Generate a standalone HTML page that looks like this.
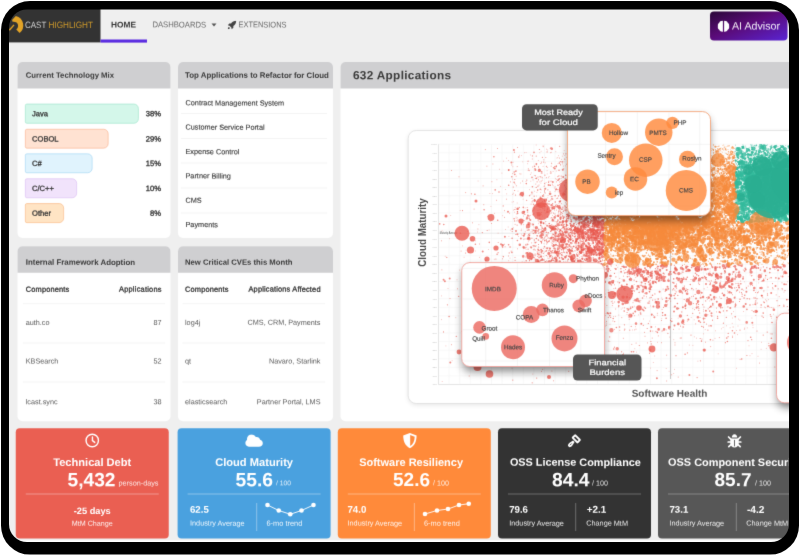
<!DOCTYPE html>
<html lang="en"><head><meta charset="utf-8"><title>CAST Highlight</title>
<style>
html,body{margin:0;padding:0;background:#fff;}
body{width:800px;height:556px;overflow:hidden;position:relative;font-family:"Liberation Sans",sans-serif;}
svg#ui{position:absolute;left:0;top:0;display:block;}
</style></head><body>
<svg id="ui" width="800" height="556" viewBox="0 0 800 556" font-family="Liberation Sans, sans-serif">
<defs>
<clipPath id="scr"><rect x="9" y="9.5" width="780" height="532.5" rx="18"/></clipPath>
<filter id="gb" filterUnits="userSpaceOnUse" x="0" y="0" width="800" height="556" color-interpolation-filters="sRGB"><feConvolveMatrix order="3" kernelMatrix="1 8 1 8 64 8 1 8 1" divisor="100" edgeMode="duplicate" preserveAlpha="false"/></filter>
</defs>
<rect x="1" y="1" width="798" height="553.6" rx="29" fill="#000"/>
<g clip-path="url(#scr)">
<g filter="url(#gb)">
<rect x="0" y="0" width="800" height="556" fill="#fff"/>
<rect x="0" y="0" width="800" height="540.4" fill="#efefef"/>
<rect x="0" y="0" width="100.5" height="42.4" fill="#333"/>
<path d="M12.05 20.1L15.8 15.9A9.85 9.85 0 0 1 19.6 33.1L16.3 29.4A4.3 4.3 0 0 0 16.6 22.6Q14.5 21.3 12.6 21.8Z" fill="#e2a327"/>
<path d="M9.3 30.2L14 24.9" stroke="#e2a327" stroke-width="1.4"/>
<rect x="100.5" y="39.5" width="46.5" height="3.1" fill="#5a2be0"/>
<path d="M211.5 23.6h5l-2.5 3z" fill="#555"/>
<svg x="227.5" y="20.5" width="9" height="9" viewBox="0 0 16 16"><path d="M15.5 0.5c-4 0-7 1.6-9.2 5H3.2L0.6 8.6l2.9 0.6 3.3 3.3 0.6 2.9 3-2.6V9.7c3.4-2.2 5.1-5.2 5.1-9.2zM2.5 11.5c-1.2 0.5-1.800 1.900-2 4 2.100-0.200 3.500-0.800 4-2z" fill="#444"/></svg>
<defs><linearGradient id="ai" x1="0" y1="0" x2="1" y2="1"><stop offset="0" stop-color="#2a0838"/><stop offset="0.45" stop-color="#5a0b78"/><stop offset="1" stop-color="#5a24d4"/></linearGradient></defs>
<rect x="710" y="11.5" width="77.5" height="29" rx="4" fill="url(#ai)"/>
<svg x="717.5" y="20.3" width="12" height="12" viewBox="0 0 12 12"><path d="M5.4 0.6C3.6 0.4 2.2 1.2 1.6 2.6 0.5 3.2 0 4.5 0.3 5.8-0.2 7.2 0.4 8.8 1.7 9.5 2.3 10.9 3.8 11.6 5.4 11.4z" fill="#fff"/><path d="M6.6 0.6C8.4 0.4 9.8 1.2 10.4 2.6 11.5 3.2 12 4.5 11.7 5.8 12.2 7.2 11.6 8.800 10.300 9.500 9.700 10.900 8.200 11.600 6.600 11.400z" fill="#fff"/></svg>
<rect x="17.5" y="62" width="153" height="176" rx="5" fill="#fff"/>
<path d="M22.5 62H165.5A5 5 0 0 1 170.5 67V88.6A0 0 0 0 1 170.5 88.6H17.5A0 0 0 0 1 17.5 88.6V67A5 5 0 0 1 22.5 62Z" fill="#cfcfd1"/>
<rect x="178" y="62" width="155" height="176" rx="5" fill="#fff"/>
<path d="M183 62H328A5 5 0 0 1 333 67V88.6A0 0 0 0 1 333 88.6H178A0 0 0 0 1 178 88.6V67A5 5 0 0 1 183 62Z" fill="#cfcfd1"/>
<rect x="17.5" y="246.25" width="153" height="175" rx="5" fill="#fff"/>
<path d="M22.5 246.25H165.5A5 5 0 0 1 170.5 251.25V272.85A0 0 0 0 1 170.5 272.85H17.5A0 0 0 0 1 17.5 272.85V251.25A5 5 0 0 1 22.5 246.25Z" fill="#cfcfd1"/>
<rect x="178" y="246.25" width="155" height="175" rx="5" fill="#fff"/>
<path d="M183 246.25H328A5 5 0 0 1 333 251.25V272.85A0 0 0 0 1 333 272.85H178A0 0 0 0 1 178 272.85V251.25A5 5 0 0 1 183 246.25Z" fill="#cfcfd1"/>
<rect x="340.5" y="62" width="459.5" height="359.25" rx="5" fill="#fff"/>
<path d="M345.5 62H795A5 5 0 0 1 800 67V88.6A0 0 0 0 1 800 88.6H340.5A0 0 0 0 1 340.5 88.6V67A5 5 0 0 1 345.5 62Z" fill="#cfcfd1"/>
<path d="M26.85 104.05H133.9A4.5 4.5 0 0 1 138.4 108.55V118.75A4.5 4.5 0 0 1 133.9 123.25H26.85A1.5 1.5 0 0 1 25.35 121.75V105.55A1.5 1.5 0 0 1 26.85 104.05Z" fill="#d4f7ea" stroke="#a5e6cf" stroke-width="0.7"/>
<path d="M26.85 129.25H103.65A4.5 4.5 0 0 1 108.15 133.75V143.65A4.5 4.5 0 0 1 103.65 148.15H26.85A1.5 1.5 0 0 1 25.35 146.65V130.75A1.5 1.5 0 0 1 26.85 129.25Z" fill="#ffe2d2" stroke="#f9b896" stroke-width="0.7"/>
<path d="M26.85 153.85H87.65A4.5 4.5 0 0 1 92.15 158.35V168.25A4.5 4.5 0 0 1 87.65 172.75H26.85A1.5 1.5 0 0 1 25.35 171.25V155.35A1.5 1.5 0 0 1 26.85 153.85Z" fill="#e0f3fd" stroke="#a9d8f3" stroke-width="0.7"/>
<path d="M26.85 178.75H72.15A4.5 4.5 0 0 1 76.65 183.25V193.25A4.5 4.5 0 0 1 72.15 197.75H26.85A1.5 1.5 0 0 1 25.35 196.25V180.25A1.5 1.5 0 0 1 26.85 178.75Z" fill="#f1e3fb" stroke="#dcc2f3" stroke-width="0.7"/>
<path d="M26.85 203.55H59.15A4.5 4.5 0 0 1 63.65 208.05V218.15A4.5 4.5 0 0 1 59.15 222.65H26.85A1.5 1.5 0 0 1 25.35 221.15V205.05A1.5 1.5 0 0 1 26.85 203.55Z" fill="#ffe4c4" stroke="#f9bd8c" stroke-width="0.7"/>
<rect x="181" y="113.1" width="146" height="0.8" fill="#f1f1f1"/>
<rect x="181" y="138.1" width="146" height="0.8" fill="#f1f1f1"/>
<rect x="181" y="162.6" width="146" height="0.8" fill="#f1f1f1"/>
<rect x="181" y="187.6" width="146" height="0.8" fill="#f1f1f1"/>
<rect x="181" y="212.6" width="146" height="0.8" fill="#f1f1f1"/>
<rect x="23" y="303.35" width="142" height="0.8" fill="#f1f1f1"/>
<rect x="23" y="342.6" width="142" height="0.8" fill="#f1f1f1"/>
<rect x="23" y="381.6" width="142" height="0.8" fill="#f1f1f1"/>
<rect x="182.5" y="303.35" width="142.5" height="0.8" fill="#f1f1f1"/>
<rect x="182.5" y="342.6" width="142.5" height="0.8" fill="#f1f1f1"/>
<rect x="182.5" y="381.6" width="142.5" height="0.8" fill="#f1f1f1"/>
<rect x="15.75" y="428.3" width="153" height="110.1" rx="4" fill="#ea5f52"/>
<svg x="84.75" y="433" width="15" height="15" viewBox="0 0 15 15"><circle cx="7.500" cy="7.500" r="6.200" fill="none" stroke="#fff" stroke-width="1.400"/><path d="M7.700 4V7.600L10 9.400" fill="none" stroke="#fff" stroke-width="1.400" stroke-linecap="round"/></svg>
<rect x="25.75" y="493.6" width="133" height="0.8" fill="#fff" fill-opacity="0.45"/>
<rect x="177.6" y="428.3" width="153" height="110.1" rx="4" fill="#4aa1df"/>
<svg x="245.1" y="434.2" width="18" height="13" viewBox="0 0 18 13"><path transform="translate(18 0) scale(-1 1)" d="M4.3 12.500C1.900 12.500 0.300 11 0.300 9 0.300 7.300 1.400 6 3 5.600 3.300 3.900 4.700 2.700 6.400 2.700 6.700 2.700 7 2.750 7.300 2.850 8.100 1.300 9.700 0.300 11.500 0.300 14.100 0.300 16.100 2.300 16.100 4.900 16.100 5.200 16.070 5.500 16.020 5.800 17.100 6.400 17.800 7.600 17.800 8.900 17.800 10.900 16.200 12.500 14.200 12.500z" fill="#fff"/></svg>
<rect x="187.6" y="493.6" width="133" height="0.8" fill="#fff" fill-opacity="0.45"/>
<rect x="256.35" y="503" width="0.8" height="28" fill="#fff" fill-opacity="0.45"/>
<polyline points="267.5,505 278.75,510.5 290.25,514.25 301.5,510.5 313.5,505" fill="none" stroke="#fff" stroke-width="0.9"/><g fill="#fff"><circle cx="267.5" cy="505" r="2.3"/><circle cx="278.75" cy="510.5" r="2.3"/><circle cx="290.25" cy="514.25" r="2.3"/><circle cx="301.5" cy="510.5" r="2.3"/><circle cx="313.5" cy="505" r="2.3"/></g>
<rect x="337.8" y="428.3" width="153" height="110.1" rx="4" fill="#ff8a3a"/>
<svg x="402.4" y="432.7" width="15" height="16" viewBox="0 0 15 16"><path d="M7.5 0.300L14.200 2.700C14.200 8.500 12.200 13 7.500 15.600 2.800 13 0.800 8.500 0.800 2.700z" fill="#fff"/><path d="M7.800 2.400L12.300 4C12.200 8.200 10.800 11.400 7.800 13.400z" fill="#ff8a3a"/></svg>
<rect x="347.8" y="493.6" width="133" height="0.8" fill="#fff" fill-opacity="0.45"/>
<rect x="413.9" y="503" width="0.8" height="28" fill="#fff" fill-opacity="0.45"/>
<polyline points="425,514 437,510.5 448,509 459,505 468.75,503.75" fill="none" stroke="#fff" stroke-width="0.9"/><g fill="#fff"><circle cx="425" cy="514" r="2.3"/><circle cx="437" cy="510.5" r="2.3"/><circle cx="448" cy="509" r="2.3"/><circle cx="459" cy="505" r="2.3"/><circle cx="468.75" cy="503.75" r="2.3"/></g>
<rect x="498" y="428.3" width="153" height="110.1" rx="4" fill="#333333"/>
<svg x="567" y="433.5" width="15" height="15" viewBox="0 0 15 15"><g transform="translate(9.3 5.300) rotate(45)"><rect x="-3.400" y="-1.800" width="6.800" height="3.600" rx="0.300" fill="none" stroke="#fff" stroke-width="1.900"/><path d="M-1.100 3.500H1.100L1.900 7.500C2.100 9.500 1.600 11 0 11C-1.600 11 -2.100 9.500 -1.900 7.500Z" fill="#fff"/><path d="M0 7V8.600" stroke="#333333" stroke-width="0.800" stroke-linecap="round"/></g></svg>
<rect x="508" y="493.6" width="133" height="0.8" fill="#fff" fill-opacity="0.35"/>
<rect x="575.35" y="503" width="0.8" height="28" fill="#fff" fill-opacity="0.35"/>
<rect x="658" y="428.3" width="153" height="110.1" rx="4" fill="#575757"/>
<svg x="727" y="433.1" width="15" height="15" viewBox="0 0 15 15"><g fill="none" stroke="#fff" stroke-width="1.700" stroke-linecap="round"><path d="M1.600 3.900L4 6.200M13.400 3.900L11 6.200M1.200 8.900H3.500M13.800 8.900H11.500M1.800 13.600L4 11.600M13.200 13.600L11 11.600"/></g><path d="M4.800 4.300C4.800 2.400 5.900 1.100 7.500 1.100 9.100 1.100 10.200 2.400 10.200 4.300z" fill="#fff"/><path d="M3.300 5.300H11.700V10.200C11.700 12.600 9.900 14.400 7.500 14.400 5.100 14.400 3.300 12.600 3.300 10.200z" fill="#fff"/><path d="M7.500 6.800V13.200" stroke="#575757" stroke-width="0.900"/></svg>
<rect x="668" y="493.6" width="133" height="0.8" fill="#fff" fill-opacity="0.35"/>
<rect x="735.85" y="503" width="0.8" height="28" fill="#fff" fill-opacity="0.35"/>
<g id="chart">
<defs><filter id="sh" x="-20%" y="-20%" width="140%" height="150%"><feGaussianBlur stdDeviation="4"/></filter><filter id="sh2" x="-10%" y="-10%" width="120%" height="120%"><feGaussianBlur stdDeviation="2.5"/></filter><clipPath id="pc"><rect x="438.5" y="144" width="362" height="240.5"/></clipPath></defs>
<rect x="408.2" y="130.5" width="420" height="273" rx="8" fill="#000" opacity="0.10" filter="url(#sh2)" transform="translate(0,1.5)"/>
<rect x="408.2" y="130.5" width="420" height="273" rx="8" fill="#fff" stroke="#dedede" stroke-width="0.8"/>
<path d="M438.5 144.25V384.5M449.1 144.25V384.5M459.7 144.25V384.5M470.3 144.25V384.5M480.9 144.25V384.5M491.5 144.25V384.5M502.1 144.25V384.5M512.7 144.25V384.5M523.3 144.25V384.5M533.9 144.25V384.5M544.5 144.25V384.5M555.1 144.25V384.5M565.7 144.25V384.5M576.3 144.25V384.5M586.9 144.25V384.5M597.5 144.25V384.5M608.1 144.25V384.5M618.7 144.25V384.5M629.3 144.25V384.5M639.9 144.25V384.5M650.5 144.25V384.5M661.1 144.25V384.5M671.7 144.25V384.5M682.3 144.25V384.5M692.9 144.25V384.5M703.5 144.25V384.5M714.1 144.25V384.5M724.7 144.25V384.5M735.3 144.25V384.5M745.9 144.25V384.5M756.5 144.25V384.5M767.1 144.25V384.5M777.7 144.25V384.5M788.3 144.25V384.5M798.9 144.25V384.5M438.5 144.2H800M438.5 152.8H800M438.5 161.4H800M438.5 170.0H800M438.5 178.6H800M438.5 187.2H800M438.5 195.7H800M438.5 204.3H800M438.5 212.9H800M438.5 221.5H800M438.5 230.1H800M438.5 238.6H800M438.5 247.2H800M438.5 255.8H800M438.5 264.4H800M438.5 273.0H800M438.5 281.5H800M438.5 290.1H800M438.5 298.7H800M438.5 307.3H800M438.5 315.9H800M438.5 324.4H800M438.5 333.0H800M438.5 341.6H800M438.5 350.2H800M438.5 358.8H800M438.5 367.3H800M438.5 375.9H800M438.5 384.5H800" stroke="#f4f4f4" stroke-width="0.6" fill="none"/>
<path d="M438.5 144.25V384.5H800" stroke="#dcdcdc" stroke-width="0.7" fill="none"/>
<g font-size="2.300" fill="#c0c0c0" text-anchor="end"><text x="437" y="145.2">100%</text><text x="437" y="153.7">97%</text><text x="437" y="162.3">94%</text><text x="437" y="170.9">91%</text><text x="437" y="179.5">88%</text><text x="437" y="188.1">85%</text><text x="437" y="196.6">82%</text><text x="437" y="205.2">79%</text><text x="437" y="213.8">76%</text><text x="437" y="222.4">73%</text><text x="437" y="231.0">70%</text><text x="437" y="239.5">67%</text><text x="437" y="248.1">64%</text><text x="437" y="256.7">61%</text><text x="437" y="265.3">58%</text><text x="437" y="273.9">55%</text><text x="437" y="282.4">52%</text><text x="437" y="291.0">49%</text><text x="437" y="299.6">46%</text><text x="437" y="308.2">43%</text><text x="437" y="316.8">40%</text><text x="437" y="325.3">37%</text><text x="437" y="333.9">34%</text><text x="437" y="342.5">31%</text><text x="437" y="351.1">28%</text><text x="437" y="359.6">25%</text><text x="437" y="368.2">22%</text><text x="437" y="376.8">19%</text><text x="437" y="385.4">16%</text></g>
<path d="M438.500 233.200H800" stroke="#d8d8d8" stroke-width="0.600"/>
<path d="M670.500 144.200V379" stroke="#9a9a9a" stroke-width="0.550"/>
<text x="439.800" y="234.300" font-size="3" fill="#666" textLength="17.500" lengthAdjust="spacingAndGlyphs">Maturity Average</text>
<g clip-path="url(#pc)" fill="none" stroke-linecap="round">
<path d="M780.3 178.5h0M757.3 181.6h0M763.2 152.9h0M767.4 153.3h0M777.2 163.3h0M781.2 146.7h0M782.9 160.9h0M745.0 180.2h0M769.4 178.4h0M780.7 169.5h0M761.6 152.6h0M776.6 146.5h0M742.8 172.1h0M774.0 156.9h0M736.2 168.1h0M791.5 212.8h0M787.5 204.9h0M783.8 161.8h0M786.5 149.5h0M748.4 168.0h0M788.6 154.7h0M776.2 201.4h0M773.5 171.7h0M751.3 155.0h0M794.4 172.4h0M770.1 212.8h0M748.0 184.4h0M748.0 151.2h0M751.1 174.3h0M783.6 148.3h0M783.3 210.3h0M777.3 198.1h0M789.1 219.5h0M737.2 162.7h0M770.8 162.8h0M779.1 164.5h0M737.5 148.5h0M736.5 175.0h0M785.0 179.5h0M745.8 162.3h0M762.5 155.0h0M754.9 181.1h0M766.3 175.1h0M772.8 161.0h0M799.1 148.7h0M760.5 161.8h0M745.6 182.4h0M744.3 168.9h0M774.5 186.7h0M775.4 149.6h0M742.7 159.1h0M777.0 153.6h0M757.8 158.9h0M760.5 163.9h0M792.3 168.6h0M751.9 148.5h0M769.6 152.3h0M772.1 163.7h0M799.6 178.9h0M776.0 190.0h0M776.1 165.7h0M742.9 144.8h0M735.6 157.7h0M779.4 175.0h0M789.9 180.4h0M790.0 174.2h0M798.3 178.5h0M783.9 159.5h0M738.6 157.9h0M776.2 165.6h0M787.1 188.8h0M738.2 150.6h0M754.7 160.3h0M778.1 158.5h0M759.0 151.7h0M745.9 189.6h0M739.9 166.1h0M772.8 182.8h0M785.1 182.4h0M779.9 202.1h0M741.5 168.5h0M741.0 203.1h0M769.2 188.5h0M765.1 164.0h0M751.0 181.0h0M781.6 172.2h0M782.9 180.2h0M738.5 150.8h0M768.9 180.7h0M749.5 169.2h0M745.7 147.2h0" stroke="#33ba9c" stroke-width="0.60" stroke-opacity="0.8"/>
<path d="M747.5 153.4h0M762.4 148.7h0M748.5 158.7h0M753.5 177.3h0M767.5 155.9h0M770.9 185.6h0M767.7 161.5h0M771.7 166.3h0M771.6 167.1h0M761.4 187.0h0M759.5 199.1h0M737.2 208.7h0M779.0 170.2h0M782.9 187.1h0M737.3 167.8h0M751.1 177.1h0M789.3 154.4h0M767.6 221.3h0M747.9 155.2h0M782.9 185.0h0M767.2 155.4h0M793.4 185.6h0M778.8 160.2h0M766.6 153.7h0M758.4 176.5h0M763.9 154.3h0M760.9 192.9h0M759.1 174.3h0M784.9 158.6h0M761.5 170.5h0M784.7 162.4h0M791.1 176.1h0M773.8 152.8h0M773.1 188.5h0M764.4 183.3h0M777.9 146.4h0M745.1 196.0h0M749.3 161.5h0M797.4 152.2h0M767.4 174.3h0M749.5 191.5h0M784.1 165.1h0M764.0 164.2h0M789.5 152.6h0M735.2 172.0h0M763.6 169.7h0M757.9 200.8h0M775.7 149.6h0M754.5 155.9h0M749.8 181.2h0M766.2 168.8h0M737.2 191.0h0M785.8 157.1h0M735.0 192.4h0M756.5 175.7h0M752.6 152.3h0M779.1 184.5h0M761.4 182.7h0M784.2 158.3h0M758.7 167.2h0M792.1 183.5h0M789.5 188.6h0M764.1 206.8h0M774.3 169.1h0M741.2 185.9h0M771.7 156.6h0M771.1 174.3h0M775.8 157.3h0M767.5 202.5h0M786.7 215.5h0M745.0 166.3h0M757.3 172.0h0M774.2 212.2h0M759.2 156.2h0M756.0 180.0h0M746.5 171.1h0M737.5 177.9h0M756.1 177.9h0M774.5 172.7h0M795.0 175.2h0M739.9 172.2h0M761.1 190.8h0M753.7 151.3h0M781.7 180.3h0M773.7 161.6h0M742.1 154.9h0M777.7 185.9h0M798.8 165.0h0M737.0 174.3h0M750.5 165.9h0M779.2 163.3h0M736.2 199.8h0M749.3 207.1h0M735.7 198.9h0M758.4 151.9h0M774.0 163.0h0M735.1 209.6h0M783.5 156.4h0M785.1 163.9h0M742.7 175.4h0M765.1 163.8h0M779.3 208.6h0M786.7 151.7h0M770.5 172.1h0M779.9 175.3h0M787.1 174.8h0M790.3 173.2h0M781.5 194.0h0M775.9 173.7h0M737.1 201.0h0M745.6 195.9h0M774.4 155.8h0M779.5 154.1h0M771.4 163.7h0M752.9 176.5h0M771.7 172.3h0M773.0 153.2h0M794.6 172.7h0M769.0 173.7h0M770.1 181.4h0M778.6 166.5h0M780.8 175.0h0M757.3 206.5h0M780.4 170.7h0M762.2 177.1h0M764.0 196.1h0M741.8 146.5h0M779.3 195.8h0M791.5 170.6h0M767.8 170.0h0M780.3 183.5h0M780.2 191.5h0M749.1 216.8h0M753.3 186.6h0M753.8 169.1h0M790.4 166.6h0M760.9 214.4h0M779.8 158.9h0M756.0 166.7h0M742.2 178.4h0M741.1 148.7h0M772.0 214.9h0M750.3 164.9h0M764.8 162.3h0M738.8 182.1h0M754.8 157.1h0M750.2 166.4h0M789.5 197.1h0M752.2 176.9h0M753.5 158.3h0M770.2 191.0h0M763.6 184.7h0M743.3 191.3h0M757.8 178.7h0M761.3 169.7h0M772.7 186.3h0M743.8 176.0h0M738.0 178.8h0M774.7 175.3h0M743.5 158.1h0M771.7 175.4h0M742.1 204.4h0M795.6 154.6h0M765.1 170.1h0M775.2 197.1h0M758.7 194.0h0M780.6 168.5h0M747.0 152.8h0M769.3 153.5h0M740.1 178.0h0M778.2 174.4h0M742.2 163.5h0M735.2 211.2h0M774.9 155.6h0M766.3 195.8h0M762.9 190.4h0M758.2 188.2h0M782.0 170.9h0M788.3 151.4h0M794.8 185.4h0M785.6 154.3h0M782.0 208.6h0M775.7 180.3h0M744.3 163.4h0M789.6 163.4h0M743.6 163.9h0M762.0 177.0h0M749.8 216.8h0M737.3 173.6h0M743.5 165.0h0M741.1 220.2h0M771.8 164.1h0M756.6 220.9h0M779.8 174.2h0M743.3 184.1h0M766.7 159.7h0M745.6 160.8h0M786.4 174.5h0M791.2 177.0h0M756.8 192.9h0M758.3 146.9h0M763.1 172.6h0M786.0 192.3h0M770.6 167.8h0M754.8 147.7h0M745.8 185.3h0M758.5 173.3h0M788.7 179.9h0M768.8 185.8h0M763.8 192.8h0M768.3 150.6h0M771.1 168.7h0M755.4 146.0h0M797.8 170.9h0M765.2 156.2h0M752.7 181.6h0M738.2 167.9h0M761.9 174.2h0M789.4 168.6h0M753.9 176.5h0" stroke="#33ba9c" stroke-width="0.90" stroke-opacity="0.8"/>
<path d="M727.6 192.5h0M660.1 167.4h0M725.2 189.9h0M726.4 154.1h0M717.6 173.1h0M796.1 263.5h0M609.4 232.3h0M622.8 220.2h0M725.9 159.0h0M627.2 161.7h0M665.5 238.6h0M724.7 195.3h0M788.1 247.1h0M710.6 161.5h0M639.3 213.7h0M705.3 255.7h0M721.7 161.2h0M674.0 177.3h0M730.8 214.8h0M622.3 195.9h0M623.9 197.4h0M624.0 183.7h0M617.5 186.2h0M671.8 256.6h0M613.5 250.3h0M725.2 200.0h0M638.1 213.3h0M665.5 176.3h0M693.2 219.7h0M703.4 264.2h0M734.6 175.9h0M697.3 231.4h0M690.5 249.1h0M659.0 204.8h0M611.1 185.0h0M603.6 228.9h0M662.6 176.3h0M704.7 191.3h0M611.8 162.8h0M616.9 244.5h0M626.2 209.3h0M700.5 262.8h0M661.2 210.2h0M628.6 221.5h0M717.6 199.9h0M614.8 222.8h0M713.6 220.6h0M670.9 211.2h0M723.5 169.0h0M611.5 171.0h0M698.9 212.1h0M697.2 216.3h0M687.6 190.8h0M697.9 242.7h0M711.3 188.8h0M641.5 193.7h0M647.9 187.1h0M653.4 178.5h0M724.0 160.1h0M623.9 231.1h0M734.6 156.1h0M646.7 228.3h0M724.5 200.6h0M628.3 174.4h0M608.1 164.2h0M730.9 185.4h0M712.2 175.0h0M655.8 206.0h0M780.9 240.6h0M616.4 213.1h0M700.6 183.8h0M716.4 230.0h0M744.6 224.6h0M719.4 217.7h0M678.0 229.2h0M608.6 196.3h0M660.1 262.0h0M649.3 148.4h0M788.6 227.0h0M729.8 172.1h0M697.9 179.1h0M622.3 211.9h0M741.0 262.8h0M637.5 182.9h0M627.5 242.5h0M706.0 165.1h0M613.1 262.0h0M656.8 159.1h0M612.8 221.8h0M713.4 191.8h0M675.1 190.9h0M606.7 228.8h0M618.6 209.3h0M670.8 198.3h0M621.8 225.3h0M722.7 169.8h0M619.1 245.5h0M611.9 222.6h0M722.3 201.4h0M615.9 195.3h0M675.0 183.7h0M734.0 185.6h0M674.8 183.3h0M677.9 215.0h0M606.0 226.3h0M608.9 220.6h0M660.8 207.3h0M613.4 214.0h0M704.7 172.5h0M657.5 244.0h0M630.8 212.2h0M635.7 218.8h0M644.9 193.0h0M626.1 183.9h0M698.1 153.2h0M610.3 223.8h0M713.3 192.0h0M725.3 182.3h0M617.0 228.0h0M717.4 179.8h0M708.4 199.6h0M648.9 169.8h0M636.0 261.5h0M728.0 149.7h0M648.0 188.5h0M665.7 180.2h0M607.3 245.5h0M648.7 171.8h0M605.6 225.3h0M734.2 188.8h0M667.2 202.9h0M688.5 190.2h0M752.8 232.0h0M673.1 183.9h0M710.9 209.2h0M671.0 200.9h0M690.9 165.8h0M620.6 159.8h0M734.6 155.3h0M627.8 198.2h0M656.5 156.1h0M614.7 258.3h0M621.3 210.7h0M703.3 213.8h0M695.2 192.0h0M652.8 221.2h0M662.7 177.4h0M616.9 188.5h0M654.3 242.6h0M726.8 167.6h0M634.1 222.7h0M612.4 245.7h0M621.7 250.4h0M676.3 194.6h0M618.7 236.3h0M769.8 226.2h0M722.3 179.3h0M672.8 195.8h0M716.0 182.7h0M709.2 188.1h0M719.9 255.4h0M672.6 159.1h0M729.9 237.4h0M648.0 199.6h0M607.4 218.9h0M683.0 188.9h0M712.6 184.2h0M715.6 208.0h0M639.1 199.4h0M632.4 234.9h0M685.6 242.9h0M704.2 204.3h0M718.1 149.0h0M657.8 205.5h0M651.8 251.9h0M644.6 264.5h0M626.7 180.3h0M634.9 220.3h0M700.8 187.0h0M723.4 187.1h0M617.5 186.4h0M623.1 200.5h0M610.3 222.9h0M666.0 195.0h0M701.6 250.2h0M756.1 248.0h0M730.6 175.4h0M747.7 242.5h0M616.3 196.9h0M716.2 177.2h0M756.4 242.5h0M706.3 181.0h0M633.3 162.7h0M612.3 211.3h0M643.9 186.1h0M619.3 212.3h0M729.6 172.7h0M638.6 188.4h0M734.7 168.5h0M715.4 173.7h0M728.6 172.4h0M614.2 239.9h0M690.2 191.5h0M628.8 215.6h0M760.8 235.9h0M744.8 259.1h0M646.1 257.7h0M607.6 243.0h0M708.6 155.2h0M672.2 175.7h0M604.4 240.4h0M618.4 226.9h0M685.0 229.9h0M614.7 175.0h0M666.8 184.1h0M730.3 170.0h0M682.5 208.8h0M729.2 195.4h0M729.1 186.2h0M742.0 223.8h0" stroke="#f68a3c" stroke-width="0.90" stroke-opacity="0.74"/>
<path d="M788.4 202.1h0M777.4 169.4h0M758.5 172.8h0M793.3 194.8h0M771.2 208.9h0M778.7 190.0h0M763.5 163.6h0M791.0 175.9h0M735.7 215.6h0M788.7 183.4h0M751.4 184.3h0M736.9 216.5h0M757.1 192.6h0M797.0 198.2h0M777.2 150.0h0M786.4 171.6h0M748.9 172.0h0M764.1 186.5h0M781.9 192.1h0M766.8 166.4h0M770.3 164.1h0M762.4 171.0h0M774.0 192.6h0M791.4 183.4h0M750.0 170.6h0M763.6 169.5h0M766.5 182.6h0M783.5 175.2h0M745.3 217.2h0M765.1 177.4h0M741.6 219.0h0M752.4 217.1h0M770.3 218.0h0M741.5 205.5h0M754.2 161.4h0M764.3 173.2h0M747.5 197.5h0M781.5 198.2h0M770.4 187.4h0M780.7 204.0h0M760.4 172.9h0M748.6 213.8h0M737.0 182.2h0M761.4 210.6h0M768.0 201.6h0M776.2 206.1h0M746.9 215.6h0M762.4 179.3h0M796.8 213.3h0M776.0 170.6h0M758.6 174.5h0M779.5 177.0h0M789.1 184.3h0M783.6 186.5h0M756.0 220.8h0M757.2 197.2h0M766.6 193.1h0M774.6 190.6h0M783.0 188.5h0M763.0 203.8h0M767.1 211.5h0M786.9 182.8h0M778.8 178.8h0M786.1 217.8h0M787.2 169.9h0M752.5 189.6h0M740.6 183.9h0M762.9 202.3h0M741.9 204.8h0M777.8 176.0h0M786.7 202.1h0M775.7 175.0h0M770.5 165.9h0M769.4 193.0h0M761.1 203.5h0M783.3 162.2h0M749.5 176.3h0M775.5 212.9h0M768.3 215.8h0M767.2 175.5h0M778.5 149.2h0M767.0 204.6h0M786.3 175.2h0M789.2 178.5h0M771.0 202.8h0M786.3 175.2h0M775.7 174.0h0M774.4 191.2h0M766.4 168.8h0M797.7 184.3h0M773.4 192.2h0M788.3 195.5h0M798.6 177.9h0M792.6 180.3h0M748.0 179.8h0M753.0 165.4h0M741.8 178.7h0M744.1 163.9h0M770.5 174.6h0M762.1 173.7h0M762.0 192.3h0M771.5 187.4h0M752.7 180.9h0M749.0 195.9h0M752.5 166.0h0M764.1 184.5h0M756.9 182.6h0M798.2 174.1h0M765.6 170.4h0M790.8 189.6h0M762.0 161.4h0M794.3 189.9h0M767.7 198.6h0M747.1 187.2h0M773.4 153.0h0M751.2 188.9h0M767.3 161.5h0M735.0 193.5h0M790.4 210.1h0M786.8 160.8h0M787.3 183.4h0M780.3 156.0h0M775.2 203.5h0M758.0 194.1h0M773.8 189.8h0M785.3 189.1h0M759.1 178.9h0M753.3 180.9h0M735.8 172.3h0M744.2 201.9h0M774.6 147.4h0M775.2 184.6h0M772.3 186.1h0M773.0 197.0h0M737.2 168.4h0M758.6 192.9h0M787.0 175.6h0M779.8 173.4h0M761.1 185.9h0M779.5 198.9h0M762.0 202.0h0M786.5 174.2h0M778.6 175.9h0M795.7 203.8h0M793.0 217.2h0M799.0 181.6h0M757.0 201.9h0M767.6 203.4h0M752.0 152.3h0M782.2 181.0h0M735.8 180.6h0M771.4 168.3h0M778.4 180.8h0M744.4 173.6h0M798.7 185.5h0M788.4 189.0h0M793.5 183.8h0M743.3 166.7h0M739.4 164.3h0M786.1 178.4h0M778.8 191.3h0M780.5 199.9h0M745.0 179.1h0M752.2 181.1h0M769.8 170.9h0M748.1 168.0h0M780.3 203.5h0M773.1 184.7h0M790.7 167.9h0M758.3 192.9h0M772.1 201.8h0M769.8 192.7h0M763.7 163.7h0M750.9 154.9h0M740.4 196.2h0M774.8 214.5h0M739.2 199.3h0M749.7 195.0h0M754.3 164.1h0M770.3 208.5h0M748.6 165.1h0M770.9 202.6h0M743.7 157.6h0M788.7 146.5h0M766.2 193.4h0M735.8 213.1h0M790.4 184.3h0M773.7 194.5h0M767.8 208.7h0M784.5 192.7h0M786.9 194.8h0M773.5 182.0h0M758.5 193.2h0M751.8 212.1h0M746.0 165.5h0M770.6 180.7h0M799.5 191.3h0M761.2 183.9h0M747.4 184.7h0M792.4 175.8h0M763.4 207.6h0M768.2 213.7h0M787.5 204.2h0M762.1 207.3h0M779.8 175.8h0M752.5 181.6h0M743.1 147.1h0M792.5 195.0h0M775.0 165.0h0M789.7 170.3h0M760.9 161.0h0M766.5 218.0h0M784.9 175.3h0M787.5 195.7h0M741.7 221.0h0M788.3 156.0h0M771.1 180.5h0M742.3 167.9h0M760.3 184.5h0M750.3 162.1h0" stroke="#33ba9c" stroke-width="2.60" stroke-opacity="0.8"/>
<path d="M712.4 225.1h0M741.2 243.2h0M653.5 226.4h0M650.8 191.8h0M616.6 207.1h0M715.9 179.1h0M659.8 223.5h0M755.5 227.3h0M698.8 203.4h0M626.0 207.3h0M769.0 227.4h0M713.4 218.2h0M657.9 240.6h0M671.4 231.2h0M632.3 212.1h0M654.8 228.8h0M623.4 229.6h0M612.1 242.5h0M619.8 243.2h0M606.9 240.8h0M708.8 187.9h0M687.8 205.2h0M724.2 241.3h0M659.8 253.5h0M614.2 199.2h0M690.6 211.4h0M716.3 224.1h0M769.3 242.3h0M703.0 212.4h0M698.3 240.8h0M720.2 199.5h0M658.5 225.0h0M630.1 232.7h0M693.4 216.8h0M603.6 252.1h0M621.1 214.5h0M650.7 185.4h0M730.7 175.8h0M718.1 200.7h0M617.3 229.7h0M644.4 233.8h0M702.0 255.0h0M660.0 228.4h0M622.9 232.7h0M628.4 209.2h0M781.4 225.6h0M706.2 225.8h0M744.6 232.2h0M670.6 228.4h0M653.3 235.2h0M670.9 225.7h0M610.4 230.4h0M739.2 234.5h0M646.9 221.6h0M611.4 228.2h0M637.9 227.2h0M619.6 254.4h0M724.2 241.4h0M705.4 211.3h0M719.6 185.2h0M612.4 221.2h0M644.3 224.8h0M695.3 183.6h0M716.2 222.0h0M714.3 168.3h0M730.0 186.2h0M650.3 171.9h0M654.7 219.8h0M707.2 247.6h0M734.7 209.9h0M725.3 190.6h0M676.0 229.9h0M703.1 235.3h0M711.8 250.9h0M646.8 205.4h0M757.0 239.2h0M634.6 202.9h0M652.5 224.3h0M764.7 225.8h0M617.1 245.7h0M757.0 254.0h0M639.3 182.3h0M620.8 247.9h0M725.5 255.0h0M720.0 219.6h0M726.7 208.2h0M707.1 203.1h0M638.6 196.5h0M668.9 205.4h0M720.3 197.2h0M654.0 199.3h0M689.9 225.2h0M630.7 252.5h0M616.9 241.4h0M706.1 263.8h0M605.7 259.6h0M718.1 232.4h0M743.3 232.4h0M651.3 235.8h0M751.6 239.0h0M763.5 253.2h0M639.9 226.3h0M723.5 180.6h0M749.5 230.8h0M640.2 208.1h0M663.1 209.8h0M654.7 188.0h0M614.0 226.2h0M693.3 219.0h0M737.3 231.2h0M697.6 222.7h0M728.7 255.0h0M626.7 231.5h0M665.8 201.7h0M732.1 253.4h0M612.4 240.0h0M663.0 209.6h0M656.0 252.7h0M734.1 248.7h0M644.1 213.5h0M656.3 222.1h0M694.9 261.0h0M682.6 224.6h0M637.0 219.9h0M693.9 232.1h0M721.1 197.6h0M636.3 244.3h0M756.5 230.5h0M696.6 196.7h0M675.0 236.7h0M698.1 219.2h0M646.4 212.4h0M726.0 238.7h0M787.4 250.7h0M630.0 219.2h0M694.6 263.4h0M718.1 204.5h0M671.1 193.9h0M644.9 226.4h0M686.5 188.7h0M636.8 247.1h0M763.6 260.4h0M657.1 245.9h0M669.8 221.5h0M632.8 248.1h0M689.6 216.2h0M653.4 240.3h0M616.0 228.2h0M676.2 214.7h0M639.0 224.6h0M621.6 211.9h0M646.4 199.6h0M672.9 236.9h0M623.9 219.1h0M671.4 193.1h0M691.1 221.8h0M686.2 232.7h0M685.6 222.4h0M734.0 199.0h0M701.2 208.7h0M651.5 221.1h0M760.0 226.3h0" stroke="#f68a3c" stroke-width="2.00" stroke-opacity="0.74"/>
<path d="M644.1 167.1h0M638.5 226.3h0M616.9 227.0h0M621.9 228.2h0M701.8 223.3h0M634.5 248.9h0M619.3 210.0h0M618.4 227.8h0M719.2 205.1h0M691.5 184.8h0M688.4 174.6h0M718.2 204.9h0M677.5 196.0h0M626.7 201.9h0M732.6 184.3h0M701.2 206.3h0M689.3 227.6h0M733.5 255.2h0M726.6 184.4h0M606.4 213.2h0M632.2 188.0h0M618.1 231.3h0M683.8 199.4h0M712.7 208.6h0M695.2 158.7h0M618.5 160.3h0M709.3 152.7h0M717.0 151.8h0M607.6 169.2h0M614.1 225.9h0M716.3 200.4h0M700.2 155.6h0M664.6 181.2h0M698.1 184.9h0M699.8 184.6h0M672.7 189.6h0M652.1 150.3h0M700.5 153.3h0M718.3 168.7h0M690.0 209.3h0M639.8 230.1h0M698.6 174.3h0M652.0 165.9h0M749.9 252.7h0M610.6 193.3h0M635.5 231.1h0M632.6 200.9h0M701.7 149.7h0M649.1 209.3h0M643.9 173.1h0M692.7 235.4h0M697.9 153.6h0M713.2 200.6h0M649.9 203.4h0M610.7 208.3h0M613.9 226.4h0M622.7 213.5h0M711.5 256.2h0M691.5 236.0h0M678.5 199.2h0M721.8 170.6h0M784.4 235.8h0M703.7 214.2h0M610.7 247.4h0M657.5 180.7h0M700.8 190.8h0M617.5 237.6h0M727.7 194.5h0M676.6 186.2h0M678.9 228.8h0M678.2 159.1h0M743.8 244.6h0M625.8 219.0h0M603.9 179.4h0M631.4 220.4h0M723.2 155.6h0M682.6 177.9h0M679.3 183.4h0M687.5 255.5h0M722.6 149.1h0M669.3 257.3h0M629.2 256.4h0M727.7 187.1h0M720.1 192.6h0M727.7 188.7h0M705.5 227.3h0M757.4 239.2h0M705.5 200.4h0M618.1 220.2h0M648.6 214.2h0M730.3 170.9h0M636.2 192.7h0M606.6 239.5h0M703.1 176.6h0M688.9 179.9h0M724.0 165.2h0M683.6 195.9h0M755.7 260.0h0M719.5 196.5h0M743.8 232.5h0M605.8 154.5h0M721.4 193.7h0M728.2 162.2h0M640.9 239.8h0M725.7 201.5h0M632.6 245.5h0M657.4 162.4h0M720.5 181.1h0M732.5 185.9h0M725.2 164.7h0M642.5 236.9h0M647.5 196.3h0M775.7 225.5h0M723.6 200.0h0M683.3 160.0h0M730.0 234.5h0M682.1 210.3h0M788.5 263.7h0M713.8 186.0h0M796.5 223.5h0M710.7 178.3h0M688.9 222.5h0M713.5 149.6h0M727.3 184.8h0M685.3 226.9h0M734.5 193.1h0M702.2 164.9h0M669.5 157.3h0M684.6 264.4h0M617.6 196.6h0M666.2 217.9h0M707.3 206.4h0M726.5 191.1h0M713.4 182.7h0M729.2 155.7h0M710.1 178.8h0M665.9 228.4h0M705.1 183.5h0M660.0 218.8h0M607.1 251.0h0M714.4 178.8h0M694.4 184.8h0M670.2 214.4h0M617.3 218.8h0M621.6 231.8h0M705.9 180.2h0M616.8 237.7h0M682.8 232.3h0M731.3 223.3h0M695.4 240.1h0M719.6 199.3h0M693.1 245.3h0M718.8 158.1h0M693.2 150.0h0M690.3 163.1h0M665.7 178.0h0M707.2 223.6h0M607.7 181.0h0M711.3 155.8h0M664.5 236.4h0M641.1 179.7h0M621.3 200.5h0M728.3 153.2h0M730.0 211.4h0M715.7 183.4h0M733.3 240.3h0M701.7 194.0h0M728.0 190.0h0M613.9 243.0h0M666.1 215.3h0M620.2 216.9h0M637.9 173.0h0M725.6 202.3h0M735.0 189.6h0M718.1 177.7h0M714.8 188.2h0M726.8 243.8h0M620.0 220.7h0M750.9 231.9h0M725.2 202.8h0M614.7 197.5h0M709.7 206.7h0M683.6 198.7h0M665.9 191.2h0M609.1 193.4h0M718.3 205.8h0M716.6 192.3h0M724.2 218.1h0M609.2 179.7h0M733.8 183.9h0M721.5 183.6h0M609.1 228.1h0M638.9 194.9h0M688.2 198.1h0M643.4 204.5h0M613.9 216.9h0M604.5 265.0h0M720.2 156.4h0M675.1 185.4h0M606.5 222.1h0M605.9 205.3h0M711.9 163.5h0M744.2 258.1h0M639.0 177.1h0M628.6 186.8h0M714.0 174.9h0M622.1 199.4h0M696.9 207.6h0M660.8 223.4h0M619.4 215.3h0M633.8 212.2h0M743.2 253.0h0M658.6 248.7h0M697.8 216.5h0M676.7 231.5h0M604.0 205.7h0M724.3 210.2h0M659.4 196.5h0M773.4 234.5h0M672.6 210.6h0" stroke="#f68a3c" stroke-width="0.90" stroke-opacity="0.74"/>
<path d="M662.2 191.2h0M663.8 204.7h0M656.9 202.1h0M761.4 226.6h0M770.1 247.3h0M667.6 178.9h0M783.0 256.5h0M657.1 178.2h0M747.6 253.8h0M708.8 193.3h0M654.6 159.2h0M716.3 227.2h0M614.0 244.9h0M727.4 224.6h0M645.7 212.8h0M711.0 248.6h0M698.1 180.5h0M657.3 175.1h0M627.0 246.3h0M719.1 156.2h0M734.1 239.2h0M686.7 238.3h0M633.3 192.0h0M619.4 189.7h0M726.7 190.2h0M680.8 217.7h0M729.5 246.1h0M698.8 239.7h0M656.3 208.4h0M689.3 144.9h0M706.7 160.0h0M618.0 243.6h0M651.1 189.5h0M691.4 205.9h0M620.9 158.4h0M724.4 197.1h0M698.5 146.2h0M640.4 238.5h0M640.3 184.5h0M706.4 217.2h0M762.9 234.9h0M744.5 233.0h0M756.7 248.8h0M654.0 216.4h0M609.9 204.4h0M634.2 248.3h0M728.0 262.7h0M745.7 244.5h0M686.1 210.7h0M700.9 202.4h0M705.2 240.1h0M699.7 213.7h0M774.4 244.9h0M707.5 186.8h0M638.3 233.0h0M732.3 146.7h0M607.8 190.1h0M639.0 243.2h0M734.5 185.3h0M606.0 247.0h0M702.0 205.9h0M792.2 236.9h0M706.9 200.5h0M733.7 174.5h0M747.4 255.2h0M649.7 240.6h0M709.3 173.9h0M722.5 164.1h0M646.2 199.8h0M728.7 199.9h0M709.6 192.6h0M629.8 190.1h0M668.6 192.7h0M626.1 198.2h0M639.2 224.6h0M636.1 185.5h0M659.2 249.5h0M646.9 173.1h0M710.5 200.2h0M648.3 255.5h0M705.0 178.3h0M660.0 238.8h0M729.8 208.7h0M616.8 209.1h0M738.6 223.1h0M692.9 207.3h0M675.8 193.9h0M625.7 250.4h0M669.3 177.8h0M724.1 221.3h0M638.4 246.2h0M729.9 242.5h0M741.2 238.7h0M698.6 171.6h0M712.9 181.2h0M736.7 250.0h0M703.2 237.0h0M650.0 239.2h0M702.2 211.2h0M752.1 231.5h0M654.8 174.0h0M727.2 162.9h0M713.5 152.8h0M691.9 232.4h0M645.2 195.9h0M624.0 224.0h0M628.8 207.2h0M673.4 221.2h0M649.3 250.0h0M655.3 211.6h0M633.4 207.4h0M733.0 154.2h0M731.5 178.5h0M654.7 191.7h0M668.4 242.0h0M730.1 203.1h0M727.1 225.8h0M714.9 176.6h0M605.1 227.0h0M639.7 231.8h0M628.6 203.7h0M647.1 235.3h0M652.4 220.8h0M635.3 222.7h0M671.4 162.0h0M729.1 199.9h0M713.2 251.9h0M678.6 206.5h0M654.9 250.4h0M742.3 248.8h0M675.9 227.4h0M738.5 229.5h0M670.9 227.2h0M645.7 237.7h0M632.7 222.4h0M644.5 202.9h0M733.7 163.9h0M613.7 240.7h0M606.4 231.0h0M616.3 201.6h0M606.1 169.7h0M732.4 174.3h0M724.2 171.7h0M651.4 187.6h0M630.9 221.4h0M654.2 219.3h0M659.6 173.2h0M632.0 191.1h0M667.5 216.8h0M605.7 258.6h0M710.1 224.5h0M624.1 223.7h0M665.8 187.0h0M649.6 192.7h0M627.8 227.4h0M716.3 192.5h0M656.5 245.6h0M621.6 214.0h0M684.1 186.4h0M609.4 220.4h0M620.1 220.4h0M609.2 212.8h0M673.6 231.1h0M729.8 251.2h0M667.6 262.1h0M727.5 180.5h0M681.0 214.2h0M657.3 206.1h0M723.7 164.6h0M607.1 213.7h0M610.0 177.9h0M662.6 211.0h0M618.1 219.5h0M699.5 172.5h0M677.2 204.9h0M611.4 241.4h0M688.8 194.8h0M688.1 236.3h0M712.3 168.1h0M654.6 188.4h0M673.4 187.4h0M717.8 150.6h0M615.9 230.3h0M691.5 202.9h0M616.2 229.1h0M720.9 189.6h0M611.8 222.6h0M679.8 223.5h0M664.0 213.2h0M661.4 242.2h0M707.9 152.2h0M706.2 200.6h0M650.4 258.3h0M632.1 211.9h0M711.6 167.8h0M760.0 252.2h0M789.6 227.3h0M639.8 213.0h0M607.8 241.7h0M712.6 157.5h0M723.8 204.8h0M611.4 220.8h0M658.5 171.6h0M791.5 238.0h0M728.6 193.3h0M669.3 195.3h0M614.9 224.5h0M706.7 246.9h0M667.2 244.5h0M610.0 227.3h0M744.2 244.8h0M618.8 214.1h0M705.8 194.5h0M727.4 199.4h0M636.1 205.8h0M650.9 198.3h0M706.8 219.7h0M749.6 237.9h0M605.1 228.2h0M717.8 230.8h0" stroke="#f68a3c" stroke-width="1.20" stroke-opacity="0.74"/>
<path d="M560.9 289.0h0M567.3 199.4h0M557.0 216.0h0M594.0 247.4h0M535.1 254.1h0M526.8 180.1h0M728.0 280.7h0M608.4 268.3h0M602.3 194.0h0M582.4 172.2h0M711.5 265.2h0M563.1 265.9h0M590.4 184.5h0M488.0 276.6h0M599.1 238.5h0M599.1 296.9h0M572.8 261.4h0M570.6 232.6h0M527.5 268.2h0M583.8 194.3h0M529.7 233.9h0M503.9 307.5h0M697.6 302.7h0M585.9 202.0h0M508.4 292.3h0M573.4 200.0h0M576.0 227.9h0M564.3 191.2h0M503.6 312.1h0M529.2 327.0h0M560.8 222.2h0M580.1 269.3h0M584.7 224.0h0M576.1 284.5h0M614.5 273.4h0M565.9 234.9h0M671.0 271.6h0M495.9 259.0h0M571.7 264.8h0M609.7 336.9h0M572.8 263.8h0M735.0 307.0h0M565.6 191.9h0M588.8 225.2h0M587.2 238.0h0M560.9 183.5h0M749.6 298.9h0M532.4 155.9h0M517.5 211.8h0M595.9 235.3h0M492.3 275.9h0M551.3 207.7h0M527.6 293.2h0M711.7 290.1h0M546.0 263.0h0M566.0 269.7h0M575.3 259.9h0M599.7 255.6h0M728.1 336.7h0M599.5 281.5h0M557.6 236.5h0M772.5 283.6h0M565.6 246.8h0M540.1 176.6h0M676.6 288.1h0M580.8 231.0h0M731.6 313.8h0M567.0 244.5h0M644.3 307.2h0M579.9 317.8h0M647.2 328.5h0M575.4 204.2h0M552.0 196.7h0M597.1 229.4h0M757.0 331.0h0M546.6 250.9h0M582.0 252.2h0M543.4 267.5h0M542.5 270.4h0M582.9 231.7h0M579.8 234.6h0M551.2 261.2h0M590.7 250.1h0M557.7 268.1h0M585.4 205.1h0M595.9 214.9h0M512.7 284.4h0M597.5 304.5h0M543.3 230.9h0M590.5 221.0h0M566.7 225.0h0M529.6 260.2h0M514.0 330.5h0M503.2 205.9h0M767.5 279.4h0M575.3 241.9h0M546.5 281.0h0M528.1 249.2h0M584.3 225.8h0M602.4 224.5h0M443.5 331.9h0M649.9 297.8h0M582.0 251.1h0M576.4 269.7h0M578.9 220.6h0M513.3 187.0h0M630.2 273.3h0M588.9 227.6h0M581.1 222.8h0M590.2 232.8h0M582.9 175.8h0M566.5 207.6h0M570.0 228.4h0M670.5 320.4h0M601.5 215.0h0M773.2 265.1h0M685.9 290.3h0M586.4 203.0h0M721.1 298.4h0M676.0 273.8h0M578.2 223.6h0M582.2 258.0h0M570.7 223.6h0M561.3 252.5h0M596.8 324.0h0M554.6 264.0h0M516.0 282.1h0M604.2 267.8h0M551.6 320.5h0M587.8 190.2h0M548.7 182.0h0M588.1 308.3h0M564.8 221.1h0M717.6 316.3h0M751.7 339.7h0M577.9 301.0h0M552.2 240.8h0M594.6 239.6h0M578.1 318.9h0M515.8 234.5h0M697.0 270.8h0M552.1 237.5h0M603.1 233.3h0M667.9 280.1h0M589.0 212.2h0M468.6 312.0h0M603.0 197.6h0M554.1 284.0h0M581.3 228.2h0M560.6 253.7h0M579.9 222.2h0M588.7 264.6h0M710.3 306.7h0M591.1 202.9h0M723.4 323.2h0M544.8 331.4h0M479.4 291.2h0M545.1 359.7h0M779.9 267.5h0M671.1 265.4h0M739.7 271.9h0M571.6 221.0h0M693.4 296.2h0M585.5 173.4h0M592.2 185.7h0M574.4 262.8h0M508.7 332.1h0M527.3 230.2h0M528.5 262.5h0M582.2 195.2h0M595.5 281.6h0M560.9 241.3h0M627.6 301.9h0M571.8 339.3h0M537.8 256.3h0M684.3 286.1h0M541.2 181.0h0M723.4 310.9h0M650.1 280.4h0M566.1 182.6h0M687.4 352.9h0M578.9 194.9h0M560.9 217.2h0M644.0 295.9h0M591.7 172.2h0M598.4 191.1h0M598.9 170.1h0M697.1 377.6h0M742.2 294.2h0M529.2 218.2h0M592.2 152.9h0M543.0 314.0h0M680.3 338.0h0M575.5 238.7h0M517.9 295.3h0M682.5 265.4h0M512.8 380.1h0M715.5 279.7h0M562.0 209.5h0M552.8 272.0h0M531.5 281.7h0M576.1 289.5h0M568.7 205.7h0M586.0 227.5h0M468.9 252.3h0M583.9 238.7h0M550.9 263.6h0M687.8 289.5h0M543.4 204.5h0M568.1 283.7h0M471.4 193.8h0M524.9 214.4h0M551.5 198.8h0M695.1 294.5h0M733.4 266.3h0M588.7 221.5h0M739.5 292.0h0M588.4 229.7h0M785.0 290.6h0M598.6 171.4h0" stroke="#e9594e" stroke-width="1.20" stroke-opacity="0.68"/>
<path d="M645.2 220.2h0M746.2 238.1h0M614.6 221.7h0M661.1 228.7h0M662.8 236.2h0M687.5 223.2h0M708.0 209.2h0M733.4 233.0h0M715.8 233.1h0M677.6 238.7h0M729.6 210.2h0M653.8 227.7h0M746.8 238.9h0M716.4 238.7h0M690.2 218.1h0M682.0 216.1h0M662.5 222.9h0M623.8 216.8h0M644.9 244.0h0M667.7 247.1h0M788.5 236.7h0M726.8 189.2h0M704.6 227.4h0M708.1 195.4h0M718.1 217.4h0M620.2 241.7h0M671.4 236.6h0M739.0 232.6h0M624.7 227.6h0M698.3 220.4h0M711.2 184.7h0M690.8 246.4h0M624.8 215.7h0M623.9 216.8h0M627.1 258.1h0M705.0 224.0h0M669.4 201.8h0M647.6 228.0h0M681.0 226.2h0M766.6 260.7h0M656.9 212.6h0M787.8 222.4h0M677.9 213.5h0M607.0 223.4h0M609.5 239.4h0M723.9 239.0h0M731.6 234.4h0M621.6 249.0h0M667.1 215.1h0M639.9 223.4h0M775.6 243.8h0M659.5 221.6h0M653.1 218.2h0M717.2 240.9h0M624.9 247.8h0M665.7 247.2h0M667.8 218.7h0M712.7 195.1h0M650.7 216.2h0M766.3 235.5h0M699.1 250.2h0M627.6 217.4h0M606.6 256.1h0M775.7 225.7h0M758.5 243.2h0M651.5 226.9h0M632.9 223.5h0M675.4 198.5h0M662.9 227.2h0M700.4 230.8h0M687.6 224.9h0M684.9 231.6h0M651.7 228.8h0M765.6 231.0h0M644.3 218.2h0M672.1 238.8h0M714.9 201.8h0M641.6 219.0h0M621.1 249.3h0M685.0 211.5h0M776.7 234.8h0M740.2 227.5h0M775.2 261.8h0M683.8 245.7h0M614.5 237.0h0M724.7 201.7h0M731.4 247.5h0M639.6 222.6h0M728.6 252.7h0M670.1 235.3h0M662.9 204.5h0M711.3 233.0h0M634.4 238.5h0M636.9 222.0h0M654.3 218.3h0M649.8 236.7h0" stroke="#f68a3c" stroke-width="5.60" stroke-opacity="0.74"/>
<path d="M690.1 231.7h0M659.0 207.3h0M614.1 198.2h0M683.5 208.2h0M608.8 221.8h0M633.5 212.2h0M690.0 207.3h0M714.2 237.6h0M700.0 203.8h0M662.7 223.5h0M607.7 251.8h0M728.3 214.6h0M617.6 229.4h0M731.1 184.8h0M620.8 218.2h0M620.1 226.1h0M606.9 224.4h0M715.5 250.0h0M735.2 240.7h0M669.3 222.4h0M648.8 225.1h0M653.0 209.7h0M648.2 224.9h0M674.0 230.3h0M710.5 160.5h0M616.4 233.9h0M610.7 232.8h0M646.6 232.3h0M646.4 219.0h0M671.2 223.5h0M607.8 220.8h0M654.8 237.8h0M736.9 250.5h0M662.9 222.4h0M680.9 247.7h0M740.6 226.9h0M612.1 246.2h0M744.0 235.2h0M613.4 255.7h0M684.9 196.6h0M649.2 241.1h0M673.2 209.7h0M697.2 214.4h0M718.2 201.3h0M619.0 233.1h0M631.6 230.1h0M646.7 216.1h0M676.4 240.1h0M657.3 222.8h0M673.4 227.5h0M650.4 160.6h0M699.8 212.9h0M789.7 242.9h0M664.4 228.1h0M660.2 244.2h0M672.5 220.2h0M722.6 186.6h0M659.7 203.2h0M727.7 240.4h0M663.1 166.0h0M697.5 244.6h0M727.5 261.0h0M630.8 228.2h0M639.4 231.5h0M771.1 229.2h0M643.0 261.0h0M662.7 233.2h0M768.6 229.1h0M777.4 256.0h0M697.3 239.7h0M799.0 222.2h0M689.2 226.8h0M729.9 182.5h0M763.0 232.1h0M639.2 241.2h0M658.1 218.4h0M727.0 198.1h0M619.5 225.4h0M658.1 231.8h0M621.1 207.0h0M655.7 214.8h0M659.8 237.7h0M699.7 231.4h0M612.1 190.2h0M703.9 197.0h0M704.4 220.7h0M670.6 210.2h0M709.6 208.9h0M686.3 240.3h0M614.3 244.0h0M621.8 235.5h0M713.1 234.3h0M646.9 213.9h0M645.2 182.8h0M727.5 219.0h0M723.7 257.3h0M680.0 220.7h0M638.4 252.2h0M642.6 238.3h0M607.2 205.5h0M703.2 204.4h0M719.1 208.4h0M659.5 209.1h0M643.0 202.8h0M729.7 252.5h0M686.2 217.9h0M714.8 212.6h0M757.7 244.8h0M696.6 262.1h0M692.1 237.4h0M781.9 257.8h0M638.3 230.6h0M646.1 223.0h0M615.9 216.2h0M662.0 194.7h0M654.9 170.1h0M719.7 230.5h0M693.3 245.3h0M605.1 200.8h0M673.1 234.8h0M661.9 220.3h0M717.5 223.0h0M652.7 228.3h0M620.3 250.4h0M646.0 219.1h0M656.0 169.3h0M668.8 229.6h0M609.7 223.9h0M667.1 229.7h0M661.8 230.3h0M674.1 224.5h0M604.0 237.6h0M629.7 214.6h0M622.8 215.5h0M678.7 259.5h0M692.1 191.2h0M626.8 244.3h0M659.7 164.4h0M654.1 219.4h0M691.5 193.3h0M661.8 231.5h0M651.1 261.0h0M758.8 257.9h0M681.5 219.2h0M613.8 216.3h0M629.1 209.7h0M668.9 190.7h0M688.2 177.7h0M695.8 216.5h0M620.1 209.4h0M702.7 158.7h0M611.0 230.2h0M761.6 238.6h0M695.1 237.8h0M631.5 181.2h0M637.0 228.6h0M667.7 233.2h0M683.1 213.9h0M705.8 238.9h0M679.7 247.3h0M623.1 228.9h0M763.6 244.7h0M700.4 193.2h0M697.6 242.9h0M637.9 195.8h0M623.2 228.6h0M631.8 222.1h0M693.6 263.2h0M758.9 225.3h0M673.6 216.1h0M606.9 227.5h0M719.9 227.1h0M690.8 212.7h0M708.6 202.9h0M677.2 190.3h0M693.3 222.5h0M612.8 225.8h0M639.2 206.7h0M622.1 233.9h0M707.8 189.4h0M640.0 172.0h0M623.6 207.6h0M724.6 220.3h0M713.1 188.6h0M687.4 219.1h0M740.2 236.8h0M632.8 244.5h0M638.3 228.1h0M714.3 195.6h0M657.7 194.5h0M645.8 206.2h0M647.7 235.7h0M624.8 238.7h0M718.4 222.9h0M706.5 216.6h0M644.9 217.8h0M619.8 242.3h0M665.7 248.7h0M723.6 219.4h0M693.2 229.9h0M620.8 197.7h0M691.1 237.3h0M673.1 250.8h0M714.8 208.2h0M673.4 226.2h0M617.1 210.1h0M648.5 217.7h0M716.3 229.3h0M711.0 179.2h0M638.8 230.3h0M724.0 238.5h0M677.0 224.6h0M606.0 239.3h0M786.9 239.0h0M729.8 225.0h0M648.8 259.8h0M666.2 232.0h0M712.0 159.6h0M642.7 240.8h0M612.8 218.7h0" stroke="#f68a3c" stroke-width="2.00" stroke-opacity="0.74"/>
<path d="M710.2 253.8h0M649.6 217.1h0M789.6 253.6h0M654.2 235.2h0M674.8 242.1h0M659.0 234.9h0M680.2 233.1h0M713.6 219.4h0M652.4 222.3h0M689.2 223.8h0M689.4 233.1h0M749.4 253.2h0M607.5 196.2h0M663.1 222.3h0M700.5 232.5h0M675.3 217.9h0M616.1 260.5h0M702.2 223.9h0M677.9 251.4h0M624.4 214.0h0M716.8 218.2h0M708.7 214.7h0M720.3 230.7h0M679.0 216.2h0M658.0 241.3h0M706.2 202.6h0M654.2 157.6h0M652.3 242.9h0M740.0 240.7h0M686.7 242.7h0M678.7 221.7h0M642.7 236.7h0M651.0 231.7h0M661.4 236.7h0M695.4 259.7h0M705.4 216.0h0M723.6 177.7h0M663.5 229.1h0M716.4 224.4h0M717.1 195.1h0M721.3 252.6h0M712.3 235.6h0M665.4 198.8h0M758.8 242.2h0M635.9 241.9h0M650.7 233.2h0M671.5 213.4h0M642.6 200.4h0M710.1 215.5h0M664.7 221.0h0M724.8 209.1h0M639.5 231.8h0M730.6 217.0h0M724.8 232.2h0M679.1 250.1h0M699.2 234.9h0M646.6 212.4h0M734.1 204.6h0M651.1 217.0h0M665.2 236.4h0M733.4 191.8h0M620.4 202.9h0M631.0 223.2h0M606.7 223.4h0M671.5 223.2h0M747.9 238.9h0M636.4 209.7h0M747.0 222.3h0M643.1 235.2h0M731.8 203.3h0M771.3 250.5h0M730.1 195.3h0M616.8 226.8h0M647.1 201.8h0M688.3 221.1h0M668.3 227.4h0M747.2 255.4h0M630.1 220.9h0M651.5 249.5h0M725.8 225.8h0M627.8 202.9h0M719.4 223.2h0M605.1 228.1h0M618.0 229.3h0M688.1 211.0h0M671.7 203.9h0M701.7 214.8h0M718.2 203.6h0M627.7 220.5h0M635.1 255.6h0M628.7 213.4h0M630.7 234.7h0M713.0 230.7h0M679.7 235.0h0M630.9 233.5h0M694.7 246.4h0M649.9 235.8h0M707.7 233.4h0M711.3 253.1h0M725.2 210.9h0M773.7 239.3h0M662.9 244.0h0M664.3 229.6h0M744.6 239.7h0M690.7 208.5h0M714.2 197.0h0M775.9 237.9h0M666.3 169.6h0M674.3 215.7h0M692.4 210.6h0M666.4 236.8h0M606.5 250.6h0M745.6 259.2h0M650.1 208.4h0M716.6 232.6h0M648.1 216.3h0M637.6 226.4h0M648.0 242.2h0M715.6 208.4h0M762.5 240.1h0M614.0 229.9h0M682.3 214.6h0M693.5 240.6h0M732.4 188.5h0M722.5 229.6h0M703.4 212.6h0M698.5 263.7h0M757.7 237.9h0M665.9 224.7h0M640.9 171.4h0M650.1 217.3h0M650.0 225.2h0M655.0 240.8h0M751.3 263.8h0M636.2 225.8h0M713.7 169.0h0M635.0 233.6h0M747.0 258.2h0M664.7 216.1h0M699.1 185.3h0M783.9 250.8h0M698.1 224.6h0M635.1 246.6h0M645.2 223.6h0M637.0 223.8h0M721.0 236.3h0M640.6 231.7h0M734.5 245.1h0M708.6 244.3h0M697.0 247.3h0M686.0 246.6h0M703.6 241.3h0M686.2 243.6h0M688.0 214.8h0M717.7 194.6h0M778.3 222.1h0M623.2 238.1h0M718.1 244.5h0M664.6 221.4h0M692.8 229.6h0M738.8 229.2h0M758.9 232.3h0M604.3 264.5h0M757.8 228.0h0M684.7 227.3h0M681.2 200.2h0M661.9 231.8h0M717.4 234.4h0M704.8 226.2h0M667.6 222.2h0M734.7 234.0h0M673.9 217.7h0M610.6 232.3h0M648.5 216.2h0M637.0 230.8h0M628.8 236.5h0M644.1 195.1h0M652.2 220.1h0M663.9 225.1h0M676.2 243.4h0M722.5 253.1h0M759.1 236.5h0M670.0 223.4h0M694.6 261.0h0M636.0 227.6h0M714.3 212.4h0M662.6 217.1h0M662.9 174.2h0M642.7 226.4h0M649.4 224.3h0M718.9 245.3h0M701.1 240.2h0M658.2 227.0h0M659.4 233.0h0M609.5 210.1h0M619.5 233.1h0M730.1 201.3h0M781.3 246.1h0M659.9 221.8h0M651.1 220.6h0M615.9 225.8h0M676.0 238.4h0M768.2 225.5h0M732.2 208.0h0M716.7 221.3h0M726.8 241.8h0M623.0 252.4h0M608.3 210.6h0M732.4 199.2h0M700.8 250.4h0M692.1 211.7h0M617.8 261.6h0M731.0 194.4h0M603.5 251.7h0M731.6 220.8h0M716.9 233.2h0M680.9 259.5h0M704.5 259.3h0M634.1 202.7h0M632.9 227.4h0" stroke="#f68a3c" stroke-width="3.40" stroke-opacity="0.74"/>
<path d="M794.6 220.1h0M788.7 196.5h0M785.4 174.1h0M735.9 161.3h0M748.2 168.2h0M743.1 193.4h0M763.1 160.6h0M746.8 173.0h0M742.9 162.0h0M779.5 209.5h0M781.0 179.6h0M756.7 177.2h0M778.6 188.5h0M747.2 220.0h0M754.6 179.3h0M768.9 185.7h0M740.5 168.9h0M735.5 198.7h0M761.5 151.9h0M760.4 167.2h0M744.4 179.5h0M771.1 167.5h0M795.7 169.3h0M776.3 186.7h0M789.4 155.5h0M785.8 174.7h0M785.2 179.7h0M780.6 177.8h0M780.4 174.8h0M790.1 185.8h0M778.1 172.3h0M768.0 173.3h0M765.3 166.1h0M748.5 170.1h0M761.4 152.1h0M778.1 151.3h0M760.4 148.3h0M761.1 164.7h0M744.8 161.3h0M739.6 216.7h0M738.3 164.6h0M771.6 174.0h0M773.8 146.6h0M746.3 154.6h0M784.0 169.0h0M789.3 178.8h0M760.2 179.2h0M764.5 156.8h0M791.7 167.3h0M773.8 195.4h0M749.5 158.6h0M750.4 186.0h0M761.3 154.6h0M769.0 160.6h0M762.8 159.1h0M753.3 166.4h0M753.5 166.3h0M790.9 156.3h0M777.7 181.5h0M758.9 191.6h0M796.8 191.2h0M744.1 177.1h0M742.6 186.1h0M787.5 178.4h0M773.2 164.7h0M743.9 169.8h0M774.4 161.9h0M793.3 190.0h0M773.3 164.8h0M767.7 181.6h0M762.9 191.9h0M777.4 161.9h0M757.5 199.1h0M748.2 153.7h0M736.8 176.5h0M790.9 177.1h0M765.1 193.5h0M776.4 175.2h0M756.1 186.5h0M741.9 188.6h0M741.0 207.3h0M768.4 206.0h0M783.7 157.8h0M765.2 163.5h0M757.1 164.4h0M743.4 158.8h0M799.0 163.2h0M791.9 188.2h0M764.9 185.0h0M791.4 186.8h0M797.8 161.7h0M780.7 203.5h0M778.2 161.4h0M783.7 175.6h0M745.9 180.4h0M767.2 144.9h0M775.8 221.8h0M757.6 155.3h0M755.3 170.1h0M758.8 188.4h0M765.9 175.5h0M760.4 160.7h0M779.3 160.9h0M743.9 170.3h0M769.3 174.8h0M785.9 150.9h0M775.6 195.4h0M745.3 171.8h0M752.1 147.3h0M789.1 183.9h0M775.4 173.3h0M758.5 169.4h0M739.6 167.6h0M747.7 180.1h0M735.4 178.3h0M793.5 162.6h0M765.1 178.9h0M770.6 171.3h0M770.4 180.0h0M791.9 203.7h0M769.4 158.9h0M797.1 180.4h0M790.1 175.4h0M763.0 169.8h0M776.1 167.9h0M789.0 184.3h0M775.1 190.9h0M751.2 146.0h0M736.9 212.5h0M776.7 157.5h0M739.6 202.8h0M736.4 202.0h0M756.8 159.5h0M759.7 190.0h0M765.5 161.4h0M745.9 190.7h0M792.6 145.5h0M772.7 167.1h0M781.2 168.3h0M765.4 190.4h0M761.0 161.2h0M763.6 171.8h0M745.5 177.9h0M736.8 221.2h0M772.1 162.4h0M761.0 155.7h0M779.8 191.7h0M764.5 178.2h0M758.9 152.4h0M774.6 146.9h0M766.8 171.3h0M737.9 184.3h0M761.3 203.4h0M747.7 155.2h0M745.5 153.0h0M776.2 197.8h0M744.9 187.1h0M770.7 149.2h0M776.0 217.9h0M780.0 157.5h0M775.2 194.9h0M764.2 150.9h0M791.6 154.7h0M735.7 191.7h0M790.3 176.2h0M767.5 166.5h0M768.4 155.2h0M769.5 171.1h0M775.4 174.1h0M737.7 162.3h0M760.2 176.6h0M778.2 204.6h0M781.0 168.7h0M759.7 167.5h0M782.9 174.8h0M787.2 200.6h0M760.1 147.1h0M745.8 206.7h0M765.4 167.8h0M770.5 149.5h0M761.8 151.9h0M759.4 169.3h0M746.2 151.7h0M768.2 157.3h0M772.6 150.1h0M783.1 170.5h0M754.7 187.2h0M772.7 179.8h0M761.1 171.3h0M749.8 164.6h0M767.8 205.4h0M754.7 167.6h0M773.4 177.2h0M764.3 158.5h0M745.3 170.6h0M797.2 154.2h0M784.4 162.3h0M780.5 173.8h0M776.1 160.7h0M742.6 173.3h0M764.8 164.0h0M747.0 170.2h0M737.5 165.3h0M760.7 209.0h0M776.5 155.0h0M752.6 210.0h0M769.7 164.1h0M762.6 195.0h0M739.3 180.8h0M762.7 204.2h0M778.7 186.3h0M765.6 177.3h0M750.2 165.3h0M753.5 169.3h0M766.5 159.4h0M759.7 166.6h0M739.2 156.4h0M795.5 173.0h0M745.6 190.9h0M750.8 144.8h0" stroke="#33ba9c" stroke-width="0.90" stroke-opacity="0.8"/>
<path d="M724.4 187.5h0M631.1 233.1h0M741.8 235.8h0M702.4 260.4h0M604.2 222.5h0M606.9 196.2h0M679.2 178.3h0M632.8 185.4h0M652.5 218.9h0M690.6 219.3h0M607.1 214.2h0M609.9 229.6h0M620.1 242.6h0M729.8 154.4h0M721.3 183.6h0M703.3 227.7h0M726.4 190.1h0M646.4 219.8h0M759.6 227.4h0M608.0 202.1h0M720.2 148.4h0M723.9 197.4h0M608.2 230.2h0M755.9 256.6h0M609.3 171.7h0M633.5 234.0h0M716.8 221.9h0M692.9 217.0h0M744.4 244.4h0M763.5 258.6h0M784.0 253.2h0M620.4 242.5h0M606.3 228.5h0M723.7 196.9h0M690.5 187.6h0M613.9 155.0h0M723.6 188.8h0M728.4 151.7h0M646.4 248.2h0M715.1 193.0h0M773.0 263.2h0M635.2 222.4h0M751.3 231.5h0M730.7 166.7h0M615.1 222.5h0M635.8 246.3h0M711.3 179.8h0M670.8 251.1h0M668.1 253.2h0M715.9 194.9h0M622.9 257.0h0M635.5 259.2h0M721.7 159.9h0M720.0 174.4h0M618.6 202.5h0M708.3 147.9h0M691.1 222.0h0M659.6 222.0h0M702.6 214.9h0M644.5 186.1h0M613.9 224.9h0M664.2 184.8h0M662.3 205.8h0M690.1 210.1h0M730.8 182.5h0M732.3 159.1h0M641.0 172.8h0M746.5 261.9h0M681.5 256.0h0M742.6 222.9h0M610.4 223.2h0M714.3 239.3h0M716.6 158.7h0M606.4 223.0h0M622.3 158.3h0M758.8 230.6h0M769.9 252.6h0M654.1 225.5h0M728.8 243.3h0M649.5 234.0h0M699.3 199.2h0M638.5 208.3h0M630.5 222.9h0M787.0 257.2h0M649.7 233.4h0M712.7 217.1h0M682.9 163.9h0M690.1 230.7h0M729.6 213.4h0M683.8 192.2h0M637.3 224.7h0M632.3 198.8h0M709.0 193.2h0M765.0 257.1h0M683.8 186.9h0M645.4 198.1h0M661.7 236.1h0M720.6 153.6h0M633.0 219.2h0M656.0 194.7h0M791.2 240.3h0M636.6 222.6h0M702.7 263.8h0M714.8 172.2h0M701.7 179.0h0M625.3 239.8h0M690.2 206.6h0M716.7 157.4h0M735.0 168.5h0M719.0 146.0h0M607.9 218.3h0M620.2 226.9h0M626.8 236.6h0M723.6 192.4h0M611.3 259.0h0M656.1 243.9h0M679.9 177.3h0M611.2 220.2h0M632.0 198.7h0M733.8 228.4h0M623.3 217.6h0M726.3 185.9h0M745.6 239.4h0M637.3 251.0h0M732.5 234.0h0M713.5 201.3h0M741.9 228.7h0M727.0 180.9h0M734.1 148.5h0M710.7 205.5h0M717.5 178.8h0M687.5 184.0h0M633.7 259.6h0M616.7 212.5h0M727.9 165.9h0M718.2 184.7h0M720.6 194.1h0M657.6 218.0h0M605.2 208.0h0M679.6 211.1h0M756.3 256.9h0M783.7 239.7h0M710.8 206.8h0M613.2 228.2h0M616.3 248.8h0M644.5 189.8h0M725.5 179.5h0M615.7 220.0h0M640.9 193.4h0M721.7 202.3h0M675.3 253.3h0M655.8 197.8h0M710.4 252.6h0M752.2 229.0h0M686.0 212.2h0M662.1 231.0h0M613.8 250.4h0M712.4 214.2h0M692.4 187.9h0M604.9 232.7h0M665.9 198.8h0M686.8 247.4h0M708.8 217.0h0M759.9 262.7h0M719.3 173.2h0M690.1 235.7h0M732.9 263.6h0M644.1 192.0h0M628.5 225.0h0M634.7 250.1h0M608.2 208.2h0M676.4 246.6h0M647.6 228.7h0M695.6 252.1h0M624.9 223.6h0M739.8 228.3h0M625.3 225.5h0M650.8 207.8h0M716.1 238.7h0M632.8 230.1h0M724.4 251.3h0M733.8 198.7h0M654.8 253.2h0M725.3 195.8h0M648.5 170.6h0M729.0 186.6h0M669.1 219.7h0M789.7 237.7h0M757.6 254.2h0M647.9 235.5h0M631.9 260.4h0M663.5 237.7h0M714.7 167.3h0M723.1 225.7h0M709.9 218.3h0M644.4 237.0h0M711.0 248.1h0M642.1 218.7h0M691.9 225.5h0M736.1 235.0h0M670.2 223.7h0M658.5 224.3h0M648.2 208.7h0M680.6 223.4h0M667.8 183.5h0M703.1 189.1h0M640.5 212.1h0M731.8 171.5h0M720.1 179.5h0M730.0 185.4h0M627.4 221.6h0M610.8 254.1h0M719.1 258.4h0M647.1 229.2h0M711.2 182.0h0M757.7 242.9h0M640.9 201.2h0M623.1 228.0h0M657.0 170.8h0M691.4 160.3h0" stroke="#f68a3c" stroke-width="1.20" stroke-opacity="0.74"/>
<path d="M622.7 255.2h0M604.9 248.8h0M638.0 227.5h0M632.2 235.3h0M655.2 238.3h0M614.1 223.9h0M720.0 209.1h0M686.5 231.1h0M653.2 158.1h0M716.9 237.3h0M646.0 224.1h0M717.7 148.9h0M715.9 170.8h0M750.2 258.3h0M681.1 212.9h0M756.6 233.7h0M643.4 225.9h0M799.3 225.6h0M609.8 256.2h0M623.0 241.3h0M635.6 260.6h0M692.2 188.8h0M713.5 150.3h0M611.3 226.1h0M693.2 204.1h0M732.8 196.2h0M732.3 238.7h0M721.1 202.1h0M663.1 192.7h0M672.2 175.6h0M663.9 200.6h0M693.6 187.1h0M621.7 238.3h0M610.2 219.9h0M790.8 238.7h0M729.4 174.0h0M726.9 207.1h0M620.3 230.5h0M707.7 196.2h0M712.0 207.2h0M616.2 229.0h0M635.3 244.7h0M685.2 193.6h0M774.6 251.4h0M752.7 237.9h0M669.9 187.5h0M722.9 196.5h0M651.6 181.3h0M721.9 169.6h0M617.6 252.6h0M694.8 185.8h0M615.9 255.6h0M712.8 198.0h0M614.2 220.8h0M701.9 185.9h0M689.8 221.8h0M720.3 207.2h0M655.7 211.8h0M688.3 262.2h0M624.2 234.0h0M773.6 261.0h0M641.8 215.9h0M661.7 264.2h0M747.2 231.7h0M735.9 223.5h0M633.6 227.9h0M658.1 223.8h0M730.1 210.1h0M686.9 189.2h0M640.5 196.5h0M625.4 242.4h0M683.9 215.6h0M637.2 208.9h0M733.9 179.0h0M644.5 193.2h0M655.5 244.3h0M624.4 215.5h0M757.1 247.5h0M725.2 172.4h0M612.3 219.3h0M655.7 166.2h0M686.8 246.3h0M669.4 219.4h0M640.6 186.7h0M653.4 233.7h0M677.3 242.4h0M688.1 219.1h0M708.1 185.4h0M649.5 226.7h0M612.4 207.3h0M700.4 216.5h0M719.9 248.6h0M741.2 228.1h0M665.9 215.3h0M797.3 232.1h0M729.7 218.6h0M643.9 195.1h0M655.1 209.5h0M718.8 185.8h0M686.8 230.1h0M610.7 173.3h0M717.4 202.6h0M617.8 223.6h0M616.0 228.7h0M728.6 166.2h0M647.7 221.4h0M664.8 213.8h0M653.9 228.1h0M686.8 191.2h0M762.4 233.5h0M611.1 230.0h0M612.4 212.6h0M685.4 224.4h0M645.2 184.7h0M645.1 164.1h0M607.6 219.9h0M622.1 207.0h0M614.6 217.2h0M706.9 255.2h0M678.6 248.7h0M704.8 196.4h0M618.7 179.5h0M702.5 183.1h0M610.3 201.5h0M729.1 201.9h0M687.2 203.3h0M645.6 188.6h0M637.8 209.1h0M618.5 201.6h0M755.9 223.0h0M607.1 241.6h0M708.8 210.6h0M677.1 218.3h0M621.2 217.9h0M689.2 209.2h0M683.9 242.8h0M728.9 244.0h0M728.9 189.5h0M634.9 232.2h0M727.0 161.2h0M703.4 178.0h0M657.4 183.6h0M633.1 201.2h0M626.2 215.2h0M722.6 194.2h0M644.6 189.6h0M749.4 247.4h0M637.7 244.8h0M729.3 223.4h0M692.2 259.1h0M714.1 193.8h0M633.9 193.7h0M646.8 228.0h0M731.3 262.8h0M642.0 147.7h0M724.3 208.5h0M706.8 218.7h0M618.6 237.4h0M606.5 259.2h0M696.3 181.7h0M632.7 206.8h0M725.0 221.1h0M608.4 239.5h0M699.1 207.0h0M718.8 248.6h0M720.4 251.6h0M742.6 256.3h0M716.5 179.4h0M652.7 254.9h0M678.2 198.4h0M708.0 185.2h0M626.1 221.2h0M758.1 227.6h0M695.1 217.9h0M613.5 216.7h0M681.5 209.4h0M661.8 187.9h0M694.5 186.9h0M670.9 224.8h0M722.2 217.6h0M611.0 244.0h0M762.3 239.5h0M639.7 204.0h0M728.9 165.4h0M711.8 182.4h0M674.4 214.6h0M747.7 260.9h0M720.9 198.2h0M658.1 226.8h0M674.2 196.5h0M610.0 236.9h0M637.9 247.4h0M705.6 220.1h0M617.9 214.3h0M631.7 214.5h0M631.8 201.1h0M764.7 250.4h0M650.1 159.3h0M663.6 207.2h0M657.7 227.1h0M768.1 222.0h0M715.9 189.7h0M730.3 165.7h0M624.1 254.4h0M667.7 208.0h0M671.4 184.6h0M724.7 198.4h0M605.2 209.9h0M688.2 160.0h0M718.6 241.4h0M687.3 198.9h0M617.7 260.3h0M685.2 238.1h0M697.0 204.0h0M713.0 196.4h0M625.9 222.9h0M761.2 254.2h0M731.4 255.0h0M695.2 260.2h0M612.5 236.3h0" stroke="#f68a3c" stroke-width="1.20" stroke-opacity="0.74"/>
<path d="M712.7 229.7h0M638.7 207.5h0M655.7 219.6h0M794.3 233.1h0M621.7 221.5h0M632.7 246.9h0M711.5 204.4h0M671.5 230.8h0M769.7 226.6h0M622.8 213.4h0M661.3 195.7h0M678.5 228.3h0M687.0 235.2h0M660.1 236.9h0M632.6 255.2h0M787.6 229.5h0M670.6 238.8h0M646.7 225.8h0M730.6 207.6h0M659.2 229.9h0M733.2 221.2h0M664.3 230.5h0M663.3 263.5h0M640.0 243.4h0M673.8 238.5h0M691.1 228.6h0M686.5 227.4h0M655.2 185.0h0M651.3 241.0h0M715.3 226.2h0M710.7 170.6h0M667.1 243.6h0M643.9 243.2h0M782.6 238.3h0M683.6 252.6h0M676.1 230.3h0M664.8 220.3h0M705.7 233.5h0M671.2 218.1h0M619.1 235.8h0M762.5 231.7h0M694.2 212.5h0M674.6 228.4h0M611.0 230.2h0M701.7 257.0h0M733.8 184.5h0M672.8 200.6h0M613.1 245.3h0M632.4 213.4h0M722.1 229.6h0M708.8 237.7h0M683.3 220.8h0M654.8 218.3h0M703.8 194.5h0M733.4 216.0h0M662.9 235.8h0M702.5 258.3h0M670.4 238.2h0M727.3 205.6h0M646.7 219.4h0M642.0 237.1h0M685.1 219.0h0M634.8 224.1h0M733.1 174.4h0M667.3 221.2h0M690.2 219.4h0M772.4 243.8h0M654.8 212.5h0M677.6 221.4h0M743.0 224.0h0M713.0 194.6h0M634.0 227.8h0M627.1 222.3h0M633.7 226.4h0" stroke="#f68a3c" stroke-width="4.40" stroke-opacity="0.74"/>
<path d="M552.7 220.3h0M577.4 210.5h0M588.4 275.8h0M577.2 239.0h0M577.3 206.1h0M666.3 301.4h0M708.7 297.6h0M526.7 253.3h0M663.9 266.5h0M593.1 223.7h0M635.4 300.2h0M602.0 183.6h0M579.3 216.9h0M559.3 206.4h0M562.0 246.9h0M586.0 196.3h0M592.5 286.3h0M724.1 295.3h0M664.5 280.7h0M584.5 227.3h0M554.8 239.3h0M729.5 292.3h0M677.2 308.5h0M735.0 266.4h0M723.7 285.9h0M625.4 303.0h0M592.5 183.5h0M626.9 297.1h0M659.9 270.1h0M669.3 327.0h0M773.4 267.0h0M698.0 301.4h0M689.3 270.3h0M661.0 266.1h0M585.5 219.7h0M599.7 233.4h0M615.0 293.4h0M732.2 284.2h0" stroke="#e9594e" stroke-width="2.60" stroke-opacity="0.68"/>
<path d="M633.6 351.8h0M577.2 200.3h0M555.8 233.4h0M573.3 226.2h0M629.1 269.3h0M512.1 238.3h0M586.5 212.5h0M599.8 309.7h0M594.5 273.3h0M536.4 178.4h0M570.1 253.6h0M576.2 184.8h0M613.7 349.0h0M559.4 231.5h0M586.8 232.5h0M570.1 223.8h0M599.1 253.4h0M570.8 239.4h0M573.8 246.4h0M585.0 293.8h0M620.9 268.8h0M705.3 269.3h0M601.6 235.6h0M588.4 249.3h0M572.1 213.1h0M533.9 257.5h0M588.7 226.0h0M589.8 240.2h0M578.6 205.7h0M649.5 291.6h0M603.0 369.8h0M598.4 236.2h0M563.1 225.4h0M652.2 273.4h0M580.3 260.3h0M706.3 279.6h0M537.1 235.7h0M585.6 285.3h0M745.1 268.3h0M742.0 289.2h0M590.4 185.7h0M595.3 285.2h0M536.3 238.5h0M661.7 280.1h0M631.6 269.0h0M580.2 173.2h0M443.8 224.5h0M595.0 230.2h0M787.9 336.4h0M579.0 230.7h0" stroke="#e9594e" stroke-width="1.60" stroke-opacity="0.68"/>
<path d="M741.7 203.6h0M793.2 200.9h0M778.1 187.3h0M772.6 178.3h0M777.4 170.4h0M784.7 180.1h0M791.0 170.8h0M794.9 209.9h0M749.9 179.1h0M768.7 176.9h0M756.7 193.7h0M744.2 187.5h0M736.3 168.9h0M776.2 177.8h0M752.5 200.0h0M757.4 183.7h0M778.3 169.4h0M753.0 180.0h0M784.4 198.6h0M747.4 215.3h0M783.1 213.4h0M768.6 178.2h0M782.7 180.9h0M772.3 171.5h0M742.7 147.6h0M776.5 202.5h0M796.4 185.8h0M746.7 201.3h0M747.7 194.7h0M755.3 197.7h0M761.6 185.2h0M764.8 178.6h0M783.0 169.7h0M795.9 163.7h0M741.8 166.4h0M792.8 185.0h0M786.1 208.5h0M774.4 198.0h0M780.2 167.1h0M772.6 185.4h0M794.4 184.1h0M787.5 188.7h0M774.3 203.4h0M794.5 195.7h0M765.2 191.7h0M760.7 184.4h0M754.9 200.8h0M798.6 181.4h0M757.0 197.4h0M784.7 181.1h0M737.0 197.5h0M786.9 219.0h0M760.4 174.2h0M778.2 157.8h0M776.2 181.3h0M768.0 173.1h0M778.1 162.2h0M771.0 201.0h0M784.7 179.2h0M768.2 182.0h0M765.4 165.1h0M756.6 196.0h0M784.6 202.3h0M755.5 153.9h0M792.7 198.9h0M749.4 192.9h0M792.6 183.0h0M780.6 192.7h0M779.7 203.0h0M741.5 153.8h0M751.9 186.4h0M765.9 177.8h0M756.6 169.7h0M787.7 175.4h0M766.2 199.6h0M753.4 167.7h0M778.2 164.9h0M760.9 183.7h0M777.1 203.9h0M783.4 186.0h0M768.9 211.5h0M778.2 195.2h0M755.5 200.0h0M741.6 188.7h0M740.9 162.7h0M743.9 183.7h0M763.7 165.6h0M783.7 187.6h0M737.7 208.7h0M776.7 165.7h0M797.0 206.7h0M796.5 174.1h0M765.7 180.4h0M789.5 186.4h0M764.5 205.9h0M778.8 219.8h0M799.9 192.3h0M746.3 162.4h0M793.4 173.5h0M780.4 175.2h0M746.1 201.7h0M781.4 164.0h0M786.5 177.1h0M771.1 205.6h0M740.4 206.7h0M763.3 170.5h0M758.0 201.3h0M755.1 168.0h0M780.9 157.1h0M763.7 176.2h0M762.0 171.1h0M782.6 203.4h0M774.0 198.6h0M789.9 188.2h0M767.2 181.8h0M736.2 185.8h0M746.9 176.5h0M773.6 189.5h0M790.7 149.6h0M749.3 180.8h0M758.9 187.9h0M755.7 197.3h0M796.5 197.1h0M753.8 169.2h0M741.9 164.5h0M773.5 194.6h0M739.5 181.3h0M735.1 197.6h0M768.1 212.7h0M748.3 154.5h0M755.4 165.5h0M789.4 171.3h0M783.9 208.9h0M773.9 208.0h0M752.2 186.1h0M761.5 190.5h0M795.3 172.2h0M780.2 203.1h0M775.0 191.4h0M748.6 180.1h0M762.5 166.9h0M751.0 191.7h0M735.5 180.2h0M794.1 173.0h0M742.7 189.8h0M745.0 193.4h0M789.2 194.2h0M754.9 204.9h0M736.5 184.4h0M782.0 205.6h0M766.7 198.0h0M754.4 158.0h0M765.9 169.3h0M754.4 178.3h0M785.6 177.6h0M765.6 194.5h0M796.5 182.2h0M750.3 205.2h0M778.2 218.0h0M751.6 203.2h0M786.0 163.1h0M795.2 155.6h0M759.7 203.6h0M798.3 196.7h0M774.6 176.2h0M783.7 203.9h0M756.1 195.4h0M775.3 183.8h0M776.6 182.0h0M788.5 175.0h0M754.3 180.3h0M744.2 199.6h0M778.5 198.3h0M795.1 174.6h0M755.9 179.9h0M789.7 205.6h0M749.0 218.5h0M793.1 146.6h0M772.9 182.1h0M764.8 153.4h0M766.4 179.5h0M738.2 167.5h0M737.6 156.7h0M735.6 203.5h0M766.5 182.2h0M783.0 190.0h0M780.1 195.0h0M785.0 217.7h0M759.3 191.9h0M755.1 191.8h0M770.8 167.0h0M771.8 162.9h0M761.1 184.9h0M785.0 174.4h0M738.3 187.4h0M768.8 160.3h0M757.0 163.7h0M776.3 184.1h0M777.6 164.7h0M755.7 191.3h0M763.6 176.8h0M768.5 191.9h0M739.0 192.5h0M798.3 205.6h0M764.0 180.7h0M770.7 205.5h0M793.4 214.7h0M792.4 188.4h0M745.7 218.3h0M767.2 174.5h0M764.1 211.6h0M757.4 172.6h0M790.4 193.5h0M767.2 191.3h0M773.3 214.6h0M754.9 198.6h0M746.8 167.7h0M795.0 171.7h0M753.9 190.7h0M771.7 206.7h0" stroke="#33ba9c" stroke-width="2.60" stroke-opacity="0.8"/>
<path d="M600.9 180.3h0M599.2 177.8h0M682.9 307.2h0M555.6 225.9h0M574.0 223.7h0M602.7 234.2h0M662.6 268.3h0M646.2 288.5h0M482.7 251.6h0M579.5 222.9h0M653.0 281.5h0M578.7 202.7h0M556.0 260.1h0M666.7 269.9h0M730.3 307.9h0M585.6 222.5h0M558.0 240.9h0M642.7 271.6h0" stroke="#e9594e" stroke-width="2.00" stroke-opacity="0.68"/>
<path d="M547.5 211.7h0M597.0 226.2h0M795.2 270.4h0M551.6 205.2h0M631.1 272.1h0M678.3 323.9h0M662.5 265.4h0M602.1 226.9h0M761.5 288.0h0M600.4 211.7h0M555.6 232.5h0M527.1 218.3h0M638.5 301.0h0M563.5 227.2h0M582.3 232.9h0M558.5 238.9h0M607.2 266.4h0M636.0 323.5h0M564.3 248.0h0M728.8 266.8h0M586.0 234.2h0M598.0 223.9h0M530.9 269.1h0M703.0 297.0h0M649.9 284.5h0M653.0 282.9h0M573.9 217.7h0M589.5 214.3h0M659.3 274.7h0M637.8 286.4h0M565.4 257.1h0M600.1 248.7h0M584.1 210.8h0M656.8 278.9h0M755.1 266.4h0M502.7 245.3h0M649.6 288.6h0M714.2 297.4h0M716.3 282.7h0M633.2 268.2h0M596.5 215.5h0M560.8 241.8h0M729.3 274.4h0M599.3 258.6h0M732.5 278.8h0M582.1 263.4h0M579.4 230.7h0M519.8 244.8h0M523.2 321.4h0M535.5 232.5h0M651.0 286.8h0M544.5 322.4h0M579.7 238.0h0M646.4 293.3h0M743.7 306.5h0M562.9 221.5h0M720.2 285.6h0M550.9 238.2h0M589.0 243.8h0M594.0 234.3h0M596.5 225.1h0M569.7 271.8h0M546.5 203.7h0M580.6 252.7h0M563.0 248.0h0M730.7 286.9h0M591.7 277.0h0M566.2 221.3h0M565.6 280.6h0M551.8 148.8h0M658.6 329.4h0M598.3 262.6h0M643.0 277.2h0M629.7 273.5h0M590.3 230.0h0M780.6 267.5h0M647.7 271.3h0M572.2 213.1h0M677.1 278.3h0M601.2 192.2h0M551.4 266.3h0M669.1 274.4h0M637.4 299.1h0M534.7 200.6h0M559.7 261.6h0M658.7 277.8h0M683.1 320.6h0M610.5 276.0h0M542.1 259.7h0M785.9 273.0h0M595.1 248.4h0M587.6 230.4h0M600.0 195.1h0M591.8 252.3h0M550.1 193.8h0M557.3 254.6h0M570.4 239.5h0M601.1 244.1h0M600.2 253.6h0M581.3 231.8h0M569.3 211.6h0M754.3 288.0h0M704.7 269.3h0M562.6 239.9h0M591.1 230.1h0M575.9 231.0h0M580.6 274.4h0M741.6 265.7h0M725.1 284.6h0M596.9 285.4h0M600.6 288.7h0M578.6 208.1h0M560.7 234.9h0M599.3 285.9h0M581.7 250.2h0M679.4 279.0h0M574.6 229.9h0M584.5 249.0h0M582.9 281.8h0M582.3 262.6h0M577.5 249.4h0M590.7 234.5h0M571.7 250.6h0M568.3 215.6h0M464.3 312.1h0M586.1 255.5h0M582.8 238.2h0M548.4 270.6h0M592.7 230.8h0M705.3 269.4h0M632.5 273.8h0M563.3 194.1h0M746.7 322.4h0M600.1 205.3h0M599.5 246.8h0M705.6 269.5h0M607.8 271.1h0M618.7 302.1h0M579.1 223.5h0M602.2 220.5h0M715.5 269.9h0M566.4 244.3h0M571.4 259.4h0M655.9 302.3h0M570.2 253.2h0M599.5 241.9h0M586.9 253.6h0M622.8 303.9h0M678.6 279.9h0M697.9 317.2h0M590.7 232.6h0M588.9 266.3h0M574.5 292.2h0M566.7 229.4h0M581.6 226.0h0M558.4 235.9h0M623.9 280.5h0M571.4 199.2h0M592.8 250.1h0M554.7 217.4h0M598.7 212.4h0M576.2 241.6h0M586.1 246.1h0M577.8 232.3h0M586.9 282.9h0M764.8 270.9h0M577.1 207.0h0M671.0 295.6h0M570.8 229.6h0M683.1 269.2h0M637.2 274.4h0M651.0 272.8h0M541.0 222.0h0M713.1 285.9h0M594.7 217.9h0M556.4 261.6h0M599.8 209.4h0M668.6 280.8h0M470.3 263.2h0M590.3 209.9h0M588.1 272.8h0M642.8 291.5h0M553.1 264.6h0M602.4 229.2h0M523.2 256.4h0M588.1 221.5h0M604.7 281.9h0M517.7 208.7h0M664.1 329.4h0M579.8 198.7h0M608.4 269.0h0M773.9 309.7h0M584.5 255.2h0M569.8 235.9h0M675.6 286.2h0M632.1 286.3h0M571.6 257.3h0M591.3 200.9h0M592.6 220.6h0M596.5 239.4h0M686.4 266.8h0M597.8 236.5h0M528.6 237.8h0M675.3 268.4h0M715.5 267.4h0M565.4 231.7h0M562.1 236.9h0M523.9 247.6h0M659.3 280.2h0M558.2 215.7h0M666.1 289.8h0M596.6 254.7h0M687.2 293.8h0M628.8 271.1h0M597.2 249.5h0M555.6 252.8h0M587.9 248.3h0M711.7 275.2h0M595.4 200.8h0M601.4 204.3h0" stroke="#e9594e" stroke-width="2.60" stroke-opacity="0.68"/>
<path d="M754.2 194.4h0M764.8 187.5h0M764.5 163.8h0M763.7 165.4h0M798.3 166.8h0M791.5 190.8h0M774.0 171.4h0M781.3 170.6h0M782.2 187.0h0M770.1 165.7h0M793.7 170.0h0M779.9 162.4h0M756.7 166.4h0M748.7 183.6h0M782.1 213.5h0M736.3 202.9h0M752.1 197.6h0M763.4 208.6h0M783.3 211.4h0M756.6 168.1h0M746.9 207.8h0M736.8 212.6h0M746.7 194.6h0M745.3 194.7h0M749.7 193.2h0M759.0 161.2h0M778.1 184.0h0M790.8 145.9h0M738.1 187.1h0M797.7 175.6h0M759.7 163.1h0M751.6 175.2h0M759.5 144.9h0M752.1 165.9h0M760.3 184.8h0M760.6 168.7h0M793.5 179.6h0M780.5 178.6h0M759.5 171.7h0M764.4 170.8h0M761.1 178.9h0M773.2 166.7h0M786.3 212.5h0M781.0 193.5h0M776.5 161.4h0M775.9 210.8h0M748.9 179.4h0M765.7 153.7h0M763.6 170.8h0M736.5 153.9h0M791.1 154.0h0M765.9 183.0h0M739.3 193.5h0M760.9 175.2h0M741.8 179.2h0M793.5 156.1h0M785.0 164.6h0M785.6 201.6h0M761.9 177.0h0M768.4 157.2h0M755.1 157.2h0M774.7 177.7h0M735.8 200.9h0M788.9 208.7h0M742.2 192.3h0M758.2 156.3h0M772.2 165.5h0M758.0 183.8h0M790.8 203.0h0M791.3 175.9h0M770.6 154.7h0M759.4 181.1h0M775.8 168.5h0M791.2 154.5h0M763.9 173.7h0M783.2 215.9h0M779.4 180.5h0M795.7 186.6h0M769.5 220.5h0M761.0 176.7h0M775.8 160.1h0M789.0 183.1h0M765.4 174.3h0M772.2 186.9h0M789.0 157.6h0M758.2 189.7h0M736.3 163.9h0M743.1 171.8h0M753.5 152.5h0M781.0 187.5h0M749.2 155.9h0M788.6 171.2h0M742.5 158.6h0M786.8 179.3h0M772.5 187.8h0M738.9 171.3h0M786.1 221.5h0M736.3 168.5h0M773.2 172.3h0M752.6 171.8h0M772.6 199.9h0M789.8 215.4h0M757.9 165.7h0M781.1 179.1h0M773.4 170.6h0M785.9 183.9h0M783.2 194.4h0M742.0 169.7h0M774.1 181.7h0M775.5 213.7h0M764.7 145.4h0M772.5 175.9h0M741.9 188.2h0M775.6 167.4h0M765.4 174.7h0M756.2 176.5h0M781.0 171.4h0M744.5 188.8h0M775.6 149.3h0M762.2 179.9h0M778.1 182.7h0M750.5 162.8h0" stroke="#33ba9c" stroke-width="1.20" stroke-opacity="0.8"/>
<path d="M728.6 257.1h0M670.9 203.0h0M621.6 219.0h0M626.3 205.0h0M672.6 216.2h0M619.7 202.7h0M735.0 188.7h0M699.7 252.5h0M741.3 239.3h0M706.0 260.1h0M624.5 222.8h0M632.3 225.9h0M623.6 231.6h0M757.2 228.5h0M672.9 236.7h0M670.6 212.9h0M732.2 250.4h0M632.2 194.8h0M624.4 232.9h0M718.3 206.0h0M706.8 215.3h0M644.0 208.5h0M758.0 231.9h0M618.0 231.6h0M680.0 215.7h0M676.1 199.0h0M698.5 222.7h0M612.6 261.8h0M621.0 227.2h0M729.2 208.5h0M728.9 167.7h0M684.4 253.4h0M715.7 226.0h0M776.3 263.8h0M622.7 206.2h0M604.6 228.3h0M737.0 260.4h0M610.3 229.4h0M680.1 206.4h0M705.6 225.8h0M657.7 239.4h0M619.9 257.6h0M610.0 208.5h0M738.2 222.1h0M711.1 210.3h0M674.3 227.3h0M619.7 250.8h0M737.3 239.6h0M645.7 221.3h0M619.3 190.0h0M630.4 231.7h0M734.3 245.6h0M791.2 253.9h0M779.3 224.8h0M710.5 222.8h0M735.4 260.0h0M668.0 210.7h0M734.7 222.6h0M755.5 240.0h0M626.1 202.9h0M655.5 219.2h0M712.0 230.7h0M649.2 223.8h0M712.9 227.8h0M624.4 222.8h0M727.5 224.8h0M784.2 228.3h0M651.8 230.2h0M646.9 214.4h0M720.2 198.8h0M729.1 179.3h0M604.9 253.7h0M719.0 253.6h0M659.2 234.7h0M618.2 250.8h0M657.4 214.0h0M633.3 215.0h0M635.1 243.9h0M701.8 218.7h0M649.7 228.3h0M712.0 225.5h0M732.8 194.4h0M669.3 220.5h0M717.6 257.7h0M704.2 233.1h0M609.8 258.6h0M632.4 236.5h0M681.7 225.5h0M631.1 215.9h0M677.7 197.0h0M624.2 228.6h0M628.5 218.9h0M649.2 240.1h0M684.7 222.3h0M657.6 222.4h0M614.4 194.0h0M629.3 221.7h0M656.0 255.8h0M628.6 219.5h0M656.7 222.0h0M622.1 222.0h0M623.7 240.5h0M776.3 229.2h0M724.4 228.0h0M675.6 225.7h0M673.1 197.9h0M687.0 191.1h0M675.4 213.1h0M672.5 228.1h0M713.8 232.7h0M770.7 252.2h0M782.4 253.3h0M630.9 214.7h0M734.0 212.0h0M740.3 263.3h0M695.7 205.7h0M733.6 218.6h0M674.5 209.8h0M647.3 227.3h0M702.5 189.4h0M701.9 194.1h0M695.4 209.2h0M717.9 229.9h0M659.3 254.2h0M674.4 224.6h0M739.3 256.6h0M639.2 198.0h0M636.2 210.8h0M695.2 221.2h0M717.6 230.1h0M630.4 238.2h0M717.4 207.3h0M702.2 224.3h0M708.8 215.2h0M622.7 221.3h0M697.6 230.3h0M624.1 200.2h0M656.8 259.0h0M741.2 230.7h0M763.4 242.9h0M612.5 207.7h0M651.7 213.0h0M732.9 242.3h0M648.3 221.3h0M735.5 238.3h0M612.3 214.8h0M653.3 218.7h0M605.2 238.3h0M737.7 264.1h0M682.4 230.4h0M712.3 174.8h0M632.8 240.6h0M637.7 223.0h0M783.0 258.3h0M647.1 231.8h0M685.7 261.3h0M699.6 230.2h0M614.0 223.9h0M728.7 196.6h0M654.4 249.2h0M729.0 162.6h0M628.7 240.5h0M676.2 227.2h0M639.7 248.0h0M642.7 230.9h0M644.1 217.2h0M673.9 228.7h0M663.7 233.0h0M696.7 215.8h0M722.5 243.5h0M649.6 214.3h0M629.2 232.2h0M689.4 238.4h0M670.1 217.8h0M630.8 227.0h0M676.3 262.6h0M686.4 217.4h0M697.8 219.0h0M615.3 221.9h0M717.4 191.1h0M683.4 239.8h0M722.4 212.1h0M653.6 220.0h0M612.4 234.6h0M690.0 213.6h0M648.3 238.8h0M765.2 230.0h0M639.3 247.2h0M668.0 193.7h0M684.4 225.7h0M639.2 239.4h0M723.4 228.7h0M615.9 237.5h0M603.8 253.8h0M650.0 231.9h0M635.6 244.7h0M660.9 250.4h0M633.4 224.7h0M718.8 207.7h0M689.6 205.3h0M652.6 264.8h0M678.8 231.8h0M627.0 240.5h0M619.8 216.7h0M650.1 201.7h0M776.5 230.8h0M634.9 227.3h0M712.5 252.6h0M608.8 215.4h0M652.7 197.5h0M730.5 256.8h0M731.2 236.9h0M659.9 256.9h0M680.0 190.4h0M714.9 225.0h0M640.9 234.1h0M651.1 240.5h0M698.8 247.8h0M698.2 219.4h0M627.6 251.2h0" stroke="#f68a3c" stroke-width="2.60" stroke-opacity="0.74"/>
<path d="M792.9 208.1h0M748.0 183.3h0M771.3 177.9h0M768.4 205.1h0M755.8 173.3h0M775.3 186.8h0M758.9 208.0h0M763.8 200.9h0M785.0 148.6h0M744.3 193.8h0M753.1 174.6h0M774.8 155.6h0M762.6 147.3h0M775.0 174.0h0M771.6 171.3h0M753.3 184.8h0M761.1 186.3h0M776.3 181.3h0M759.6 212.5h0M781.0 203.8h0M783.1 207.1h0M739.2 208.6h0M762.6 212.1h0M785.2 181.9h0M741.5 219.9h0M779.1 170.2h0M765.1 187.6h0M770.6 217.4h0M762.4 221.1h0M739.7 190.9h0M771.7 163.7h0M761.0 181.9h0M788.9 190.6h0M744.4 215.5h0M749.4 211.4h0M784.0 178.9h0M754.3 202.6h0M791.1 191.3h0M773.7 190.0h0M754.3 176.6h0M777.3 206.3h0M738.2 218.4h0M757.8 183.3h0M755.3 182.8h0M756.4 201.1h0M773.8 207.2h0M780.7 199.6h0M755.8 163.0h0M737.2 209.8h0M798.0 202.5h0M761.8 200.5h0M796.8 182.8h0M761.9 187.2h0M766.4 194.2h0M794.6 166.5h0M789.8 200.9h0M764.9 172.1h0M742.9 179.9h0M739.2 148.7h0M766.8 162.8h0M798.1 155.0h0M798.8 201.6h0M775.6 199.3h0M785.4 215.7h0M786.6 175.3h0M742.3 206.9h0M787.4 187.2h0M773.1 212.5h0M774.5 167.4h0M789.4 186.8h0M749.4 168.0h0M775.9 197.6h0M790.1 218.8h0M758.6 221.2h0M764.2 183.8h0M791.1 172.7h0M745.4 173.2h0M763.9 178.3h0M779.7 201.6h0M796.5 172.1h0M795.0 201.9h0M763.9 174.4h0M755.8 196.8h0M786.6 207.3h0M747.2 183.2h0M744.1 209.9h0M771.2 176.0h0M799.4 170.6h0M779.3 189.6h0M795.7 202.3h0M757.3 192.2h0M772.7 170.8h0M737.8 184.6h0M757.6 213.5h0M795.7 192.0h0M759.9 197.2h0M749.8 159.2h0M777.9 182.5h0M767.9 184.6h0M799.7 159.6h0M775.1 146.8h0M746.7 176.8h0M754.6 168.4h0M754.0 159.6h0M788.6 181.9h0M737.2 174.9h0M736.9 183.6h0M748.7 175.5h0M781.7 184.2h0M793.9 211.1h0M782.6 178.9h0M774.9 195.2h0M748.8 204.3h0M769.6 197.1h0M747.4 196.3h0M755.9 205.2h0M790.7 186.5h0M746.1 205.2h0M755.9 174.6h0M760.2 192.6h0M781.0 176.5h0M746.6 181.2h0M773.6 170.3h0M758.8 160.4h0M766.1 220.1h0M786.4 160.6h0M756.0 196.0h0M742.5 186.8h0M763.5 202.9h0M748.1 183.4h0M758.4 172.1h0M770.2 196.5h0M775.8 154.7h0M763.7 186.4h0M775.2 210.4h0M758.0 186.3h0M775.8 164.7h0M775.2 161.3h0M744.4 195.4h0M784.6 191.8h0M792.4 172.0h0M770.1 171.8h0M764.0 203.2h0M741.6 175.4h0M743.7 194.8h0M773.3 204.3h0M790.2 196.8h0M736.8 180.4h0M773.2 207.8h0M792.3 165.7h0M766.8 205.9h0M791.4 182.9h0M783.3 209.4h0M770.8 187.8h0M745.4 187.2h0M789.6 193.2h0M771.2 172.0h0M785.9 162.4h0M768.1 190.7h0M769.5 196.9h0M756.7 218.2h0M785.6 219.1h0M784.3 165.0h0M762.8 166.6h0M772.8 208.0h0M735.9 210.6h0M767.5 178.1h0M796.0 216.0h0M771.8 198.9h0M764.0 218.1h0M764.4 188.3h0M777.2 178.2h0M763.3 211.0h0M741.8 156.7h0M763.6 198.0h0M766.0 203.2h0M753.1 194.1h0M742.5 195.2h0M785.6 155.3h0M775.9 187.2h0M751.2 159.6h0M773.8 156.9h0M768.2 176.1h0M746.6 188.2h0M748.2 165.0h0M764.4 185.7h0M755.5 213.8h0M785.5 212.4h0M775.6 203.7h0M763.7 205.7h0M755.0 196.9h0M786.2 179.3h0M778.6 195.1h0M774.4 186.9h0M764.0 185.3h0M774.4 220.4h0M741.9 161.3h0M739.3 162.1h0M777.0 187.8h0M771.5 188.0h0M759.6 151.2h0M778.3 217.3h0M772.9 204.6h0M772.7 192.6h0M792.0 206.1h0M752.1 197.6h0M748.2 208.7h0M740.4 167.1h0M737.7 191.6h0M793.4 189.4h0M791.1 198.1h0M782.0 164.3h0M761.5 189.2h0M780.3 172.7h0M787.3 173.7h0M761.3 218.8h0M774.8 170.3h0M755.8 178.5h0M787.0 182.1h0M787.1 210.2h0" stroke="#33ba9c" stroke-width="3.40" stroke-opacity="0.8"/>
<path d="M709.1 218.8h0M660.2 201.0h0M741.1 231.6h0M716.4 210.5h0M723.0 201.9h0M673.7 229.3h0M611.5 187.9h0M671.3 232.6h0M721.0 178.9h0M630.3 206.8h0M630.1 219.1h0M710.3 253.5h0M666.4 218.2h0M683.3 189.6h0M732.5 239.8h0M743.6 242.2h0M726.2 177.6h0M639.9 223.7h0M636.4 191.6h0M621.3 213.4h0M680.5 158.5h0M618.9 220.5h0M728.9 220.6h0M671.3 233.5h0M711.2 161.3h0M688.7 246.6h0M775.7 224.9h0M748.1 261.5h0M630.8 236.3h0M764.2 249.0h0M778.8 257.0h0M703.7 231.8h0M627.7 236.5h0M715.6 199.6h0M657.0 255.2h0M713.3 248.1h0M724.9 236.1h0M620.2 226.0h0M786.6 237.4h0M640.2 211.7h0M643.5 220.1h0M663.1 263.0h0M770.1 244.3h0M701.7 202.2h0M622.7 214.1h0M675.3 230.0h0M686.9 237.8h0M611.8 205.3h0M720.7 193.2h0M694.3 225.6h0M669.9 232.7h0M645.5 218.5h0M666.4 241.3h0M666.2 244.6h0M747.3 262.5h0M611.4 213.1h0M788.2 249.7h0M645.9 194.9h0M732.7 187.8h0M690.5 198.7h0M736.4 255.9h0M703.4 221.4h0M631.8 222.9h0M603.9 174.7h0M687.1 222.1h0M759.9 243.5h0M705.9 181.0h0M711.7 190.6h0M609.4 226.1h0M678.7 214.1h0M696.4 219.6h0M627.9 226.9h0M607.5 221.9h0M725.8 158.6h0M627.8 230.7h0M695.0 219.9h0M771.4 243.3h0M713.4 214.5h0M652.3 225.6h0M715.8 165.8h0M775.2 259.2h0M718.5 203.1h0M728.0 163.4h0M744.3 236.3h0M729.7 195.4h0M727.8 225.8h0M627.2 236.9h0M685.6 251.1h0M625.8 197.2h0M677.1 203.2h0M662.2 242.2h0M650.4 230.0h0M646.1 207.0h0M645.2 249.1h0M733.9 169.4h0M636.2 255.6h0M700.2 218.8h0M724.3 179.0h0M718.9 191.1h0M629.2 168.1h0M732.8 247.7h0M708.7 219.3h0M637.0 211.1h0M653.6 231.6h0M661.4 214.5h0M685.8 228.7h0M695.2 229.1h0M734.5 196.3h0M611.7 248.0h0M733.6 226.3h0M729.8 164.5h0M633.6 232.2h0M728.4 208.3h0M729.7 248.7h0M653.7 206.2h0M685.6 182.4h0M740.5 240.5h0M629.0 216.4h0M640.0 160.1h0M643.2 212.3h0M617.4 207.5h0M726.0 245.2h0M639.6 223.7h0M709.9 223.8h0M638.3 222.4h0M619.3 220.6h0M624.3 221.7h0M668.9 180.8h0M604.6 182.0h0M676.3 234.6h0M677.2 234.1h0M693.8 219.9h0M641.9 219.4h0M709.2 220.5h0M660.8 241.3h0M706.4 194.9h0M697.3 199.7h0M752.7 242.2h0M653.0 192.8h0M643.3 222.7h0M640.8 219.1h0M776.4 249.2h0M735.0 182.8h0M705.3 190.0h0M616.1 231.3h0M616.8 228.8h0M609.2 263.6h0M634.1 234.1h0M672.3 242.9h0M608.0 257.4h0M657.3 242.5h0M638.5 227.5h0M757.2 235.1h0M685.7 240.4h0M695.2 185.8h0M657.2 226.6h0M629.5 227.2h0M718.2 254.4h0M718.7 188.4h0M663.1 217.5h0M679.8 191.6h0M680.0 189.0h0M720.2 238.9h0M698.3 236.0h0M684.1 250.7h0M665.9 205.5h0M673.4 231.3h0M657.3 252.1h0M630.7 240.0h0M662.8 226.1h0M693.5 171.7h0M649.0 234.1h0M630.3 179.2h0M722.8 208.7h0M625.0 196.4h0M712.9 203.5h0M778.3 235.5h0M647.1 234.2h0M638.0 196.9h0M674.1 207.4h0M724.7 221.3h0M704.1 196.1h0M638.0 174.3h0M698.9 203.6h0M683.0 235.0h0M727.1 192.8h0M778.8 244.3h0M702.4 199.0h0M634.0 204.3h0M757.6 247.7h0M615.1 207.3h0M645.2 215.6h0M633.2 209.7h0M692.2 160.2h0M667.6 168.8h0M611.6 223.1h0M639.9 205.6h0M702.0 186.8h0M739.6 222.8h0M678.2 237.3h0M685.4 196.2h0M608.8 238.2h0M755.0 237.0h0M698.6 166.2h0M689.4 232.9h0M633.5 181.7h0M768.8 249.1h0M735.8 258.8h0M642.2 194.8h0M604.3 186.1h0M673.9 244.5h0M625.5 223.7h0M706.5 180.6h0M764.2 261.3h0M646.3 192.5h0M646.2 237.1h0M727.6 262.6h0M637.9 216.5h0M641.6 231.0h0M720.8 188.2h0" stroke="#f68a3c" stroke-width="1.60" stroke-opacity="0.74"/>
<path d="M658.1 180.5h0M650.4 234.2h0M700.2 257.3h0M654.6 228.9h0M727.7 222.5h0M667.6 213.2h0M660.2 219.4h0M691.5 245.4h0M705.5 195.8h0M631.3 226.3h0M620.5 212.1h0M693.7 198.9h0M691.0 213.1h0M693.6 231.8h0M705.5 185.3h0M672.9 201.8h0M720.6 207.4h0M738.1 245.4h0M637.2 252.2h0M700.3 210.4h0M628.0 244.4h0M651.4 213.7h0M647.6 196.5h0M614.0 228.2h0M636.4 216.5h0M617.8 226.7h0M634.8 203.1h0M642.5 191.0h0M650.4 258.9h0M765.7 228.7h0M633.1 214.8h0M636.6 218.3h0M692.8 233.8h0M605.9 233.2h0M643.9 256.4h0M788.2 244.9h0M620.2 262.4h0M605.9 240.7h0M715.2 237.3h0M657.4 238.8h0M739.8 241.5h0M613.6 232.0h0M695.3 255.7h0M666.0 239.9h0M651.8 252.7h0M629.2 243.4h0M626.9 223.3h0M709.7 203.5h0M638.0 255.8h0M679.0 225.7h0M637.6 203.4h0M721.5 229.1h0M654.1 203.1h0M733.0 169.3h0M698.9 235.4h0M741.6 228.8h0M652.4 264.4h0M638.0 250.1h0M678.4 222.4h0M678.1 227.1h0M709.1 212.8h0M606.6 218.5h0M677.7 241.9h0M633.1 224.4h0M663.2 225.6h0M776.0 247.0h0M641.4 196.8h0M704.8 200.3h0M670.3 243.1h0M606.9 230.2h0M673.6 208.2h0M673.3 215.8h0M711.3 203.5h0M679.7 195.1h0M717.6 182.5h0M630.7 193.0h0M658.6 228.9h0M666.0 222.2h0M661.7 236.8h0M638.6 230.6h0M661.1 217.6h0M651.1 220.0h0M660.0 239.6h0M700.0 227.6h0M611.5 232.4h0M608.0 244.7h0M725.2 185.8h0M716.4 191.3h0M738.5 234.5h0M771.7 226.7h0M718.0 199.3h0M645.2 215.7h0M709.9 248.5h0M631.5 204.0h0M770.1 234.2h0M763.1 241.6h0M658.9 188.7h0M613.1 259.6h0M733.1 211.5h0M641.9 223.9h0M726.7 184.5h0M604.3 224.6h0M656.6 217.6h0M635.3 227.6h0M638.4 207.2h0M652.8 226.6h0M722.6 161.8h0M629.1 245.5h0M618.1 243.5h0M686.5 212.4h0M621.3 225.9h0M693.2 221.8h0M634.1 209.9h0M721.4 173.1h0M724.3 205.4h0M731.6 229.9h0M645.6 231.1h0M677.8 226.6h0M664.6 211.4h0M735.5 250.4h0M680.1 205.5h0M675.1 202.5h0M631.4 223.3h0M662.4 209.3h0M624.1 224.6h0M664.8 222.8h0M701.3 196.5h0M705.8 217.9h0M751.6 233.4h0M603.8 233.1h0M660.5 224.7h0M635.6 217.8h0M626.3 169.6h0M615.8 212.2h0M681.9 206.0h0M666.3 199.4h0M769.9 226.6h0M650.4 190.7h0M752.2 241.1h0M614.4 240.6h0M627.4 214.2h0M714.1 182.1h0M680.6 219.8h0M723.8 173.5h0M649.5 216.9h0M721.0 207.1h0M687.5 237.8h0M698.3 234.8h0M658.5 209.6h0M634.1 251.0h0M604.1 244.1h0M682.7 226.6h0M683.0 226.0h0M631.1 197.1h0M775.2 226.1h0M761.4 258.0h0M623.0 223.6h0M607.8 221.9h0M655.6 237.8h0M675.8 220.2h0M608.0 224.8h0M640.1 214.6h0M684.6 234.5h0M669.2 213.6h0M735.2 228.1h0M738.6 228.3h0M718.9 192.9h0M769.9 234.2h0M671.2 264.1h0M716.1 151.1h0M647.6 218.4h0M788.4 244.1h0M753.9 239.9h0M710.2 263.6h0M662.4 227.1h0M613.8 223.7h0M644.1 207.3h0M665.1 238.4h0M666.4 232.8h0M620.1 175.7h0M703.6 258.0h0M684.6 173.3h0M742.3 257.9h0M709.2 191.1h0M672.9 236.0h0M757.4 228.0h0M622.7 175.9h0M732.0 237.6h0M711.7 208.3h0M710.8 189.2h0M691.3 219.4h0M616.9 227.2h0M767.0 228.8h0M628.8 252.8h0M663.8 217.5h0M625.7 254.7h0M729.1 222.1h0M713.9 213.0h0M733.2 188.9h0M712.6 193.2h0M704.8 157.2h0M661.7 249.1h0M695.3 239.0h0M693.3 221.1h0M621.6 215.8h0M703.3 200.1h0M645.0 224.8h0M640.1 209.8h0M672.4 225.8h0M620.1 225.3h0M777.7 237.1h0M733.9 231.1h0M642.0 228.1h0M625.3 192.6h0M749.4 225.4h0M677.7 238.9h0M700.3 171.0h0M660.9 228.6h0M672.4 224.1h0M785.2 254.7h0" stroke="#f68a3c" stroke-width="2.00" stroke-opacity="0.74"/>
<path d="M596.2 222.7h0" stroke="#e9594e" stroke-width="6.80" stroke-opacity="0.68"/>
<path d="M668.2 178.7h0M732.3 161.2h0M654.5 222.3h0M626.5 227.9h0M646.7 215.0h0M715.6 240.7h0M677.3 248.5h0M727.8 256.3h0M720.7 215.7h0M765.5 222.5h0M605.5 223.0h0M668.8 239.8h0M730.8 190.7h0M674.5 217.9h0M790.6 225.8h0M733.8 160.7h0M659.9 248.0h0M725.6 149.6h0M628.5 231.9h0M694.5 203.2h0M720.7 198.5h0M633.8 178.7h0M636.4 227.7h0M615.8 228.6h0M788.4 249.2h0M686.0 237.3h0M725.8 185.7h0M686.0 224.8h0M787.9 255.7h0M672.9 193.4h0M608.5 146.4h0M660.1 226.3h0M689.9 202.6h0M638.6 146.2h0M789.0 244.8h0M607.3 253.1h0M657.0 190.1h0M610.7 220.9h0M734.6 207.2h0M658.4 224.9h0M631.0 177.1h0M656.8 199.3h0M703.9 207.3h0M708.7 252.3h0M743.7 254.5h0M612.8 213.6h0M626.2 222.3h0M651.7 230.3h0M752.2 256.1h0M616.5 245.3h0M645.4 239.4h0M647.9 224.1h0M716.9 214.0h0M664.3 211.7h0M714.7 199.6h0M627.1 233.9h0M670.6 243.1h0M730.3 221.9h0M710.0 160.3h0M759.4 230.0h0M664.8 179.3h0M618.6 209.4h0M733.0 227.8h0M687.7 210.9h0M692.2 192.8h0M699.3 222.1h0M612.0 242.8h0M642.5 218.0h0M618.5 174.9h0M765.5 256.8h0M691.7 198.6h0M645.0 255.6h0M725.8 234.8h0M630.5 215.4h0M723.7 227.5h0M707.2 169.0h0M605.9 195.5h0M753.8 249.9h0M733.1 206.7h0M695.6 223.9h0M726.3 234.3h0M714.7 162.5h0M660.1 263.0h0M780.9 232.4h0M656.8 193.7h0M644.4 234.0h0M653.5 239.9h0M622.4 249.2h0M618.2 217.7h0M652.1 236.4h0M662.3 208.1h0M615.9 223.1h0M778.4 245.9h0M685.2 191.2h0M692.3 175.2h0M616.3 227.1h0M728.4 199.2h0M657.0 240.8h0M651.2 235.2h0M719.5 183.5h0M655.7 219.6h0M698.9 238.6h0M628.0 224.0h0M720.5 168.7h0M689.6 224.4h0M664.4 221.4h0M722.7 189.4h0M643.0 227.3h0M684.7 173.6h0M667.0 213.8h0M695.5 216.7h0M782.2 256.9h0M655.6 227.4h0M731.4 151.3h0M725.8 207.4h0M681.6 214.7h0M705.9 197.5h0M662.3 227.9h0M648.2 216.2h0M723.9 218.0h0M636.1 237.4h0M612.1 239.7h0M733.7 263.2h0M618.1 242.2h0M617.2 219.2h0M697.1 209.8h0M707.9 191.8h0M648.1 219.4h0M723.4 188.7h0M702.0 201.8h0M705.7 216.1h0M646.0 213.8h0M658.0 155.1h0M775.5 246.9h0M703.7 191.5h0M662.2 197.0h0M658.2 222.2h0M630.6 194.7h0M612.6 231.9h0M705.7 209.8h0M714.0 186.1h0M718.9 149.9h0M655.3 227.6h0M721.6 196.3h0M677.0 206.6h0M642.0 222.2h0M699.7 189.9h0M704.1 202.4h0M741.0 237.8h0M728.3 258.0h0M606.1 229.0h0M609.4 221.9h0M629.2 211.2h0M634.5 211.0h0M779.8 223.0h0M698.1 193.5h0M695.7 205.3h0M635.4 229.2h0M797.5 236.8h0M665.5 231.5h0M717.2 206.2h0M702.6 194.6h0M635.9 215.5h0M635.5 219.4h0M717.8 240.7h0M616.0 221.3h0M672.9 229.6h0M689.3 234.7h0M681.2 232.0h0M625.4 248.4h0M706.7 183.2h0M612.3 240.5h0M649.8 256.4h0M668.8 175.4h0M644.7 193.4h0M709.1 208.7h0M706.4 191.0h0M682.6 216.3h0M621.4 232.4h0M752.8 233.4h0M653.6 223.9h0M672.0 200.7h0M604.3 224.8h0M629.1 223.1h0M604.1 241.3h0M699.2 223.6h0M631.2 164.6h0M631.3 193.2h0M717.0 247.8h0M671.0 169.5h0M752.7 249.3h0M621.6 259.7h0M608.4 176.9h0M709.2 250.6h0M713.6 191.0h0M706.9 178.5h0M724.9 168.5h0M659.0 230.0h0M641.0 259.6h0M717.5 248.7h0M652.0 209.2h0M698.2 195.0h0M722.4 180.3h0M733.4 174.0h0M640.8 225.7h0M725.1 223.2h0M639.1 210.4h0M790.5 252.9h0M734.2 181.7h0M673.5 219.8h0M718.7 169.7h0M638.3 164.6h0M766.8 246.4h0M726.5 196.1h0M650.4 214.6h0M771.4 224.2h0M635.2 228.6h0M618.1 236.4h0M713.7 200.1h0M654.2 196.8h0" stroke="#f68a3c" stroke-width="1.60" stroke-opacity="0.74"/>
<path d="M773.7 250.4h0M780.0 234.3h0M611.4 228.8h0M613.5 230.6h0M640.0 227.3h0M614.0 227.4h0M723.8 203.9h0M679.7 215.8h0M703.7 212.9h0M746.7 261.7h0M697.2 183.1h0M678.1 229.7h0M630.8 211.5h0M705.3 232.2h0M636.5 177.3h0M796.7 225.9h0M604.5 197.9h0M693.9 204.3h0M604.1 217.0h0M722.4 175.6h0M734.2 168.0h0M683.7 183.0h0M698.0 211.1h0M720.1 224.5h0M736.8 244.4h0M655.0 249.0h0M726.7 213.0h0M765.9 248.3h0M705.0 236.6h0M706.9 209.6h0M723.4 193.4h0M633.7 237.3h0M715.5 146.7h0M619.8 233.4h0M644.8 248.3h0M648.8 198.8h0M652.2 228.8h0M707.6 239.0h0M734.1 185.9h0M661.8 229.0h0M674.1 232.4h0M702.8 217.6h0M725.6 217.5h0M645.6 246.3h0M633.9 202.2h0M779.3 231.2h0M635.8 212.6h0M733.2 210.7h0M628.0 227.5h0M706.1 204.7h0M610.4 220.6h0M607.6 190.8h0M687.6 217.0h0M661.0 213.7h0M693.3 214.5h0M784.4 245.8h0M648.6 217.3h0M719.5 230.1h0M691.3 202.4h0M675.9 170.5h0M711.3 189.5h0M737.1 224.9h0M726.8 173.7h0M758.3 236.2h0M738.0 236.3h0M773.3 232.8h0M606.7 263.7h0M770.9 234.6h0M722.3 180.1h0M716.5 195.6h0M643.1 224.5h0M635.8 222.0h0M672.5 231.1h0M765.6 225.8h0M725.8 246.8h0M643.5 229.6h0M713.8 180.1h0M664.0 239.2h0M632.4 237.9h0M707.9 180.5h0M673.1 250.6h0M698.7 155.1h0M716.1 183.9h0M672.4 219.1h0M730.1 255.0h0M606.6 260.0h0M648.7 209.4h0M664.2 228.2h0M673.9 221.8h0M743.9 228.5h0M667.0 245.3h0M738.6 222.6h0M720.2 193.5h0M687.1 260.7h0M627.3 241.3h0M631.4 216.7h0M676.2 261.5h0M651.5 213.5h0M622.2 199.5h0M720.7 203.8h0M699.7 216.1h0M619.4 217.1h0M669.3 192.5h0M643.9 218.3h0M695.4 239.6h0M681.5 235.5h0M694.2 212.6h0M725.3 261.6h0M703.0 167.1h0M605.8 212.4h0M669.2 192.8h0M700.3 252.7h0M732.6 180.0h0M693.4 244.2h0M714.8 235.7h0M607.2 220.1h0M681.8 248.7h0M706.4 187.6h0M672.2 218.5h0M634.8 194.5h0M696.6 217.9h0M629.9 196.4h0M713.8 175.4h0M732.2 202.5h0M710.0 186.7h0M662.0 216.0h0M629.7 257.9h0M664.3 226.0h0M672.7 232.3h0M728.1 212.7h0M709.8 251.1h0M654.0 254.3h0M642.5 204.2h0M628.1 236.9h0M683.4 243.5h0M662.8 250.8h0M656.7 239.9h0M608.4 202.3h0M604.3 205.6h0M699.0 202.4h0M655.5 234.8h0M613.9 218.6h0M623.9 230.8h0M634.4 234.2h0M680.6 191.4h0M699.7 215.1h0M776.7 237.8h0M681.1 200.9h0M702.4 229.7h0M661.5 261.7h0M712.4 244.7h0M647.6 208.2h0M641.9 232.6h0M688.6 226.1h0M629.6 223.6h0M687.9 213.9h0M637.1 222.6h0M657.4 236.8h0M634.3 230.6h0M712.1 186.4h0M730.1 174.7h0M619.4 236.3h0M631.0 202.0h0M621.9 195.0h0M618.2 214.7h0M736.9 224.7h0M651.4 244.6h0M631.0 255.4h0M669.9 227.7h0M615.3 248.1h0M642.9 202.0h0M712.3 246.7h0M642.7 255.8h0M747.0 249.2h0M746.6 258.1h0M709.6 238.3h0M791.8 254.6h0M643.9 249.5h0M607.1 222.0h0M694.5 213.5h0M742.6 227.1h0M632.8 214.0h0M701.2 187.6h0M712.1 222.2h0M707.2 212.8h0M733.7 157.9h0M677.7 236.2h0M742.3 250.1h0M705.2 175.6h0M627.5 255.1h0M739.1 237.7h0M723.6 209.5h0M722.2 198.1h0M614.3 228.0h0M703.6 183.4h0M779.6 256.2h0M661.7 249.8h0M752.9 258.9h0M670.1 233.3h0M702.2 220.4h0M652.4 227.6h0M643.2 225.9h0M756.5 236.0h0M782.3 233.9h0M646.0 229.5h0M658.3 210.7h0M671.1 204.7h0M622.2 222.2h0M611.3 166.1h0M676.6 203.5h0M720.4 162.5h0M687.9 202.7h0M656.3 219.5h0M624.6 155.0h0M612.5 223.4h0M736.5 230.6h0M655.0 209.7h0M624.5 229.7h0M726.9 183.3h0M770.1 223.1h0" stroke="#f68a3c" stroke-width="2.00" stroke-opacity="0.74"/>
<path d="M779.3 181.5h0M772.4 181.8h0M791.5 195.3h0M768.1 167.7h0M796.0 163.2h0M769.6 161.9h0M767.7 164.0h0M761.4 196.0h0M767.9 152.2h0M744.4 177.7h0M785.3 161.7h0M747.8 177.5h0M742.2 199.9h0M756.7 150.9h0M776.1 154.6h0M760.8 160.1h0M769.5 187.6h0M751.7 164.6h0M771.0 180.0h0M788.9 219.7h0M760.7 170.2h0M746.1 219.8h0M750.8 214.2h0M788.2 158.7h0M760.0 170.2h0M737.3 216.3h0M757.5 168.1h0M738.2 215.6h0M798.7 161.3h0M766.7 180.4h0M778.7 176.6h0M755.6 178.0h0M767.7 154.2h0M740.3 203.8h0M751.9 155.0h0M736.5 192.9h0M770.1 195.3h0M797.6 167.8h0M799.8 163.9h0M780.5 182.8h0M764.6 178.9h0M736.5 220.7h0M787.6 188.3h0M767.6 154.3h0M794.0 194.1h0M778.7 156.8h0M770.0 185.0h0M761.6 155.2h0M763.1 157.2h0M747.1 175.9h0M759.2 194.8h0M771.0 173.2h0M757.4 183.9h0M790.0 197.5h0M776.8 171.6h0M767.4 207.9h0M767.2 171.8h0M778.0 185.5h0M763.7 151.6h0M795.2 198.9h0M750.8 184.9h0M773.4 162.6h0M759.4 161.7h0M741.2 198.3h0M771.1 218.9h0M777.0 155.4h0M793.8 177.0h0M761.7 195.3h0M799.9 196.3h0M784.0 191.6h0M797.4 172.6h0M747.7 200.4h0M760.2 181.2h0M747.3 185.1h0M785.7 167.8h0M794.9 203.4h0M760.2 172.0h0M787.8 182.3h0M785.0 170.9h0M781.9 169.0h0M736.5 180.5h0M767.0 170.9h0M775.5 196.3h0M780.4 176.1h0M755.6 166.8h0M772.5 167.1h0M796.4 179.9h0M736.5 194.0h0M795.0 220.2h0M780.3 184.0h0M751.7 196.2h0M766.0 209.5h0M751.8 192.6h0M751.0 180.1h0M780.9 154.3h0M743.6 147.9h0M762.6 180.8h0M785.0 191.8h0M748.5 208.6h0M771.8 155.9h0M768.5 179.7h0M765.0 164.4h0M788.6 192.5h0M742.7 166.9h0M787.6 201.4h0M765.9 170.3h0M789.3 157.0h0M741.5 160.9h0M766.1 167.1h0M780.4 204.0h0M787.3 188.6h0M798.7 162.1h0M760.2 215.2h0M768.4 176.9h0M790.4 183.4h0M744.7 220.6h0M750.8 189.5h0M757.8 205.1h0M776.5 173.1h0M746.8 213.4h0M788.4 187.8h0M763.9 168.7h0M754.4 181.5h0M790.7 174.3h0M761.4 219.0h0M740.1 203.9h0M786.7 179.4h0M796.8 161.5h0M744.6 217.6h0M759.7 172.5h0M755.0 221.0h0M777.5 202.8h0M755.8 212.5h0M794.7 172.6h0M781.5 150.1h0M793.8 212.9h0M741.7 191.8h0M761.3 202.7h0M750.7 158.7h0M754.5 181.8h0M757.2 184.0h0M752.4 176.4h0M781.0 208.8h0M765.1 161.9h0M776.5 196.3h0M748.0 182.0h0M793.2 169.1h0M772.4 186.7h0M752.3 170.9h0M778.8 192.6h0M764.6 182.2h0M746.7 178.8h0M757.6 188.9h0M759.3 179.3h0M778.5 162.7h0M740.4 178.7h0M785.5 159.7h0M766.4 160.4h0M791.5 168.8h0M783.9 191.8h0M762.6 191.5h0M742.0 179.1h0M737.2 199.9h0M766.4 170.2h0M766.6 194.3h0M775.3 200.6h0M745.0 196.5h0M761.0 166.2h0M764.5 195.0h0M794.1 201.3h0M751.1 192.7h0M765.6 192.3h0M773.0 186.9h0M737.7 187.8h0M753.7 174.2h0M740.8 172.2h0M736.8 212.6h0M753.7 183.1h0M776.0 153.0h0M784.8 174.8h0M752.7 187.4h0M792.6 182.2h0M779.9 192.8h0M797.5 180.2h0M774.1 162.8h0M789.3 180.1h0M735.4 213.4h0M746.4 152.0h0M790.2 181.8h0M737.0 187.0h0M772.3 167.2h0M748.8 149.0h0M741.2 183.4h0M759.7 149.0h0M759.8 180.7h0M796.5 187.9h0M749.8 184.2h0M779.2 186.1h0M753.5 167.2h0M782.3 150.3h0M757.8 161.7h0M767.2 203.1h0M745.3 206.8h0M758.1 154.5h0M758.3 174.0h0M764.1 164.8h0M761.1 161.3h0M788.4 160.2h0M769.1 170.7h0M771.3 206.5h0M799.0 192.7h0M784.1 148.9h0M768.7 149.1h0M764.7 189.5h0M796.3 147.3h0M759.4 187.5h0M762.2 207.8h0M753.7 176.7h0M749.0 168.5h0M741.4 190.4h0" stroke="#33ba9c" stroke-width="1.60" stroke-opacity="0.8"/>
<path d="M597.6 250.6h0M571.0 219.7h0M527.8 238.9h0M499.0 192.0h0M508.6 244.8h0M593.2 242.7h0M572.5 212.6h0M769.0 345.7h0M599.5 231.9h0M581.9 249.8h0M570.5 242.9h0M696.6 303.7h0M601.3 253.9h0M596.8 243.9h0M564.8 270.6h0M674.1 295.5h0M528.9 229.9h0M574.8 214.8h0M596.4 247.1h0M666.1 318.3h0M578.9 200.0h0M569.6 172.3h0M628.9 309.1h0M562.2 161.9h0M517.6 213.4h0M590.5 219.8h0M719.9 283.2h0M571.2 208.3h0M786.7 299.8h0M567.2 218.4h0M643.6 278.4h0M652.1 271.4h0M698.5 275.8h0M585.9 240.3h0M602.8 212.6h0M563.5 217.7h0M567.2 237.1h0M588.6 305.8h0M548.9 265.2h0M605.0 273.1h0M585.3 186.7h0M718.5 278.7h0M685.4 291.2h0M691.6 267.4h0M746.9 309.4h0M559.9 248.7h0M727.2 297.6h0M588.4 269.7h0M497.1 263.8h0M598.5 230.1h0M558.1 264.8h0M575.4 226.7h0M540.1 205.5h0M585.5 260.5h0M536.9 291.8h0M484.1 209.8h0M585.1 229.2h0M586.4 246.5h0M559.3 314.6h0M606.5 273.0h0M570.7 237.7h0M712.8 303.6h0M655.9 282.2h0M677.4 303.5h0M596.3 219.8h0M545.1 227.9h0M580.7 227.0h0M588.7 251.5h0M613.5 280.7h0M622.2 266.5h0M559.3 251.0h0M575.5 163.0h0M596.7 196.8h0M586.6 251.6h0M600.1 231.8h0M632.5 307.1h0M578.0 285.9h0M709.7 311.1h0M576.0 276.8h0M624.2 311.1h0M562.4 231.9h0M510.1 247.0h0M564.1 242.6h0M573.7 258.3h0M557.2 221.8h0M527.5 210.2h0M566.1 236.2h0M538.5 294.7h0M531.9 192.3h0M583.3 234.6h0M771.1 277.8h0M538.3 249.7h0M538.4 240.1h0M586.5 237.2h0M763.2 313.1h0M599.2 272.7h0M538.5 269.3h0M551.9 260.4h0M633.1 270.1h0M710.0 284.4h0M558.0 185.2h0M663.4 273.4h0M665.5 276.8h0M681.5 278.6h0M588.0 182.6h0M595.6 219.4h0M598.8 186.7h0M588.2 242.8h0M790.0 266.3h0M576.4 240.3h0M593.1 223.6h0M630.7 308.6h0M527.3 244.2h0M669.3 294.6h0M713.2 273.4h0M650.5 350.1h0M593.2 234.4h0M572.2 260.0h0M691.8 288.6h0M592.5 160.2h0M507.4 315.6h0M710.4 339.7h0M600.3 217.0h0M570.6 257.4h0M792.3 269.3h0M563.5 249.1h0M568.7 234.1h0M546.2 272.0h0M594.1 227.5h0M628.1 310.1h0M799.2 372.5h0M592.3 208.7h0M570.8 179.4h0M579.7 187.3h0M608.3 313.7h0M601.4 254.2h0M772.0 322.5h0M593.7 192.1h0M583.0 204.0h0M568.4 238.1h0M566.5 288.0h0M652.0 265.5h0M489.3 242.4h0M550.3 265.2h0M589.6 229.0h0M559.5 222.7h0M539.1 257.6h0M555.0 250.2h0M568.2 177.1h0M603.4 223.6h0M735.8 269.6h0M580.6 203.5h0M537.8 231.0h0M593.2 224.1h0M602.1 174.9h0M595.9 225.9h0M589.1 209.5h0M685.5 308.5h0M588.5 239.8h0M560.8 240.9h0M674.9 298.4h0M599.5 202.0h0M546.3 232.2h0M521.3 264.1h0M542.4 231.1h0M564.7 229.1h0M559.1 179.0h0M534.0 262.8h0M596.8 312.9h0M578.5 274.9h0M579.0 277.1h0M712.8 304.9h0M744.1 298.0h0M538.0 249.2h0M758.7 279.4h0M542.1 228.0h0M735.1 278.6h0M683.2 327.0h0M597.5 270.7h0M651.9 278.3h0M602.2 249.6h0M588.2 172.4h0M519.4 265.7h0M687.3 277.3h0M623.8 289.1h0M585.9 256.1h0M597.2 178.1h0M633.2 313.4h0M686.4 271.3h0M716.8 273.6h0M618.8 305.9h0M534.6 166.2h0M579.5 304.4h0M556.6 273.3h0M566.1 291.6h0M579.6 252.0h0M590.0 201.7h0M546.3 235.0h0M685.1 354.2h0M750.0 305.0h0M581.0 244.0h0M594.4 226.4h0M597.0 215.7h0M689.6 298.0h0M569.9 246.2h0M573.4 229.9h0M576.8 232.4h0M548.0 283.2h0M541.7 171.7h0M673.9 283.1h0M648.2 266.3h0M557.5 249.1h0M658.2 299.1h0M533.4 230.4h0M514.8 174.4h0M564.6 279.0h0M762.9 280.7h0M498.1 269.8h0M553.6 237.7h0M601.4 248.0h0" stroke="#e9594e" stroke-width="1.60" stroke-opacity="0.68"/>
<path d="M748.3 157.9h0M749.7 172.1h0M765.4 147.0h0M757.2 170.5h0M787.4 186.7h0M760.1 155.1h0M740.4 156.7h0M797.2 169.2h0M771.7 155.9h0M758.3 219.7h0M736.4 187.1h0M787.0 171.3h0M792.9 155.8h0M749.6 174.6h0M791.6 190.7h0M782.7 201.4h0M770.6 210.1h0M782.0 175.3h0M775.0 154.3h0M775.8 162.5h0M747.3 191.4h0M788.9 179.6h0M789.0 167.4h0M771.7 182.8h0M766.2 184.1h0M735.9 221.6h0M752.4 152.8h0M789.3 148.6h0M765.1 148.7h0M791.4 165.0h0M758.3 149.4h0M744.8 167.4h0M736.7 174.8h0M754.0 211.5h0M742.8 161.2h0M743.0 203.7h0M783.0 171.4h0M775.7 172.9h0M783.8 173.7h0M751.6 181.7h0M792.8 157.8h0M737.5 170.2h0M797.0 153.3h0M767.4 151.9h0M764.3 169.1h0M778.2 153.2h0M794.3 159.0h0M795.2 146.2h0M777.6 163.7h0M784.0 155.7h0M789.3 160.1h0M797.2 147.6h0M783.1 178.4h0M794.2 152.2h0M777.6 185.6h0M743.0 148.1h0M772.8 167.7h0M739.1 157.9h0M774.0 159.3h0M743.4 151.7h0M772.2 162.6h0M747.1 155.7h0M750.5 204.5h0M782.3 168.1h0M736.8 174.4h0M772.6 153.5h0M748.9 164.7h0M778.7 162.2h0M756.3 183.2h0M760.3 168.5h0M781.3 167.2h0M756.1 152.0h0M775.8 160.2h0M736.4 194.7h0M799.7 217.9h0M768.7 170.0h0M798.9 148.8h0M751.7 190.6h0M738.8 179.1h0M779.8 167.6h0M774.2 178.4h0M781.9 175.9h0M777.8 173.3h0M756.5 168.8h0M757.3 184.5h0M776.5 160.6h0M749.7 161.8h0M781.5 181.2h0M749.0 149.5h0M767.0 151.1h0M769.4 175.8h0M749.9 220.0h0M778.8 171.6h0M745.4 188.5h0M785.5 175.6h0M774.7 156.3h0M760.0 164.6h0M776.3 165.6h0M743.0 178.5h0M787.6 195.8h0M798.3 167.1h0M776.9 197.7h0M762.6 163.9h0M753.6 172.8h0M758.5 164.1h0M791.7 172.9h0M796.7 153.8h0M739.6 171.3h0M737.8 169.6h0M741.5 151.5h0M743.0 168.8h0M742.7 166.3h0M769.5 177.2h0M761.6 179.9h0M770.9 185.4h0M735.7 191.3h0M769.2 172.2h0M754.9 166.6h0M751.6 156.8h0M742.4 153.7h0M763.7 163.0h0M753.3 158.7h0M760.3 166.5h0M737.5 159.8h0M776.7 153.5h0M737.2 169.8h0M772.8 161.8h0M746.6 167.3h0M779.2 153.5h0M751.4 149.6h0M759.2 145.7h0M765.2 156.5h0M770.4 152.0h0M737.0 159.2h0M736.3 184.2h0M755.2 160.8h0M741.6 162.1h0M786.8 165.1h0M766.8 160.6h0M771.9 160.6h0M735.1 159.6h0M782.8 154.0h0M741.7 184.7h0M783.2 152.2h0M784.3 158.4h0M750.8 174.6h0M776.5 182.8h0M740.7 217.8h0M741.9 165.4h0M756.5 203.3h0M764.7 152.5h0M750.5 163.8h0M786.4 193.6h0M766.4 167.4h0M736.9 148.4h0M770.6 194.5h0M778.2 168.2h0M755.5 187.0h0M766.7 160.8h0M773.4 156.4h0M765.5 168.2h0M781.7 179.5h0M783.3 184.1h0M762.2 171.2h0M735.5 145.2h0M764.3 173.5h0M783.7 146.4h0M764.8 157.9h0M745.2 146.0h0M790.9 166.2h0M780.0 191.2h0M778.5 212.5h0M788.9 194.5h0M778.8 152.4h0M745.8 216.5h0M769.3 154.1h0M752.4 147.2h0M747.1 183.9h0M794.2 179.6h0M749.7 154.0h0M744.4 165.7h0M743.4 170.4h0M749.1 169.8h0M737.9 159.0h0M776.2 150.8h0M767.2 161.5h0M736.8 188.1h0M740.9 153.4h0M758.4 173.0h0M757.0 168.4h0M782.8 175.3h0M747.2 159.1h0M747.3 186.1h0M738.2 188.9h0M763.2 167.9h0M796.4 197.9h0M739.2 179.1h0M787.7 170.7h0M751.7 178.0h0M748.7 150.7h0M794.9 159.0h0M786.5 179.6h0M781.3 174.0h0M766.7 157.5h0M791.9 191.1h0M747.1 169.7h0M775.2 173.1h0M761.9 156.0h0M767.8 173.0h0M752.9 165.1h0M775.3 191.4h0M790.0 171.8h0M783.1 165.8h0M752.8 153.2h0M768.9 169.7h0M743.8 172.9h0M744.0 162.2h0M769.1 175.9h0M781.8 187.4h0M744.5 178.1h0" stroke="#33ba9c" stroke-width="0.60" stroke-opacity="0.8"/>
<path d="M770.0 155.4h0M744.1 191.7h0M781.0 166.3h0M798.9 203.6h0M755.9 186.5h0M782.9 173.7h0M774.9 172.2h0M764.7 191.1h0M752.6 193.6h0M793.7 199.8h0M750.2 176.1h0M774.2 173.9h0M766.6 178.0h0M772.4 196.5h0M774.6 203.2h0M746.7 184.9h0M758.5 197.4h0M793.7 145.5h0M767.4 218.7h0M735.8 203.3h0M757.3 197.8h0M735.7 160.6h0M755.0 168.3h0M740.7 187.6h0M767.2 207.1h0M741.1 176.4h0M753.5 192.0h0M785.0 185.0h0M780.1 214.9h0M750.1 196.5h0M777.6 159.5h0M777.9 168.7h0M782.6 200.0h0M765.4 174.1h0M761.9 198.4h0M770.4 155.1h0M780.0 188.8h0M735.3 187.9h0M765.9 192.6h0M782.5 190.2h0M795.6 145.8h0M743.4 197.0h0M764.0 169.4h0M776.1 165.7h0M739.6 184.4h0M759.1 198.7h0M768.2 178.9h0M744.4 205.5h0M775.3 192.2h0M760.1 181.9h0M770.0 200.1h0M737.7 198.6h0M774.4 157.3h0M775.9 168.2h0M786.1 151.3h0M793.8 206.0h0M779.7 174.0h0M776.9 161.5h0M795.3 191.8h0M741.9 162.4h0M773.3 173.9h0M771.1 206.5h0M742.6 200.0h0M789.8 188.8h0M752.4 172.0h0M752.5 195.1h0M798.5 191.7h0M760.8 180.0h0M751.2 200.9h0M738.7 171.0h0M772.7 164.7h0M735.8 172.8h0M771.3 147.7h0M755.1 180.0h0M787.4 182.6h0M783.2 215.0h0M772.9 174.4h0M781.6 189.7h0M744.1 162.0h0M737.5 207.5h0M767.9 190.6h0M771.9 209.6h0M742.7 178.9h0M777.3 198.3h0M775.1 184.7h0M737.6 207.7h0M766.2 184.4h0M739.5 203.7h0M791.4 170.5h0M751.3 177.9h0M771.4 195.3h0M770.8 167.2h0M771.7 147.2h0M765.1 158.6h0M780.9 176.8h0M759.7 173.7h0M737.9 204.4h0M773.5 188.2h0M786.0 175.0h0M754.3 221.6h0M746.2 172.7h0M762.8 188.5h0M743.5 172.6h0M782.0 179.8h0M748.6 209.1h0M760.4 213.1h0M742.3 192.8h0M776.0 203.4h0M785.8 197.7h0M778.4 219.5h0M759.8 221.5h0M774.7 199.4h0M787.8 206.5h0M736.2 182.2h0M745.3 158.6h0M770.0 198.0h0M756.0 189.2h0M759.2 202.9h0M769.5 172.3h0M739.8 199.8h0M737.3 212.6h0M740.2 161.6h0M752.7 173.1h0M778.4 186.4h0M744.9 220.2h0M790.6 176.6h0M766.4 193.9h0M754.3 201.8h0M762.2 190.7h0M757.9 166.5h0M770.0 218.4h0M760.1 200.9h0M771.3 185.1h0M782.5 166.9h0M759.0 196.7h0M756.6 171.9h0M790.2 156.8h0M770.4 159.2h0M781.0 175.7h0M774.3 191.1h0M773.0 193.2h0M769.8 180.8h0M739.6 162.5h0M798.2 194.4h0M741.0 178.7h0M763.3 148.5h0M745.8 178.1h0M763.3 178.5h0M758.5 200.5h0M759.3 168.5h0M735.3 194.8h0M799.3 190.5h0M736.9 195.2h0M767.7 175.1h0M768.3 174.8h0M785.8 164.6h0M790.3 191.6h0M748.4 186.6h0M758.0 201.9h0M748.9 211.5h0M780.5 171.4h0M797.9 207.4h0M758.8 178.5h0M764.1 188.0h0M739.1 178.6h0M771.8 188.2h0M763.2 188.3h0M741.1 187.4h0M777.2 201.6h0M776.0 179.0h0M746.1 188.6h0M749.0 192.9h0M752.1 175.7h0M792.0 148.4h0M743.2 216.0h0M757.5 156.7h0M766.1 158.2h0M766.8 155.1h0M751.7 168.2h0M783.4 159.6h0M760.3 183.9h0M775.8 176.0h0M763.1 201.6h0M741.1 182.6h0M742.6 206.4h0M790.3 155.4h0M770.7 212.4h0M792.3 171.7h0M781.9 193.7h0M753.8 174.2h0M780.8 185.1h0M779.1 171.2h0M752.8 200.6h0M780.0 148.8h0M745.3 182.0h0M791.2 192.2h0M795.8 165.8h0M779.6 196.6h0M763.4 170.9h0M763.0 186.3h0M759.4 179.9h0M758.3 174.3h0M765.0 192.7h0M764.8 181.3h0M752.4 173.7h0M767.9 179.9h0M757.6 191.1h0M789.6 201.4h0M785.9 190.5h0M754.3 176.7h0M760.2 173.6h0M772.8 173.1h0M763.2 172.7h0M764.7 200.5h0M771.6 177.0h0M786.0 181.8h0M785.6 188.5h0M780.1 164.1h0M748.5 163.0h0M774.9 176.9h0" stroke="#33ba9c" stroke-width="2.00" stroke-opacity="0.8"/>
<path d="M770.9 172.4h0M758.5 210.9h0M757.8 179.8h0M798.6 198.0h0M790.1 208.9h0M797.0 170.4h0M789.2 198.3h0M794.9 188.3h0M749.2 185.1h0M784.4 183.1h0M772.4 169.0h0M765.2 200.3h0M775.1 192.6h0M745.8 199.8h0M767.8 186.2h0M757.6 198.5h0M793.6 186.6h0M737.2 175.7h0M772.9 181.1h0M779.9 165.6h0M759.7 200.1h0M762.8 165.2h0M761.9 212.1h0M763.9 200.1h0M784.6 211.6h0M771.4 184.2h0M797.4 178.5h0M797.5 196.0h0M770.1 196.7h0M739.2 212.6h0M780.0 201.1h0M755.2 202.1h0M770.8 192.9h0M798.9 174.2h0M753.0 178.2h0M743.4 212.7h0M781.8 187.6h0M768.3 196.0h0M778.5 193.0h0M740.6 192.3h0M782.3 212.4h0M765.5 179.4h0M747.2 175.2h0M766.8 214.4h0M757.7 198.3h0M779.3 194.7h0M758.3 204.1h0M756.8 172.7h0M785.4 186.8h0M751.0 192.8h0M771.1 159.6h0M775.9 202.8h0M754.0 192.9h0M753.1 176.6h0M748.2 201.1h0M774.6 214.1h0M774.4 199.3h0M774.8 194.8h0M793.7 182.9h0M784.3 173.9h0M754.0 185.7h0M737.6 149.2h0M758.7 191.5h0M759.8 167.1h0M737.7 154.0h0M766.5 176.0h0M780.3 187.5h0M783.2 153.3h0M777.4 183.6h0M783.2 202.4h0M743.0 211.0h0M792.6 191.6h0M789.6 160.5h0M793.7 200.9h0M752.5 193.2h0M782.6 189.2h0M768.5 204.6h0M746.3 203.2h0M752.6 196.7h0M755.1 208.5h0M752.1 193.0h0M766.7 204.1h0M768.2 164.9h0M768.3 202.7h0M758.1 217.8h0M739.7 173.6h0M770.3 193.5h0M757.8 195.5h0M796.1 183.9h0M797.8 172.2h0M771.9 178.7h0M782.5 186.0h0M791.5 174.5h0M789.7 183.5h0M786.4 219.4h0M785.7 179.2h0M788.5 191.1h0M764.7 202.1h0M784.4 176.8h0M772.4 193.1h0M766.9 175.5h0M770.2 192.4h0M763.0 188.7h0M759.8 203.3h0M793.1 157.3h0M777.3 205.1h0M770.5 199.0h0M790.4 187.3h0M745.6 209.0h0M762.5 167.4h0M774.3 181.6h0M779.5 172.4h0M755.4 205.1h0M743.7 206.8h0M759.7 186.2h0M763.4 213.7h0M746.8 197.4h0M761.9 161.6h0M737.6 193.2h0M761.4 147.4h0M766.6 189.7h0M760.5 167.4h0M784.0 214.8h0M785.9 187.3h0M740.2 200.2h0M759.5 193.8h0M775.4 174.1h0M771.2 205.8h0M779.9 205.2h0M766.5 176.5h0M758.8 177.0h0M769.9 192.3h0M753.8 180.8h0M798.0 160.5h0M777.5 191.0h0M762.1 172.1h0M750.1 201.3h0M741.1 217.7h0M774.3 197.4h0M765.8 178.5h0M782.5 197.4h0M775.8 179.6h0M753.5 148.6h0M766.7 204.8h0M766.8 181.7h0M767.6 209.7h0M787.1 210.8h0M772.1 203.9h0M758.5 194.7h0M765.3 181.1h0M756.7 205.9h0M740.3 162.7h0M796.8 167.8h0M799.7 207.8h0M799.0 213.4h0M771.2 211.0h0M770.0 166.6h0M759.3 196.9h0M750.6 205.2h0M768.8 184.6h0M742.1 203.2h0M762.1 207.2h0M770.5 162.4h0M782.7 168.2h0M742.4 209.8h0M780.1 218.6h0M750.4 173.4h0M754.2 191.3h0M748.1 185.4h0M764.0 160.0h0M770.0 188.3h0M775.7 217.0h0M788.7 186.5h0M747.9 217.8h0M754.7 193.2h0M773.7 164.7h0M740.5 151.5h0M791.2 159.7h0M799.5 209.7h0M775.1 195.9h0M764.2 207.6h0M753.9 197.7h0M746.5 178.6h0M750.2 221.3h0M753.0 171.1h0M751.5 178.3h0M776.4 208.0h0M767.7 183.6h0M796.0 201.1h0M748.7 193.6h0M783.7 186.6h0M743.7 208.2h0M745.9 177.8h0M764.5 148.7h0M796.6 162.7h0M773.7 172.2h0M778.3 199.0h0M774.2 182.5h0M769.0 207.7h0M756.2 199.9h0M797.8 178.1h0M765.5 219.2h0M736.5 184.6h0M766.2 200.2h0M781.4 163.6h0M764.0 146.4h0M746.8 198.4h0M786.9 207.4h0M785.9 208.2h0M769.5 162.9h0M753.3 191.0h0M779.7 193.4h0M778.4 197.1h0M745.3 165.6h0M766.8 190.5h0M768.9 188.7h0M767.2 211.2h0M796.5 168.6h0M754.5 204.3h0M764.4 187.3h0" stroke="#33ba9c" stroke-width="4.40" stroke-opacity="0.8"/>
<path d="M764.6 215.7h0M759.4 183.4h0M760.8 201.4h0M798.7 186.7h0M743.0 168.1h0M757.5 177.2h0M751.9 174.7h0M791.6 193.8h0M761.4 157.6h0M755.3 179.1h0M779.9 168.2h0M771.7 167.4h0M790.6 206.5h0M789.0 170.2h0M769.2 157.2h0M736.7 187.0h0M738.9 182.6h0M780.8 166.9h0M775.1 207.2h0M777.7 193.5h0M748.7 180.7h0M764.8 164.2h0M775.3 169.9h0M775.2 165.2h0M761.9 164.7h0M738.9 184.3h0M748.4 198.4h0M792.5 189.9h0M767.3 162.3h0M798.7 156.6h0M750.6 192.3h0M768.8 209.5h0M735.6 188.8h0M748.6 190.0h0M771.2 197.8h0M780.1 183.3h0M766.8 170.6h0M757.0 156.8h0M751.5 221.3h0M766.5 185.0h0M754.3 179.9h0M771.0 177.8h0M793.4 165.7h0M746.9 182.0h0M749.7 150.8h0M750.7 173.7h0M794.7 182.7h0M758.7 154.3h0M787.6 197.1h0M762.9 178.3h0M792.2 194.6h0M790.4 172.0h0M741.0 195.6h0M747.0 173.7h0M779.4 210.1h0M736.1 209.0h0M742.2 156.6h0" stroke="#33ba9c" stroke-width="2.00" stroke-opacity="0.8"/>
<path d="M614.0 241.9h0M758.6 231.5h0M618.1 233.2h0M652.1 223.3h0M735.9 263.0h0M719.8 206.4h0M693.8 216.3h0M785.2 231.0h0M628.2 209.7h0M706.1 256.9h0M701.1 240.4h0M658.8 216.1h0M699.7 197.5h0M613.9 188.4h0M734.4 174.4h0M692.8 237.5h0M661.0 229.6h0M661.4 220.4h0M630.1 225.8h0M660.0 237.4h0M686.4 257.1h0M664.1 211.9h0M730.6 244.7h0M609.8 231.2h0M725.9 181.3h0M613.6 164.0h0M727.5 212.4h0M627.9 249.0h0M638.3 228.4h0M667.0 212.8h0M689.7 233.5h0M722.1 235.8h0M682.0 170.9h0M722.2 190.6h0M652.6 253.0h0M665.2 170.4h0M728.6 226.8h0M727.0 245.0h0M709.6 218.5h0M628.6 158.0h0M707.7 191.5h0M659.3 228.8h0M609.3 219.2h0M731.4 264.4h0M728.6 246.1h0M701.0 158.2h0M684.9 240.1h0M728.5 212.6h0M636.5 206.8h0M623.5 220.0h0M667.9 190.5h0M645.8 260.4h0M645.3 205.4h0M662.2 217.3h0M629.6 238.6h0M712.7 206.4h0M726.7 177.0h0M625.4 215.9h0M718.9 200.9h0M652.0 210.3h0M705.1 230.9h0M611.4 191.4h0M782.7 264.2h0M717.7 168.4h0M787.8 236.3h0M729.5 187.2h0M706.3 205.9h0M728.0 203.4h0M716.2 202.9h0M795.1 231.1h0M676.7 228.7h0M621.6 215.1h0M723.3 207.0h0M657.6 215.8h0M709.1 193.2h0M680.3 250.2h0M725.5 245.3h0M648.9 224.3h0M785.4 237.6h0M647.7 249.0h0M626.4 211.3h0M725.5 197.6h0M741.6 231.4h0M709.6 208.7h0M666.7 236.0h0M647.3 250.5h0M678.7 209.4h0M616.9 227.5h0M626.9 255.3h0M603.5 219.9h0M606.2 218.1h0M663.2 219.0h0M743.6 223.5h0M653.1 199.6h0M690.4 258.2h0M712.7 175.1h0M748.8 246.7h0M640.0 212.6h0M673.5 153.5h0M734.3 221.2h0M727.1 215.4h0M725.0 175.8h0M674.9 228.8h0M660.1 230.0h0M753.8 233.2h0M609.0 225.4h0M645.3 179.5h0M626.9 225.8h0M726.9 159.3h0M721.4 199.5h0M729.5 226.9h0M708.1 216.1h0M611.9 259.0h0M727.5 203.3h0M631.5 217.7h0M614.8 225.4h0M670.0 187.5h0M707.0 223.0h0M654.6 210.9h0M659.3 200.9h0M612.4 204.5h0M610.1 229.6h0M707.3 174.4h0M784.9 257.1h0M636.9 225.5h0M620.5 222.4h0M658.3 256.6h0M679.1 205.2h0M711.1 199.3h0M627.3 193.0h0M766.2 240.3h0M683.3 233.9h0M675.9 197.7h0M633.4 264.1h0M615.9 202.7h0M643.2 196.8h0M613.1 213.3h0M607.4 219.3h0M618.9 259.1h0M728.6 185.0h0M715.7 228.7h0M756.3 233.7h0M605.7 174.4h0M769.3 252.3h0M716.9 186.8h0M676.0 170.7h0M725.2 178.3h0M668.2 207.2h0M623.2 204.9h0M732.7 151.7h0M613.7 237.3h0M674.5 209.7h0M752.1 255.2h0M719.8 149.0h0M674.0 202.1h0M640.1 224.6h0M695.0 223.6h0M631.7 235.5h0M699.9 211.7h0M704.3 201.5h0M738.8 248.4h0M713.1 197.5h0M662.4 207.2h0M712.9 163.9h0M720.5 169.5h0M692.4 208.8h0M642.7 196.4h0M631.5 264.2h0M639.2 209.2h0M661.7 210.4h0M696.2 188.7h0M635.7 230.7h0M605.9 231.2h0M605.0 235.9h0M738.0 223.2h0M722.3 242.6h0M772.7 264.8h0M712.3 222.5h0M625.8 236.4h0M760.9 227.2h0M711.6 184.8h0M643.5 201.3h0M665.3 240.9h0M723.1 249.2h0M636.9 231.2h0M680.8 237.2h0M697.4 159.4h0M609.2 217.2h0M708.2 181.6h0M629.9 206.3h0M611.5 215.6h0M620.6 249.8h0M639.2 212.6h0M725.9 216.1h0M666.1 185.5h0M665.9 229.2h0M616.8 199.1h0M668.3 201.1h0M657.7 225.5h0M634.3 215.5h0M740.9 251.1h0M734.0 194.8h0M716.4 223.4h0M615.2 222.5h0M622.5 231.6h0M723.1 171.6h0M604.6 218.9h0M607.1 201.5h0M697.8 219.2h0M613.2 227.8h0M638.3 237.3h0M676.8 186.3h0M731.1 233.6h0M659.8 215.2h0M725.0 192.1h0M679.7 227.3h0M724.9 229.3h0M699.6 205.1h0M720.3 162.8h0M714.9 225.0h0" stroke="#f68a3c" stroke-width="1.60" stroke-opacity="0.74"/>
<path d="M627.8 173.0h0M731.7 223.0h0M727.7 250.5h0M722.6 183.8h0M676.2 237.9h0M738.0 242.6h0M738.4 230.2h0M624.3 235.5h0M720.1 202.0h0M633.1 155.9h0M723.6 174.7h0M697.4 151.2h0M630.8 228.3h0M613.7 214.5h0M776.8 252.6h0M665.7 186.2h0M729.2 180.9h0M624.8 205.7h0M670.6 214.5h0M645.5 248.4h0M668.6 201.4h0M647.1 219.9h0M721.5 180.0h0M745.6 245.1h0M643.8 236.6h0M763.1 227.4h0M733.4 160.8h0M607.3 258.8h0M686.0 207.5h0M724.6 173.8h0M607.4 199.9h0M643.2 199.4h0M682.8 251.0h0M690.1 205.2h0M726.4 242.5h0M628.4 243.1h0M605.3 247.8h0M725.2 203.4h0M728.2 187.1h0M628.0 181.8h0M623.7 167.5h0M712.9 196.4h0M654.3 219.0h0M723.1 219.5h0M729.9 189.6h0M621.3 258.3h0M660.0 204.3h0M768.4 259.0h0M718.7 168.4h0M683.5 178.1h0M688.9 180.7h0M732.0 188.9h0M790.5 235.7h0M730.0 198.5h0M605.0 176.0h0M705.9 166.2h0M644.5 211.3h0M687.9 212.3h0M625.7 219.2h0M606.5 215.5h0M726.2 173.6h0M647.1 195.2h0M690.0 173.4h0M762.0 264.3h0M631.3 150.5h0M706.6 186.5h0M625.6 236.9h0M648.5 254.3h0M604.5 245.5h0M711.7 251.2h0M642.2 243.0h0M795.5 242.2h0M606.7 163.2h0M779.4 235.6h0M608.0 231.5h0M652.9 199.9h0M701.0 154.8h0M640.4 210.4h0M726.1 174.2h0M721.1 168.2h0M731.9 249.3h0M691.1 228.0h0M637.8 215.6h0M604.6 242.0h0M623.2 150.2h0M732.5 173.4h0M634.6 241.2h0M609.8 188.4h0M625.8 194.7h0M685.7 215.6h0M661.1 216.5h0M686.6 207.2h0M745.2 246.5h0M732.9 244.1h0M719.6 173.6h0M611.8 212.3h0M710.6 168.6h0M688.3 226.5h0M711.9 148.7h0M727.0 163.6h0M729.4 180.2h0M661.7 230.0h0M731.6 191.9h0M633.5 235.7h0M685.0 194.6h0M718.3 238.7h0M617.6 201.2h0M692.2 188.6h0M732.1 190.0h0M776.6 231.7h0M691.3 229.2h0M703.3 194.9h0M717.8 177.6h0M648.8 226.0h0M645.2 231.2h0M695.2 162.8h0M775.3 237.2h0M705.4 161.1h0M734.8 172.5h0M635.3 209.9h0M791.1 260.0h0M640.3 224.2h0M730.1 152.1h0M624.0 194.3h0M700.3 198.5h0M723.5 181.3h0M707.2 195.1h0M722.2 169.3h0M682.5 195.6h0M699.8 212.1h0M719.0 184.5h0M723.4 157.6h0M627.7 203.9h0M611.5 226.6h0M696.4 215.2h0M677.6 217.8h0M609.4 231.5h0M644.3 220.9h0M662.0 263.1h0M734.9 255.7h0M729.4 228.1h0M607.5 238.8h0M662.9 229.3h0M731.3 234.1h0M604.5 176.4h0M710.2 173.8h0M645.9 237.9h0M710.6 226.9h0M619.8 195.4h0M707.6 197.4h0M623.8 226.6h0M704.8 208.2h0M655.4 203.0h0M728.7 180.0h0M710.8 161.4h0M733.6 188.2h0M724.8 191.9h0M686.1 223.9h0M703.5 178.6h0M710.4 199.5h0M701.9 170.6h0M716.9 202.5h0M619.4 206.4h0M706.8 169.0h0M718.3 156.9h0M649.4 180.5h0M719.5 180.9h0M765.1 231.2h0M614.3 213.4h0M789.2 226.9h0M686.5 202.1h0M615.9 180.7h0M617.2 193.5h0M609.5 204.7h0M610.3 181.8h0M732.1 180.1h0M677.8 227.5h0M657.1 159.6h0M674.2 217.8h0M604.2 177.8h0M661.8 227.8h0M628.7 164.1h0M721.5 160.3h0M702.4 154.7h0M616.0 155.3h0M697.5 201.4h0M684.2 260.3h0M673.2 155.7h0M712.5 250.1h0M662.7 174.7h0M721.3 154.2h0M722.9 148.7h0M680.2 202.9h0M672.7 173.1h0M622.1 160.7h0M637.2 186.5h0M726.1 213.4h0M676.6 210.3h0M625.8 196.7h0M626.3 168.9h0M613.4 224.6h0M732.9 175.1h0M630.1 250.0h0M693.2 167.5h0M711.3 194.1h0M608.7 240.5h0M732.2 152.7h0M706.7 175.3h0M674.4 211.9h0M783.2 244.1h0M645.5 216.1h0M676.8 157.8h0M635.8 212.8h0M798.8 254.4h0M701.3 170.7h0M609.3 226.0h0M606.3 256.3h0M726.0 178.4h0M656.1 238.7h0M667.0 246.0h0" stroke="#f68a3c" stroke-width="0.90" stroke-opacity="0.74"/>
<path d="M720.0 167.7h0M650.2 165.0h0M792.9 257.7h0M709.8 170.5h0M698.2 176.5h0M722.9 177.9h0M722.3 212.8h0M659.9 186.5h0M733.0 164.8h0M722.8 145.6h0M700.1 180.5h0M636.1 171.6h0M655.9 249.4h0M727.9 166.5h0M721.2 159.9h0M707.6 171.4h0M615.8 227.6h0M625.9 210.8h0M726.1 149.0h0M746.3 251.9h0M624.9 234.1h0M607.8 189.2h0M607.0 189.1h0M616.0 172.3h0M685.7 220.1h0M615.0 181.4h0M709.2 177.7h0M718.2 171.1h0M706.4 165.6h0M645.7 150.8h0M669.8 211.4h0M733.3 239.2h0M621.4 209.0h0M732.9 177.3h0M722.5 170.4h0M668.6 200.0h0M711.7 189.0h0M723.7 173.1h0M618.6 164.7h0M731.0 237.4h0M644.8 220.2h0M604.7 213.7h0M694.2 183.6h0M733.0 193.9h0M716.5 169.2h0M711.3 166.1h0M624.5 177.5h0M724.9 260.1h0M704.2 220.4h0M612.6 245.6h0M691.8 228.6h0M619.1 199.8h0M622.1 202.1h0M705.7 155.1h0M722.7 149.0h0M624.4 230.5h0M712.5 178.4h0M728.4 167.5h0M733.2 217.2h0M714.1 198.0h0M644.0 185.9h0M639.3 189.2h0M693.6 177.0h0M721.0 151.3h0M619.2 177.8h0M789.8 225.6h0M725.1 194.2h0M606.2 166.7h0M683.3 248.2h0M655.9 236.1h0M620.5 216.9h0M613.0 191.9h0M607.8 191.3h0M695.6 193.5h0M698.0 153.4h0M720.6 150.5h0M734.7 175.5h0M712.4 162.2h0M666.3 228.9h0M721.2 148.0h0M700.1 256.3h0M723.0 180.1h0M686.2 168.1h0M658.7 244.3h0M709.9 171.2h0M672.2 213.0h0M734.2 165.1h0M618.2 203.9h0M629.7 221.9h0M623.3 195.8h0M655.9 182.9h0M717.8 174.7h0M604.4 242.1h0M694.1 229.2h0M650.4 168.0h0M732.2 158.8h0M727.9 154.9h0M608.6 244.4h0M714.9 146.4h0M664.7 229.4h0M733.2 186.5h0M706.7 153.5h0M691.5 195.1h0M682.5 194.4h0M666.5 210.2h0M701.8 252.9h0M723.8 160.3h0M727.3 146.2h0M690.6 168.8h0M722.2 171.0h0M685.8 167.1h0M734.9 212.9h0M611.5 160.6h0M681.4 159.7h0M652.5 176.7h0M721.7 256.2h0M720.8 192.1h0M794.4 264.6h0M732.4 176.1h0M693.1 178.6h0M625.4 208.1h0M720.1 180.0h0M704.6 198.6h0M704.5 197.7h0M728.5 197.5h0M603.9 204.7h0M637.4 232.5h0M713.5 184.5h0M727.7 204.7h0M674.4 178.3h0M630.1 238.7h0M610.9 199.4h0M638.8 183.4h0M646.0 231.5h0M791.2 251.6h0M775.4 238.0h0M710.6 196.1h0M689.3 173.4h0M643.0 190.3h0M721.5 205.9h0M657.6 189.5h0M730.4 186.9h0M633.7 188.7h0M629.6 168.1h0M608.1 233.2h0M689.7 170.4h0M613.1 177.8h0M734.8 174.1h0M636.9 153.3h0M746.6 225.4h0M701.7 224.5h0M616.7 152.0h0M785.7 228.0h0M674.4 219.9h0M635.0 197.0h0M718.9 198.1h0M733.0 149.1h0M772.0 241.2h0M721.9 174.8h0M734.1 164.2h0M682.5 187.8h0M615.9 176.4h0M633.6 162.6h0M676.0 168.2h0M732.6 167.0h0M630.6 186.2h0M665.5 169.9h0M633.4 205.8h0M734.8 155.5h0M690.6 241.7h0M686.3 169.1h0M655.7 203.7h0M694.9 162.4h0M698.2 193.8h0M626.4 201.4h0M721.2 172.8h0M712.8 149.1h0M731.2 208.6h0M617.9 198.1h0M729.4 167.3h0M732.9 167.6h0M698.7 189.6h0M722.5 174.3h0M606.8 168.9h0M627.2 148.6h0M625.6 220.9h0M612.5 235.5h0M704.2 200.8h0M606.9 219.9h0M624.8 232.4h0M688.0 155.0h0M666.6 248.3h0M644.5 188.3h0M613.8 194.6h0M607.2 191.9h0M715.5 158.5h0M721.4 180.7h0M606.4 226.6h0M729.5 172.3h0M710.5 208.8h0M711.9 163.4h0M635.5 264.6h0M631.5 149.5h0M657.2 210.3h0M628.1 184.4h0M730.1 163.5h0M715.7 190.0h0M610.5 215.5h0M728.0 198.0h0M698.0 159.6h0M723.6 145.0h0M703.9 192.8h0M722.5 163.3h0M647.9 181.7h0M653.1 190.6h0M640.9 235.2h0M647.0 224.4h0M722.8 234.9h0M730.6 149.9h0M774.9 250.1h0" stroke="#f68a3c" stroke-width="0.60" stroke-opacity="0.74"/>
<path d="M780.6 157.6h0M738.9 194.2h0M772.2 192.9h0M736.2 197.4h0M785.4 175.4h0M762.4 214.5h0M764.8 190.3h0M754.9 196.1h0M754.1 184.6h0M770.6 187.1h0M748.7 193.9h0M735.8 167.9h0M772.1 192.5h0M775.0 181.4h0M763.1 201.8h0" stroke="#33ba9c" stroke-width="2.60" stroke-opacity="0.8"/>
<path d="M470.3 267.2h0M580.9 284.1h0M555.8 262.3h0M557.9 219.9h0M559.1 257.8h0M577.4 248.4h0M715.6 281.3h0M567.0 280.1h0M783.6 265.2h0M550.7 269.7h0M584.0 232.9h0M582.9 243.3h0M588.4 254.9h0M560.4 214.1h0M557.7 198.1h0M600.0 225.0h0M569.9 149.1h0M590.1 222.1h0M649.5 353.2h0M674.3 265.3h0M563.5 221.6h0M700.4 360.8h0M537.3 254.2h0M585.4 172.6h0M554.0 240.8h0M529.4 334.2h0M599.5 224.9h0M649.0 266.2h0M539.8 218.4h0M538.7 230.8h0M540.4 265.0h0M479.0 291.5h0M542.6 262.9h0M541.3 173.1h0M651.3 343.9h0M567.9 232.9h0M591.2 258.0h0M534.5 199.7h0M578.1 226.2h0M447.4 304.8h0M564.2 232.4h0M563.3 211.4h0M564.4 185.2h0M764.9 269.8h0M565.7 179.8h0M565.1 352.0h0M559.7 229.8h0M557.7 205.5h0M579.9 240.8h0M544.9 175.2h0M560.3 161.6h0M569.7 215.7h0M587.2 214.3h0M599.7 246.6h0M561.2 212.5h0M687.3 315.3h0M639.8 302.0h0M631.6 315.8h0M561.6 267.5h0M540.5 256.9h0M553.4 239.7h0M572.1 346.5h0M571.8 191.9h0M782.7 269.2h0M685.8 290.4h0M592.0 346.5h0M602.8 243.0h0M563.5 218.3h0M477.0 280.9h0M576.0 281.6h0M595.0 208.4h0M684.0 324.3h0M563.1 218.3h0M585.4 224.9h0M565.3 189.9h0M529.2 215.9h0M580.6 163.8h0M614.7 321.6h0M542.4 157.3h0M551.8 253.1h0M555.7 205.5h0M771.0 316.4h0M625.0 290.3h0M552.5 219.1h0M576.7 239.3h0M543.8 223.6h0M569.7 178.7h0M551.3 321.7h0M560.3 211.2h0M551.1 228.6h0M650.9 341.5h0M561.2 242.6h0M571.7 242.7h0M597.5 189.1h0M640.3 312.8h0M736.5 290.9h0M458.7 296.4h0M571.2 243.7h0M777.0 300.7h0M763.6 279.2h0M559.0 210.9h0M565.9 153.8h0M562.0 269.8h0M627.1 312.5h0M536.2 187.4h0M691.0 335.1h0M550.4 148.2h0M555.2 206.5h0M539.2 214.7h0M565.3 238.6h0M574.6 232.1h0M594.4 246.7h0M537.1 181.8h0M562.9 207.1h0M585.9 233.2h0M575.0 250.8h0M482.3 232.6h0M600.4 247.0h0M528.5 224.2h0M594.9 246.7h0M597.8 222.2h0M510.5 300.1h0M583.3 189.1h0M599.4 237.9h0M778.2 288.8h0M678.7 308.4h0M554.0 286.5h0M504.2 268.5h0M704.0 307.0h0M598.8 249.5h0M709.0 325.9h0M509.2 252.9h0M543.7 162.1h0M593.2 237.2h0M536.2 156.1h0M599.5 243.8h0M563.3 192.3h0M560.6 264.5h0M582.7 230.3h0M710.5 283.1h0M587.0 254.9h0M574.6 189.1h0M565.0 239.5h0M569.6 250.0h0M565.5 247.7h0M703.5 327.2h0M565.2 178.3h0M595.8 270.2h0M708.2 308.8h0M556.5 307.7h0M596.6 209.0h0M676.1 291.8h0M503.5 256.7h0M587.2 232.8h0M554.9 263.6h0M662.0 331.0h0M612.8 303.2h0M619.6 357.7h0M552.8 234.0h0M587.8 237.1h0M605.2 360.3h0M601.7 249.9h0M551.0 231.0h0M576.2 171.2h0M590.5 216.7h0M571.5 250.9h0M587.9 162.3h0M524.0 220.5h0M573.7 212.8h0M595.3 206.1h0M549.9 255.6h0M562.8 208.0h0M587.8 256.1h0M599.7 255.6h0M575.4 239.7h0M652.7 300.1h0M594.0 275.5h0M601.2 338.1h0M603.2 289.5h0M570.8 225.4h0M508.7 270.8h0M563.0 259.4h0M593.7 241.0h0M560.1 289.7h0M592.9 192.4h0M667.9 333.3h0M587.2 194.8h0M575.3 209.1h0M491.9 311.0h0M603.4 175.5h0M672.8 289.8h0M774.9 269.0h0M543.9 264.7h0M649.4 303.0h0M583.2 203.0h0M538.5 166.9h0M567.4 237.4h0M655.1 299.8h0M562.1 255.2h0M575.8 210.2h0M562.8 244.7h0M572.2 193.7h0M590.9 216.3h0M515.1 260.3h0M676.0 355.7h0M772.6 287.8h0M629.8 330.1h0M587.1 218.2h0M582.9 198.6h0M659.1 306.7h0M590.5 245.6h0M533.0 263.5h0M571.9 259.6h0M683.7 277.4h0M656.0 331.3h0M592.6 273.3h0M591.9 226.6h0M559.6 252.0h0M552.8 252.6h0M788.0 299.6h0" stroke="#e9594e" stroke-width="1.20" stroke-opacity="0.68"/>
<path d="M689.7 237.1h0M716.8 240.8h0M637.1 209.8h0M637.6 231.6h0M746.7 247.5h0M741.2 233.2h0M641.4 246.7h0M627.4 217.0h0M626.5 196.6h0M706.0 234.0h0M712.5 205.1h0M659.9 214.1h0M622.0 217.6h0M633.2 212.0h0M722.8 180.5h0M634.6 221.4h0M792.1 244.7h0M703.1 221.1h0M763.7 255.1h0M646.1 206.8h0M615.5 211.4h0M685.1 235.3h0M749.3 256.8h0M701.8 248.4h0M632.3 215.1h0M792.7 239.6h0M605.2 255.0h0M706.6 227.7h0M686.7 199.4h0M678.0 241.3h0M639.8 230.7h0M678.0 236.7h0M611.7 234.8h0M713.5 190.6h0M645.4 214.8h0M605.5 245.6h0M693.8 237.5h0M674.9 220.5h0M734.2 184.7h0M671.5 233.3h0M720.4 198.3h0M629.0 226.0h0M666.3 237.5h0M679.5 230.6h0M633.7 233.3h0M674.5 228.9h0M674.1 246.8h0M635.9 242.2h0M702.1 174.4h0M665.7 257.8h0M611.1 216.6h0M644.5 225.1h0M713.1 186.0h0M669.4 233.7h0M624.4 226.7h0M641.7 240.9h0M683.6 179.4h0M739.7 238.7h0M666.5 227.1h0M704.7 221.1h0M642.9 243.5h0M711.6 214.9h0M767.9 248.3h0M709.3 251.9h0M682.0 260.4h0M676.0 185.0h0M683.9 230.9h0M682.8 216.7h0M640.9 245.4h0M675.9 208.2h0M712.6 206.5h0M621.0 213.3h0M771.4 245.4h0M640.5 213.0h0M672.8 196.9h0M699.5 223.5h0M710.5 211.0h0M662.4 238.5h0M704.2 258.2h0M660.6 229.6h0M609.3 169.0h0M674.0 224.5h0M661.6 168.0h0M727.5 225.3h0M731.2 218.2h0M736.0 236.5h0M652.7 254.1h0M753.0 249.9h0M733.3 179.6h0M673.4 223.8h0M732.2 204.5h0M610.7 230.8h0M623.3 244.4h0M708.9 246.2h0M664.1 220.5h0M635.1 223.2h0M667.5 263.7h0M679.9 219.3h0M674.6 233.8h0M666.7 264.8h0M613.6 229.9h0M660.9 250.7h0M670.5 252.2h0M734.8 214.0h0M703.5 219.6h0M780.1 238.3h0M732.1 248.0h0M711.2 196.2h0M674.3 200.2h0M700.6 259.4h0M720.6 244.3h0M704.5 233.9h0M646.1 248.1h0M702.7 242.9h0M619.9 241.9h0M700.0 225.3h0M636.3 221.8h0M669.0 251.0h0M674.3 212.7h0M684.8 225.9h0M716.0 204.0h0M661.7 254.0h0M617.2 233.5h0M617.9 221.3h0M784.8 258.9h0M604.3 225.7h0M661.2 233.8h0M700.6 232.1h0M635.3 233.8h0M667.4 251.8h0M617.8 253.2h0M611.3 249.8h0M659.3 217.9h0M672.3 195.6h0M720.4 212.0h0M700.0 163.9h0M622.3 237.7h0M795.4 236.9h0M730.8 232.9h0M630.2 228.6h0M672.0 234.8h0M655.9 226.8h0M642.0 204.1h0M692.7 205.9h0M705.6 198.2h0M605.6 214.9h0M678.7 229.2h0M709.3 193.3h0M643.3 204.2h0M684.4 223.4h0M719.6 205.0h0M639.2 223.3h0M713.8 219.6h0M727.6 207.6h0M629.5 222.0h0M721.8 184.5h0M714.0 219.0h0M694.3 231.1h0M661.6 230.0h0M689.0 236.1h0M613.3 203.0h0M634.4 175.2h0M644.4 227.6h0M670.0 208.2h0M708.3 192.5h0M657.0 232.0h0M607.9 232.9h0M697.8 238.0h0M769.6 238.1h0M615.0 231.6h0M728.2 226.7h0M722.4 195.0h0M677.3 253.7h0M715.1 245.0h0M668.3 224.7h0M604.8 235.6h0M733.7 230.3h0M711.4 245.9h0M708.8 215.9h0M717.8 171.1h0M667.6 221.4h0M628.2 260.8h0M696.9 206.0h0M687.1 207.0h0M690.5 181.1h0M648.4 241.3h0M640.1 231.0h0M662.3 212.1h0M650.4 199.7h0M658.7 226.5h0M678.4 221.3h0M642.3 230.2h0M639.6 212.8h0M687.5 252.0h0M649.7 220.0h0M730.9 244.5h0M624.0 214.2h0M665.7 216.8h0M647.4 194.2h0M731.4 154.0h0M657.8 178.3h0M631.6 236.8h0M716.7 246.7h0M665.2 214.1h0M688.2 233.9h0M635.7 231.2h0M716.5 152.2h0M703.2 223.0h0M613.3 234.7h0M610.8 230.5h0M628.6 226.1h0M630.2 225.6h0M704.0 220.8h0M729.2 214.9h0M721.4 227.7h0M675.9 211.8h0M732.4 223.4h0M667.4 234.3h0M708.9 175.8h0M717.1 233.4h0" stroke="#f68a3c" stroke-width="2.60" stroke-opacity="0.74"/>
<path d="M713.1 289.1h0M565.9 232.5h0M590.8 257.6h0M580.8 172.1h0M717.4 287.3h0M770.3 314.7h0M767.2 332.1h0M568.3 209.8h0M583.8 182.7h0M567.9 240.3h0M586.4 240.0h0M542.7 239.0h0M587.2 224.4h0M746.9 355.5h0M573.8 230.7h0M580.0 197.8h0M736.1 277.5h0M603.4 250.2h0M565.1 206.9h0M576.1 241.2h0M587.4 274.5h0M470.3 364.8h0M593.1 304.2h0M734.7 287.9h0M568.5 189.1h0M631.2 326.4h0M657.9 268.3h0M624.8 272.7h0M585.8 210.8h0M542.9 228.7h0M700.2 338.5h0M559.9 221.6h0M591.3 237.5h0M591.5 236.5h0M746.4 288.0h0M711.3 280.8h0M732.5 274.0h0M712.5 320.2h0M578.7 204.8h0M588.5 282.8h0M602.8 186.9h0M604.8 293.9h0M560.3 219.6h0M685.7 271.1h0M575.4 203.8h0M541.7 237.7h0M565.8 328.1h0M590.7 168.8h0M590.5 229.4h0M520.2 193.9h0M553.6 213.1h0M559.7 146.3h0M740.0 330.1h0M593.5 170.8h0M614.4 347.2h0M465.6 253.0h0M548.5 241.3h0M550.4 173.0h0M456.3 336.4h0M582.1 204.4h0M702.7 304.7h0M684.2 299.5h0M538.5 233.1h0M560.7 345.5h0M558.0 189.7h0M554.5 251.4h0M579.6 260.0h0M796.6 274.8h0M720.3 312.7h0M714.3 299.3h0M698.8 310.3h0M568.8 216.2h0M543.3 253.5h0M587.5 246.4h0M634.7 275.1h0M585.0 229.1h0M595.9 235.4h0M603.1 226.2h0M639.3 345.5h0M719.2 287.1h0M515.5 195.0h0M633.9 290.6h0M582.2 209.0h0M598.6 200.0h0M590.3 207.9h0M594.0 186.5h0M601.0 239.3h0M624.4 324.8h0M649.2 349.0h0M561.1 233.8h0M508.1 343.0h0M711.8 266.2h0M537.0 212.7h0M540.6 241.5h0M663.5 307.3h0M669.3 328.9h0M555.2 234.9h0M579.1 262.8h0M595.7 265.9h0M488.8 335.2h0M762.0 281.2h0M528.6 234.3h0M787.3 306.5h0M535.1 258.9h0M757.0 298.7h0M493.0 308.0h0M538.6 247.0h0M772.0 333.9h0M569.7 252.4h0M483.5 274.8h0M599.3 234.1h0M698.5 283.0h0M735.2 306.4h0M581.9 233.9h0M532.0 193.8h0M517.5 209.1h0M559.1 242.2h0M698.9 308.6h0M608.4 341.0h0M648.7 272.6h0M655.4 268.7h0M570.8 231.0h0M581.6 222.9h0M701.6 326.3h0M581.2 195.0h0M566.5 246.0h0M597.4 244.0h0M598.4 225.2h0M514.6 220.9h0M533.0 214.7h0M592.0 235.2h0M534.3 239.9h0M595.0 205.7h0M538.8 229.4h0M593.0 198.5h0M522.7 196.2h0M570.9 204.7h0M619.6 294.2h0M595.8 265.5h0M758.5 265.2h0M579.6 222.8h0M601.2 236.1h0M586.7 249.2h0M544.7 262.6h0M566.6 219.4h0M595.7 266.8h0M788.9 309.9h0M581.7 249.5h0M553.7 252.8h0M584.8 344.6h0M547.3 242.7h0M462.5 210.6h0M563.8 251.8h0M701.5 277.7h0M536.7 378.1h0M654.9 293.9h0M588.3 232.2h0M584.6 177.5h0M587.1 238.5h0M556.1 229.1h0M482.2 356.6h0M594.0 219.2h0M725.4 342.7h0M724.8 273.1h0M601.3 194.4h0M556.1 276.1h0M757.2 303.0h0M602.9 277.5h0M603.3 269.7h0M555.3 195.6h0M539.4 149.5h0M549.2 223.4h0M541.5 241.3h0M498.1 252.7h0M588.0 230.9h0M558.7 179.8h0M683.0 272.2h0M798.7 294.3h0M799.0 279.5h0M573.7 233.1h0M527.5 252.5h0M615.9 276.8h0M779.6 305.6h0M569.9 228.6h0M514.8 179.5h0M579.5 235.7h0M598.4 262.9h0M555.1 233.6h0M583.2 252.0h0M567.3 290.5h0M599.4 207.2h0M585.6 326.3h0M619.6 372.4h0M592.0 278.7h0M590.3 260.0h0M782.1 288.7h0M793.7 328.4h0M572.6 200.5h0M565.2 194.3h0M634.3 291.1h0M534.2 196.2h0M600.4 198.8h0M572.6 146.0h0M541.6 242.0h0M580.7 241.9h0M563.2 216.3h0M723.5 295.3h0M545.4 268.7h0M566.4 210.0h0M549.2 240.6h0M594.3 180.6h0M531.9 238.2h0M768.0 287.0h0M563.4 220.0h0M570.4 232.5h0M508.5 170.1h0M551.8 309.5h0M748.0 340.6h0M637.5 275.9h0M578.1 337.1h0" stroke="#e9594e" stroke-width="1.20" stroke-opacity="0.68"/>
<path d="M671.8 240.6h0M721.7 223.0h0M767.6 225.8h0M710.8 187.9h0M696.1 207.4h0M647.8 241.4h0M693.1 237.5h0M604.4 260.5h0M688.0 171.3h0M624.9 218.4h0M721.1 175.8h0M617.1 203.9h0M680.6 232.9h0M611.1 258.6h0M679.8 196.9h0M637.0 186.4h0M714.1 191.6h0M768.8 250.0h0M646.0 247.9h0M626.3 195.7h0M633.5 255.9h0M731.9 259.5h0M628.4 234.3h0M636.3 212.3h0M692.5 156.0h0M679.1 249.6h0M738.0 232.0h0M678.8 217.2h0M723.6 245.8h0M691.2 190.0h0M672.0 213.0h0M634.0 218.2h0M614.7 208.4h0M719.8 263.8h0M609.3 230.0h0M719.4 188.7h0M662.4 209.6h0M621.2 254.2h0M696.8 217.0h0M639.1 239.8h0M688.8 186.5h0M608.9 209.7h0M643.9 205.5h0M635.1 212.3h0M618.2 232.0h0M754.4 236.3h0M646.0 224.1h0M628.7 228.4h0M726.2 197.4h0M616.9 222.4h0M727.3 186.3h0M724.3 214.2h0M635.0 230.1h0M646.4 252.9h0M714.5 234.6h0M731.7 179.5h0M718.8 210.8h0M668.3 247.5h0M692.6 247.8h0M681.5 221.4h0M613.9 185.1h0M634.6 206.2h0M604.7 237.5h0M702.2 212.6h0M604.7 211.8h0M682.5 223.8h0M641.6 221.4h0M650.2 221.1h0M720.3 197.9h0M623.8 229.4h0M697.3 227.0h0M714.4 249.4h0M739.2 259.0h0M640.9 236.9h0M719.6 207.1h0M609.5 215.7h0M725.3 215.7h0M712.9 192.1h0M612.3 259.0h0M734.6 179.3h0M673.0 233.5h0M693.9 218.5h0M655.1 200.6h0M630.0 235.3h0M771.1 255.8h0M685.0 195.7h0M684.6 227.6h0M675.9 248.2h0M639.0 190.7h0M717.5 158.2h0M721.1 261.1h0M699.3 240.6h0M709.0 220.5h0M654.9 231.5h0M690.6 187.6h0M731.6 186.7h0M678.6 221.0h0M696.9 217.3h0M620.1 210.9h0M725.5 226.2h0M763.8 236.0h0M617.9 243.4h0M623.0 234.4h0M654.2 212.6h0M612.0 249.2h0M664.9 242.8h0M633.8 208.8h0M753.8 239.6h0M656.8 214.8h0M675.2 254.2h0M659.7 226.8h0M702.9 221.4h0M633.8 227.6h0M726.6 181.9h0M702.6 223.9h0M703.6 200.3h0M706.6 219.7h0M698.7 230.6h0M668.6 164.1h0M690.2 222.2h0M652.7 219.9h0M722.3 198.1h0M607.4 231.1h0M738.6 229.4h0M672.9 192.1h0M671.2 246.9h0M690.9 222.1h0M663.8 219.4h0M709.2 182.3h0M634.8 227.4h0M621.3 245.0h0M724.9 244.1h0M663.1 201.9h0M685.4 207.8h0M710.6 242.7h0M632.1 207.9h0M625.9 209.2h0M636.8 194.4h0M706.2 205.4h0M732.4 263.2h0M606.8 228.0h0M635.5 178.7h0M730.8 182.0h0M771.7 235.0h0M783.8 222.5h0M710.7 251.3h0M606.8 229.6h0M721.1 203.8h0M733.0 241.4h0M641.3 182.2h0M627.7 232.9h0M623.7 212.2h0M752.9 234.7h0M763.5 252.7h0M620.1 175.8h0M637.3 229.2h0M683.5 220.2h0M650.4 221.8h0M713.3 225.2h0M681.9 212.3h0M607.5 215.8h0M721.7 236.1h0M734.6 175.2h0M693.0 218.1h0M661.5 207.1h0M700.9 201.3h0M748.8 236.4h0M636.0 188.4h0M663.7 222.1h0M725.2 231.0h0M776.0 257.8h0M639.7 224.1h0M618.0 248.9h0M743.2 244.3h0M675.6 234.4h0M668.5 147.7h0M630.0 246.8h0M718.8 235.2h0M652.6 174.0h0M612.7 222.0h0M695.7 206.4h0M755.0 243.1h0M677.5 203.9h0M669.3 222.1h0M731.6 263.8h0M772.6 225.6h0M666.1 170.9h0M611.4 250.8h0M669.4 202.6h0M729.7 220.3h0M758.1 225.6h0M631.7 227.6h0M734.7 217.3h0M724.2 230.0h0M610.7 250.6h0M761.0 246.2h0M615.9 208.0h0M632.9 219.1h0M653.7 244.9h0M705.8 185.0h0M628.2 212.2h0M616.6 208.2h0M607.7 249.1h0M676.7 234.2h0M718.7 151.9h0M729.8 241.6h0M700.4 194.2h0M755.0 229.5h0M634.1 161.8h0M636.9 222.3h0M769.1 257.6h0M615.6 259.1h0M641.2 171.0h0M610.8 261.0h0M629.9 247.1h0M615.4 217.2h0M701.1 174.1h0M788.6 235.6h0M729.1 193.1h0M622.7 260.9h0" stroke="#f68a3c" stroke-width="1.60" stroke-opacity="0.74"/>
<path d="M684.4 221.0h0M680.7 231.1h0M630.8 260.9h0M712.9 218.6h0M705.0 232.1h0M660.4 239.5h0M638.7 201.4h0M626.5 243.6h0M699.7 196.2h0M713.8 252.6h0M668.3 251.3h0M645.9 246.3h0M621.0 237.3h0M662.3 207.9h0M610.0 211.9h0M643.4 193.5h0M637.5 206.9h0M620.0 205.1h0M702.6 222.2h0M647.5 264.7h0M645.2 211.1h0M712.6 198.7h0M679.2 192.3h0M734.6 214.7h0M714.0 218.0h0M611.5 239.9h0M739.1 237.1h0M713.6 236.5h0M681.3 219.4h0M712.4 163.0h0M712.4 218.7h0M633.5 257.5h0M618.4 241.5h0M623.9 206.3h0M760.1 223.0h0M611.8 238.1h0M733.5 191.0h0M657.0 226.3h0M640.1 224.9h0M628.7 205.6h0M706.1 234.5h0M611.7 227.4h0M692.9 228.4h0M628.3 233.6h0M613.0 226.6h0M614.1 239.6h0M613.0 236.3h0M727.8 219.9h0M665.0 258.2h0M650.1 232.9h0M649.4 235.1h0M768.2 222.2h0M725.5 212.7h0M664.4 244.6h0M610.9 197.8h0M649.7 215.3h0M642.8 209.6h0M751.6 230.0h0M695.0 196.0h0M673.8 227.6h0M772.1 234.2h0M622.8 246.4h0M631.5 243.3h0M760.1 240.3h0M732.3 198.4h0M662.4 243.6h0M779.1 247.7h0M646.9 219.2h0M673.6 244.6h0M639.8 200.6h0M620.2 247.0h0M659.9 229.3h0M699.5 197.5h0M695.7 234.8h0M707.3 233.6h0M711.2 201.9h0M688.7 222.0h0M725.3 194.2h0M733.2 251.6h0M735.1 250.0h0M708.9 180.7h0M754.9 243.0h0M657.4 211.0h0M644.8 207.0h0M680.4 195.9h0M663.1 201.0h0M709.7 205.6h0M623.2 209.7h0M719.6 214.0h0M760.8 245.7h0M624.3 241.6h0M712.9 176.0h0M687.9 225.6h0M649.1 190.0h0M665.0 206.9h0M635.1 193.6h0M651.2 231.3h0M673.1 224.5h0M646.9 225.3h0M729.3 210.3h0M647.0 261.8h0M628.5 209.1h0M683.3 209.1h0M679.3 225.4h0M627.6 223.8h0M635.3 222.4h0M714.7 203.4h0M699.4 220.6h0M662.8 236.2h0M627.8 225.1h0M644.3 215.7h0M696.6 227.9h0M682.6 260.2h0M722.2 215.4h0M641.3 233.3h0M644.8 221.8h0M635.7 231.0h0M648.9 227.6h0M668.3 225.3h0M605.4 208.0h0M682.3 239.0h0M608.4 218.0h0M635.5 190.8h0M717.3 186.2h0M700.0 257.6h0M623.6 222.2h0M722.2 243.9h0M675.8 247.6h0M663.2 211.3h0M701.1 242.0h0M655.2 217.6h0M711.7 231.8h0M676.4 240.8h0M632.8 235.0h0M637.7 248.5h0M700.6 234.0h0M653.9 262.2h0M774.1 246.3h0M752.6 235.6h0M646.2 202.9h0M724.0 194.5h0M728.9 256.8h0M677.5 235.8h0M679.7 212.7h0M669.7 229.2h0M731.3 231.3h0M652.3 231.7h0M712.5 184.2h0M764.3 245.4h0M629.9 203.6h0M709.8 216.2h0M641.5 224.0h0M679.9 195.6h0M608.2 233.9h0M706.9 224.5h0M669.6 236.1h0M703.8 216.8h0M628.5 217.1h0M637.6 231.5h0M713.9 198.7h0M728.1 231.7h0M674.1 215.1h0M732.0 215.4h0M679.0 233.6h0M698.2 218.1h0M715.4 177.7h0M651.9 209.7h0M672.9 201.4h0M647.6 232.9h0M730.7 176.9h0M730.2 184.1h0M726.8 212.9h0M722.8 203.7h0M731.9 200.1h0M675.6 225.4h0M781.4 225.6h0M629.7 192.9h0M672.5 234.7h0M673.9 191.2h0M777.8 231.7h0M761.7 240.7h0M638.0 210.6h0M679.8 258.3h0M649.7 229.6h0M733.6 164.3h0M732.5 170.8h0M681.8 171.9h0M669.8 236.2h0M612.4 211.0h0M708.4 210.8h0M658.6 231.8h0M637.1 211.6h0M702.2 256.6h0M614.1 232.3h0M734.7 255.3h0M614.6 179.1h0M639.0 219.8h0M728.9 202.3h0M616.6 145.7h0M635.1 229.2h0M709.2 208.4h0M731.2 208.7h0M717.6 211.8h0M761.8 233.8h0M713.4 193.2h0M701.0 246.0h0M680.6 234.5h0M607.2 207.4h0M635.3 248.7h0M725.0 223.6h0M612.3 260.6h0M688.0 221.7h0M640.4 228.2h0M669.4 215.4h0M732.7 147.7h0M710.7 222.0h0M734.4 252.6h0M793.9 251.2h0M723.2 180.4h0M664.4 235.9h0" stroke="#f68a3c" stroke-width="2.00" stroke-opacity="0.74"/>
<path d="M699.2 172.7h0M640.9 245.8h0M730.8 171.2h0M715.0 189.0h0M648.0 181.3h0M717.2 176.9h0M620.9 195.2h0M606.5 175.7h0" stroke="#f68a3c" stroke-width="0.90" stroke-opacity="0.74"/>
<path d="M633.3 300.7h0M554.1 220.7h0M470.7 358.4h0M579.9 212.3h0M580.9 221.2h0M552.6 237.9h0M569.5 233.9h0M568.1 364.9h0M590.8 156.9h0M534.6 241.0h0M535.3 231.3h0M570.2 217.1h0M584.5 198.7h0M551.2 242.4h0M553.3 248.5h0M537.0 359.6h0M578.7 193.0h0M562.6 223.5h0M570.0 171.5h0M566.0 209.7h0M543.3 146.7h0M603.0 217.1h0M586.9 286.0h0M572.3 171.2h0M680.1 281.9h0M584.1 378.9h0M565.6 165.9h0M502.7 215.7h0M513.4 201.7h0M595.9 302.0h0M512.4 280.8h0M522.4 262.1h0M554.8 231.3h0M595.3 240.8h0M546.4 177.5h0M462.6 245.9h0M550.1 181.0h0M546.0 218.9h0M628.9 317.5h0M715.6 330.8h0M543.7 282.3h0M580.4 200.8h0M550.9 181.7h0M582.9 258.3h0M598.2 208.6h0M566.5 293.6h0M445.2 256.3h0M568.9 320.4h0M539.8 271.6h0M592.9 198.9h0M549.9 297.7h0M556.2 262.0h0M587.8 248.4h0M511.0 273.5h0M563.5 272.4h0M558.1 305.5h0M599.6 149.4h0M596.3 204.6h0M564.4 230.1h0M673.7 373.5h0M569.9 151.4h0M524.8 273.9h0M585.8 202.1h0M566.0 270.7h0M520.9 264.0h0M554.3 229.5h0M595.4 222.3h0M543.3 256.6h0M555.6 362.3h0M522.2 235.5h0M561.2 193.4h0M548.6 177.6h0M730.1 327.8h0M566.3 197.1h0M536.4 196.1h0M571.1 234.6h0M533.3 263.4h0M459.6 270.1h0M581.5 237.5h0M557.8 157.6h0M610.1 278.5h0M776.5 268.5h0M579.9 245.7h0M621.2 309.1h0M521.8 262.2h0M533.5 272.2h0M719.8 288.1h0M563.5 218.1h0M489.1 230.0h0M525.1 207.9h0M553.1 258.0h0M698.2 269.1h0M632.2 351.9h0M541.8 229.8h0M560.9 200.8h0M523.3 191.9h0M563.5 196.5h0M543.6 355.2h0M479.4 257.4h0M526.1 249.4h0M591.9 280.3h0M630.5 277.7h0M548.7 241.9h0M546.2 177.9h0M604.9 367.6h0M601.0 200.9h0M580.1 221.2h0M544.4 264.4h0M547.6 256.9h0M555.8 151.7h0M598.4 244.6h0M501.6 274.3h0M583.0 219.3h0M695.1 279.8h0M753.0 327.6h0M524.3 302.3h0M597.4 176.3h0M556.9 158.1h0M521.8 301.9h0M546.4 210.8h0M591.4 163.1h0M584.2 264.0h0M505.4 189.5h0M643.2 271.1h0M598.5 222.1h0M530.4 284.4h0M786.6 337.3h0M556.9 205.7h0M530.2 301.0h0M508.9 236.4h0M563.7 259.2h0M635.5 326.7h0M732.6 318.0h0M577.4 326.1h0M486.6 359.0h0M577.1 280.3h0M588.8 208.9h0M506.6 274.4h0M615.1 296.1h0M580.5 235.6h0M627.0 314.5h0M575.1 167.0h0M571.8 208.5h0M595.9 282.8h0M571.2 348.3h0M561.8 217.9h0M547.4 207.3h0M686.0 292.9h0M502.7 266.6h0M550.1 238.2h0M565.9 261.7h0M566.5 270.8h0M575.2 159.7h0M569.5 191.2h0M566.6 238.2h0M534.4 280.1h0M787.4 331.1h0M546.2 255.6h0M570.0 254.3h0M554.4 282.7h0M590.6 227.9h0M586.8 228.3h0M568.7 191.3h0M578.3 217.2h0M581.0 168.4h0M518.5 311.9h0M553.4 245.8h0M564.8 155.5h0M769.2 278.2h0M727.8 293.1h0M558.6 305.7h0M490.3 221.3h0M601.2 271.0h0M573.3 232.4h0M530.2 194.8h0M736.5 272.6h0M551.7 181.1h0M601.7 212.9h0M511.8 294.3h0M603.1 182.0h0M554.6 235.0h0M568.4 209.2h0M737.5 334.6h0M532.7 210.5h0M602.5 174.4h0M581.5 251.9h0M736.4 330.5h0M600.9 161.3h0M669.7 337.1h0M529.2 278.5h0M589.4 176.5h0M561.6 159.4h0M702.6 326.6h0M583.1 216.7h0M582.0 241.4h0M461.6 331.4h0M601.1 258.4h0M531.3 172.9h0M523.1 199.2h0M566.0 277.9h0M540.8 199.8h0M505.5 229.5h0M561.6 216.9h0M539.2 216.8h0M761.1 349.3h0M559.9 214.1h0M540.6 222.7h0M508.2 227.0h0M553.5 248.9h0M602.7 208.5h0M540.8 177.2h0M572.9 183.1h0M764.5 307.0h0M591.6 158.2h0M598.9 232.4h0M445.9 345.9h0M592.3 237.8h0M666.8 298.7h0M787.7 273.3h0M578.4 217.0h0" stroke="#e9594e" stroke-width="0.60" stroke-opacity="0.68"/>
<path d="M644.9 231.7h0M717.6 164.9h0M717.9 243.0h0M731.8 190.7h0M715.3 215.8h0M698.8 189.3h0M726.3 191.3h0M713.7 184.0h0M625.6 257.3h0M626.3 226.0h0M673.3 210.1h0M660.2 245.9h0M724.9 212.9h0M691.0 217.7h0M730.8 198.4h0M756.2 239.8h0M646.9 215.8h0M617.3 235.0h0M731.6 263.6h0M667.1 200.9h0M742.3 264.1h0M713.6 252.7h0M641.6 221.6h0M642.7 232.8h0M708.7 157.1h0M641.1 219.6h0M723.7 179.4h0M722.0 202.7h0M733.4 225.4h0M753.1 234.3h0M658.1 213.3h0M607.0 235.7h0M697.2 200.2h0M662.7 223.1h0M730.6 190.4h0M645.0 169.3h0M672.8 224.4h0M680.2 237.5h0M702.1 184.1h0M623.4 189.6h0M638.9 220.5h0M651.8 242.1h0M689.2 204.0h0M760.9 238.8h0M764.9 238.9h0M669.9 236.5h0M721.3 200.0h0M720.5 192.4h0M696.4 191.4h0M660.9 214.8h0M726.0 170.7h0M755.5 223.8h0M719.1 218.6h0M711.3 185.5h0M694.6 216.5h0M722.5 219.3h0M660.6 251.5h0M615.8 164.1h0M664.7 186.8h0" stroke="#f68a3c" stroke-width="1.20" stroke-opacity="0.74"/>
<path d="M641.6 282.4h0M599.9 281.0h0M602.2 293.7h0M695.6 268.7h0M668.3 288.8h0M538.5 204.7h0M597.4 214.1h0M674.5 325.5h0M589.2 211.6h0M586.9 290.5h0M601.0 254.6h0M567.9 279.7h0M751.0 268.8h0M580.2 219.3h0M775.5 285.9h0M504.9 236.8h0M645.4 279.0h0M707.8 269.1h0M598.4 217.9h0M561.6 270.4h0M657.2 276.5h0M576.2 241.3h0M580.8 182.3h0M593.6 260.0h0M553.1 229.5h0M656.4 277.0h0M588.2 234.8h0M552.9 276.4h0M778.8 278.4h0M571.1 309.4h0M560.0 233.3h0M682.4 279.3h0M598.8 250.6h0M547.2 248.3h0M471.6 340.3h0M583.2 229.8h0M735.6 305.0h0M598.0 194.4h0M598.9 223.9h0M550.0 248.6h0M580.8 149.8h0M778.7 267.1h0M596.8 211.5h0M600.4 238.9h0M596.1 213.2h0M713.2 371.4h0M696.6 307.8h0M594.6 267.7h0M593.0 225.9h0M566.9 252.6h0M517.4 234.3h0M583.8 301.9h0M548.6 185.0h0M689.8 270.4h0M739.1 287.5h0M571.3 193.2h0M577.1 214.3h0M578.8 247.6h0M595.9 245.4h0M531.2 247.4h0M665.2 314.9h0M774.9 267.3h0M584.8 181.0h0M597.9 232.8h0M520.9 238.6h0M588.0 222.8h0M601.4 178.2h0M659.6 291.7h0M596.1 218.1h0M641.3 323.7h0M545.4 262.1h0M583.9 220.9h0M595.6 238.1h0M598.5 223.1h0M582.3 195.1h0M591.0 307.5h0M550.0 256.4h0M560.3 217.8h0M541.4 252.0h0M558.2 248.9h0M583.9 227.9h0M674.3 272.2h0M543.5 231.7h0M574.3 261.1h0M558.1 278.7h0M651.3 327.0h0M524.2 211.8h0M541.2 256.6h0M572.1 233.1h0M550.9 286.7h0M585.8 240.9h0M535.1 230.6h0M596.4 297.8h0M588.0 206.8h0M610.3 313.3h0M517.0 352.3h0M734.6 297.8h0M588.3 237.2h0M594.6 273.9h0M552.8 182.0h0M553.5 245.3h0M710.9 306.4h0M583.1 186.1h0M540.5 197.4h0M593.7 217.9h0M563.2 177.1h0M581.4 212.0h0M538.9 254.5h0M553.5 246.0h0M595.5 230.8h0M683.8 279.1h0M569.2 245.1h0M444.9 281.3h0M578.6 245.6h0M686.1 279.3h0M587.4 206.2h0M583.5 236.8h0M666.4 297.9h0M650.6 275.6h0M603.4 230.5h0M643.2 289.6h0M573.3 225.8h0M599.6 257.4h0M577.7 228.5h0M590.8 222.3h0M639.2 273.7h0M728.9 286.0h0M647.5 265.2h0M586.5 240.4h0M603.0 219.7h0M552.5 273.9h0M541.1 249.8h0M603.4 206.4h0M450.3 362.6h0M719.5 267.3h0M560.5 230.4h0M600.5 261.2h0M570.2 280.9h0M584.8 180.7h0M586.4 278.1h0M572.2 231.1h0M593.6 216.6h0M674.0 311.6h0M645.0 268.2h0M621.1 271.7h0M602.7 302.3h0M592.3 234.2h0M626.0 267.0h0M654.4 317.3h0M583.8 235.7h0M603.0 227.6h0M642.6 309.6h0M581.3 219.0h0M700.7 297.7h0M756.2 267.9h0M512.3 229.0h0M598.6 235.5h0M576.4 247.3h0M577.4 239.1h0M575.0 233.4h0M645.6 287.3h0M569.1 256.3h0M571.2 221.6h0M675.0 306.4h0M736.5 269.4h0M550.6 210.4h0M606.4 268.9h0M597.9 283.7h0M568.6 241.4h0M758.3 268.0h0M569.3 239.2h0M601.1 235.2h0M578.5 248.9h0M717.4 278.5h0M580.3 196.3h0M685.6 305.2h0M675.5 268.6h0M710.5 295.1h0M563.3 273.5h0M581.3 247.5h0M575.1 214.5h0M592.8 200.6h0M763.7 280.6h0M698.9 320.9h0M596.2 252.5h0M573.1 240.8h0M586.8 259.2h0M557.6 206.6h0M603.3 240.1h0M556.7 252.2h0M593.8 281.9h0M575.1 229.6h0M570.7 266.6h0M607.6 313.1h0M768.0 306.2h0M545.8 283.8h0M552.3 208.8h0M589.5 304.1h0M609.2 282.8h0M570.5 236.7h0M624.1 267.3h0M586.2 252.9h0M583.0 230.5h0M626.9 284.5h0M753.8 279.7h0M576.6 180.6h0M535.4 170.0h0M595.7 200.4h0M706.0 284.1h0M656.9 378.2h0M663.4 280.8h0M569.0 186.3h0M745.7 269.5h0M667.5 286.7h0M586.6 189.0h0M735.8 276.5h0M705.5 277.9h0M580.9 262.1h0M755.3 304.3h0M449.7 278.4h0" stroke="#e9594e" stroke-width="2.00" stroke-opacity="0.68"/>
<path d="M795.1 191.0h0M783.5 196.2h0M758.1 184.4h0M766.3 162.9h0M791.5 151.1h0M783.4 166.2h0M766.6 193.1h0M797.2 179.0h0M773.0 189.1h0M797.9 183.8h0M765.0 184.6h0M750.0 164.5h0M768.0 193.5h0M736.7 172.1h0M769.6 205.8h0M750.2 210.6h0M774.5 179.0h0M756.0 158.4h0M761.0 175.3h0M770.4 200.3h0M769.9 201.7h0M766.5 163.8h0M794.4 165.8h0M780.7 195.2h0M783.1 169.7h0M774.8 174.9h0M747.8 156.9h0M799.0 206.8h0M749.9 154.8h0M767.6 208.6h0M795.7 215.0h0M772.3 191.2h0M784.8 192.0h0M763.3 191.5h0M743.4 177.2h0M789.2 147.0h0M761.3 144.9h0M789.9 174.0h0M743.9 179.7h0M783.5 188.0h0M788.2 206.9h0M770.9 204.0h0M783.4 170.7h0M771.1 182.1h0M782.8 170.6h0M752.1 149.6h0M759.7 168.0h0M787.6 166.9h0M758.9 155.9h0M766.9 166.7h0M785.2 164.6h0M749.1 174.5h0M755.9 164.0h0M739.6 179.0h0M763.1 195.8h0M768.5 208.3h0M781.0 175.4h0M782.5 153.6h0M744.4 167.3h0M780.4 185.5h0M792.5 174.2h0M772.9 198.8h0M773.1 179.4h0M775.3 180.3h0M782.7 193.4h0M750.6 161.4h0M766.9 150.7h0M746.3 172.5h0M765.8 183.2h0M750.6 159.1h0M748.8 182.5h0M753.7 197.3h0M798.5 184.9h0M778.3 166.9h0M758.0 177.9h0M789.5 191.8h0M769.4 193.1h0M739.2 175.9h0M791.2 171.6h0M768.3 178.5h0M795.4 198.5h0M788.5 163.6h0M754.9 176.8h0M751.5 221.6h0M760.5 188.5h0M783.6 167.4h0M769.4 196.5h0M750.6 180.5h0M746.5 212.4h0M785.7 181.7h0M741.8 213.8h0M768.7 184.0h0M774.1 201.4h0M754.6 164.7h0M783.5 190.1h0M776.3 187.3h0M787.2 185.2h0M742.5 195.2h0M798.1 188.1h0M773.7 195.0h0M782.6 176.8h0M765.4 167.0h0M743.8 189.7h0M784.6 165.6h0M776.7 156.8h0M748.7 173.5h0M766.5 165.6h0M778.4 173.2h0M739.4 199.0h0M740.3 192.8h0M777.5 172.1h0M779.2 179.9h0M777.2 159.4h0M768.4 209.5h0M776.3 186.0h0M737.9 154.4h0M751.9 198.6h0M798.4 183.3h0M765.9 187.6h0M774.3 160.7h0M789.0 167.0h0M748.6 182.9h0M771.4 206.8h0M746.3 200.1h0M753.6 211.4h0M766.7 165.9h0M750.6 162.4h0M747.3 195.7h0M785.0 151.1h0M790.4 173.7h0M779.2 177.4h0M761.0 144.9h0M774.9 183.0h0M754.2 175.1h0M794.7 189.0h0M768.8 182.4h0M794.3 181.3h0M780.5 173.6h0M784.6 175.7h0M798.2 203.3h0M765.6 161.9h0M779.2 213.5h0M757.5 206.2h0M781.4 188.6h0M794.4 214.5h0M789.4 148.3h0M789.2 180.7h0M743.4 204.6h0M740.1 175.6h0M772.3 201.1h0M741.2 216.1h0M742.4 199.3h0M772.4 187.3h0M770.3 218.1h0M760.1 173.5h0M743.4 194.7h0M753.1 163.7h0M793.7 190.0h0M749.5 175.4h0M789.5 175.9h0M749.1 192.9h0M754.1 185.5h0M754.7 197.0h0M755.5 184.3h0M739.7 194.8h0M741.1 182.5h0M774.1 172.4h0M765.4 174.9h0M753.2 178.0h0M753.2 173.1h0M777.5 177.5h0M750.5 167.5h0M786.5 189.8h0M790.2 179.2h0M783.8 195.0h0M777.5 158.2h0M770.2 202.7h0M773.2 173.1h0M789.2 182.2h0M767.1 186.1h0M739.0 163.9h0M789.9 150.8h0M757.2 183.0h0M797.4 175.7h0M770.2 205.9h0M786.4 178.9h0M759.2 170.9h0M787.1 176.8h0M767.2 208.1h0M793.4 212.1h0M756.4 214.4h0M751.4 174.5h0M760.7 175.3h0M783.4 180.9h0M781.8 146.7h0M737.9 182.0h0M747.5 219.8h0M786.6 181.3h0M766.0 188.3h0M748.0 181.9h0M752.3 168.9h0M779.1 176.5h0M749.4 181.8h0M787.2 190.9h0M762.7 201.6h0M774.4 171.4h0M769.6 207.6h0M742.8 186.8h0M766.7 178.1h0M754.4 175.0h0M760.4 157.9h0M768.4 162.3h0M773.7 172.9h0M735.1 196.5h0M765.5 161.0h0M762.5 155.4h0M746.1 170.1h0M742.9 198.0h0M758.4 199.3h0M786.7 154.8h0" stroke="#33ba9c" stroke-width="2.00" stroke-opacity="0.8"/>
<path d="M538.9 229.1h0M584.7 172.2h0M664.5 274.0h0M583.6 197.5h0M570.1 265.9h0M646.9 272.6h0M565.2 256.6h0M795.0 334.9h0M552.7 246.1h0M541.2 242.2h0M633.4 273.4h0M575.6 222.1h0M535.1 246.2h0M578.5 213.7h0M541.8 250.2h0M623.4 276.2h0M532.7 167.0h0M541.2 198.2h0M549.0 253.3h0M542.7 369.4h0M528.3 287.0h0M552.1 243.6h0M451.6 170.5h0M579.8 274.5h0M623.3 338.3h0M762.2 316.2h0M552.9 241.4h0M556.4 181.9h0M598.8 183.0h0M648.2 323.6h0M636.5 300.1h0M562.8 216.4h0M716.6 311.9h0M688.7 300.2h0M606.5 321.4h0M589.6 214.1h0M544.6 183.4h0M573.6 246.5h0M705.7 315.2h0M573.7 193.5h0M587.3 287.9h0M551.5 237.1h0M469.2 376.0h0M580.0 280.6h0M547.9 292.0h0M587.5 283.3h0M618.4 306.9h0M575.6 248.0h0M570.8 224.9h0M602.4 259.7h0M733.1 327.0h0M574.4 255.2h0M597.5 243.1h0M575.2 215.3h0M551.2 265.7h0M732.4 337.4h0M654.4 281.1h0M471.8 336.5h0M541.4 267.9h0M508.2 293.2h0M569.9 235.5h0M467.5 231.3h0M550.7 152.7h0M535.9 218.5h0M597.6 260.5h0M732.4 294.7h0M548.7 287.8h0M563.9 234.8h0M533.8 213.5h0M537.2 251.8h0M773.1 308.0h0M559.2 222.0h0M573.5 224.3h0M598.5 224.5h0M533.1 210.1h0M585.0 288.4h0M771.2 307.5h0M529.5 219.1h0M598.9 239.1h0M705.2 269.3h0M604.0 282.8h0M710.7 346.6h0M670.7 301.2h0M635.3 271.1h0M550.5 303.3h0M581.5 209.1h0M552.5 203.5h0M589.6 174.4h0M595.3 206.9h0M516.4 323.1h0M570.9 281.2h0M758.5 291.9h0M545.6 236.7h0M504.4 217.4h0M598.2 248.7h0M736.4 287.5h0M575.2 227.9h0M543.0 318.1h0M656.3 283.1h0M583.1 258.9h0M564.1 271.8h0M588.1 245.4h0M696.2 288.8h0M730.0 282.5h0M587.3 250.5h0M610.7 270.5h0M506.5 199.2h0M565.1 208.5h0M587.9 220.7h0M570.4 269.4h0M587.4 172.1h0M560.7 230.3h0M546.1 248.2h0M564.4 321.4h0M568.4 205.2h0M590.8 271.3h0M504.6 244.3h0M691.0 279.5h0M776.2 294.9h0M583.7 287.0h0M594.7 317.6h0M568.5 269.5h0M538.6 279.1h0M526.1 247.3h0M755.8 315.4h0M540.0 209.6h0M550.3 211.3h0M532.9 225.3h0M545.0 183.8h0M648.9 277.3h0M559.6 158.1h0M551.3 173.0h0M579.6 224.9h0M553.6 380.8h0M541.4 212.5h0M563.9 252.4h0M529.1 235.3h0M782.2 270.2h0M666.7 381.0h0M570.9 247.6h0M782.0 282.8h0M572.7 238.8h0M592.0 243.9h0M602.5 189.9h0M702.0 339.1h0M441.9 269.9h0M580.6 270.6h0M568.7 215.8h0M569.8 257.3h0M556.2 204.7h0M553.9 279.2h0M589.9 208.7h0M603.5 249.8h0M582.9 219.7h0M564.7 217.4h0M644.5 332.4h0M597.5 218.3h0M563.3 244.2h0M549.5 316.3h0M532.9 223.9h0M590.8 201.6h0M711.0 315.3h0M583.2 265.6h0M761.0 307.4h0M651.7 315.1h0M516.3 185.8h0M563.8 168.6h0M612.7 294.1h0M486.0 298.2h0M548.5 182.4h0M584.0 253.7h0M560.1 240.8h0M530.8 246.8h0M544.1 252.1h0M570.9 150.6h0M619.8 278.4h0M552.4 228.9h0M636.1 343.1h0M580.1 232.1h0M581.2 212.5h0M483.8 204.7h0M501.8 262.5h0M576.6 193.6h0M576.6 224.5h0M564.2 193.9h0M520.9 174.0h0M586.3 189.5h0M559.6 247.7h0M610.7 317.4h0M491.5 223.5h0M552.5 299.2h0M759.5 363.1h0M550.5 185.3h0M570.5 218.1h0M535.7 246.2h0M592.2 310.8h0M555.1 235.1h0M578.4 218.3h0M761.9 274.0h0M562.8 228.2h0M687.1 290.0h0M796.3 311.3h0M571.5 353.1h0M553.9 277.8h0M554.2 248.0h0M570.2 208.5h0M563.6 250.6h0M685.4 303.8h0M515.7 171.4h0M566.5 247.1h0M485.3 149.6h0M674.1 307.1h0M673.5 329.4h0M649.8 286.8h0M582.7 203.1h0M633.0 302.7h0M540.9 163.5h0M561.5 228.7h0M700.0 317.5h0M524.0 276.6h0" stroke="#e9594e" stroke-width="0.90" stroke-opacity="0.68"/>
<path d="M512.1 202.1h0M598.7 177.9h0M600.6 212.2h0M571.4 175.9h0M550.2 330.2h0M595.5 184.2h0M539.8 152.7h0M555.3 213.9h0M555.1 221.5h0M555.6 178.7h0M564.8 252.6h0M544.7 237.3h0M577.4 252.5h0M559.0 359.9h0M572.5 243.3h0M551.7 255.1h0M572.7 192.4h0M582.4 153.4h0M650.4 368.1h0M751.9 318.0h0M558.0 176.4h0M584.3 331.6h0M526.8 349.2h0M464.1 257.3h0M580.0 165.0h0M593.4 243.7h0M601.8 201.2h0M538.5 223.7h0M545.3 162.8h0M584.0 252.3h0M506.1 293.5h0M551.4 152.3h0M510.7 230.1h0M478.1 181.0h0M504.6 321.7h0M600.9 198.3h0M738.4 319.1h0M568.9 263.2h0M582.1 155.3h0M581.9 198.5h0M598.9 261.3h0M526.3 239.0h0M524.1 235.3h0M588.8 239.9h0M566.6 180.3h0M530.4 155.0h0M726.5 325.8h0M583.9 217.6h0M508.7 260.7h0M534.9 200.7h0M553.1 171.5h0M594.5 225.7h0M526.1 276.2h0M694.2 319.8h0M540.1 221.7h0M557.6 205.1h0M564.0 161.9h0M564.3 343.5h0M510.0 258.1h0M576.0 290.0h0M614.4 268.5h0M795.6 288.3h0M561.5 178.2h0M730.8 267.4h0M528.9 170.0h0M573.6 210.4h0M594.3 226.7h0M718.2 353.8h0M548.2 250.3h0M576.5 198.0h0M588.9 255.4h0M610.7 265.7h0M564.2 295.8h0M709.7 301.0h0M554.5 210.2h0M541.8 238.3h0M590.0 226.4h0M522.8 161.8h0M477.8 335.6h0M654.7 356.0h0M549.1 176.5h0M503.5 161.2h0M589.7 259.0h0M539.0 168.8h0M587.8 218.6h0M549.1 223.7h0M636.4 355.7h0M609.8 341.5h0M572.9 201.8h0M455.8 317.6h0M621.8 351.8h0M476.3 282.0h0M481.5 306.6h0M526.0 181.5h0M536.9 192.3h0M555.5 304.6h0M556.3 166.6h0M575.7 324.7h0M558.9 203.4h0M532.6 224.1h0M507.4 294.6h0M499.8 272.4h0M668.4 278.9h0M591.1 204.7h0M794.4 321.0h0M582.3 256.4h0M579.5 257.7h0M572.6 282.9h0M528.7 244.4h0M577.6 277.5h0M565.3 200.0h0M635.4 277.6h0M588.2 201.6h0M542.9 202.0h0M558.8 236.4h0M566.5 214.9h0M571.7 229.2h0M735.0 296.6h0M603.2 183.4h0M636.1 324.5h0M578.4 243.2h0M595.5 240.9h0M580.0 245.1h0M588.0 208.4h0M573.6 229.4h0M568.6 240.7h0M586.6 210.8h0M551.9 212.2h0M573.3 200.6h0M516.2 218.3h0M589.2 326.1h0M720.8 281.0h0M622.1 301.3h0M574.9 242.8h0M744.3 281.8h0M654.4 275.2h0M787.7 281.8h0M545.6 221.8h0M556.1 253.0h0M540.1 240.9h0M599.5 211.9h0M564.9 159.6h0M770.3 333.9h0M600.3 176.5h0M457.0 279.8h0M528.7 227.3h0M571.3 195.5h0M583.7 168.7h0M548.4 250.9h0M521.2 224.9h0M581.9 222.2h0M551.6 245.2h0M538.9 201.3h0M568.5 195.4h0M564.4 236.4h0M554.2 235.0h0M512.0 368.3h0M602.7 274.8h0M589.4 214.3h0M589.3 223.8h0M561.9 180.3h0M574.6 269.0h0M441.5 295.9h0M535.4 178.5h0M588.9 277.6h0M597.3 274.0h0M539.1 252.4h0M523.3 220.2h0M530.8 181.2h0M564.2 288.8h0M599.1 163.3h0M596.3 214.0h0M657.3 315.2h0M543.1 208.9h0M510.9 311.0h0M581.2 235.1h0M529.7 321.6h0M555.2 262.9h0M520.8 294.3h0M570.7 242.4h0M579.5 229.9h0M528.3 241.7h0M589.1 165.6h0M583.3 249.8h0M582.5 263.9h0M563.1 256.1h0M552.0 273.5h0M618.8 315.1h0M622.1 279.3h0M562.7 209.2h0M579.0 200.1h0M570.5 176.3h0M555.3 237.4h0M460.2 210.5h0M584.6 243.4h0M638.8 292.5h0M572.0 203.9h0M569.2 254.6h0M571.5 297.8h0M531.8 224.1h0M602.2 232.0h0M570.5 190.0h0M610.1 278.9h0M583.5 237.0h0M570.6 258.9h0M546.8 212.5h0M574.8 205.4h0M555.0 191.5h0M644.4 275.6h0M574.0 166.5h0M634.2 284.5h0M640.9 312.1h0M597.2 232.4h0M570.1 216.9h0M549.6 262.7h0M537.5 217.0h0M559.9 191.7h0M539.7 181.9h0M782.7 289.7h0M569.3 276.8h0" stroke="#e9594e" stroke-width="0.60" stroke-opacity="0.68"/>
<path d="M523.2 212.5h0M579.5 216.7h0M582.4 285.2h0M683.5 288.8h0M529.0 238.8h0M554.1 294.0h0M549.3 261.6h0M582.8 196.3h0M603.3 237.2h0M657.8 273.9h0M777.0 266.4h0M536.4 227.7h0M591.2 211.0h0M565.3 272.3h0M643.9 271.8h0M562.6 244.9h0M612.5 281.7h0M693.8 280.2h0M602.9 251.0h0M598.2 216.5h0M539.4 170.4h0M704.3 350.1h0M598.9 222.6h0M591.2 265.3h0M591.8 236.2h0M602.6 242.8h0M578.6 236.6h0M581.9 248.2h0M586.3 224.8h0M599.0 226.8h0M594.2 233.9h0M559.0 284.9h0M597.9 201.1h0M681.3 281.7h0M751.1 283.4h0M583.6 243.6h0M651.1 275.2h0M588.4 269.8h0M680.2 291.3h0M726.5 282.7h0M578.7 261.7h0M709.4 274.3h0M519.6 265.4h0M588.3 247.8h0M680.4 316.0h0M599.0 254.1h0M580.8 252.2h0M617.2 348.8h0M753.7 267.1h0M540.8 236.1h0M584.1 232.9h0M558.0 224.7h0M688.0 270.2h0M595.3 239.5h0M632.1 287.9h0M572.3 259.6h0M647.8 273.4h0M583.5 215.1h0M583.2 205.2h0M699.6 279.3h0M557.4 252.2h0M666.1 266.0h0M548.9 253.5h0M756.0 311.4h0M590.9 229.7h0M542.2 234.5h0M602.8 246.4h0M594.7 208.9h0M716.5 275.2h0M603.2 244.8h0M597.9 248.8h0M577.5 228.4h0M601.9 229.4h0M581.2 216.1h0M630.6 279.4h0M580.2 315.8h0M596.4 231.5h0M545.5 200.2h0M540.6 308.0h0M597.0 203.5h0M645.1 287.3h0M590.5 253.7h0M623.1 297.1h0M641.4 275.3h0M588.7 236.5h0M721.5 287.1h0M529.0 223.7h0M693.7 265.5h0M589.2 276.3h0M576.1 219.0h0M728.7 281.2h0M705.8 315.2h0M590.2 251.0h0M565.4 295.6h0M572.4 260.9h0M637.2 270.4h0M784.2 265.9h0M627.3 302.2h0M599.9 253.3h0M595.6 238.2h0M582.2 245.4h0M723.4 265.8h0M717.2 288.6h0M544.8 229.6h0M720.7 277.1h0M550.0 226.5h0M585.2 207.4h0M573.6 262.2h0M581.3 227.6h0M593.2 229.2h0M598.2 270.3h0M636.0 267.9h0M571.6 225.9h0M559.8 245.9h0M555.7 258.1h0M784.9 272.2h0M563.8 265.8h0M586.8 218.6h0M582.4 194.8h0M572.7 275.6h0M678.8 273.6h0M600.5 250.7h0M597.9 230.0h0M582.6 249.4h0M676.1 269.9h0M580.6 269.0h0M665.7 305.4h0M553.8 207.5h0M563.1 235.1h0M602.4 256.6h0M565.7 287.3h0M583.7 225.3h0M589.1 256.7h0M601.5 264.6h0M595.1 222.7h0M594.2 250.2h0M592.4 239.9h0M588.0 247.7h0M592.9 292.2h0M582.3 236.0h0M646.1 278.7h0M751.1 272.1h0M660.7 277.5h0M582.0 198.8h0M510.2 264.3h0M609.9 282.8h0M681.4 268.1h0M589.7 238.0h0M731.9 280.4h0M634.7 271.8h0M603.1 199.7h0M593.7 211.0h0M559.6 208.1h0M556.0 263.7h0M538.1 261.6h0M695.4 278.3h0M752.4 267.4h0M569.4 250.4h0M682.7 322.3h0M660.4 275.5h0M600.9 229.8h0M592.3 184.8h0M572.2 200.5h0" stroke="#e9594e" stroke-width="3.40" stroke-opacity="0.68"/>
<path d="M757.7 207.2h0M760.8 169.6h0M752.1 160.2h0M773.5 165.8h0M742.2 175.6h0M787.7 180.0h0M745.6 183.8h0M770.8 148.2h0M774.7 165.1h0M738.8 201.1h0M771.8 171.2h0M799.9 182.9h0M798.1 202.6h0M762.9 221.2h0M769.1 157.6h0M769.8 156.6h0M799.5 213.1h0M777.7 202.2h0M766.8 178.8h0M783.8 164.9h0M769.1 174.6h0M787.9 180.4h0M778.6 188.9h0M765.3 196.3h0M779.3 185.7h0M752.1 153.6h0M778.4 176.3h0M774.0 202.5h0M736.8 174.3h0M762.6 188.7h0M780.9 198.1h0M778.8 163.6h0M794.0 201.0h0M786.2 212.9h0M766.4 192.9h0M781.0 152.1h0M790.5 145.8h0M760.3 206.4h0M755.1 189.8h0M759.0 208.1h0M768.3 174.9h0M753.7 161.1h0M762.0 189.6h0M792.4 209.2h0M798.7 178.8h0M768.3 190.9h0M763.4 170.0h0M743.5 217.5h0M747.3 151.2h0M777.2 170.4h0M765.5 155.5h0M765.4 153.8h0M745.8 208.5h0M785.6 167.4h0M768.8 193.5h0M797.3 200.2h0M791.8 204.0h0M760.6 180.9h0M766.1 183.4h0M787.7 184.2h0M744.0 173.4h0M780.3 202.3h0M790.9 190.8h0M763.9 174.7h0M753.3 165.1h0M749.2 149.6h0M741.0 173.9h0M780.6 204.9h0M766.4 182.2h0M748.0 175.5h0M797.3 151.5h0M763.1 145.7h0M779.0 184.5h0M777.5 154.4h0M787.1 167.4h0M786.4 197.9h0M786.8 180.3h0M798.2 167.0h0M738.5 195.5h0M772.9 201.5h0M752.0 203.7h0M785.0 195.6h0M772.8 219.3h0M787.5 158.3h0" stroke="#33ba9c" stroke-width="1.60" stroke-opacity="0.8"/>
<path d="M760.8 155.5h0M759.1 188.2h0M762.2 146.2h0M767.2 201.3h0M752.3 165.9h0M744.2 158.6h0M795.1 220.5h0M782.8 147.7h0M785.8 145.5h0M788.5 184.0h0M760.1 165.5h0M783.9 168.6h0M796.4 171.1h0M794.4 155.3h0M790.2 181.0h0M773.9 172.7h0M763.5 173.0h0M754.9 188.3h0M737.4 178.8h0M771.4 172.1h0M783.9 174.5h0M791.9 148.5h0M769.6 150.1h0M775.5 178.4h0M761.6 155.5h0M776.1 164.5h0M771.2 159.1h0M782.8 155.8h0M753.0 153.4h0M789.4 168.1h0M789.0 171.2h0M798.8 168.8h0M737.3 172.3h0M794.9 153.2h0M736.5 155.9h0M795.5 156.0h0M771.6 179.7h0M744.7 148.7h0M775.1 188.6h0M788.2 169.0h0M743.9 207.9h0M785.8 158.9h0M749.2 147.4h0M782.7 164.3h0M746.9 197.1h0M772.1 184.0h0M744.7 172.0h0M765.0 160.4h0M782.0 171.6h0M755.7 200.8h0M778.0 182.5h0M745.2 189.3h0M758.1 167.3h0M753.5 180.3h0M744.6 160.8h0M751.9 180.8h0M743.1 171.5h0M779.3 182.4h0M797.5 179.0h0M773.8 176.9h0M738.2 167.7h0M779.9 163.9h0M756.8 188.9h0M787.9 201.8h0M741.7 182.4h0M757.7 163.4h0M766.9 158.0h0M765.7 167.0h0M786.0 182.3h0M762.2 177.4h0M763.6 170.2h0M736.0 171.4h0M759.4 150.5h0M770.1 164.9h0M735.4 162.5h0M782.0 173.1h0M791.1 203.9h0M757.8 184.0h0M745.1 152.7h0M754.1 166.7h0M795.2 155.1h0M739.4 154.0h0M760.2 146.5h0M740.4 168.1h0M741.2 152.6h0M780.4 174.9h0M791.2 161.3h0M796.0 190.3h0M790.4 169.9h0M744.8 188.0h0M773.8 165.6h0M787.4 188.1h0M797.4 174.7h0M764.1 170.6h0M752.9 184.9h0M755.5 155.1h0M792.8 158.8h0M760.0 169.7h0M774.6 162.0h0M782.4 169.5h0M775.1 152.3h0M788.9 167.7h0M737.5 150.5h0M757.4 181.9h0M741.3 159.1h0M784.1 166.5h0M756.7 199.9h0M770.8 186.1h0M777.1 180.9h0M775.1 152.0h0M787.5 153.9h0M751.4 188.7h0M774.4 156.9h0M747.9 182.6h0M773.0 162.0h0M772.6 154.6h0M771.8 152.6h0M762.2 179.5h0M760.3 164.7h0M756.4 180.4h0M759.5 169.3h0M770.7 156.5h0M773.7 150.1h0M756.1 165.4h0M752.7 186.6h0M795.4 176.5h0M742.2 221.8h0M735.5 185.4h0M750.9 184.2h0M758.5 184.9h0M764.2 168.5h0M742.2 189.3h0M772.4 157.8h0M746.3 151.1h0M737.6 147.6h0M768.1 179.1h0M773.4 155.8h0M759.1 206.4h0M769.5 178.8h0M772.0 145.2h0M764.4 155.5h0M783.7 147.5h0M774.4 158.2h0M799.3 170.2h0M761.4 162.4h0M762.6 149.4h0M786.8 160.5h0M773.4 177.0h0M743.6 184.2h0M763.3 177.6h0M773.3 160.8h0M736.7 193.7h0M750.3 173.6h0M779.9 168.6h0M760.3 163.1h0M747.8 183.9h0M792.5 177.5h0M776.3 145.2h0M742.1 186.3h0M782.3 192.9h0M754.2 174.0h0M768.2 178.0h0M795.3 178.9h0M780.2 151.7h0M735.1 177.6h0M767.5 191.6h0M777.3 157.7h0M777.2 206.0h0M776.7 158.8h0M783.7 161.9h0M767.2 174.4h0M791.7 166.6h0M794.2 170.5h0M759.7 146.3h0M775.8 152.5h0M780.6 181.7h0M759.7 153.9h0M775.0 186.5h0M766.8 182.0h0M785.4 160.0h0M743.6 174.0h0M765.4 175.4h0M757.8 184.9h0M781.8 183.2h0M792.1 189.5h0M756.5 174.6h0M757.6 172.4h0M774.4 165.6h0M791.4 163.1h0M771.6 172.2h0M784.1 209.7h0M754.5 145.4h0M741.3 177.1h0M784.4 194.9h0M781.1 173.2h0M775.9 153.5h0M748.7 156.8h0M775.1 165.1h0M759.1 185.6h0M742.1 187.7h0M754.7 184.3h0M751.9 161.9h0M753.5 164.3h0M766.2 168.5h0M795.6 165.9h0M754.2 176.9h0M769.6 153.4h0M781.2 192.2h0M741.7 162.5h0M765.8 164.4h0M774.1 179.6h0M775.0 169.5h0M772.9 168.7h0M784.8 208.4h0M740.9 169.6h0M743.5 181.4h0M750.0 173.8h0M776.2 158.6h0M757.1 172.7h0M786.7 148.5h0" stroke="#33ba9c" stroke-width="0.60" stroke-opacity="0.8"/>
<path d="M602.8 235.1h0M755.5 302.4h0M540.9 238.6h0M556.6 222.8h0M697.9 361.2h0M545.4 193.1h0M750.4 285.7h0M571.4 270.3h0M530.6 215.4h0M544.7 218.9h0M534.7 191.3h0M534.3 205.4h0M527.3 297.1h0M498.1 233.2h0M558.5 155.7h0M546.6 255.5h0M599.4 148.1h0M555.0 286.4h0M510.8 285.2h0M540.0 256.3h0M569.8 271.8h0M579.8 154.3h0M696.5 338.2h0M590.6 262.1h0M691.2 317.5h0M565.6 207.1h0M552.1 239.5h0M564.3 231.6h0M498.6 354.9h0M540.9 183.1h0M554.0 219.3h0M537.7 250.0h0M560.6 299.3h0M547.4 216.8h0M634.3 306.2h0M552.2 310.5h0M580.3 222.0h0M554.6 214.0h0M595.3 356.2h0M562.2 233.4h0M524.6 152.7h0M591.0 238.9h0M574.3 170.8h0M556.4 165.6h0M539.6 169.6h0M528.1 216.6h0M584.7 194.0h0M547.1 170.7h0M500.6 186.4h0M585.8 255.5h0M671.7 318.5h0M495.9 284.6h0M744.3 329.5h0M541.3 253.3h0M571.5 215.2h0M566.0 206.3h0M723.1 327.4h0M536.7 242.1h0M532.8 374.1h0M692.8 308.5h0M544.8 209.8h0M521.4 229.2h0M608.3 290.2h0M747.9 298.6h0M513.7 193.2h0M553.2 185.8h0M478.9 224.6h0M572.5 250.6h0M535.5 176.1h0M589.3 187.2h0M541.8 226.3h0M577.4 293.4h0M617.7 267.3h0M722.8 267.2h0M596.9 189.6h0M542.6 240.6h0M592.2 206.2h0M580.0 222.5h0M566.2 246.9h0M572.1 195.1h0M599.0 176.1h0M488.2 280.6h0M545.9 333.2h0M564.7 243.7h0M696.3 304.5h0M765.4 299.7h0M563.8 229.8h0M600.8 205.6h0M597.0 217.6h0M595.4 210.2h0M715.0 338.4h0M653.6 315.5h0M572.6 306.1h0M570.8 246.6h0M571.6 264.9h0M477.6 232.0h0M465.9 285.2h0M588.0 337.4h0M512.9 166.7h0M679.1 329.1h0M736.6 368.3h0M590.8 228.4h0M703.5 319.8h0M784.0 292.1h0M544.7 321.9h0M558.3 229.2h0M738.0 326.0h0M593.8 265.2h0M559.3 175.8h0M606.7 323.2h0M567.0 217.7h0M588.5 191.9h0M689.3 345.1h0M580.5 246.9h0M562.3 156.2h0M561.3 196.2h0M568.9 371.4h0M576.2 191.6h0M549.8 238.7h0M562.6 195.2h0M547.7 150.0h0M579.5 314.6h0M766.3 348.4h0M561.7 212.9h0M602.1 346.0h0M699.9 313.1h0M561.9 240.3h0M594.8 224.5h0M523.7 224.6h0M711.8 291.2h0M768.5 299.6h0M598.3 219.8h0M512.6 179.2h0M577.5 360.5h0M570.5 225.3h0M579.6 174.2h0M547.2 173.9h0M586.3 223.0h0M601.6 263.5h0M578.3 197.9h0M662.4 312.8h0M755.2 302.1h0M552.6 184.9h0M631.1 274.3h0M442.1 230.9h0M506.4 158.2h0M562.6 266.4h0M578.3 232.4h0M519.0 280.6h0M520.2 325.6h0M525.0 238.9h0M522.8 265.2h0M561.2 296.6h0M576.3 164.7h0M699.9 281.6h0M615.3 365.8h0M557.7 180.3h0M779.1 336.7h0M629.0 266.9h0M583.1 237.7h0M501.9 173.1h0M578.7 262.1h0M560.1 195.2h0M752.9 325.2h0M564.3 252.7h0M544.7 185.8h0M585.1 165.5h0M590.1 246.9h0M555.2 278.6h0M564.7 321.0h0M530.6 174.4h0M586.9 184.4h0M632.5 330.0h0M583.9 270.5h0M597.9 189.6h0M559.3 278.8h0M543.6 235.3h0M552.4 259.6h0M548.1 195.4h0M571.7 301.4h0M568.3 259.3h0M480.9 284.8h0M600.4 300.1h0M544.6 271.9h0M589.5 256.8h0M527.1 245.3h0M579.6 220.2h0M518.0 191.1h0M546.1 182.5h0M565.1 188.1h0M536.8 280.5h0M492.4 193.6h0M588.8 262.3h0M595.7 320.6h0M650.6 283.0h0M488.6 249.5h0M650.6 288.1h0M581.7 153.4h0M788.3 276.6h0M716.7 297.3h0M548.9 286.0h0M561.0 181.3h0M552.9 203.8h0M577.0 147.4h0M572.5 209.4h0M669.1 371.3h0M607.3 292.8h0M615.4 316.4h0M481.3 309.7h0M568.9 274.6h0M513.3 227.7h0M596.2 254.0h0M517.8 290.8h0M581.9 197.0h0M548.0 238.4h0M571.0 353.2h0M508.4 160.5h0M758.7 282.9h0M600.6 209.3h0M579.5 287.3h0" stroke="#e9594e" stroke-width="0.60" stroke-opacity="0.68"/>
<path d="M601.8 243.9h0M597.5 226.9h0M588.6 239.0h0M600.8 281.7h0M581.3 265.7h0M603.0 235.0h0M715.7 268.2h0M569.8 197.3h0M577.8 197.8h0M558.9 253.7h0M560.6 218.8h0M648.7 282.0h0M555.9 276.7h0M731.4 281.3h0M563.0 233.3h0M563.6 289.2h0M615.8 268.9h0M565.9 232.8h0M719.5 312.0h0M602.2 203.9h0M593.0 290.5h0M711.5 313.2h0M508.8 169.9h0M555.9 236.5h0M689.4 375.0h0M686.1 268.1h0M716.8 301.7h0M549.9 277.7h0M577.6 256.1h0M703.6 318.4h0M582.5 236.5h0M542.2 231.6h0M770.0 268.8h0M603.4 202.2h0M596.8 246.8h0M527.9 215.5h0M711.5 299.4h0M726.7 303.4h0M581.6 217.4h0M573.5 196.8h0M728.9 278.8h0M571.8 339.3h0M600.6 233.0h0M548.0 299.2h0M750.5 270.0h0M584.6 286.3h0M622.0 286.8h0M531.4 259.2h0M752.3 322.7h0M593.9 238.1h0M587.2 215.0h0M443.6 279.7h0M583.6 236.8h0M524.5 233.9h0M623.0 354.9h0M593.1 320.3h0M733.4 272.0h0M669.6 298.5h0M728.2 280.2h0M738.6 285.6h0M585.5 219.4h0M627.5 272.3h0M541.0 223.0h0M589.5 186.3h0M593.8 229.5h0M593.7 237.2h0M642.8 286.4h0M597.8 175.7h0M505.6 286.2h0M594.6 280.4h0M578.5 218.1h0M584.5 238.5h0M588.5 252.9h0M582.7 212.5h0M580.1 246.6h0M646.1 269.9h0M738.7 272.6h0M594.8 247.0h0M597.8 245.0h0M655.5 271.7h0M637.0 289.0h0M567.5 214.4h0M587.0 216.9h0M600.5 296.7h0M685.2 306.3h0M725.5 267.4h0M745.7 303.9h0M523.8 235.8h0M601.3 227.1h0M610.1 355.9h0M601.8 225.8h0M746.4 291.8h0M650.2 267.4h0M577.7 266.0h0M782.5 276.4h0M676.7 269.6h0M721.3 273.8h0M598.4 204.3h0M705.9 310.7h0M593.2 205.7h0M583.8 225.9h0M657.9 266.5h0M641.2 269.6h0M729.7 274.6h0M598.9 222.4h0M553.8 269.4h0M593.2 242.9h0M559.6 201.6h0M771.2 293.0h0M598.7 224.7h0M566.8 221.3h0M732.0 288.1h0M702.7 277.7h0M589.0 249.2h0M714.2 285.4h0M715.2 268.3h0M743.0 278.8h0M646.5 279.7h0M573.7 197.1h0M603.3 204.6h0M579.9 201.2h0M568.7 316.9h0M585.7 150.2h0M760.1 287.9h0M632.1 290.9h0M602.2 248.5h0M571.4 190.4h0M563.8 239.5h0M593.1 217.3h0M593.1 212.2h0M596.1 193.4h0M712.5 267.2h0M530.3 220.1h0M542.9 195.9h0M597.5 209.3h0M621.7 285.5h0M602.5 253.4h0M507.4 277.8h0M634.5 273.4h0M556.9 260.0h0M571.7 202.4h0M594.6 220.4h0M562.8 169.8h0M587.9 226.7h0M601.0 225.0h0M595.0 213.8h0M691.9 265.3h0M589.8 245.9h0M594.2 246.8h0M511.4 162.5h0M739.1 265.3h0M556.2 189.3h0M580.6 260.8h0M513.9 150.0h0M603.4 239.7h0M600.5 190.9h0M574.9 227.4h0M540.5 260.4h0M670.0 271.9h0M586.2 272.8h0M566.8 220.7h0M578.2 215.2h0M578.1 260.6h0M651.8 314.6h0M493.0 299.3h0M593.7 254.8h0M601.0 210.6h0M538.6 261.9h0M555.6 228.8h0M696.0 298.5h0M557.8 256.1h0M564.3 193.4h0M564.8 241.5h0M562.5 222.5h0M508.0 211.7h0M574.7 170.1h0M543.4 222.9h0M599.8 253.8h0M601.8 252.8h0M545.3 188.8h0M784.2 284.2h0M673.8 272.2h0M588.4 250.8h0M798.8 320.2h0M574.5 214.5h0M729.5 287.1h0M516.0 231.1h0M585.6 227.3h0M600.6 236.8h0M582.1 258.7h0M623.6 266.6h0M701.7 292.8h0M591.7 237.7h0M547.1 225.7h0M583.8 213.6h0M653.4 306.5h0M599.0 241.0h0M699.9 266.1h0M501.0 244.2h0M541.1 232.3h0M778.1 270.3h0M762.0 295.7h0M561.4 224.7h0M597.4 221.4h0M635.2 311.4h0M584.5 203.0h0M593.2 232.7h0M554.8 168.4h0M581.9 199.5h0M586.0 218.3h0M552.5 228.5h0M556.0 244.8h0M724.8 271.1h0M601.1 209.0h0M600.8 177.6h0M655.3 282.1h0M603.2 235.6h0M577.8 207.8h0M688.4 319.4h0M587.3 233.5h0" stroke="#e9594e" stroke-width="2.00" stroke-opacity="0.68"/>
<path d="M546.9 241.6h0M568.4 205.5h0M579.8 215.2h0M600.5 261.3h0M599.7 255.1h0M690.3 284.5h0M544.5 246.7h0M534.8 281.8h0M594.5 191.0h0M613.2 318.5h0M466.2 334.7h0M701.5 341.1h0M534.6 302.4h0M594.4 190.6h0M579.6 251.4h0M565.7 175.2h0M593.2 250.5h0M574.8 188.2h0M579.2 175.0h0M641.1 285.5h0M587.1 256.2h0M572.0 310.1h0M597.9 245.9h0M619.5 282.8h0M482.3 276.1h0M575.4 275.8h0M559.0 170.3h0M592.6 226.0h0M596.0 210.7h0M711.1 326.0h0M594.5 229.9h0M568.3 210.8h0M636.5 281.5h0M562.8 194.5h0M726.9 310.7h0M595.5 250.7h0M552.6 258.2h0M576.7 254.3h0M517.0 329.2h0M637.7 275.8h0M582.4 238.1h0M577.1 303.4h0M518.8 157.0h0M555.2 251.6h0M650.5 331.1h0M577.1 229.1h0M598.4 181.2h0M572.2 248.2h0M544.7 240.6h0M632.4 293.5h0M735.2 316.8h0M572.5 235.4h0M600.4 208.5h0M639.0 286.0h0M535.5 242.6h0M585.6 245.0h0M588.7 218.5h0M602.3 251.5h0M569.3 249.1h0M511.7 284.3h0M782.1 361.4h0M585.1 218.4h0M743.2 277.0h0M550.1 185.3h0M551.9 229.3h0M576.5 282.0h0M583.1 269.5h0M584.1 237.9h0M589.4 250.2h0M769.8 272.6h0M711.8 316.1h0M529.2 267.9h0M497.1 254.3h0M552.0 238.0h0M539.1 322.1h0M584.4 191.2h0M651.2 266.3h0M594.9 187.8h0M585.3 186.2h0M534.0 245.9h0M533.3 224.5h0M590.1 253.1h0M599.3 214.3h0M723.6 268.6h0M587.9 194.5h0M541.1 267.1h0M578.3 173.2h0M698.5 280.7h0M765.7 275.6h0M704.7 276.6h0M592.2 188.8h0M673.7 278.9h0M577.2 255.0h0M602.9 178.9h0M624.8 288.6h0M572.5 265.7h0M597.3 187.7h0M558.0 180.3h0M495.2 189.9h0M546.3 240.0h0M439.7 223.9h0M585.0 224.5h0M641.1 285.3h0M522.5 264.9h0M566.4 231.9h0M561.5 289.9h0M569.6 198.7h0M554.9 245.1h0M598.3 205.8h0M591.6 304.4h0M550.8 255.7h0M551.5 230.6h0M553.3 234.5h0M638.4 266.9h0M594.2 166.3h0M662.6 312.7h0M496.7 282.7h0M586.6 225.8h0M574.0 201.9h0M580.1 314.2h0M573.5 214.8h0M593.2 321.8h0M588.9 230.9h0M603.3 221.1h0M583.7 249.9h0M698.1 306.9h0M583.9 215.7h0M574.9 237.0h0M652.2 277.0h0M594.1 223.3h0M771.4 338.3h0M648.2 271.6h0M595.7 242.1h0M553.0 227.4h0M638.9 268.8h0M514.1 182.3h0M603.4 236.5h0M600.5 221.7h0M599.7 254.3h0M598.3 282.8h0M530.5 323.7h0M559.4 163.1h0M636.7 301.0h0M552.0 271.0h0M640.8 314.0h0M588.7 232.1h0M562.3 258.9h0M577.4 268.1h0M568.9 277.3h0M585.8 251.0h0M597.0 249.3h0M732.4 330.7h0M546.3 263.6h0M599.6 242.8h0M675.0 273.5h0M671.1 274.1h0M603.2 251.5h0M599.7 257.9h0M537.7 253.3h0M600.1 197.0h0M587.4 204.7h0M567.0 274.8h0M514.1 218.7h0M581.9 223.0h0M595.2 198.1h0M521.3 224.0h0M577.8 179.4h0M633.0 265.8h0M567.5 231.9h0M552.6 199.0h0M564.0 224.6h0M596.3 244.1h0M717.6 318.2h0M764.2 302.5h0M701.9 269.5h0M540.7 225.4h0M560.9 234.4h0M591.2 220.7h0M566.6 255.7h0M609.8 315.6h0M671.8 321.4h0M725.3 272.1h0M793.0 299.6h0M519.1 288.6h0M750.7 337.3h0M696.8 274.7h0M597.7 221.7h0M602.9 227.6h0M760.4 270.0h0M582.4 198.4h0M537.7 190.1h0M594.3 220.0h0M485.7 260.6h0M547.8 216.9h0M523.3 207.4h0M585.7 194.4h0M604.3 336.4h0M645.8 279.4h0M587.7 295.5h0M561.7 249.7h0M482.3 282.9h0M652.5 295.3h0M585.9 234.3h0M675.2 293.8h0M548.2 232.8h0M544.8 206.6h0M616.4 327.5h0M585.5 231.8h0M578.0 209.0h0M776.7 317.3h0M577.4 232.1h0M560.0 201.6h0M695.5 273.3h0M775.9 277.9h0M627.4 276.7h0M733.0 301.9h0M717.3 267.2h0M588.1 272.4h0M566.8 224.9h0M536.5 163.9h0" stroke="#e9594e" stroke-width="1.60" stroke-opacity="0.68"/>
<path d="M694.4 208.6h0M611.2 235.5h0M693.0 228.6h0M609.8 209.3h0M649.9 237.0h0M630.1 232.2h0M729.3 231.5h0M726.2 223.1h0M716.4 248.7h0M639.7 261.1h0M675.1 174.6h0M712.0 232.5h0M725.5 197.9h0M749.1 235.5h0M727.4 163.7h0M715.9 213.3h0M643.8 180.4h0M662.8 173.4h0M616.3 214.6h0M604.0 251.9h0M610.9 244.3h0M634.3 192.9h0M695.4 216.7h0M699.4 188.0h0M700.5 247.0h0M728.0 180.4h0M624.8 236.7h0M606.6 168.8h0M664.1 214.2h0M717.8 181.1h0M713.1 149.7h0M691.9 179.5h0M661.9 172.8h0M725.7 256.3h0M634.1 211.2h0M672.1 200.8h0M700.9 213.5h0M614.7 227.6h0M734.2 164.5h0M671.9 206.7h0M665.3 176.2h0M730.2 171.0h0M606.3 229.4h0M626.3 260.9h0M734.4 165.6h0M607.6 205.7h0M772.7 244.7h0M643.4 221.8h0M732.1 191.7h0M713.7 174.6h0M629.2 255.1h0M642.4 188.7h0M617.2 155.7h0M649.8 229.4h0M665.7 222.3h0M676.2 213.5h0M695.8 151.2h0M697.0 215.4h0M635.6 194.8h0M696.2 160.5h0M719.0 207.4h0M679.2 223.2h0M772.9 244.9h0M668.7 185.8h0M698.4 236.5h0M677.2 247.2h0M622.6 188.1h0M683.6 237.9h0M628.8 191.7h0M778.2 239.0h0M672.4 172.5h0M724.5 183.5h0M689.3 196.2h0M720.7 195.8h0M676.2 254.8h0M730.4 249.8h0M704.4 179.1h0M729.3 168.2h0M725.2 166.7h0M650.0 219.4h0M707.0 228.9h0M728.2 145.9h0M702.2 211.6h0M686.7 184.2h0M708.8 210.8h0M676.4 191.1h0M713.9 189.5h0M603.9 242.4h0M728.1 209.4h0M674.9 215.7h0M614.7 217.1h0M765.9 260.2h0M613.0 218.4h0M726.2 163.8h0M687.2 198.3h0M683.1 202.7h0M711.2 211.0h0M749.9 250.1h0M607.9 220.1h0M691.2 192.0h0M764.4 234.0h0M656.1 251.5h0M718.0 234.1h0M733.9 167.5h0M721.9 191.3h0M724.1 212.8h0M636.1 203.2h0M660.2 244.6h0M625.4 209.9h0M659.9 232.1h0M732.4 163.2h0M642.3 216.0h0M782.2 230.3h0M616.3 222.7h0M684.5 214.5h0M626.0 246.1h0M782.8 241.3h0M758.6 244.7h0M626.6 218.3h0M657.3 210.4h0M617.3 224.2h0M609.8 191.3h0M673.2 207.8h0M691.9 206.3h0M689.4 195.7h0M691.8 223.8h0M624.2 175.7h0M631.3 214.5h0M651.2 209.4h0M724.7 201.6h0M699.7 199.8h0M653.4 200.8h0M732.8 152.3h0M674.0 219.9h0M725.5 193.3h0M693.1 189.1h0M649.1 190.5h0M708.7 187.6h0M652.6 151.5h0M731.4 147.9h0M750.9 249.1h0M631.3 221.9h0M740.8 224.9h0M613.6 212.6h0M663.5 226.4h0M671.7 208.0h0M648.8 238.9h0M645.0 198.5h0M628.0 203.8h0M646.2 179.7h0M673.3 221.9h0M695.8 218.8h0M705.8 166.8h0M677.1 213.7h0M701.0 235.3h0M700.0 228.7h0M628.4 165.3h0M720.0 181.7h0M705.9 233.7h0M714.6 189.4h0M651.2 199.0h0M684.0 174.3h0M722.3 157.0h0M657.0 245.5h0M635.1 207.6h0M717.8 198.3h0M607.5 221.2h0M668.9 218.7h0M676.3 220.3h0M793.8 229.0h0M621.4 196.5h0M718.1 186.0h0M729.7 200.4h0M614.2 238.3h0M614.2 214.2h0M655.9 229.8h0M630.9 219.2h0M647.0 233.9h0M711.0 218.5h0M633.9 243.9h0M618.3 238.3h0M653.2 193.1h0M603.6 206.4h0M678.6 177.4h0M672.0 209.7h0M626.5 210.4h0M774.2 258.1h0M668.8 221.5h0M633.1 195.8h0M648.5 184.1h0M699.1 255.1h0M639.5 200.8h0M686.2 253.5h0M642.7 235.1h0M734.3 153.0h0M733.9 155.1h0M702.7 244.0h0M627.0 259.1h0M723.9 170.0h0M716.1 181.1h0M727.5 154.4h0M645.5 213.3h0M623.5 173.3h0M715.3 206.4h0M729.0 247.8h0M617.8 255.5h0M669.0 210.2h0M609.1 252.2h0M692.4 229.6h0M694.0 248.9h0M714.7 161.2h0M705.0 213.6h0M733.2 207.1h0M637.2 229.5h0M733.7 178.1h0M630.5 253.9h0M608.6 222.5h0M795.0 236.4h0M612.6 209.1h0M730.4 197.9h0" stroke="#f68a3c" stroke-width="1.20" stroke-opacity="0.74"/>
<path d="M595.1 170.7h0M583.2 222.6h0M579.0 230.1h0M797.8 284.9h0M575.2 205.5h0M591.7 230.9h0M538.8 214.2h0M717.1 276.2h0M690.1 303.3h0M657.9 306.6h0M611.4 330.2h0M595.2 260.5h0M536.9 261.0h0M596.6 236.5h0M597.3 235.2h0M663.2 277.7h0M727.6 265.2h0M596.5 272.8h0M698.4 292.0h0M601.0 216.0h0M687.8 300.4h0M630.4 315.6h0M645.0 279.9h0M598.6 242.2h0M528.0 226.2h0M657.9 303.0h0M759.8 276.2h0M594.9 218.5h0M576.3 288.5h0M739.3 275.7h0M656.8 272.5h0M576.0 230.2h0M727.8 278.2h0M591.0 180.1h0M596.3 225.6h0" stroke="#e9594e" stroke-width="4.40" stroke-opacity="0.68"/>
<path d="M719.8 182.6h0M668.3 217.0h0M717.5 228.4h0M715.8 204.3h0M704.7 233.7h0M746.8 230.0h0M686.2 207.2h0M635.2 218.1h0M760.9 248.6h0M715.3 244.3h0M765.5 239.6h0M649.4 224.2h0M644.9 224.6h0M730.1 199.3h0M725.6 210.8h0M643.2 216.8h0M733.5 191.7h0M660.6 230.8h0M665.5 230.5h0M703.9 218.1h0M648.6 248.2h0M740.7 236.4h0M777.2 234.7h0M623.8 232.5h0M674.0 232.1h0M781.8 226.7h0M700.6 246.5h0M653.9 229.3h0M610.0 227.0h0M626.4 232.0h0M679.7 249.9h0M646.0 214.9h0M656.2 224.7h0M667.2 252.0h0M647.0 233.9h0M670.6 195.1h0M653.9 228.6h0M656.1 222.1h0M705.1 233.5h0M639.6 200.4h0M682.4 220.1h0M643.6 208.4h0M717.3 223.6h0M693.1 193.7h0M643.7 224.1h0M693.8 241.3h0M606.6 207.9h0M617.8 230.0h0M722.9 227.5h0M718.8 248.3h0M707.2 214.1h0M701.1 212.6h0M672.4 231.9h0M762.6 223.8h0M650.5 242.5h0M717.7 212.6h0M731.9 244.0h0M618.4 255.4h0M648.7 189.2h0M762.3 237.1h0M662.3 243.7h0M738.4 250.6h0M728.3 252.7h0M647.1 191.5h0M621.8 255.4h0M664.1 224.6h0M703.3 238.6h0M769.7 234.8h0M782.0 246.7h0M650.5 228.8h0M730.4 206.9h0M792.1 230.3h0M730.2 200.3h0M632.9 223.0h0M646.8 217.6h0M668.4 226.9h0M624.6 214.2h0M686.9 202.4h0M712.3 259.6h0M743.5 248.7h0M636.0 223.2h0M615.1 237.6h0M655.8 214.2h0M688.3 196.2h0M691.0 238.2h0" stroke="#f68a3c" stroke-width="3.40" stroke-opacity="0.74"/>
<path d="M704.3 212.3h0M727.1 196.7h0M710.8 170.1h0M634.2 243.2h0M679.9 229.5h0M604.1 254.1h0M676.9 167.1h0M681.4 191.1h0M617.1 207.0h0M785.3 240.4h0M694.5 181.9h0M674.6 233.0h0M668.7 251.1h0M733.5 207.0h0M671.1 251.7h0M724.8 191.4h0M658.4 229.3h0M722.4 157.9h0M792.8 242.4h0M719.1 247.4h0M729.3 166.9h0M681.9 214.3h0M678.9 184.4h0M608.9 221.6h0M606.0 207.0h0M611.7 261.1h0M623.0 200.9h0M623.7 168.0h0M616.8 233.9h0M666.0 208.3h0M722.8 161.4h0M613.0 211.8h0M783.3 262.2h0M648.2 186.0h0M644.7 154.0h0M716.8 176.7h0M691.5 194.9h0M638.4 250.4h0M609.0 257.7h0M727.0 183.6h0M732.4 262.6h0M642.4 191.8h0M672.0 179.3h0M673.1 228.7h0M608.2 187.4h0M633.5 208.6h0M711.5 246.7h0M676.7 177.4h0M733.2 204.0h0M724.0 191.3h0M733.7 221.0h0M612.1 247.1h0M629.2 229.4h0M660.9 210.2h0M698.4 216.6h0M722.6 251.7h0M669.8 246.1h0M635.9 216.2h0M729.4 145.8h0M622.6 245.6h0M688.8 197.4h0M646.4 263.9h0M769.6 243.4h0M685.9 185.4h0M651.8 264.6h0M612.0 195.2h0M697.8 170.9h0M668.0 220.5h0M612.0 219.3h0M629.1 213.8h0M610.5 226.0h0M731.2 164.5h0M727.7 197.4h0M729.9 155.7h0M693.8 237.7h0M719.3 205.9h0M626.7 253.2h0M730.6 188.1h0M644.6 190.9h0M606.4 241.0h0M612.3 231.0h0M791.2 247.0h0M627.8 229.3h0M603.5 235.1h0M698.3 167.2h0M725.0 218.3h0M725.3 232.1h0M745.7 242.3h0M718.1 172.0h0M717.4 206.7h0M615.3 235.7h0M713.2 165.9h0M672.6 203.7h0M760.4 258.6h0M724.5 201.3h0M733.1 172.8h0M713.1 246.5h0M703.4 183.6h0M606.6 245.9h0M612.8 236.5h0M617.4 204.9h0M666.6 218.4h0M728.5 229.1h0M673.1 235.4h0M651.6 164.4h0M622.9 249.2h0M660.6 222.3h0M656.9 195.6h0M703.7 171.7h0M642.7 174.4h0M613.1 197.2h0M701.1 168.9h0M626.0 233.8h0M709.0 222.0h0M760.9 242.7h0M796.5 241.7h0M726.5 161.9h0M659.2 179.4h0M717.4 203.6h0M630.5 214.7h0M745.1 259.3h0M724.1 169.2h0M712.2 203.4h0M671.7 235.9h0M656.6 212.2h0M755.2 226.5h0M777.8 255.0h0M697.5 260.2h0M713.9 177.7h0M708.3 261.3h0M657.2 209.9h0M623.0 163.1h0M670.4 194.3h0M616.4 235.6h0M692.6 186.3h0M640.3 223.7h0M714.0 167.8h0M626.1 214.4h0M723.3 231.0h0M714.0 219.0h0M713.1 174.6h0M781.2 249.2h0M733.9 244.0h0M771.3 229.1h0M702.9 240.2h0M720.0 238.4h0M708.5 223.0h0M715.4 149.5h0M607.2 195.1h0M683.2 179.1h0M758.2 240.4h0M686.4 219.8h0M678.0 172.7h0M623.4 191.8h0M653.3 226.5h0M636.0 231.4h0M713.6 144.8h0M710.3 232.4h0M696.5 204.3h0M724.8 193.9h0M746.0 231.0h0M649.5 221.2h0M727.3 175.5h0M702.2 197.0h0M655.6 223.9h0M662.1 194.8h0M733.5 198.1h0M700.2 197.4h0M723.7 150.0h0M714.3 164.9h0M625.5 248.6h0M608.7 153.3h0M632.9 207.4h0M636.5 205.7h0M618.0 195.7h0M728.0 173.9h0M650.8 160.3h0M684.0 156.6h0M643.9 225.2h0M715.8 173.0h0M734.8 189.9h0M713.4 174.5h0M641.1 240.0h0M717.1 146.5h0M734.6 200.0h0M667.4 186.4h0M657.2 200.3h0M668.0 261.3h0M690.8 202.9h0M728.6 178.7h0M708.0 253.1h0M712.3 236.6h0M716.8 197.5h0M689.3 145.2h0M733.4 169.0h0M657.5 182.7h0M611.2 216.8h0M655.3 189.2h0M761.6 228.4h0M699.0 205.1h0M652.6 213.8h0M628.0 207.5h0M703.3 202.3h0M620.9 185.5h0M705.7 153.4h0M727.8 161.8h0M669.3 225.3h0M684.4 175.2h0M611.6 190.9h0M721.9 199.5h0M627.8 206.3h0M608.0 262.6h0M630.8 145.1h0M719.5 169.6h0M659.6 186.6h0M721.7 180.5h0M733.0 189.8h0M635.7 258.8h0M677.8 166.5h0M628.7 210.8h0" stroke="#f68a3c" stroke-width="0.90" stroke-opacity="0.74"/>
<path d="M743.1 236.7h0M632.7 239.5h0M767.0 228.0h0M706.9 232.1h0M664.8 227.2h0M626.6 221.9h0M702.0 198.9h0M608.9 231.6h0M725.8 169.1h0M668.3 242.3h0M769.9 237.8h0M685.7 217.4h0M696.7 221.3h0M637.5 217.0h0M662.8 242.5h0M635.5 230.9h0M704.6 223.6h0M626.6 239.5h0M790.0 223.7h0M637.0 209.5h0M639.0 222.4h0M772.4 250.0h0M700.0 193.6h0M732.7 237.6h0M671.7 224.3h0M626.6 176.9h0M641.7 216.9h0M691.7 228.2h0M653.3 215.9h0M694.9 206.1h0M654.1 223.2h0M754.5 252.5h0M680.7 212.8h0M616.0 233.6h0M642.7 215.7h0M714.7 213.7h0M717.4 226.7h0M662.0 229.6h0M636.4 227.6h0M630.5 180.0h0M733.3 219.6h0M639.1 243.2h0M622.0 224.8h0M724.9 165.5h0M652.4 244.0h0M615.1 239.6h0M750.1 240.3h0M692.5 237.0h0M690.5 225.7h0M618.3 209.8h0M763.9 227.7h0M666.6 204.7h0M687.9 225.3h0M657.0 232.5h0M633.6 231.3h0M646.9 243.0h0M669.0 232.2h0M626.5 211.5h0M627.3 221.0h0M676.8 214.3h0M664.3 240.4h0M654.3 222.6h0M710.8 244.1h0M705.8 256.6h0M645.7 207.2h0M675.4 234.5h0M623.1 210.0h0M640.6 225.3h0M672.9 192.2h0M729.5 222.2h0M657.0 250.1h0M675.4 226.5h0M654.0 237.4h0M679.0 193.7h0M682.0 219.9h0M670.5 232.9h0M740.3 229.5h0M728.1 178.2h0M628.0 227.3h0M636.5 231.7h0M757.3 228.9h0M623.4 192.2h0M727.7 200.0h0M727.6 246.7h0M776.2 232.6h0M641.8 234.7h0M670.8 196.9h0M717.8 225.9h0M637.9 237.2h0M681.9 214.0h0M647.9 218.1h0M722.3 209.4h0M744.4 244.8h0M641.1 210.6h0M723.8 190.0h0M703.3 230.3h0M646.7 231.7h0M627.5 224.5h0M638.9 248.3h0M672.7 214.1h0M737.5 238.8h0M672.3 218.4h0M657.5 226.7h0M719.9 214.5h0M742.9 222.9h0M615.3 227.9h0M731.9 211.3h0M664.5 213.7h0M701.9 227.9h0M672.1 214.1h0M660.8 224.2h0M696.2 264.9h0M651.7 205.6h0M735.0 192.1h0M711.3 229.1h0M677.3 251.1h0M725.7 199.2h0M667.3 249.8h0M608.0 222.4h0M720.4 196.7h0M679.4 257.1h0M723.2 253.8h0M651.2 249.3h0M690.4 210.2h0M680.4 212.2h0M714.7 178.5h0M699.6 237.2h0M719.6 223.2h0M710.1 242.6h0M668.3 220.1h0M665.2 264.5h0M662.3 205.6h0M671.5 230.5h0M644.8 241.8h0M664.3 204.1h0M695.2 259.8h0M668.3 187.5h0M646.9 233.6h0M730.8 210.6h0M666.6 221.8h0M710.9 205.6h0M633.3 216.7h0M681.0 234.8h0M657.1 243.2h0M748.0 241.1h0M762.5 228.7h0M693.6 264.7h0M753.4 236.5h0M663.1 220.4h0M624.0 221.9h0M654.2 237.0h0M729.1 158.0h0M625.6 236.6h0M696.2 216.4h0M684.5 244.6h0M667.8 216.6h0M629.9 223.7h0M715.3 215.0h0M643.2 232.9h0M734.1 230.7h0M644.9 223.1h0M690.8 220.2h0M611.1 214.6h0M713.0 219.5h0M712.6 230.9h0M607.4 222.7h0M648.6 212.9h0M692.1 244.1h0M626.3 258.7h0M663.3 240.0h0M611.7 234.5h0M723.7 203.6h0M714.4 219.0h0M655.3 206.6h0M690.9 214.6h0M756.8 224.3h0M680.4 246.3h0M664.9 257.4h0M742.5 254.8h0M751.1 233.3h0M697.9 264.9h0M665.9 235.7h0M667.6 240.7h0M667.0 210.9h0M670.0 235.1h0M695.0 194.8h0M746.6 222.6h0M653.7 232.9h0M764.2 261.3h0M682.7 236.7h0M608.1 244.5h0M748.2 239.3h0M651.3 237.5h0M680.3 225.8h0M713.7 221.4h0M660.8 222.2h0M611.2 225.7h0M668.7 222.5h0M797.6 245.6h0M709.2 227.2h0M649.8 215.1h0M686.8 229.2h0M642.0 234.3h0M618.0 242.6h0M698.9 226.9h0M622.4 222.1h0M661.7 220.8h0M771.0 231.6h0M716.6 239.3h0M610.0 212.1h0M733.4 157.3h0M615.0 229.6h0M719.9 226.2h0M713.7 220.3h0M713.4 223.3h0M716.5 229.8h0M662.8 241.9h0M640.0 225.0h0M708.8 229.5h0M632.6 224.6h0" stroke="#f68a3c" stroke-width="3.40" stroke-opacity="0.74"/>
<path d="M707.5 182.7h0M713.8 169.9h0M725.7 171.6h0M730.1 200.9h0M627.1 181.5h0M691.9 178.0h0M683.5 161.1h0M679.3 186.7h0M731.0 161.3h0M638.5 212.8h0M711.2 158.3h0M723.5 187.2h0M744.2 225.5h0M663.9 182.5h0M621.8 215.1h0M724.4 257.0h0M721.6 156.3h0M723.3 162.5h0M728.5 180.4h0M606.1 233.1h0M722.5 166.1h0M611.2 181.6h0M721.1 194.0h0M722.7 181.3h0M722.4 175.4h0M659.0 169.9h0M671.2 173.5h0M608.8 231.7h0M722.2 183.3h0M720.3 168.4h0M727.6 157.1h0M635.5 163.2h0M666.4 155.3h0M730.5 193.8h0M726.0 177.5h0M646.7 240.1h0M640.9 166.8h0M788.1 242.1h0M651.3 177.6h0M725.6 167.3h0M621.1 208.6h0M628.0 246.3h0M754.1 250.7h0M776.6 241.4h0M681.0 189.4h0M619.4 246.1h0M730.0 195.3h0M614.5 206.9h0M627.2 238.8h0M703.6 198.8h0M730.1 216.3h0M604.5 227.2h0M622.9 191.5h0M607.8 252.7h0M611.2 192.5h0M725.8 153.2h0M657.5 190.6h0M694.6 162.0h0M729.2 185.2h0M633.2 193.5h0M748.0 254.2h0M729.2 231.7h0M722.6 152.2h0M705.4 170.9h0M716.1 159.2h0M733.6 185.7h0M728.9 192.7h0M703.0 165.1h0M703.5 164.6h0M773.7 264.6h0M781.9 231.3h0M627.4 226.1h0M715.6 166.8h0M605.3 178.6h0M726.4 173.5h0M654.4 193.3h0M795.8 264.4h0M720.8 168.0h0M731.1 199.6h0M735.0 176.4h0M699.4 177.4h0M635.5 185.1h0M690.8 224.6h0M612.0 175.8h0M611.2 258.0h0M705.2 171.8h0M607.8 146.8h0M799.7 238.7h0M718.1 178.9h0M620.1 201.8h0M698.2 204.1h0M608.1 252.9h0M732.3 151.6h0M649.1 198.7h0M697.4 160.1h0M701.0 161.9h0M733.5 147.0h0M630.8 184.8h0M620.1 196.2h0M708.0 189.1h0M608.0 178.9h0M629.7 229.4h0M644.9 240.8h0M730.0 186.3h0M688.3 209.1h0M717.9 181.8h0M621.9 256.5h0M722.0 166.0h0M607.6 227.6h0M615.4 226.8h0M652.2 194.3h0M604.0 258.0h0M704.6 187.1h0M639.0 172.1h0M660.1 183.3h0M699.0 172.7h0M700.9 149.0h0M724.4 161.6h0M723.6 182.5h0M716.5 173.3h0M721.3 195.7h0M618.2 213.7h0M672.7 245.9h0M641.4 153.7h0M720.7 213.6h0M734.3 195.0h0M660.2 190.0h0M607.2 174.9h0M604.2 206.0h0M618.0 222.3h0M643.0 232.6h0M608.1 205.5h0M607.0 242.4h0M690.3 177.2h0M648.1 173.6h0M714.6 170.2h0M728.6 154.9h0M709.3 201.9h0M674.5 206.9h0M706.6 196.9h0M647.2 223.0h0M726.1 146.8h0M721.3 158.4h0M690.3 184.0h0M715.4 154.3h0M730.6 183.0h0M704.6 181.9h0M605.7 208.6h0M718.4 172.6h0M686.6 189.8h0M644.6 156.7h0M628.7 194.5h0M633.7 173.4h0M606.0 212.6h0M664.1 153.9h0M726.2 166.6h0M711.3 180.6h0M740.0 228.5h0M745.3 254.9h0M623.4 220.7h0M605.9 227.5h0M766.1 249.2h0M718.0 166.3h0M725.4 185.6h0M691.4 221.7h0M712.7 170.7h0M726.7 199.2h0M687.6 183.0h0M604.5 198.3h0M718.1 176.0h0M620.4 218.0h0M722.3 177.1h0M608.1 190.4h0M719.7 203.0h0M727.0 245.0h0M632.0 233.5h0M719.3 189.8h0M610.7 213.0h0M726.5 174.3h0M623.2 204.4h0M672.6 218.8h0M653.3 174.6h0M702.1 163.8h0M713.8 153.2h0M634.8 204.0h0M719.1 161.8h0M700.4 194.3h0M608.8 216.5h0M635.0 175.5h0M708.9 188.9h0M709.7 217.5h0M733.9 160.0h0M672.3 165.7h0M611.5 202.3h0M655.5 190.6h0M710.6 208.4h0M659.3 189.2h0M680.5 173.6h0M716.1 171.4h0M611.7 255.9h0M753.2 228.8h0M665.2 255.6h0M647.9 191.0h0M795.5 233.9h0M720.9 149.6h0M674.6 261.6h0M729.7 157.7h0M715.0 160.5h0M700.1 182.5h0M618.9 217.5h0M723.5 178.3h0M662.8 179.0h0M716.7 175.6h0M655.0 164.5h0M724.5 184.0h0M615.9 240.2h0M715.4 200.4h0M649.4 210.2h0M706.1 264.9h0M603.7 180.3h0" stroke="#f68a3c" stroke-width="0.60" stroke-opacity="0.74"/>
<path d="M598.4 242.0h0M511.8 176.8h0M668.7 328.1h0M580.6 199.9h0M672.9 282.5h0M568.2 259.3h0M720.6 307.8h0M613.3 296.6h0M575.7 280.7h0M608.7 292.6h0M566.4 222.2h0M584.4 226.1h0M578.0 308.1h0M514.2 172.0h0M555.8 240.5h0M591.4 255.3h0M559.5 243.9h0M612.7 357.2h0M517.4 240.5h0M796.6 269.3h0M740.0 299.2h0M654.8 271.3h0M566.9 325.8h0M588.2 266.9h0M577.1 263.6h0M530.0 272.9h0M723.7 287.2h0M574.4 254.7h0M682.4 280.3h0M593.7 222.6h0M599.3 246.6h0M474.9 194.3h0M567.5 249.7h0M550.2 265.8h0M550.4 228.1h0M555.2 228.8h0M650.5 289.4h0M726.8 338.1h0M568.3 218.5h0M588.0 186.9h0M549.0 204.1h0M613.1 282.9h0M551.4 260.4h0M549.0 201.3h0M603.2 271.7h0M526.2 260.8h0M543.9 260.0h0M740.9 283.8h0M593.3 258.0h0M601.1 269.4h0M744.6 271.1h0M493.9 156.8h0M714.4 282.2h0M599.1 234.1h0M596.1 160.5h0M631.4 351.8h0M523.2 247.1h0M603.1 303.6h0M582.9 273.6h0M570.0 239.2h0M648.1 303.1h0M563.6 322.0h0M587.5 164.0h0M474.6 283.0h0M449.1 316.5h0M715.3 274.3h0M532.4 186.8h0M592.9 234.2h0M586.1 296.9h0M731.4 292.9h0M600.5 217.9h0M583.5 226.3h0M573.7 204.6h0M557.1 240.6h0M701.9 268.3h0M542.5 250.9h0M725.3 268.4h0M583.9 224.8h0M535.3 284.7h0M535.0 168.7h0M757.0 311.4h0M564.6 194.9h0M568.9 229.6h0M603.1 178.6h0M727.4 341.5h0M460.4 233.2h0M566.3 226.7h0M585.9 198.7h0M682.4 293.0h0M735.6 268.2h0M558.5 234.2h0M475.4 244.3h0M556.5 226.5h0M575.0 227.6h0M704.2 350.1h0M556.1 166.6h0M561.8 257.6h0M587.5 251.4h0M601.2 208.6h0M578.7 242.6h0M562.4 240.6h0M586.9 213.7h0M797.2 286.1h0M561.1 277.0h0M569.4 183.1h0M530.1 256.5h0M704.1 322.2h0M730.0 300.8h0M552.6 250.7h0M568.2 235.1h0M595.5 224.9h0M555.3 202.0h0M582.5 194.3h0M571.0 259.0h0M593.3 238.0h0M696.3 278.3h0M594.9 321.0h0M594.3 237.6h0M550.9 251.3h0M521.7 340.8h0M498.7 297.2h0M619.5 327.0h0M591.6 249.4h0M700.4 322.3h0M593.5 234.9h0M741.7 359.0h0M578.1 209.3h0M627.2 308.8h0M550.6 251.3h0M587.1 279.2h0M566.6 225.2h0M586.2 258.4h0M559.6 286.2h0M563.5 258.9h0M573.9 197.7h0M511.9 252.4h0M645.3 283.8h0M597.0 231.4h0M687.8 266.5h0M583.4 227.2h0M734.5 333.0h0M540.3 189.2h0M566.8 188.9h0M584.7 259.4h0M598.0 238.5h0M571.9 257.0h0M466.6 347.2h0M590.1 223.3h0M525.3 313.9h0M642.5 298.0h0M602.5 197.9h0M529.5 235.6h0M571.2 287.1h0M580.4 272.2h0M585.4 324.5h0M639.1 287.5h0M527.2 264.6h0M589.0 213.9h0M593.5 216.6h0M657.4 332.4h0M603.3 233.7h0M571.8 259.7h0M589.1 225.2h0M553.5 260.4h0M463.8 322.8h0M790.5 312.0h0M553.6 167.7h0M554.9 248.6h0M591.7 218.0h0M755.1 298.0h0M586.4 239.7h0M744.7 295.2h0M681.9 292.0h0M539.0 250.6h0M761.2 305.0h0M795.5 268.6h0M566.8 216.5h0M580.7 194.5h0M556.9 206.7h0M554.8 252.5h0M753.9 290.4h0M532.0 177.4h0M569.4 317.5h0M524.8 262.6h0M573.9 202.4h0M581.6 245.8h0M553.6 315.2h0M620.9 367.5h0M526.3 183.6h0M594.6 215.6h0M598.9 218.6h0M578.3 276.9h0M508.7 185.2h0M643.9 310.7h0M516.0 171.1h0M565.0 317.3h0M600.4 236.3h0M598.5 200.3h0M701.5 270.0h0M497.7 220.3h0M722.4 293.4h0M591.4 264.6h0M737.4 290.1h0M560.2 309.5h0M545.6 228.3h0M645.4 308.2h0M574.0 291.2h0M712.2 290.7h0M698.9 269.5h0M600.8 231.8h0M534.0 152.4h0M783.9 306.1h0M557.4 230.0h0M600.3 282.9h0M536.2 230.7h0M761.5 295.5h0M786.0 284.4h0M547.1 236.0h0M602.4 252.5h0M575.1 243.0h0" stroke="#e9594e" stroke-width="1.60" stroke-opacity="0.68"/>
<path d="M542.4 237.4h0M686.3 288.9h0M517.4 147.5h0M623.6 353.3h0M554.0 270.2h0M705.0 318.6h0M581.0 211.1h0M595.1 262.7h0M589.4 247.5h0M565.5 265.6h0M576.7 268.6h0M551.2 196.7h0M596.7 172.0h0M533.3 204.1h0M589.0 229.6h0M593.2 159.2h0M486.9 166.2h0M518.5 292.5h0M602.4 188.2h0M575.3 241.2h0M695.7 323.9h0M477.9 229.0h0M556.9 252.2h0M543.6 194.6h0M599.0 297.1h0M578.6 207.7h0M709.7 281.2h0M547.1 209.3h0M625.9 272.7h0M562.1 224.8h0M552.2 256.5h0M596.3 261.8h0M567.7 243.7h0M505.1 246.8h0M566.8 201.2h0M774.8 367.0h0M591.1 173.7h0M708.0 280.9h0M545.8 213.2h0M532.3 159.0h0M592.1 264.3h0M477.6 296.3h0M522.2 328.1h0M533.3 249.7h0M675.2 266.5h0M675.0 345.0h0M588.0 206.9h0M579.1 225.8h0M566.8 204.1h0M618.6 296.1h0M662.9 330.7h0M572.0 255.6h0M562.6 252.8h0M509.6 314.0h0M481.8 292.0h0M557.5 245.6h0M624.5 307.9h0M606.6 325.2h0M789.6 280.5h0M588.4 152.5h0M696.7 306.1h0M527.0 216.6h0M497.1 268.8h0M576.2 205.2h0M592.5 198.0h0M554.5 166.5h0M593.0 234.1h0M570.2 250.7h0M547.5 329.9h0M551.2 147.7h0M576.9 231.1h0M735.4 274.2h0M581.1 232.1h0M634.7 329.9h0M706.6 324.1h0M532.1 229.8h0M602.8 286.6h0M550.9 317.5h0M533.9 209.7h0M571.6 229.3h0M508.7 264.3h0M510.4 181.9h0M647.6 342.9h0M766.7 300.9h0M644.9 280.0h0M494.3 351.1h0M650.6 272.4h0M523.5 274.2h0M496.4 200.3h0M751.8 267.3h0M525.2 231.8h0M746.6 287.8h0M492.9 327.6h0M577.3 166.4h0M596.4 226.8h0M566.4 281.3h0M578.1 245.6h0M559.4 190.2h0M705.5 342.2h0M597.8 169.2h0M579.3 264.0h0M567.7 246.7h0M528.0 235.8h0M603.2 207.2h0M554.4 258.4h0M514.4 322.7h0M558.7 216.3h0" stroke="#e9594e" stroke-width="0.90" stroke-opacity="0.68"/>
<path d="M572.9 257.0h0M601.3 210.6h0M595.3 232.2h0M589.0 260.1h0M580.2 209.4h0M601.8 222.9h0M593.3 252.3h0M603.1 236.7h0" stroke="#e9594e" stroke-width="5.60" stroke-opacity="0.68"/>
<path d="M767.0 163.1h0M761.5 199.0h0M746.5 166.0h0M790.9 169.0h0M775.3 195.8h0M790.4 204.2h0M764.9 209.2h0M762.3 191.2h0M743.1 211.0h0M774.9 183.3h0M755.7 170.6h0M752.6 189.3h0M772.5 171.5h0M778.2 180.9h0M760.6 174.7h0M757.1 167.0h0M753.7 167.5h0M791.2 164.7h0M746.0 187.4h0M778.7 176.7h0M783.4 181.3h0M749.3 218.1h0M765.3 177.3h0M744.7 159.2h0M763.0 151.5h0M782.6 177.2h0M791.6 198.0h0M795.7 164.4h0M793.6 159.0h0M750.1 180.7h0M765.1 204.0h0M758.3 196.4h0M769.6 189.4h0M772.2 186.6h0M779.3 189.2h0M753.3 197.7h0M763.8 175.3h0M751.2 183.8h0M791.3 180.6h0M762.3 207.6h0M764.7 167.4h0M776.9 202.6h0M747.2 175.5h0M758.1 161.2h0M753.9 193.5h0M764.9 188.5h0M765.7 154.8h0M743.0 163.7h0M743.0 173.1h0M735.7 176.1h0M751.7 174.8h0M766.6 182.0h0M780.1 193.4h0M743.9 216.8h0M776.1 149.9h0M771.8 153.0h0M777.9 158.9h0M799.4 191.8h0M768.6 194.6h0M775.8 189.0h0M793.5 149.2h0M768.5 175.2h0M786.9 200.4h0M737.3 181.6h0M770.5 194.2h0M786.8 165.4h0M758.6 213.8h0M760.5 155.8h0M756.3 170.5h0M792.5 198.0h0M750.4 198.9h0M762.8 181.6h0M780.0 156.6h0M745.2 180.6h0M778.4 185.6h0M775.7 163.1h0M772.0 178.0h0M778.6 187.1h0M753.3 179.7h0M779.2 183.4h0M743.1 194.2h0M764.2 173.2h0M774.2 198.5h0M756.6 190.0h0M774.0 160.1h0M763.5 193.3h0M746.3 182.0h0M753.2 169.7h0M769.9 199.7h0M775.7 178.1h0M759.0 175.6h0M797.5 183.5h0M768.3 216.7h0M775.6 197.6h0M785.6 211.3h0M770.8 154.4h0M763.5 190.4h0M755.5 188.7h0M749.1 176.4h0M747.4 196.3h0M745.9 177.5h0M781.8 199.0h0M784.0 174.8h0M744.3 180.6h0M768.7 179.9h0M749.5 215.3h0M767.7 176.7h0M783.7 191.1h0M765.2 173.5h0M748.5 192.2h0M767.8 170.8h0M740.2 195.7h0M746.6 189.6h0M748.6 154.5h0M783.9 186.5h0M768.8 213.8h0M751.9 152.5h0M738.6 211.2h0M749.4 176.0h0M757.8 180.2h0M758.2 212.6h0M735.5 168.4h0M757.5 179.3h0M767.3 192.2h0M760.4 218.6h0M766.1 181.8h0M783.5 161.5h0M796.7 158.7h0M783.1 188.5h0M757.3 190.8h0M766.0 172.7h0M750.7 199.2h0M769.6 165.8h0M775.3 158.2h0M756.4 145.4h0M787.9 177.0h0M794.3 158.6h0M756.0 191.4h0M735.1 213.4h0M758.1 215.5h0M768.4 168.1h0M765.3 175.5h0M746.9 192.4h0M736.7 210.8h0M759.1 195.5h0M778.1 178.0h0M757.4 182.1h0M771.7 169.1h0M797.4 179.3h0M737.8 157.6h0M788.7 167.7h0M787.9 173.4h0M798.9 217.1h0M764.8 182.2h0M780.0 183.0h0M754.5 158.7h0M764.6 159.6h0M756.4 193.2h0M783.8 149.4h0M771.4 194.6h0M767.5 174.0h0M755.4 182.3h0M740.8 219.4h0M793.3 186.9h0M769.5 196.2h0M795.6 174.1h0M743.5 221.5h0M755.3 171.0h0M777.8 194.2h0M736.0 192.5h0M775.1 162.8h0M768.3 158.0h0M786.3 161.2h0M761.4 169.7h0M785.1 190.6h0M738.6 158.2h0M777.7 212.8h0M756.1 182.3h0M749.2 172.6h0M778.2 211.8h0M759.2 186.0h0M779.8 167.6h0M781.3 212.5h0M751.9 178.6h0M768.0 164.0h0M758.5 193.6h0M785.3 179.3h0M751.5 147.3h0M780.5 147.6h0M798.9 181.6h0M753.1 165.1h0M776.2 167.1h0M756.4 164.3h0M795.8 184.4h0M752.1 195.9h0M776.1 176.9h0M785.4 184.3h0M770.1 168.4h0M763.0 221.0h0M738.5 172.0h0M740.5 182.3h0M767.3 184.6h0M772.3 167.9h0M760.7 181.2h0M749.5 193.5h0M769.9 168.7h0M779.9 199.7h0M768.8 189.3h0M754.2 192.3h0M784.8 195.1h0M789.2 188.7h0M780.7 190.9h0M739.5 197.7h0M775.2 181.9h0M797.7 186.3h0M762.8 172.0h0M779.3 216.6h0M766.7 182.6h0M751.3 166.8h0M772.2 195.8h0" stroke="#33ba9c" stroke-width="1.60" stroke-opacity="0.8"/>
<path d="M621.9 199.8h0M657.5 206.7h0M677.5 223.0h0M663.4 221.8h0M661.7 232.6h0M730.8 218.5h0M660.9 243.2h0M654.0 229.2h0M702.2 234.4h0M689.7 228.2h0M666.6 201.2h0M683.0 234.1h0M659.2 244.6h0M739.7 235.4h0M681.2 210.5h0M696.4 202.2h0M605.6 187.5h0M712.1 212.3h0M639.4 219.0h0M689.6 227.3h0M676.0 243.3h0M701.5 227.5h0M727.4 231.8h0M654.4 215.5h0M604.7 197.8h0M644.1 193.2h0M639.8 258.6h0M659.2 215.7h0M613.9 232.5h0M657.6 219.2h0M711.6 214.5h0M736.9 225.4h0M659.2 227.8h0M659.8 218.3h0M630.1 234.9h0M630.0 202.1h0M711.5 223.9h0M713.0 219.1h0M713.7 161.3h0M679.5 229.3h0M604.8 238.9h0M668.9 195.9h0M734.1 175.6h0M700.3 220.0h0M621.0 217.0h0M644.1 193.5h0M783.8 238.0h0M629.3 243.3h0M684.0 219.3h0M668.4 250.7h0M707.0 181.0h0M798.9 239.3h0M717.8 244.7h0M687.3 227.3h0M607.3 214.9h0M631.6 215.0h0M763.7 248.6h0M615.5 250.9h0M760.5 242.7h0M706.5 265.0h0M659.6 178.8h0M676.9 214.1h0M628.1 210.5h0M709.4 221.7h0M645.1 247.1h0M716.2 206.5h0M749.0 230.9h0M624.4 232.0h0M682.4 220.8h0M713.7 237.2h0M696.6 239.0h0M651.2 221.5h0M737.8 253.3h0M720.1 202.6h0M656.8 211.5h0M617.8 209.4h0M714.5 214.3h0M646.9 220.2h0M633.6 233.4h0M699.1 252.7h0M632.3 213.3h0M657.0 220.3h0M655.9 219.2h0M755.2 224.2h0M641.9 249.5h0M679.6 252.7h0M657.8 226.8h0M658.1 223.4h0M750.2 247.6h0M697.7 233.5h0M627.2 163.5h0M610.7 221.9h0M605.6 217.2h0M656.2 211.2h0M665.7 262.6h0M647.8 220.2h0M719.6 250.4h0M648.1 204.0h0M640.9 215.2h0M679.8 215.6h0M620.8 217.8h0M689.2 224.3h0M788.8 242.5h0M624.3 219.1h0M705.5 254.8h0M746.9 242.9h0M763.3 229.7h0M617.7 228.8h0M709.9 217.1h0M715.3 219.0h0M661.7 262.5h0M644.5 233.6h0M694.9 208.6h0M664.0 222.5h0M692.0 238.0h0M688.1 213.2h0M776.5 229.3h0M694.7 223.6h0M680.3 222.9h0M693.9 214.1h0M784.9 241.5h0M605.4 242.8h0M707.8 181.8h0M746.9 254.9h0M709.0 223.7h0M624.4 216.5h0M615.4 227.3h0M741.7 250.9h0M641.4 216.3h0M648.4 220.4h0M692.0 239.7h0M752.2 225.5h0M673.5 201.0h0M689.3 215.7h0M728.7 247.7h0M662.0 225.5h0M674.6 230.2h0M702.5 210.2h0M622.1 222.2h0M628.5 211.9h0M729.5 172.4h0M761.5 227.0h0M653.9 233.1h0M640.6 213.1h0M649.0 170.1h0M624.3 233.5h0M677.8 259.6h0M798.3 240.7h0M634.9 241.1h0M616.5 222.0h0M620.7 262.2h0M699.7 234.7h0M647.8 246.6h0M731.6 185.7h0M744.7 231.3h0M612.4 232.3h0M636.8 227.7h0M628.2 198.2h0M739.4 228.2h0M641.8 224.0h0M629.0 236.5h0M679.9 240.9h0M648.7 208.0h0M727.1 240.6h0M636.5 192.2h0M660.7 213.6h0M695.4 199.8h0M703.4 256.0h0M606.2 247.6h0M663.9 195.3h0M605.5 189.0h0M609.7 212.1h0M731.3 239.6h0M717.7 191.6h0M628.7 220.4h0M739.6 261.9h0M686.4 214.5h0M627.6 237.2h0M661.6 236.8h0M733.5 190.1h0M762.6 224.4h0M671.6 234.8h0M630.4 160.5h0M729.8 208.9h0M694.5 243.6h0M705.8 200.3h0M650.8 228.1h0M637.7 217.7h0M678.5 257.7h0M619.4 238.6h0M607.4 193.3h0M639.1 201.7h0M627.0 229.9h0M688.1 222.3h0M618.1 212.9h0M759.3 257.4h0M605.9 174.7h0M659.3 238.4h0M727.6 244.2h0M609.2 232.4h0M637.9 264.5h0M625.9 211.3h0M717.4 200.5h0M662.5 234.4h0M627.1 222.6h0M640.9 241.1h0M713.2 195.3h0M704.9 149.5h0M711.0 198.6h0M678.8 243.6h0M689.4 202.3h0M623.1 245.0h0M716.4 243.4h0M704.0 173.6h0M616.5 237.7h0M684.5 216.6h0M614.0 230.6h0M701.9 249.7h0" stroke="#f68a3c" stroke-width="2.60" stroke-opacity="0.74"/>
<path d="M639.3 229.1h0M637.4 216.9h0M746.9 250.7h0M689.4 207.2h0M752.1 258.6h0M727.8 229.3h0M703.9 208.9h0M650.4 231.8h0M747.9 251.2h0M635.0 217.8h0M605.6 208.7h0M662.8 230.8h0M645.0 223.3h0M663.9 227.9h0M638.1 229.1h0M658.7 237.1h0M749.8 236.1h0M648.0 189.3h0M772.1 230.3h0M670.5 222.4h0M671.6 221.1h0M661.4 259.7h0M760.5 231.4h0M715.4 200.1h0M765.6 237.4h0M686.7 227.0h0M654.1 202.5h0M618.2 213.4h0M642.0 243.2h0M686.4 244.0h0M642.0 221.3h0M685.2 245.5h0M789.5 241.7h0M714.1 191.5h0M704.7 238.7h0M683.6 173.7h0M668.7 236.2h0M738.9 242.2h0M666.7 233.6h0M717.8 227.4h0M686.0 218.5h0M606.9 250.7h0M747.2 235.4h0M664.9 187.3h0M714.7 210.1h0M691.9 239.4h0M790.4 239.4h0M640.6 250.4h0M745.2 254.7h0M658.3 232.9h0M698.4 205.4h0M740.0 235.8h0M751.6 225.1h0M754.9 261.7h0M661.7 217.3h0M646.3 212.1h0M705.1 245.3h0M653.2 192.2h0M618.8 237.3h0M626.5 203.0h0M633.3 203.9h0M629.8 170.5h0M757.6 263.4h0M700.3 182.4h0M668.1 261.4h0M711.3 249.7h0M632.0 224.7h0M697.5 231.7h0M628.4 229.3h0M654.5 238.8h0M748.2 231.5h0M712.8 232.3h0M634.4 249.2h0M618.9 220.5h0M685.0 194.7h0M716.2 198.2h0M661.2 211.9h0M659.8 233.5h0M767.4 253.6h0M623.3 202.3h0M621.8 212.5h0M619.0 248.6h0M774.1 238.5h0M705.2 232.4h0M635.9 263.0h0M693.3 178.5h0M671.7 217.9h0M664.7 233.5h0M721.2 228.2h0M675.4 230.6h0M623.9 207.1h0M734.8 189.3h0M653.5 229.4h0M656.0 228.3h0M685.3 213.7h0M695.7 243.6h0M701.5 235.4h0M634.7 247.6h0M612.3 244.2h0M728.9 222.5h0M719.9 214.6h0M666.7 227.9h0M682.2 224.7h0M635.6 221.9h0M726.2 189.0h0M794.6 228.0h0M659.1 198.1h0M649.2 204.7h0M706.3 247.1h0M666.5 231.5h0M685.4 209.1h0M605.9 179.8h0M672.1 222.1h0M708.9 227.2h0M642.3 206.1h0M645.9 222.4h0M664.8 212.9h0M690.6 199.4h0M701.7 189.4h0M621.5 151.4h0M673.7 208.8h0M746.6 251.7h0M679.6 213.9h0M618.4 233.1h0M735.8 240.7h0M681.0 226.5h0M712.2 221.3h0M642.5 238.0h0M623.3 234.1h0M741.2 223.1h0M708.6 208.9h0M781.3 230.2h0M701.7 249.6h0M605.8 253.1h0M624.1 217.9h0M633.8 237.0h0M611.8 198.9h0M695.6 226.5h0M726.7 227.5h0M662.9 192.9h0M723.6 254.7h0M712.0 243.9h0M688.0 206.0h0M611.8 260.0h0M609.9 195.3h0M655.3 234.4h0M721.4 203.4h0M709.1 219.9h0M773.8 240.2h0M722.0 216.8h0M659.5 223.0h0M639.3 230.8h0M643.5 240.9h0M697.4 223.5h0M692.0 232.3h0M657.7 258.6h0M676.8 228.4h0M660.2 242.0h0M717.9 196.3h0M651.9 219.0h0M630.1 237.8h0M725.1 241.1h0M718.9 255.4h0M638.4 209.2h0M724.5 179.1h0M747.1 247.9h0M697.3 229.6h0M653.2 225.2h0M788.4 227.5h0M748.7 241.7h0M609.6 244.0h0M686.0 219.9h0M744.1 231.3h0M614.1 234.4h0M667.9 221.3h0M719.0 238.2h0M726.1 231.0h0M646.2 216.0h0M723.2 261.5h0M651.7 232.0h0M667.7 224.5h0M706.3 194.3h0M716.9 225.7h0M661.0 216.0h0M640.6 220.9h0M688.0 202.8h0M643.5 204.7h0M641.1 225.7h0M741.4 258.4h0M666.2 231.3h0M738.1 243.0h0M714.3 234.7h0M711.2 218.7h0M632.2 192.7h0M672.9 208.0h0M647.4 233.4h0M674.0 228.4h0M611.3 209.0h0M626.1 217.4h0M714.3 192.8h0M769.5 238.6h0M653.8 221.7h0M607.9 221.4h0M725.0 261.4h0M652.7 235.5h0M690.7 221.1h0M788.2 246.2h0M710.3 222.0h0M632.7 262.3h0M753.7 249.6h0M647.4 219.1h0M662.8 231.9h0M681.1 226.2h0M667.6 216.7h0M603.6 216.8h0M673.3 225.8h0M645.9 229.5h0M737.6 238.5h0M691.8 208.8h0M755.8 229.0h0" stroke="#f68a3c" stroke-width="2.60" stroke-opacity="0.74"/>
<path d="M604.0 220.5h0M722.4 159.7h0M687.2 219.5h0M721.8 242.2h0M710.0 215.7h0M705.5 176.8h0M707.2 181.8h0M703.4 181.7h0M731.2 219.0h0M696.9 168.9h0M696.1 213.8h0M611.2 199.2h0M639.6 222.2h0M659.9 202.8h0M644.3 209.6h0M638.8 234.3h0M644.2 190.2h0M782.0 264.3h0M732.0 170.7h0M722.0 182.1h0M629.2 226.5h0M722.5 169.1h0M631.4 250.2h0M717.6 263.6h0M684.9 197.8h0M607.6 207.6h0M660.7 209.4h0M795.7 237.7h0M791.8 250.8h0M663.7 172.2h0M630.0 212.5h0M683.9 197.3h0M647.7 189.9h0M640.3 174.9h0M606.6 206.3h0M745.4 256.0h0M617.2 167.0h0M638.6 230.5h0M622.4 196.6h0M664.1 175.3h0M637.1 150.3h0M625.0 214.4h0M775.3 235.2h0M663.1 221.4h0M776.6 250.2h0M657.9 230.2h0M722.3 216.3h0M604.0 209.3h0M755.6 227.1h0M679.2 222.1h0M669.9 243.6h0M709.5 195.7h0M717.7 213.3h0M706.6 201.1h0M690.0 219.1h0M636.9 212.4h0M654.3 231.8h0M604.5 225.3h0M677.6 227.2h0M604.9 248.1h0M606.8 173.9h0M729.4 179.3h0M689.1 190.3h0M701.1 233.1h0M760.7 232.9h0M631.0 246.1h0M690.8 199.7h0M680.4 200.3h0M608.7 216.9h0M724.3 147.2h0M642.5 218.6h0M728.9 177.8h0M717.1 209.4h0M624.8 178.9h0M641.9 220.7h0M621.8 187.4h0M645.6 245.8h0M669.9 201.3h0M707.8 183.8h0M671.1 193.9h0M730.8 155.0h0M743.8 257.0h0M729.3 155.9h0M734.6 185.2h0M747.0 258.5h0M691.1 210.9h0M726.3 177.1h0M734.7 235.4h0M727.1 200.9h0M712.5 236.6h0M672.8 235.4h0M712.3 181.9h0M655.3 218.1h0M725.7 227.7h0M796.4 239.6h0M657.5 188.7h0M726.4 185.1h0M719.0 188.4h0M761.2 223.9h0M734.2 261.2h0M702.1 212.0h0M697.6 211.2h0M731.6 162.7h0M647.2 196.1h0M673.9 228.2h0M660.6 213.0h0M725.5 178.1h0M705.7 196.4h0M681.5 234.2h0M631.7 158.6h0M654.8 254.4h0M685.1 175.3h0M714.8 203.4h0M729.9 183.8h0M730.5 233.9h0M685.3 184.6h0M642.8 188.1h0M691.6 195.0h0M608.2 172.1h0M734.0 238.1h0M711.4 204.8h0M710.1 184.3h0M648.8 199.9h0M647.7 237.4h0M734.8 218.7h0M730.7 239.9h0M704.4 205.9h0M612.5 177.2h0M719.4 196.5h0M692.5 212.5h0M627.2 243.7h0M617.1 225.4h0M741.8 258.6h0M645.1 192.5h0M605.8 253.8h0M700.2 160.6h0M710.5 151.5h0M716.1 240.2h0M714.6 182.9h0M686.9 201.6h0M633.1 190.5h0M652.6 174.7h0M719.4 180.1h0M646.8 204.0h0M687.8 225.4h0M725.3 148.3h0M701.8 147.1h0M619.9 169.4h0M617.5 244.7h0M701.1 264.6h0M606.5 209.4h0M639.3 252.0h0M724.4 209.9h0M695.7 262.7h0M720.4 164.3h0M702.5 202.8h0M616.6 203.3h0M788.1 251.1h0M684.3 197.0h0M640.3 186.4h0M717.3 186.5h0M695.1 222.1h0M612.8 221.0h0M700.5 161.6h0M617.6 197.8h0M666.6 160.1h0M692.7 201.8h0M677.2 173.7h0M727.4 204.3h0M704.9 169.7h0M693.3 203.9h0M615.3 232.9h0M635.3 228.2h0M656.9 254.6h0M664.9 221.3h0M757.7 223.6h0M753.1 241.3h0M634.2 236.8h0M712.1 198.0h0M727.0 169.4h0M625.7 208.3h0M696.8 244.2h0M709.5 217.6h0M708.8 217.8h0M640.0 246.1h0M730.0 164.4h0M718.3 197.8h0M648.7 214.6h0M690.5 184.7h0M666.1 178.4h0M725.4 222.3h0M741.0 226.5h0M678.5 239.3h0M687.2 261.1h0M631.0 224.6h0M646.2 211.1h0M693.1 247.9h0M722.2 228.8h0M708.1 204.9h0M639.4 157.7h0M733.6 176.3h0M721.2 240.1h0M677.5 215.5h0M626.2 236.9h0M606.5 210.1h0M755.6 263.2h0M675.2 206.3h0M711.0 264.3h0M680.8 196.7h0M618.9 218.3h0M636.1 207.9h0M608.2 214.7h0M707.4 168.3h0M647.9 165.2h0M669.2 171.9h0M794.8 252.5h0M607.9 200.9h0M649.1 238.7h0M618.1 227.6h0M711.2 215.7h0" stroke="#f68a3c" stroke-width="1.20" stroke-opacity="0.74"/>
<path d="M595.5 185.2h0M523.9 239.3h0M563.6 153.9h0M602.2 155.0h0M558.5 228.8h0M636.0 329.2h0M549.9 207.3h0M555.9 319.8h0M761.0 268.0h0M610.8 284.7h0M753.0 304.7h0M544.1 186.4h0M554.2 236.7h0M574.6 225.7h0M491.9 181.7h0M450.0 298.5h0M570.1 223.3h0M748.2 286.1h0M593.3 199.4h0M522.4 181.1h0M617.1 295.2h0M674.9 290.1h0M574.9 284.8h0M736.0 283.5h0M629.8 265.8h0M562.4 195.2h0M515.1 224.4h0M537.5 266.5h0M527.4 256.0h0M605.1 315.6h0M793.6 306.9h0M526.6 200.3h0M566.7 214.6h0M560.5 216.1h0M611.3 266.0h0M581.4 237.3h0M554.0 241.8h0M536.3 268.8h0M526.3 306.3h0M707.3 299.1h0M602.6 196.1h0M694.6 309.6h0M755.5 292.5h0M572.0 246.6h0M576.9 181.6h0M640.4 307.2h0M516.1 176.2h0M554.9 230.2h0M566.9 204.1h0M553.9 247.2h0M560.4 164.8h0M533.0 179.9h0M527.9 161.3h0M732.6 336.2h0M559.3 356.0h0M542.2 216.0h0M594.0 290.3h0M509.1 307.6h0M555.4 267.6h0M547.1 271.3h0M578.8 262.7h0M568.3 195.4h0M517.9 219.9h0M719.7 297.0h0M582.2 210.8h0M504.6 210.7h0M574.7 233.8h0M549.0 247.8h0M551.6 163.2h0M743.3 270.0h0M604.6 309.3h0M565.8 202.7h0M786.7 299.4h0M544.5 190.2h0M593.3 210.2h0M555.1 186.9h0M576.4 176.5h0M583.4 247.1h0M583.7 211.7h0M586.6 165.3h0M614.7 302.0h0M583.5 200.6h0M598.7 238.0h0M521.2 230.7h0M500.5 272.0h0M549.5 241.3h0M556.0 229.5h0M604.7 322.5h0M526.3 227.9h0M596.5 220.6h0M587.9 226.4h0M740.1 359.4h0M619.8 330.3h0M510.5 271.2h0M587.4 215.7h0M710.0 268.8h0M561.3 203.6h0M583.5 185.2h0M594.1 217.2h0M597.1 243.0h0M487.7 316.7h0M574.8 264.5h0M557.6 240.8h0M595.4 305.9h0M582.4 271.8h0M652.1 275.4h0M478.9 292.9h0M779.2 296.7h0M541.5 162.2h0M554.4 245.5h0M597.5 294.7h0M765.3 307.7h0M575.4 211.5h0M574.3 228.4h0M706.8 274.0h0M541.6 257.0h0M561.6 254.6h0M541.4 243.4h0M599.4 221.3h0M600.7 223.1h0M762.8 297.6h0M580.9 211.2h0M554.9 272.2h0M594.2 201.2h0M580.4 209.3h0M647.5 271.9h0M598.6 218.9h0M661.6 320.5h0M542.3 177.8h0M583.7 182.0h0M497.1 285.4h0M547.5 298.0h0M533.1 233.5h0M594.6 288.5h0M603.2 271.9h0M575.8 203.9h0M563.4 234.7h0M542.8 208.6h0M485.4 263.0h0M621.8 317.6h0M578.5 234.9h0M580.9 240.4h0M512.8 194.3h0M765.2 278.0h0M534.3 249.2h0M574.5 227.6h0M589.5 238.5h0M614.3 329.4h0M625.4 269.5h0M579.0 288.3h0M559.7 225.5h0M511.8 165.0h0M602.0 247.4h0M566.8 214.3h0M601.4 216.6h0M595.9 208.0h0M783.5 324.7h0M587.5 221.7h0M581.5 305.5h0M568.6 256.3h0M568.1 227.7h0M559.8 258.4h0M603.1 267.4h0M601.0 183.9h0M594.7 247.7h0M595.1 223.7h0M620.9 363.3h0M551.7 217.8h0M592.6 223.1h0M558.7 299.3h0M563.4 222.8h0M543.3 248.4h0M555.0 230.4h0M527.8 212.0h0M559.3 239.9h0M498.1 281.4h0M763.9 290.7h0M519.0 300.5h0M568.9 246.5h0M602.3 209.5h0M582.2 212.2h0M568.6 237.4h0M568.9 229.7h0M547.2 167.4h0M508.4 256.0h0M527.1 224.6h0M519.1 207.4h0M515.0 257.5h0M583.1 254.9h0M577.1 240.3h0M511.0 336.3h0M570.9 188.3h0M544.5 210.5h0M571.7 188.5h0M538.1 220.5h0M599.8 212.4h0M586.3 214.9h0M567.4 280.3h0M571.5 354.1h0M571.1 213.0h0M509.6 213.2h0M744.0 306.1h0M586.1 203.0h0M693.3 289.8h0M536.6 206.4h0M559.8 229.2h0M517.2 166.6h0M598.7 175.7h0M532.0 198.3h0M577.6 200.3h0M581.3 212.2h0M586.2 214.7h0M729.5 285.7h0M554.1 208.9h0M543.6 223.7h0M529.6 260.8h0M556.6 239.4h0M595.9 261.4h0M752.0 310.4h0M558.9 239.4h0" stroke="#e9594e" stroke-width="0.90" stroke-opacity="0.68"/>
<path d="M599.1 214.9h0M546.6 149.2h0M562.6 163.9h0M468.7 275.6h0M784.7 357.7h0M602.9 173.1h0M573.5 233.7h0M554.6 235.8h0M550.3 218.1h0M522.0 294.2h0M566.0 224.0h0M466.1 250.2h0M780.4 276.1h0M567.1 186.6h0M564.7 185.3h0M527.2 210.0h0M527.7 163.7h0M479.3 321.6h0M559.9 257.4h0M595.2 230.9h0M496.9 179.7h0M517.2 203.0h0M622.8 308.1h0M589.5 260.7h0M554.3 188.1h0M582.4 345.3h0M579.9 161.2h0M721.5 328.8h0M585.4 181.3h0M589.2 223.1h0M589.2 258.2h0M571.2 276.1h0M583.7 204.2h0M584.3 147.8h0M583.2 198.5h0M543.1 166.4h0M605.6 297.5h0M553.1 221.3h0M600.4 182.9h0M566.3 211.9h0M720.5 266.8h0M657.4 342.3h0M694.3 336.8h0M475.5 251.0h0M526.1 152.5h0M526.9 200.5h0M752.0 353.6h0M570.5 182.2h0M584.5 193.5h0M530.2 363.6h0M593.8 231.7h0M566.4 164.4h0M642.5 274.3h0M571.4 232.7h0M798.4 272.8h0M761.4 342.3h0M586.3 195.7h0M707.9 314.5h0M520.0 319.2h0M571.2 225.0h0M442.2 381.5h0M773.4 314.2h0M585.2 264.5h0M601.7 240.4h0M568.4 371.3h0M564.2 247.4h0M590.1 228.8h0M467.2 328.2h0M666.5 329.9h0M590.7 215.5h0M549.7 268.1h0M538.8 221.8h0M558.0 163.7h0M564.9 186.5h0M600.7 236.3h0M551.8 257.7h0M473.8 263.1h0M734.3 279.1h0M593.7 202.0h0M564.4 357.7h0M526.9 319.6h0M606.0 313.7h0M540.7 192.4h0M655.6 326.8h0M583.7 231.7h0M542.5 173.1h0M531.6 265.1h0M560.8 190.9h0M521.0 196.8h0M558.1 191.8h0M547.8 197.8h0M750.1 274.9h0M521.3 223.4h0M600.5 264.5h0M603.0 178.3h0M541.9 226.9h0M593.6 155.0h0M599.0 251.1h0M525.6 257.0h0M536.2 245.7h0M558.4 247.5h0M564.6 216.6h0M489.5 282.2h0M666.2 368.5h0M707.3 287.3h0M595.4 176.3h0M600.6 165.2h0M468.8 273.9h0M552.4 215.4h0M761.8 316.1h0M527.0 341.6h0M556.3 165.9h0M703.6 309.7h0M574.9 291.4h0M749.0 345.8h0M475.4 240.8h0M643.5 319.0h0M544.2 198.8h0M570.8 209.2h0M513.6 210.1h0M558.1 236.9h0M585.3 281.5h0M621.2 289.0h0M595.3 206.9h0M572.7 258.2h0M565.0 299.8h0M580.7 226.7h0M580.6 236.8h0M624.4 273.4h0M562.3 242.0h0M596.4 230.6h0M513.1 162.3h0M548.7 181.2h0M544.0 243.7h0M502.7 244.8h0M545.9 221.5h0M650.4 306.0h0M528.3 161.1h0M506.7 193.9h0M541.2 235.3h0M489.9 193.5h0M449.6 238.7h0M574.7 194.9h0M560.4 200.6h0M554.3 195.7h0M514.6 212.2h0M551.1 275.5h0M585.5 288.5h0M600.1 175.8h0M601.1 193.5h0M590.9 216.2h0M703.4 333.8h0M674.5 369.4h0M579.1 334.8h0M588.1 250.3h0M538.3 160.5h0M769.5 307.2h0M598.1 236.1h0M583.8 261.0h0M551.3 252.5h0M556.7 179.4h0M526.1 219.4h0M613.7 316.5h0M567.7 191.2h0M649.4 321.1h0M724.7 287.2h0M565.4 301.0h0M587.2 240.3h0M581.2 256.6h0M597.8 224.5h0M552.4 279.1h0M597.0 151.5h0M562.4 285.1h0M552.4 243.1h0M538.4 210.2h0M600.2 188.5h0M516.6 214.0h0M602.7 211.0h0M594.9 157.3h0M578.5 300.4h0M581.5 330.9h0M566.1 179.9h0M520.5 183.0h0M534.1 255.1h0M530.7 225.9h0M575.6 245.1h0M604.8 303.9h0M653.3 362.5h0M592.7 196.1h0M549.3 223.5h0M597.3 181.6h0M566.3 224.2h0M541.0 229.5h0M452.1 360.7h0M605.6 326.0h0M586.0 215.1h0M519.5 155.3h0M502.8 256.3h0" stroke="#e9594e" stroke-width="0.60" stroke-opacity="0.68"/>
<path d="M710.9 200.4h0M687.5 201.7h0M732.3 225.1h0M711.6 183.3h0M683.4 222.0h0M689.3 240.8h0M657.0 220.1h0M724.3 244.3h0M610.5 223.9h0M713.6 183.1h0M647.2 211.0h0M724.5 161.7h0M685.6 223.5h0M642.2 213.1h0M759.4 240.3h0M731.7 202.8h0M605.0 262.2h0M656.6 230.2h0M702.9 190.9h0M639.8 154.2h0M670.0 202.3h0M642.2 203.7h0M657.5 234.4h0M780.7 257.7h0M615.0 210.7h0M719.0 217.3h0M637.9 237.8h0M724.1 229.7h0M657.7 232.9h0M666.0 253.6h0M632.6 202.1h0M723.6 248.9h0M724.0 185.0h0M706.2 203.9h0M682.9 208.3h0M626.4 242.0h0M778.2 242.1h0M656.1 264.4h0M727.4 177.5h0M611.0 224.0h0M628.2 218.1h0M731.4 232.3h0M733.2 208.2h0M625.9 229.5h0M661.5 223.4h0M640.1 219.8h0M709.7 191.9h0M605.0 207.4h0M691.5 229.1h0M750.8 263.0h0M710.1 178.7h0M712.7 173.1h0M712.1 203.4h0M625.8 213.7h0M759.1 239.2h0M708.1 232.2h0M691.7 235.2h0M645.0 233.8h0M709.6 258.7h0M686.7 213.4h0M607.3 220.5h0M708.4 245.4h0M712.5 225.1h0M713.4 223.6h0M673.8 183.7h0M684.4 219.1h0M684.8 223.4h0M797.5 257.9h0M619.1 230.1h0M667.9 198.6h0M637.5 257.1h0M687.9 206.5h0M642.3 221.0h0M729.9 245.3h0M610.0 202.8h0M761.3 247.1h0M703.8 175.6h0M709.2 249.7h0M637.0 223.6h0M672.8 254.0h0M621.5 210.9h0M639.4 225.5h0M750.0 243.4h0M634.7 213.4h0M692.5 207.7h0M653.9 213.8h0M624.9 227.9h0M726.4 196.1h0M665.2 239.4h0M677.3 203.2h0M642.5 223.7h0M705.5 199.9h0M630.4 262.0h0M792.9 231.4h0M737.2 262.2h0M762.1 251.9h0M631.5 204.6h0M649.5 239.6h0M699.7 215.4h0M717.0 214.8h0M702.4 230.3h0M614.8 227.8h0M650.2 216.4h0M740.8 257.6h0M704.7 210.8h0M652.5 209.2h0M607.3 216.2h0M654.7 244.2h0M611.0 231.5h0M756.8 260.9h0M769.5 240.5h0M761.4 228.5h0M702.8 224.3h0M706.2 248.7h0M657.2 261.9h0M703.8 210.0h0M675.0 230.5h0M633.2 227.7h0M698.2 262.3h0M683.3 219.7h0M715.4 199.0h0M696.0 210.2h0M726.0 236.3h0M707.2 193.8h0M657.1 206.3h0M632.7 225.7h0M666.6 259.2h0M669.7 238.1h0M726.7 220.6h0M668.9 205.0h0M610.9 259.0h0M756.9 238.5h0M705.7 207.0h0M664.1 223.0h0M690.9 189.4h0M659.9 214.1h0M655.9 210.4h0M661.7 194.3h0M639.7 249.6h0M612.8 157.0h0M642.4 226.3h0M741.3 231.9h0M611.4 262.2h0M717.7 151.1h0M631.3 223.8h0M610.2 237.8h0M640.9 217.6h0M762.9 249.5h0M605.1 223.5h0M685.3 228.5h0M674.5 197.6h0M635.5 231.8h0M724.5 186.9h0M770.7 242.2h0M661.1 196.7h0M647.3 213.3h0M620.8 191.8h0M616.6 242.7h0M688.3 214.8h0M723.1 257.7h0M725.8 206.7h0M696.8 241.5h0M725.0 190.6h0M644.9 184.9h0M720.1 194.6h0M701.9 195.7h0M642.1 230.7h0M678.7 213.4h0M611.6 238.6h0M652.2 223.0h0M653.6 264.4h0M617.6 222.0h0M655.9 230.4h0M622.2 220.1h0M619.8 211.1h0M610.6 206.4h0M609.1 215.7h0M721.5 214.3h0M663.6 224.9h0M636.2 224.1h0M718.4 198.6h0M667.1 162.1h0M653.3 177.8h0M641.4 230.1h0M718.7 155.1h0M636.8 252.5h0M710.8 248.8h0M741.8 251.5h0M799.5 261.3h0M683.9 191.8h0M707.5 204.1h0M674.8 235.1h0M636.1 170.7h0M699.7 228.7h0M625.5 190.8h0M702.6 193.1h0M641.5 239.8h0M636.6 211.6h0M677.8 250.1h0M709.6 175.5h0M720.4 159.9h0M633.5 240.9h0M663.8 237.9h0M678.7 225.1h0M758.1 240.5h0M791.8 257.2h0M724.3 207.8h0M643.9 231.4h0M720.4 183.8h0M741.9 245.8h0M714.3 174.2h0M734.0 240.1h0M665.0 229.8h0M775.3 226.1h0M733.9 208.2h0M607.7 236.9h0M628.2 215.3h0M689.8 197.3h0M723.4 161.7h0M716.3 219.1h0" stroke="#f68a3c" stroke-width="1.60" stroke-opacity="0.74"/>
<path d="M624.1 239.6h0M678.4 237.8h0M666.8 224.4h0M700.0 232.8h0M700.6 200.3h0M696.3 219.1h0M666.1 252.1h0M691.2 225.5h0M779.3 234.5h0M776.6 223.8h0M717.1 218.4h0M628.1 213.8h0M721.2 221.6h0M649.9 233.1h0M680.1 227.6h0M654.6 250.3h0M688.2 221.5h0M734.7 167.5h0M643.9 213.4h0M662.9 235.2h0M618.3 234.5h0M693.9 228.9h0M658.9 235.2h0M680.2 223.5h0M744.9 254.8h0M633.4 231.2h0M644.0 226.8h0M620.1 230.2h0M741.5 254.1h0M663.6 222.7h0M699.3 231.8h0M660.3 244.8h0M684.4 224.1h0M659.0 244.0h0M771.2 243.8h0M671.1 221.9h0M700.4 211.1h0M647.0 259.8h0M691.5 229.0h0M692.7 204.0h0M729.6 177.8h0M669.2 217.1h0M626.0 234.2h0M650.1 209.6h0M624.0 229.2h0M618.0 225.3h0M734.5 233.5h0M734.8 217.8h0M710.5 196.9h0M630.2 237.5h0M618.1 223.4h0M632.0 225.3h0M780.2 229.3h0M702.1 230.1h0M735.5 234.5h0M659.3 224.5h0M705.7 205.2h0M679.5 212.0h0M606.6 249.3h0M652.7 233.0h0M638.5 195.7h0M678.7 233.7h0M649.7 190.3h0M665.1 233.0h0M668.5 206.2h0M723.9 221.8h0M660.3 247.3h0M666.1 237.8h0M629.8 204.4h0M734.3 178.8h0M627.7 219.9h0M681.3 217.4h0M653.9 222.2h0M723.3 226.6h0M651.1 225.3h0M611.5 232.2h0M659.0 242.3h0M644.6 223.5h0M685.4 220.3h0M742.1 230.2h0M662.9 224.1h0M648.9 243.2h0M672.1 221.4h0M708.2 250.7h0M659.3 190.5h0M728.9 264.7h0M726.0 236.4h0M656.9 224.1h0M724.9 250.2h0M700.2 222.8h0M688.9 216.3h0M636.1 228.2h0M669.3 221.9h0M724.8 197.4h0M693.1 215.9h0M734.3 242.4h0M758.0 225.9h0M745.3 241.2h0M698.9 238.8h0M665.1 218.1h0M720.6 225.2h0M670.9 211.0h0M680.2 228.6h0M734.7 214.8h0M625.1 227.5h0M626.1 242.0h0M651.4 214.4h0M703.9 260.3h0M735.6 252.1h0M742.4 230.5h0M694.0 214.1h0M655.1 243.3h0M643.7 221.2h0M687.0 232.3h0M654.6 229.0h0M642.2 226.7h0M693.3 250.5h0M638.0 232.4h0M725.1 186.8h0M748.8 241.1h0M689.8 217.9h0M678.4 232.4h0M660.2 232.0h0M713.8 212.7h0M657.2 223.1h0M704.2 224.1h0M646.3 231.2h0M610.4 246.7h0M689.4 241.3h0M770.0 232.5h0M615.6 210.3h0M667.4 208.2h0M655.2 238.5h0M684.7 203.2h0M793.5 223.4h0M623.4 232.7h0M653.8 232.2h0M720.8 245.4h0M621.1 259.2h0M792.2 254.1h0M653.3 198.2h0M665.2 223.6h0M748.7 222.9h0M705.7 213.5h0M642.1 232.2h0M662.8 257.5h0M653.8 228.2h0M675.8 222.4h0M661.4 228.7h0M668.3 240.4h0M744.8 236.9h0M685.4 240.9h0M642.7 220.2h0M713.2 234.4h0M635.0 229.0h0M665.7 225.5h0M717.2 237.4h0M644.9 231.5h0M644.4 263.7h0M683.9 249.8h0M677.9 242.9h0M722.1 176.7h0M727.9 234.5h0M661.1 196.3h0M649.4 265.0h0M673.5 259.6h0M645.9 240.9h0M665.6 217.9h0M708.9 213.1h0M697.2 224.5h0M684.4 226.9h0M699.5 235.9h0M628.0 249.8h0M663.1 204.5h0M647.4 240.5h0M662.3 216.8h0M751.5 226.7h0M632.0 239.4h0M700.9 220.7h0M692.4 207.5h0M661.4 239.9h0M682.6 217.4h0M645.9 241.4h0M625.3 213.0h0M675.8 234.6h0M659.4 224.8h0M768.4 250.4h0M642.7 231.4h0M688.8 216.9h0M663.1 221.5h0M695.6 245.1h0M708.0 208.0h0M734.6 215.9h0M681.2 241.2h0M687.9 238.3h0M672.8 235.0h0M664.2 226.6h0M734.8 194.4h0M657.9 249.5h0M697.4 223.2h0M737.2 237.5h0M633.5 230.1h0M650.1 228.7h0M660.9 214.6h0M673.9 214.8h0M628.5 245.1h0M661.6 237.1h0M730.5 229.8h0M695.8 236.0h0M617.5 248.3h0M627.2 246.1h0M663.3 225.8h0M701.7 210.0h0M677.1 207.2h0M649.5 235.2h0M711.1 240.2h0M708.7 215.8h0M625.1 245.0h0M621.7 246.1h0M634.3 211.7h0" stroke="#f68a3c" stroke-width="4.40" stroke-opacity="0.74"/>
<path d="M547.9 189.8h0M545.4 300.0h0M595.6 211.7h0M589.8 207.8h0M624.8 329.2h0M525.9 245.1h0M590.6 237.5h0M720.4 282.9h0M565.7 210.7h0M763.2 335.1h0M560.5 229.9h0M588.9 214.3h0M517.6 211.7h0M546.1 268.3h0M741.5 292.7h0M587.1 251.6h0M542.3 201.5h0M673.6 288.7h0M747.1 298.7h0M550.6 280.2h0M566.5 223.9h0M575.0 236.3h0M538.5 244.5h0M529.9 252.6h0M709.5 307.5h0M583.2 156.0h0M562.0 231.2h0M552.6 273.2h0M596.0 188.7h0M603.1 184.1h0M705.7 300.9h0M558.0 220.3h0M548.2 325.8h0M598.8 208.3h0M547.6 209.1h0M601.2 222.9h0M648.2 276.5h0M514.6 190.5h0M559.7 184.6h0M579.1 254.5h0M590.8 203.4h0M596.7 308.4h0M589.0 214.3h0M569.0 213.4h0M602.5 189.1h0M651.2 297.4h0M582.4 241.3h0M558.5 195.9h0M753.4 311.7h0M556.2 238.8h0M601.0 252.4h0M656.6 279.4h0M585.1 268.1h0M584.4 220.2h0M551.6 251.9h0M487.2 230.5h0M575.5 235.9h0M599.1 227.7h0M727.9 306.8h0M532.1 201.8h0M574.7 256.0h0M594.7 248.9h0M527.7 209.9h0M535.0 175.5h0M591.9 213.4h0M554.6 270.5h0M577.5 204.0h0M517.1 225.1h0M726.3 317.4h0M557.5 241.0h0M563.4 227.4h0M698.6 304.4h0M542.4 258.9h0M570.1 256.7h0M692.7 313.3h0M594.7 306.3h0M595.1 238.4h0M598.0 177.7h0M649.1 272.5h0M567.8 225.3h0M797.1 332.3h0M567.1 157.3h0M587.6 231.0h0M574.1 158.5h0M576.8 204.5h0M590.7 266.3h0M615.6 288.2h0M629.3 279.4h0M600.4 239.0h0M587.6 204.6h0M596.4 255.0h0M575.7 226.9h0M576.6 326.9h0M629.5 297.6h0M601.1 240.4h0M574.6 234.0h0M532.2 382.8h0M608.3 317.3h0M489.2 295.3h0M579.9 266.7h0M477.9 346.2h0M602.9 217.0h0M541.0 304.8h0M502.3 246.2h0M567.7 260.9h0M565.6 269.8h0M629.3 273.2h0M579.7 272.5h0M649.2 301.2h0M582.9 213.4h0M588.7 240.1h0M590.8 195.1h0M550.8 200.0h0M546.4 166.3h0M592.7 231.2h0M634.1 280.2h0M579.7 278.6h0M550.5 231.3h0M595.6 280.6h0M647.3 266.7h0M592.8 241.3h0M551.0 213.1h0M543.1 146.0h0M511.3 291.0h0M716.5 308.0h0M561.2 176.1h0M699.3 284.3h0M514.4 152.2h0M558.4 319.0h0M502.7 247.3h0M724.4 267.2h0M589.8 207.5h0M446.8 257.4h0M578.9 185.9h0M592.5 178.1h0M657.2 269.1h0M766.8 267.7h0M521.8 316.8h0M599.4 220.0h0M568.6 217.2h0M578.4 242.5h0M564.6 205.8h0M527.9 307.7h0M676.5 284.0h0M611.6 284.9h0M594.7 225.6h0M693.6 276.2h0M567.4 330.0h0M586.8 211.1h0M578.6 269.7h0M719.7 304.5h0M549.3 276.1h0M561.8 254.9h0M755.8 300.8h0M599.9 348.8h0M583.0 223.9h0M590.4 223.2h0M545.7 251.2h0M560.1 238.4h0M512.2 231.5h0M763.4 266.9h0M571.7 186.3h0M574.2 217.9h0M593.8 337.2h0M643.3 325.3h0M592.1 267.2h0M763.3 317.3h0M569.8 207.5h0M594.4 232.7h0M589.5 223.8h0M588.3 224.4h0M658.6 281.2h0M575.0 200.5h0M576.3 278.9h0M573.8 254.4h0M581.7 273.6h0M656.0 301.4h0M560.3 238.1h0M590.9 248.0h0M535.2 250.0h0M555.7 250.8h0M552.1 236.1h0M593.7 327.4h0M630.9 288.5h0M738.1 283.4h0M576.2 243.5h0M592.9 214.8h0M649.4 291.8h0M565.6 236.0h0M591.9 238.0h0M514.9 284.7h0M602.2 244.6h0M509.5 287.3h0M597.4 229.9h0M586.5 202.0h0M498.6 306.9h0M581.0 213.9h0M569.0 290.4h0M525.2 276.5h0M589.7 227.7h0M599.4 201.8h0M751.9 275.5h0M561.6 209.1h0M578.3 219.4h0M630.7 307.2h0M585.2 289.7h0M597.6 188.6h0M567.9 247.6h0M595.5 298.5h0M600.9 206.9h0M562.5 221.1h0M583.0 308.8h0M662.7 315.4h0M596.4 358.4h0M581.5 247.1h0M588.4 225.5h0M582.7 208.4h0M537.9 186.2h0M594.0 212.5h0M572.2 192.7h0" stroke="#e9594e" stroke-width="1.20" stroke-opacity="0.68"/>
<path d="M779.3 176.0h0M769.7 195.9h0M778.3 213.7h0M790.1 191.3h0M770.9 186.7h0M753.3 188.6h0M748.0 187.3h0M773.4 184.2h0M780.4 184.4h0M796.0 170.1h0M787.8 166.0h0M768.2 200.0h0M769.7 206.2h0M772.1 173.9h0M760.9 211.3h0M765.3 168.9h0M769.4 203.8h0M772.0 159.9h0M791.9 184.9h0M768.0 182.0h0M754.7 199.3h0M767.9 171.8h0M751.1 187.2h0M753.2 201.5h0M770.2 194.0h0M756.3 206.9h0M779.2 165.7h0M769.0 205.6h0M771.3 194.2h0M789.3 176.9h0M774.1 164.8h0M772.9 214.3h0M766.1 184.8h0M783.6 152.0h0M743.9 204.2h0M772.6 203.0h0M757.7 177.6h0M784.1 200.1h0M772.6 195.1h0M766.3 197.7h0M782.2 176.1h0M740.4 196.9h0M737.2 196.3h0M767.3 215.9h0M777.3 200.9h0M785.4 217.1h0M774.6 186.0h0M762.9 203.7h0M741.6 173.9h0M799.7 186.5h0M792.6 183.2h0M746.3 191.2h0M775.9 210.0h0M763.8 200.6h0M778.6 182.2h0M785.1 196.6h0M781.7 163.8h0M767.9 193.0h0M772.1 191.5h0M782.3 217.0h0M749.1 178.3h0M776.9 189.5h0M754.0 199.4h0M758.9 187.1h0M776.8 172.0h0M793.2 216.9h0M772.1 171.3h0M744.1 179.8h0M774.9 198.0h0M798.1 211.8h0M739.0 182.5h0M783.6 205.5h0M785.1 195.0h0M752.1 198.5h0M757.8 168.6h0M784.8 170.4h0M752.7 181.7h0M756.0 201.2h0M798.4 161.3h0M765.3 195.7h0M767.4 166.8h0M742.7 186.8h0M775.7 174.0h0M754.1 182.0h0M790.1 173.1h0M780.8 221.0h0M758.1 181.6h0M771.6 186.7h0M762.6 187.1h0M779.7 149.6h0M737.8 202.6h0M775.7 195.6h0M749.9 178.4h0M795.0 185.7h0M761.2 198.1h0M771.0 177.3h0M766.7 212.8h0M772.3 179.5h0M748.2 185.6h0M767.9 177.1h0M747.2 215.3h0M786.1 192.7h0M747.4 192.2h0M760.9 184.6h0M788.0 207.9h0M751.1 165.2h0M738.4 179.0h0M765.4 170.1h0M745.1 217.4h0M736.2 212.1h0M747.3 190.0h0M781.5 212.3h0M743.2 162.3h0M756.1 174.3h0M776.1 198.3h0M780.1 193.5h0M739.5 183.9h0M770.8 187.4h0M794.8 173.7h0M785.3 153.7h0M737.5 213.4h0M795.5 173.3h0M789.7 179.9h0M791.2 199.5h0M779.2 197.4h0M742.3 209.0h0M782.4 146.7h0M773.4 171.9h0M769.8 202.5h0M793.5 202.3h0M756.7 181.2h0M761.4 188.7h0M792.6 220.9h0M789.9 197.6h0M772.9 189.7h0M775.2 163.1h0M766.6 204.1h0M755.4 180.7h0M747.5 149.9h0M781.1 191.6h0M785.4 166.9h0M774.7 171.4h0M792.7 172.3h0" stroke="#33ba9c" stroke-width="3.40" stroke-opacity="0.8"/>
<path d="M552.0 259.4h0M545.8 356.9h0M531.1 204.1h0M652.8 331.1h0M559.9 178.7h0M662.1 309.4h0M545.1 203.7h0M578.3 232.1h0M604.3 296.1h0M581.5 252.9h0M560.7 230.4h0M532.4 295.8h0M691.6 296.7h0M471.8 240.2h0M588.2 189.6h0M645.0 336.3h0M567.2 163.8h0M548.3 265.7h0M671.7 374.8h0M558.3 307.9h0M577.1 233.0h0M535.2 263.1h0M583.4 262.0h0M570.7 194.6h0M584.4 220.9h0M630.0 271.7h0M584.7 192.3h0M527.2 207.5h0M480.3 275.3h0M529.3 170.6h0M558.9 255.9h0M579.8 220.9h0M549.1 258.2h0M567.1 274.6h0M547.8 234.3h0M528.2 170.4h0M658.8 266.6h0M578.2 246.4h0M581.7 241.4h0M583.5 241.0h0M719.9 284.5h0M553.9 237.9h0M581.7 219.6h0M580.9 214.8h0M520.1 333.9h0M577.3 179.0h0M562.4 213.4h0M556.1 242.1h0M611.3 301.7h0M663.1 289.1h0M547.7 275.7h0M543.9 289.5h0M569.2 196.6h0M589.8 236.3h0M599.0 242.6h0M551.9 217.8h0M483.1 185.9h0M486.7 332.9h0M657.1 370.6h0M516.9 220.8h0M682.0 272.1h0M551.8 224.6h0M602.4 247.0h0M574.9 213.6h0M576.9 245.2h0M544.8 192.7h0M543.8 239.1h0M598.0 227.5h0M658.3 335.9h0M549.6 282.7h0M594.5 225.7h0M602.1 195.1h0M662.3 299.4h0M541.5 268.7h0M582.7 220.9h0M559.7 236.8h0M569.2 229.1h0M561.9 237.6h0M637.8 288.9h0M512.8 173.6h0M667.7 304.2h0M479.5 279.8h0M594.3 271.7h0M597.7 239.6h0M587.0 222.4h0M543.9 263.0h0M661.6 342.7h0M548.2 237.7h0M572.7 317.9h0M511.5 310.3h0M546.3 321.7h0M585.5 198.4h0M563.8 261.7h0M574.9 283.5h0M768.8 343.4h0M571.0 145.0h0M693.4 303.5h0M519.6 194.9h0M603.5 228.0h0M555.2 249.1h0M614.5 284.8h0M535.8 184.1h0M623.9 270.8h0M581.4 177.0h0M598.8 246.3h0M600.4 222.4h0M668.1 300.5h0M542.2 237.3h0M600.3 230.5h0M534.2 267.1h0M621.5 351.8h0M461.1 251.1h0M588.8 208.7h0M519.4 207.7h0M620.9 366.2h0M539.0 185.1h0M557.1 308.5h0M535.0 231.1h0M631.8 344.4h0M573.1 236.6h0M767.5 293.7h0M778.1 305.9h0M699.4 313.0h0M574.5 236.3h0M451.6 344.7h0M586.4 166.1h0M572.3 276.3h0M600.2 337.6h0M582.6 259.4h0M571.8 227.2h0M600.5 207.9h0M546.7 244.0h0M712.9 340.2h0M549.1 225.2h0M564.2 193.7h0M615.7 309.0h0M557.8 227.9h0M571.3 227.5h0M584.3 204.2h0M595.3 201.6h0M577.7 250.2h0M580.4 303.2h0M495.9 268.7h0M585.6 248.4h0M726.9 302.6h0M465.7 192.6h0M589.2 191.7h0M556.6 210.1h0M544.3 238.1h0M539.8 232.8h0M573.6 161.0h0M581.4 235.8h0M589.8 201.7h0M558.0 239.9h0M597.0 195.2h0M773.1 288.9h0M577.2 235.1h0M646.7 279.7h0M634.7 315.7h0M644.7 293.3h0M572.7 241.0h0M571.1 271.8h0M554.1 258.4h0M599.0 241.9h0M488.0 279.5h0M587.6 235.6h0M592.3 193.1h0M554.1 208.8h0M592.0 330.0h0M547.5 310.6h0M544.5 205.7h0M753.7 297.9h0M554.6 261.2h0M599.0 222.7h0M537.2 259.8h0M580.7 236.5h0M498.2 242.5h0M525.5 248.0h0M616.3 265.4h0M678.2 377.1h0M576.6 213.4h0M582.8 239.6h0M581.7 145.9h0M563.8 284.2h0M601.4 207.9h0M598.8 236.4h0M589.9 190.2h0M557.8 207.7h0M725.6 288.2h0M595.7 222.7h0M544.3 208.0h0M560.2 269.2h0M541.6 214.3h0M599.3 241.4h0M592.9 190.1h0M582.1 217.8h0M599.6 322.4h0M558.5 211.3h0M553.5 228.4h0M583.4 212.0h0M588.1 201.2h0M556.2 234.8h0M517.2 211.6h0M740.5 265.5h0M656.5 278.8h0M584.6 190.4h0M551.0 225.7h0M557.0 245.3h0M574.7 261.6h0M594.8 287.2h0M542.4 305.2h0M580.2 239.6h0M580.2 325.8h0M621.0 379.1h0M568.4 251.6h0M545.9 224.1h0M713.9 290.1h0M603.3 274.6h0M542.1 296.8h0M531.7 242.9h0" stroke="#e9594e" stroke-width="0.90" stroke-opacity="0.68"/>
<path d="M727.9 194.3h0M730.8 176.3h0M686.1 177.0h0M726.0 168.8h0M689.9 171.3h0M667.3 170.5h0M781.1 260.2h0M787.9 262.8h0M728.5 220.4h0M713.3 145.4h0M706.5 174.3h0M620.0 251.9h0M660.9 197.2h0M612.3 256.4h0M721.4 215.3h0M720.7 183.8h0M608.5 198.9h0M644.4 261.4h0M626.5 156.9h0M797.5 247.6h0M790.6 239.2h0M660.2 146.3h0M603.5 241.0h0M715.2 185.1h0M689.5 185.9h0M609.1 240.9h0M639.6 162.1h0M702.6 171.1h0M720.4 176.7h0M677.5 168.6h0M605.1 216.4h0M729.4 175.3h0M705.5 225.5h0M731.4 163.2h0M652.0 212.9h0M636.8 178.6h0M724.5 175.5h0M762.1 252.9h0M723.6 229.6h0M608.8 201.5h0M694.1 170.8h0M656.8 180.7h0M731.9 241.4h0M634.5 233.2h0M709.3 244.1h0M736.8 227.8h0M732.6 152.7h0M620.4 251.8h0M728.2 191.3h0M727.2 225.9h0M733.7 188.9h0M674.8 191.1h0M616.1 241.8h0M635.9 256.8h0M711.9 167.1h0M722.1 186.3h0M720.6 166.2h0M726.2 153.5h0M706.7 154.4h0M670.7 191.6h0M729.5 214.8h0M623.8 177.8h0M718.2 156.4h0M701.9 215.3h0M730.4 243.7h0M612.1 261.1h0M617.1 215.5h0M703.4 163.2h0M664.8 149.5h0M605.4 181.5h0M725.7 183.1h0M606.5 155.1h0M674.7 172.8h0M673.7 219.9h0M706.9 181.2h0M679.2 189.3h0M604.5 234.7h0M727.8 192.0h0M678.3 222.2h0M721.8 176.2h0M608.4 227.6h0M626.2 247.3h0M704.2 261.7h0M667.5 168.9h0M723.0 158.0h0M612.8 167.8h0M624.0 259.8h0M635.2 185.0h0M711.6 150.6h0M730.1 196.9h0M718.9 168.5h0M665.0 189.8h0M717.8 186.1h0M724.9 195.0h0M613.0 174.8h0M641.0 187.1h0M776.1 248.7h0M718.5 206.3h0M718.5 146.6h0M692.3 195.9h0M628.2 164.3h0M615.1 151.5h0M616.5 223.1h0M609.6 256.9h0M746.7 244.7h0M718.2 209.5h0M619.3 252.7h0M690.1 172.9h0M714.3 185.2h0M640.9 230.7h0M723.2 187.3h0M620.4 197.7h0M717.3 199.7h0M726.5 150.4h0M653.7 189.6h0M722.3 178.2h0M660.5 196.8h0M650.7 196.0h0M791.4 233.9h0M704.2 150.2h0M611.2 242.4h0M637.9 222.5h0M696.2 199.6h0M708.8 183.1h0M606.0 157.6h0M687.4 189.4h0M621.4 212.2h0M722.5 159.6h0M652.1 188.9h0M689.3 167.0h0M638.3 181.3h0M714.0 152.3h0M672.6 230.4h0M730.8 224.1h0M713.0 170.6h0M733.7 148.0h0M678.8 181.4h0M702.4 245.5h0M731.6 184.6h0M715.1 169.9h0M613.1 208.9h0M613.8 184.5h0M731.1 157.7h0M719.6 192.9h0M678.5 192.4h0M656.2 227.1h0M659.7 186.8h0M717.3 206.0h0M617.5 183.1h0M679.0 230.5h0M734.8 201.8h0M731.2 166.9h0M725.1 175.7h0M732.7 193.7h0M710.9 161.1h0M717.9 152.8h0M618.2 216.8h0M633.5 180.9h0M651.1 221.5h0M618.1 223.3h0M654.4 221.3h0M639.6 224.0h0M653.7 262.6h0M707.4 203.6h0M715.9 173.7h0M725.0 161.5h0M633.2 210.5h0M696.2 165.2h0M746.0 237.5h0M792.5 248.4h0M672.3 180.4h0M628.3 255.8h0M711.9 181.7h0M781.6 252.2h0M720.2 199.2h0M674.7 193.4h0M656.9 225.0h0M729.9 194.4h0M702.1 183.5h0M788.7 262.9h0M604.9 192.5h0M620.4 211.5h0M657.9 184.9h0M723.7 174.1h0M726.2 217.3h0M624.7 179.1h0M708.2 178.7h0M612.0 176.0h0M649.5 203.8h0M625.6 258.3h0M772.6 262.9h0M704.2 172.1h0M607.4 264.0h0M652.6 254.9h0M630.6 193.5h0M675.1 157.9h0" stroke="#f68a3c" stroke-width="0.60" stroke-opacity="0.74"/>
<path d="M755.5 198.4h0M767.1 188.8h0M788.9 194.9h0M771.9 184.5h0M770.4 172.1h0M747.2 182.8h0M758.5 190.7h0M749.9 201.3h0M761.6 183.9h0M744.2 154.5h0M776.7 179.7h0M773.5 202.7h0M742.4 221.1h0M769.2 216.2h0M766.5 191.5h0M741.7 172.2h0M772.2 179.4h0M762.1 213.2h0M772.1 190.8h0M788.4 213.0h0M797.1 189.3h0M738.6 175.7h0M784.4 181.2h0M785.6 196.9h0M775.2 169.8h0M761.8 201.7h0M779.4 206.8h0M777.6 209.4h0M746.2 179.9h0M792.1 202.3h0M793.3 188.7h0M792.7 189.4h0M784.5 176.0h0M747.6 178.6h0M774.0 214.5h0M777.1 197.8h0M764.9 179.8h0M786.0 177.7h0M775.8 175.8h0M776.1 195.6h0M774.7 209.9h0M754.0 191.9h0M767.5 171.2h0M783.2 195.8h0M778.0 212.5h0M762.6 195.9h0M742.4 175.2h0M772.4 163.6h0M779.0 187.0h0M788.1 201.2h0M782.3 215.0h0M764.6 198.1h0M754.0 202.7h0M791.8 205.1h0M770.3 184.8h0M765.4 184.8h0M752.9 207.1h0M757.2 200.4h0M751.3 220.9h0M741.1 175.8h0M797.8 195.8h0M791.4 177.7h0M770.4 218.4h0M736.4 183.1h0M765.0 170.2h0M757.6 192.0h0M787.3 172.7h0M786.3 192.2h0M767.7 162.0h0M780.7 177.7h0M739.0 218.0h0M775.5 178.3h0M764.9 205.1h0M766.0 173.6h0M797.2 179.3h0M762.8 192.1h0M761.4 207.4h0M757.0 201.0h0M787.0 206.0h0M748.1 191.8h0M760.8 204.0h0M752.6 181.5h0M742.5 204.0h0M791.5 189.2h0M753.2 212.3h0M758.6 172.7h0M747.3 181.2h0M771.1 184.6h0M747.4 186.6h0M776.0 186.1h0M779.6 200.7h0M790.2 213.2h0M762.2 193.2h0M747.3 188.3h0M798.2 213.5h0M761.2 187.6h0M784.8 178.9h0M773.9 182.0h0M767.6 204.7h0M778.5 177.9h0M777.4 210.5h0M797.5 189.6h0M765.9 159.8h0M784.1 218.7h0M785.7 184.7h0M772.5 211.4h0M770.5 164.9h0M792.8 185.5h0M782.0 203.4h0M783.6 200.9h0" stroke="#33ba9c" stroke-width="4.40" stroke-opacity="0.8"/>
<path d="M764.8 152.6h0M773.9 197.5h0M750.0 169.4h0M756.0 164.6h0M768.5 197.1h0M744.5 172.2h0M766.8 195.0h0M735.3 173.1h0M756.2 199.5h0M799.2 180.3h0M768.4 152.8h0M784.7 177.8h0M799.2 164.0h0M754.1 145.8h0M743.3 202.9h0M762.3 190.2h0M753.0 189.2h0M767.5 149.0h0M736.0 207.8h0M759.5 158.9h0M735.7 218.2h0M792.8 196.6h0M788.1 191.2h0M736.8 169.3h0M750.0 188.6h0M743.2 146.2h0M773.8 185.7h0M799.8 178.0h0M768.3 162.9h0M758.8 178.9h0M754.3 159.5h0M779.2 150.8h0M772.6 179.3h0M757.0 163.5h0M754.0 149.6h0M749.1 198.4h0M775.6 168.5h0M748.7 202.0h0M777.4 176.6h0M773.4 184.9h0M754.7 212.2h0M739.6 173.6h0M775.8 185.7h0M764.5 166.1h0M754.2 185.8h0M785.0 205.8h0M785.6 195.2h0M773.9 180.3h0M737.2 189.9h0M735.1 209.7h0M766.8 184.2h0M762.0 159.4h0M758.1 211.9h0M796.5 195.5h0M753.5 172.2h0M744.2 208.0h0M772.7 203.6h0M786.4 181.0h0M768.5 185.9h0M746.9 161.0h0M776.7 169.8h0M745.5 158.6h0M770.2 146.3h0M737.2 172.2h0M784.7 168.2h0M768.6 176.0h0M766.0 196.4h0M746.9 191.3h0M758.8 152.2h0M794.9 183.5h0M782.5 188.7h0M787.4 156.8h0M756.8 187.3h0M742.0 198.3h0M777.5 180.3h0M743.1 208.5h0M735.5 182.9h0M745.0 184.4h0M741.9 163.4h0M781.1 164.6h0M736.2 173.9h0M780.9 152.5h0M778.9 207.0h0M754.4 193.8h0M764.2 166.8h0M760.6 181.5h0M797.7 182.2h0M769.9 160.1h0M771.7 204.2h0M770.3 183.8h0M743.2 178.0h0M753.0 154.7h0M778.4 175.3h0M790.9 176.6h0M746.4 175.6h0M760.1 160.7h0M789.9 199.2h0M778.6 162.7h0M762.0 167.8h0M755.1 170.0h0M743.5 192.8h0M750.7 173.4h0M742.5 203.8h0M754.9 187.9h0M794.7 153.9h0M780.8 181.4h0M799.4 151.5h0M793.6 155.3h0M799.7 170.7h0M749.9 190.4h0M754.6 154.1h0M774.5 204.2h0M738.8 177.4h0M771.9 177.8h0M762.4 176.2h0M747.5 212.1h0M742.5 188.3h0M748.8 195.4h0M759.1 193.9h0M783.2 218.2h0M795.7 221.4h0M764.6 175.5h0M751.0 157.1h0M741.7 166.3h0M742.5 166.1h0M781.0 164.5h0M776.3 176.7h0M786.4 181.3h0M775.8 177.8h0M756.0 193.5h0M744.4 179.3h0M737.5 161.4h0M747.1 169.8h0M775.9 162.6h0M769.1 188.2h0M776.8 207.5h0M780.1 189.9h0M770.4 182.9h0M747.8 148.7h0M739.4 219.6h0M768.3 151.6h0M764.3 183.5h0M755.1 150.7h0M775.8 216.6h0M752.0 173.4h0M755.5 152.9h0M782.3 151.5h0M786.7 178.5h0M767.3 177.2h0M751.8 205.0h0M737.7 169.5h0M748.6 169.6h0M763.4 176.9h0M775.2 184.6h0M773.7 179.5h0M759.7 152.7h0M780.7 172.6h0M788.9 184.7h0M788.2 179.3h0M743.0 191.9h0M774.4 168.5h0M756.4 152.9h0M767.3 168.6h0M758.2 184.9h0M748.5 157.4h0M793.8 161.7h0M771.3 190.2h0M787.2 186.6h0M776.8 180.9h0M769.1 187.0h0M767.8 180.0h0M736.9 188.4h0M780.7 176.6h0M788.3 155.8h0M777.6 164.7h0M755.1 201.6h0M774.5 177.2h0M768.9 159.8h0M738.7 207.6h0M787.1 152.8h0M735.1 151.3h0M762.0 195.5h0M776.8 214.6h0M757.9 153.7h0M736.4 208.1h0M789.1 183.9h0M756.1 159.3h0M776.3 145.6h0M763.7 170.9h0M736.4 160.9h0M748.4 169.7h0M752.0 145.1h0M782.3 175.2h0M735.5 186.6h0M759.5 159.1h0M769.2 155.8h0M769.1 213.2h0M770.5 198.2h0M761.4 177.5h0M770.7 196.2h0M770.3 184.7h0M795.3 156.9h0M780.2 162.2h0M775.3 164.2h0M767.9 169.7h0M751.3 181.4h0M761.1 164.6h0M794.7 180.4h0M773.3 159.6h0M763.4 184.4h0M768.2 179.5h0M759.4 183.7h0M752.9 186.1h0M742.7 161.2h0M746.7 162.8h0M771.3 145.9h0M782.5 179.3h0M774.4 181.4h0M791.3 174.6h0M780.4 145.6h0" stroke="#33ba9c" stroke-width="1.20" stroke-opacity="0.8"/>
<path d="M663.3 217.0h0M761.6 237.0h0M635.4 236.6h0M626.3 235.2h0M784.3 236.7h0M660.2 207.3h0M686.4 220.9h0M655.1 202.0h0M682.0 219.1h0M678.2 171.4h0M697.7 230.5h0M620.2 258.6h0M707.8 244.3h0M662.4 246.3h0M655.9 258.6h0M721.5 213.7h0M761.5 228.4h0M638.2 192.7h0M618.4 237.4h0M605.6 251.4h0M737.2 225.8h0M632.5 191.6h0M604.4 235.0h0M621.2 202.2h0M692.0 240.0h0M730.8 194.1h0M657.4 194.5h0M677.5 235.0h0M705.1 263.2h0M727.2 232.7h0M731.6 165.7h0M654.6 244.2h0M642.5 215.5h0M765.1 237.2h0M615.1 183.4h0M692.5 178.0h0M626.8 228.5h0M693.3 225.3h0M722.2 234.1h0M705.8 170.3h0M629.1 167.8h0M726.5 160.0h0M721.9 232.4h0M672.8 218.2h0M605.2 232.2h0M698.2 231.2h0M655.1 217.0h0M645.3 176.4h0M730.7 152.1h0M628.9 200.2h0M730.5 194.0h0M728.0 263.2h0M689.6 207.8h0M721.5 200.0h0M638.0 216.5h0M729.1 263.1h0M647.5 239.5h0M656.7 244.9h0M640.5 212.5h0M741.3 242.4h0M623.8 218.6h0M717.4 251.0h0M723.5 231.1h0M729.9 195.9h0M658.9 207.2h0M718.1 184.8h0M684.6 218.7h0M698.6 184.9h0M749.8 262.0h0M792.2 229.4h0M772.9 222.9h0M651.1 224.0h0M630.8 216.7h0M698.3 256.9h0M718.4 177.6h0M634.6 231.8h0M731.9 163.3h0M711.6 181.0h0M735.3 254.5h0M693.1 193.5h0M768.8 246.3h0M670.6 182.8h0M753.7 248.3h0M669.4 195.7h0M611.2 176.0h0M740.6 240.3h0M605.3 230.6h0M732.1 181.8h0M643.9 242.8h0M730.3 221.7h0M732.8 201.7h0M668.6 229.6h0M628.8 182.4h0M609.6 215.1h0M646.2 194.5h0M654.3 236.2h0M709.4 248.5h0M718.9 200.0h0M733.4 177.5h0M720.8 161.2h0M639.4 229.8h0M624.0 207.0h0M645.5 224.5h0M751.1 244.0h0M653.8 214.9h0M639.0 242.9h0" stroke="#f68a3c" stroke-width="1.60" stroke-opacity="0.74"/>
<path d="M756.1 155.0h0M769.8 164.9h0M735.8 183.4h0M753.3 184.3h0M762.4 181.1h0M742.8 195.4h0M792.9 149.7h0M758.9 170.7h0M745.2 174.0h0M736.1 178.6h0M760.1 188.5h0M759.9 182.8h0M786.5 160.0h0M794.8 187.3h0M774.2 176.7h0M769.4 171.6h0M740.9 171.6h0M771.2 168.0h0M791.5 188.6h0M781.3 163.7h0M758.7 214.9h0M772.4 186.7h0M779.9 171.3h0M794.2 149.1h0M790.2 169.3h0M788.6 166.5h0M764.7 196.0h0M788.6 198.4h0M750.9 176.7h0M786.8 169.7h0M777.4 182.8h0M765.2 180.6h0M784.8 171.4h0M792.0 183.7h0M741.4 217.3h0M773.5 189.4h0M754.9 166.8h0M748.9 160.8h0M752.9 157.0h0M788.4 171.7h0M796.0 168.8h0M782.3 181.3h0M785.9 180.6h0M735.4 160.9h0M788.4 216.0h0M756.2 167.4h0M758.4 177.2h0M768.4 173.4h0M775.0 204.4h0M769.8 176.2h0M757.6 174.0h0M778.2 157.5h0M772.2 186.5h0M763.7 198.5h0M772.3 191.3h0M790.0 160.2h0M780.9 154.6h0M774.6 161.2h0M780.8 175.2h0M759.9 156.2h0M778.9 185.8h0M776.1 175.9h0M751.5 151.9h0M756.7 170.4h0M779.5 182.3h0M753.8 186.2h0M779.9 167.7h0M755.3 179.9h0M765.9 182.9h0M786.3 195.3h0M757.4 180.0h0M771.6 167.7h0M755.6 205.5h0M795.6 194.4h0M788.6 171.2h0M752.8 151.7h0M739.7 160.8h0M796.0 146.3h0M775.5 148.0h0M745.1 159.1h0M762.8 158.0h0M750.6 214.2h0M791.4 219.0h0M789.8 179.1h0M785.5 193.0h0M749.9 155.5h0M742.5 164.4h0M765.5 180.4h0M782.4 170.0h0M752.5 184.6h0M736.0 212.4h0M757.0 188.6h0M779.3 169.8h0M741.6 169.7h0M773.5 196.8h0M786.6 162.6h0M773.6 206.2h0M795.7 189.0h0M788.1 167.8h0M783.8 152.2h0M748.5 167.1h0M792.7 177.9h0M766.3 182.3h0M775.9 219.1h0" stroke="#33ba9c" stroke-width="0.90" stroke-opacity="0.8"/>
<path d="M571.9 289.5h0M584.4 155.8h0M533.0 334.4h0M546.5 250.4h0M547.6 208.6h0M564.2 150.6h0M498.8 313.7h0M560.7 193.4h0M551.8 163.8h0M561.3 245.1h0M578.6 175.5h0M733.4 311.6h0M557.4 256.4h0M577.2 241.0h0M601.7 249.8h0M570.4 263.9h0M570.1 209.4h0M547.4 209.1h0M475.9 302.5h0M541.1 151.3h0M566.5 224.9h0M511.2 305.3h0M580.0 338.0h0M592.5 364.2h0M616.4 353.1h0M587.6 214.4h0M536.8 238.7h0M541.7 189.8h0M586.8 239.0h0M584.3 210.6h0M720.5 268.1h0M521.3 234.2h0M529.4 189.6h0M602.1 367.0h0M700.6 295.0h0M541.9 177.0h0M570.4 240.0h0M535.7 348.3h0M586.1 239.2h0M581.7 319.7h0M560.4 239.3h0M522.2 302.4h0M569.3 218.6h0M591.0 209.6h0M610.0 324.3h0M525.5 244.4h0M603.0 161.8h0M573.6 186.7h0M537.4 236.1h0M560.6 201.7h0M568.3 275.3h0M599.4 243.4h0M559.3 224.8h0M521.6 155.6h0M594.5 217.8h0M568.7 242.1h0M567.5 253.8h0M573.2 293.9h0M567.1 228.8h0M576.2 162.5h0M557.1 239.0h0M732.2 323.4h0M514.4 183.3h0M540.2 263.5h0M581.8 237.9h0M567.8 244.5h0M583.1 228.7h0M527.3 212.1h0M494.3 259.3h0M597.4 266.1h0M641.0 276.7h0M568.9 217.4h0M535.5 218.3h0M581.5 181.1h0M441.5 319.6h0M678.2 318.1h0M557.1 189.5h0M678.1 309.1h0M604.4 304.3h0M638.4 314.9h0M771.4 318.2h0M548.4 313.4h0M581.1 278.8h0M648.5 323.4h0M535.3 164.1h0M537.6 210.4h0M566.7 207.9h0M799.0 273.2h0M528.1 222.3h0M587.2 243.1h0M486.7 270.9h0M515.3 184.1h0M592.0 182.9h0M563.1 235.2h0M579.6 335.5h0M783.8 304.7h0M584.5 235.2h0M549.5 249.8h0M581.0 252.8h0M705.2 329.6h0M560.3 244.9h0M448.0 288.5h0M661.8 298.0h0M714.1 289.6h0M580.1 303.5h0M549.3 274.8h0M557.6 176.7h0M506.4 268.6h0M548.0 258.5h0M578.4 253.8h0M555.1 196.0h0M598.5 276.7h0M494.1 264.0h0M739.8 320.1h0M592.2 227.1h0M600.9 224.1h0M591.7 322.3h0M600.6 267.9h0M571.3 234.1h0M601.7 249.1h0M580.1 362.3h0M582.3 172.9h0M519.7 173.8h0M639.6 292.2h0M571.9 215.2h0M661.8 318.6h0M563.3 166.1h0M565.8 205.7h0M571.3 228.0h0M579.7 263.8h0M758.0 356.3h0M518.5 236.4h0M743.6 290.3h0M747.3 327.9h0M578.7 217.3h0M576.7 258.8h0M710.3 282.8h0M494.6 213.4h0M763.7 301.5h0M692.9 345.4h0M703.4 311.3h0M565.6 187.4h0M569.6 165.1h0M579.1 193.2h0M515.2 207.4h0M573.0 187.8h0M516.1 217.1h0M580.8 192.7h0M560.5 164.9h0M523.5 216.1h0M565.1 233.7h0M573.8 246.7h0M673.8 339.7h0M476.7 314.9h0M592.4 306.3h0M543.3 306.5h0M546.2 255.6h0M549.0 206.8h0M549.0 280.3h0M750.0 355.7h0M591.7 221.0h0M536.2 145.0h0M559.9 332.5h0M562.0 233.9h0M636.6 276.8h0M552.6 219.8h0M634.8 348.7h0M743.6 311.5h0M763.8 291.7h0M710.0 271.2h0M560.6 198.5h0M598.5 179.9h0M545.4 227.9h0M581.5 182.8h0M577.3 210.6h0M585.3 234.7h0M515.4 277.5h0M575.1 299.3h0M612.6 282.8h0M583.1 198.8h0M499.4 169.3h0M579.5 234.3h0M585.3 207.6h0M552.2 184.0h0M528.6 252.2h0M589.2 244.6h0M728.0 283.1h0M636.4 352.1h0M552.7 271.6h0M597.5 204.0h0M594.5 270.3h0M539.4 215.6h0M533.9 226.9h0M532.7 200.6h0M546.4 260.6h0M629.9 300.9h0M559.2 243.0h0M530.8 232.0h0M534.7 242.8h0M568.9 198.1h0M556.9 262.1h0M450.7 215.5h0M553.5 242.2h0M575.6 247.4h0M570.9 208.8h0M488.8 305.6h0M542.9 259.5h0M542.4 180.2h0M734.3 271.3h0M556.3 171.0h0M602.8 247.6h0M516.1 209.2h0M517.4 217.8h0M582.3 209.9h0M564.1 221.5h0M681.8 311.6h0M571.6 258.6h0M561.2 214.3h0M490.9 206.4h0M593.6 184.6h0" stroke="#e9594e" stroke-width="0.60" stroke-opacity="0.68"/>
<path d="M660.1 254.2h0M690.4 208.2h0M665.1 241.0h0M658.7 229.7h0M685.1 210.1h0M675.8 226.9h0M633.9 259.6h0M606.5 238.0h0M654.6 220.8h0M686.6 230.3h0M638.7 222.6h0M707.2 222.6h0M706.8 221.4h0M647.9 261.6h0M693.2 223.3h0M646.5 233.4h0M659.2 230.9h0M672.9 222.8h0M667.9 229.2h0M689.0 243.7h0M639.0 234.7h0M672.7 224.1h0M650.2 230.1h0M642.9 230.2h0M663.2 229.8h0M647.1 231.5h0" stroke="#f68a3c" stroke-width="6.80" stroke-opacity="0.74"/>
<path d="M552.4 207.3h0M710.9 325.5h0M593.4 232.7h0M514.8 209.5h0M767.6 295.1h0M538.5 179.8h0M598.0 229.9h0M595.3 206.8h0M529.6 195.7h0M728.2 333.4h0M579.7 291.9h0M577.7 258.8h0M601.4 182.0h0M516.2 289.3h0M739.5 301.5h0M722.2 307.7h0M580.9 203.4h0M488.8 309.3h0M551.3 323.5h0M735.0 279.6h0M577.9 215.6h0M547.1 151.9h0M595.4 263.1h0M601.6 223.5h0M580.5 194.4h0M532.1 231.8h0M583.7 241.1h0M556.7 271.9h0M581.0 198.8h0M591.2 237.4h0M578.2 243.3h0M665.2 291.3h0M594.0 223.9h0M563.5 195.1h0M591.7 231.4h0M565.1 257.6h0M540.9 235.0h0M742.1 296.3h0M562.5 270.4h0M562.7 246.1h0M546.6 199.0h0M566.3 235.5h0M757.6 292.7h0M557.7 251.2h0M583.9 182.5h0M474.4 276.4h0M584.9 223.3h0M576.9 228.3h0M538.0 177.0h0M597.2 240.6h0M575.9 228.4h0M704.6 266.3h0M483.5 287.4h0M565.0 226.7h0M585.4 236.6h0M572.9 251.7h0M538.7 336.0h0M588.5 191.3h0M680.5 326.1h0M707.9 330.1h0M548.0 265.9h0M629.3 355.9h0M586.2 220.1h0M589.7 240.3h0M677.8 295.4h0M706.2 277.6h0" stroke="#e9594e" stroke-width="1.20" stroke-opacity="0.68"/>
<path d="M765.9 169.3h0M779.7 167.2h0M783.2 184.0h0M794.5 178.3h0M782.4 174.9h0M770.9 164.0h0M777.0 176.5h0M739.6 166.6h0M741.6 213.5h0M789.3 181.9h0M770.3 149.9h0M770.6 167.2h0M768.8 169.5h0M766.6 167.9h0M759.8 169.8h0M788.8 164.5h0M793.1 186.4h0M783.8 146.7h0M782.5 182.0h0M759.5 178.6h0M746.4 148.4h0M744.2 212.4h0M769.0 171.8h0M748.5 172.4h0M758.3 153.1h0M751.2 192.6h0M744.9 203.3h0M749.1 204.1h0M766.0 184.1h0M756.9 167.1h0M793.0 218.8h0M797.6 176.8h0M777.4 172.5h0M761.8 182.0h0M764.9 207.8h0M772.9 172.5h0M771.8 169.4h0M736.7 182.8h0M754.4 177.2h0M783.0 164.2h0M745.9 206.7h0M740.1 219.8h0M774.6 167.5h0M791.0 173.6h0M790.4 185.5h0M746.1 171.9h0M770.7 165.5h0M736.8 197.0h0M796.7 159.6h0M737.1 185.3h0M777.4 216.3h0M765.0 147.9h0M736.2 206.7h0M741.1 175.7h0M748.4 180.5h0M791.7 200.3h0M778.9 179.9h0M788.8 161.1h0M771.5 199.3h0M743.8 158.6h0M782.3 192.8h0M773.8 207.7h0M764.8 195.0h0M769.5 195.0h0M788.4 165.4h0M775.7 145.8h0M741.0 169.4h0M765.8 185.0h0M774.0 203.2h0M792.3 212.9h0M798.8 182.2h0M760.1 219.4h0M767.7 170.6h0M792.6 197.4h0M736.9 175.3h0M764.8 180.9h0M742.5 154.2h0M764.3 192.9h0M776.8 166.0h0M761.1 191.3h0M760.1 170.2h0M766.0 188.8h0M751.7 162.0h0M769.1 163.3h0M748.0 154.7h0M766.3 185.1h0M765.1 158.4h0M735.3 160.5h0M752.6 170.6h0M768.9 189.3h0M783.7 198.2h0M790.2 180.1h0M756.3 184.6h0M765.1 171.8h0M784.2 168.7h0M750.5 160.7h0M756.6 184.5h0M786.1 167.6h0M784.7 182.9h0M776.2 195.2h0M791.1 189.1h0M745.0 206.5h0M746.3 201.6h0M764.7 167.3h0M778.4 179.4h0M786.3 165.4h0M773.7 157.2h0M778.3 163.8h0M751.2 176.7h0M753.4 162.7h0M767.8 152.8h0M742.3 148.0h0M737.8 200.3h0M774.7 221.3h0M784.6 199.0h0M795.0 171.3h0M739.8 165.7h0M776.2 198.1h0M768.4 178.3h0M752.8 176.4h0M737.1 185.9h0M749.6 198.9h0M752.6 217.0h0M747.0 164.4h0M781.9 167.6h0M777.5 209.7h0M757.1 177.6h0M763.4 190.5h0M780.0 196.2h0M736.3 187.7h0M792.1 162.4h0M766.3 170.6h0M781.2 203.7h0M765.5 183.4h0M777.5 172.3h0M735.4 194.8h0M787.4 168.8h0M794.5 153.2h0M775.5 183.0h0M780.5 220.9h0M755.2 174.3h0M790.3 166.3h0M787.6 189.0h0M795.2 154.2h0M751.8 167.7h0M754.8 185.7h0M770.0 179.7h0M755.3 163.2h0M772.6 159.4h0M778.7 202.3h0M784.9 169.0h0M755.6 159.5h0M746.4 154.6h0M742.1 189.3h0M747.1 205.4h0M759.4 186.4h0M799.4 148.8h0M756.6 167.2h0M776.8 187.3h0M764.2 208.1h0M777.2 208.8h0M763.0 180.9h0M766.3 205.0h0M760.0 193.4h0M755.2 170.4h0M756.6 173.9h0M756.7 187.5h0M780.9 154.7h0M781.1 180.5h0M772.1 196.8h0M774.7 192.8h0M745.9 157.8h0M782.3 189.0h0M791.8 167.5h0M735.6 191.1h0M743.0 196.6h0M777.7 178.9h0M750.0 163.9h0M751.5 160.9h0M772.1 151.7h0M767.4 199.4h0M762.5 193.3h0M795.8 165.6h0M752.9 174.9h0M757.3 175.9h0M785.8 185.5h0M759.9 173.2h0M738.7 184.4h0M740.5 159.6h0M763.1 155.2h0M756.3 151.2h0M777.6 167.3h0M776.5 160.2h0M766.6 155.6h0M747.7 189.5h0M767.2 168.6h0M777.4 211.7h0M797.2 204.9h0M742.0 165.1h0M746.5 176.9h0M782.3 182.8h0M771.0 161.1h0M759.0 162.6h0M799.4 155.3h0M774.0 172.1h0M735.9 169.6h0M769.5 172.6h0M786.1 156.6h0M783.0 152.6h0M766.3 145.5h0M746.3 172.8h0M790.7 150.1h0M758.1 173.2h0M778.9 155.7h0M757.7 163.0h0M765.1 164.1h0M753.5 155.2h0M754.8 181.0h0M799.2 176.9h0M742.0 177.9h0" stroke="#33ba9c" stroke-width="1.20" stroke-opacity="0.8"/>
<path d="M656.8 267.3h0M560.8 212.8h0M586.5 245.4h0M585.9 195.5h0M591.6 210.8h0M540.8 254.9h0M576.1 268.7h0M544.0 302.3h0M581.1 176.5h0M576.2 211.3h0M472.5 222.8h0M660.3 271.6h0M553.6 244.5h0M569.9 236.2h0M586.8 211.9h0M499.2 276.9h0M627.5 274.2h0M638.9 272.0h0M557.9 228.0h0M612.9 321.0h0M536.7 201.9h0M575.8 280.2h0M594.7 238.4h0M735.5 303.4h0M543.2 279.0h0M585.8 159.7h0M550.8 171.6h0M585.1 177.2h0M577.7 209.3h0M545.8 157.5h0M579.0 201.1h0M585.4 241.3h0M679.0 278.1h0M495.3 324.6h0M578.4 216.7h0M469.8 281.8h0M511.1 251.1h0M704.1 288.8h0M606.9 305.5h0M581.3 249.1h0M576.1 275.2h0M617.8 282.0h0M751.4 276.0h0M550.1 248.8h0M573.2 263.2h0M568.4 220.1h0M783.6 274.0h0M575.1 213.4h0M580.6 211.3h0M569.1 160.0h0M556.6 235.9h0M735.3 275.2h0M719.3 337.6h0M502.5 258.8h0M497.7 340.8h0M666.7 355.2h0M572.1 182.4h0M706.5 297.5h0M555.4 190.0h0M602.6 260.7h0M589.3 216.0h0M596.9 232.9h0M579.6 209.9h0M590.4 175.0h0M624.3 330.3h0M572.3 208.8h0M715.2 283.9h0M592.5 228.3h0M629.2 319.3h0M557.7 247.3h0M559.0 242.6h0M593.7 245.4h0M533.6 233.3h0M535.2 255.7h0M487.6 216.3h0M600.8 329.8h0M564.6 273.0h0M497.6 148.5h0M556.0 262.0h0M598.4 168.1h0M570.1 252.0h0M613.9 288.6h0M541.6 242.6h0M563.3 248.3h0M577.4 260.9h0M535.9 227.8h0M564.3 307.8h0M566.2 248.3h0M595.2 221.8h0M457.5 288.8h0M573.9 198.0h0M492.9 164.0h0M559.8 279.3h0M564.7 210.0h0M470.4 312.9h0M643.5 310.1h0M598.0 232.8h0M588.2 223.6h0M579.7 217.7h0M559.7 314.4h0M553.8 274.2h0M687.4 291.4h0M592.7 279.1h0M596.8 238.3h0M605.3 296.7h0M639.1 292.4h0M597.9 282.8h0M601.2 229.6h0M586.2 159.0h0M681.8 312.2h0M558.6 212.9h0M550.0 191.5h0M551.9 371.1h0M592.6 209.0h0M578.4 238.7h0M612.3 301.1h0M561.1 225.5h0M605.8 278.4h0M516.4 268.2h0M675.0 342.8h0M569.8 250.1h0M599.9 194.6h0M563.9 210.4h0M583.8 256.0h0M549.0 208.8h0M564.7 228.6h0M580.5 198.0h0M564.5 159.0h0M589.8 205.2h0M528.3 168.8h0M568.7 187.4h0M559.7 182.0h0M565.8 209.7h0M555.7 215.6h0M579.7 236.8h0M752.6 285.5h0M479.6 244.0h0M589.8 238.0h0M573.9 193.1h0M537.3 201.3h0M556.8 198.6h0M570.5 269.2h0M711.8 291.0h0M581.3 192.7h0M534.5 208.1h0M525.0 327.3h0M580.4 215.9h0M657.3 313.3h0M588.1 196.9h0M627.7 294.2h0M588.7 287.1h0M467.8 328.8h0M587.5 171.3h0M602.6 232.4h0M568.7 216.2h0M541.0 198.7h0M569.3 232.7h0M560.7 222.8h0M579.3 269.5h0M727.4 291.1h0M533.7 204.6h0M592.4 338.1h0M558.0 262.6h0M474.1 209.1h0M536.6 164.7h0M740.7 281.1h0M459.0 176.8h0M541.5 371.4h0M610.8 317.3h0M517.5 248.8h0M559.4 257.8h0M575.5 368.2h0M492.8 340.4h0M652.2 338.1h0M739.0 271.0h0M629.1 276.4h0M544.6 351.8h0M633.6 369.3h0M562.6 215.4h0M596.2 206.7h0M608.5 292.4h0M687.3 321.1h0M640.8 300.6h0M543.8 159.8h0M726.4 276.9h0M581.4 173.0h0M595.7 269.6h0M565.2 269.5h0M579.2 243.7h0M549.3 250.5h0M569.5 262.7h0M591.3 209.4h0M646.5 296.8h0M681.1 273.7h0M585.6 170.6h0M744.7 328.2h0M599.8 230.0h0M566.4 343.8h0M545.6 206.6h0M544.4 191.3h0M582.8 211.9h0M740.0 283.9h0M570.4 301.7h0M559.6 273.1h0M547.1 261.3h0M575.1 265.6h0M558.4 176.0h0M591.8 221.0h0M532.9 245.7h0M441.4 240.8h0M612.3 305.6h0M551.2 166.2h0M599.8 287.6h0M543.3 354.2h0M576.9 212.8h0M595.5 217.4h0M681.6 338.0h0M675.9 267.7h0M585.0 179.4h0M593.7 214.5h0" stroke="#e9594e" stroke-width="0.90" stroke-opacity="0.68"/>
</g>
<g clip-path="url(#pc)">
<circle cx="462" cy="233.2" r="7.5" fill="#e9594e" fill-opacity="0.78"/>
<circle cx="541.2" cy="211.2" r="9" fill="#e9594e" fill-opacity="0.78"/>
<circle cx="541" cy="203" r="5" fill="#e9594e" fill-opacity="0.78"/>
<circle cx="472.5" cy="238.8" r="2.8" fill="#e9594e" fill-opacity="0.78"/>
<circle cx="470.5" cy="250" r="3.6" fill="#e9594e" fill-opacity="0.78"/>
<circle cx="491" cy="217.5" r="3.4" fill="#e9594e" fill-opacity="0.78"/>
<circle cx="521" cy="221" r="2.6" fill="#e9594e" fill-opacity="0.78"/>
<circle cx="496" cy="248" r="2.6" fill="#e9594e" fill-opacity="0.78"/>
<circle cx="530" cy="256" r="3.6" fill="#e9594e" fill-opacity="0.78"/>
<circle cx="522" cy="194" r="2.2" fill="#e9594e" fill-opacity="0.78"/>
<circle cx="476" cy="201" r="1.5" fill="#e9594e" fill-opacity="0.78"/>
<circle cx="571" cy="190" r="12" fill="#e9594e" fill-opacity="0.78"/>
<circle cx="487" cy="259" r="2.6" fill="#e9594e" fill-opacity="0.78"/>
<circle cx="446" cy="216" r="1.5" fill="#e9594e" fill-opacity="0.78"/>
<circle cx="477.5" cy="367" r="4" fill="#e9594e" fill-opacity="0.78"/>
<circle cx="489.5" cy="374" r="3.8" fill="#e9594e" fill-opacity="0.78"/>
<circle cx="459" cy="352" r="2.4" fill="#e9594e" fill-opacity="0.78"/>
<circle cx="549" cy="377" r="2" fill="#e9594e" fill-opacity="0.78"/>
<circle cx="624.5" cy="294" r="8.3" fill="#e9594e" fill-opacity="0.78"/>
<circle cx="612" cy="295" r="4" fill="#e9594e" fill-opacity="0.78"/>
<circle cx="652" cy="349" r="3.4" fill="#e9594e" fill-opacity="0.78"/>
<circle cx="697.5" cy="269" r="3" fill="#e9594e" fill-opacity="0.78"/>
<circle cx="715.5" cy="289.5" r="3.4" fill="#e9594e" fill-opacity="0.78"/>
<circle cx="729" cy="301" r="3" fill="#e9594e" fill-opacity="0.78"/>
<circle cx="639" cy="308" r="2.8" fill="#e9594e" fill-opacity="0.78"/>
<circle cx="639" cy="271" r="2.8" fill="#e9594e" fill-opacity="0.78"/>
<circle cx="773.8" cy="347.4" r="4.2" fill="#e9594e" fill-opacity="0.78"/>
<circle cx="720" cy="305" r="2" fill="#e9594e" fill-opacity="0.78"/>
<circle cx="605" cy="275" r="3" fill="#e9594e" fill-opacity="0.78"/>
<circle cx="610" cy="262" r="3" fill="#e9594e" fill-opacity="0.78"/>
<circle cx="563" cy="240" r="3" fill="#e9594e" fill-opacity="0.78"/>
<circle cx="580" cy="232" r="3.5" fill="#e9594e" fill-opacity="0.78"/>
<circle cx="553" cy="228" r="2.5" fill="#e9594e" fill-opacity="0.78"/>
<circle cx="590" cy="250" r="3" fill="#e9594e" fill-opacity="0.78"/>
<circle cx="632.5" cy="260" r="8" fill="#f68a3c" fill-opacity="0.78"/>
<circle cx="656" cy="241" r="10" fill="#f68a3c" fill-opacity="0.78"/>
<circle cx="637.5" cy="239" r="7" fill="#f68a3c" fill-opacity="0.78"/>
<circle cx="700" cy="252.5" r="4.5" fill="#f68a3c" fill-opacity="0.78"/>
<circle cx="761.5" cy="223" r="12.5" fill="#f68a3c" fill-opacity="0.78"/>
<circle cx="732.5" cy="209.5" r="7" fill="#f68a3c" fill-opacity="0.78"/>
<circle cx="695" cy="242.5" r="3.5" fill="#f68a3c" fill-opacity="0.78"/>
<circle cx="681" cy="245" r="4" fill="#f68a3c" fill-opacity="0.78"/>
<circle cx="686" cy="257" r="3.5" fill="#f68a3c" fill-opacity="0.78"/>
<circle cx="669" cy="246" r="5" fill="#f68a3c" fill-opacity="0.78"/>
<circle cx="731" cy="170" r="5" fill="#f68a3c" fill-opacity="0.78"/>
<circle cx="733" cy="196" r="4" fill="#f68a3c" fill-opacity="0.78"/>
<circle cx="722" cy="185" r="9" fill="#f68a3c" fill-opacity="0.78"/>
<circle cx="718" cy="160" r="7" fill="#f68a3c" fill-opacity="0.78"/>
<circle cx="625" cy="225" r="7" fill="#f68a3c" fill-opacity="0.78"/>
<circle cx="648" cy="222" r="8" fill="#f68a3c" fill-opacity="0.78"/>
<circle cx="672" cy="224" r="7" fill="#f68a3c" fill-opacity="0.78"/>
<circle cx="690" cy="220" r="8" fill="#f68a3c" fill-opacity="0.78"/>
<circle cx="708" cy="222" r="6" fill="#f68a3c" fill-opacity="0.78"/>
<circle cx="612" cy="240" r="5" fill="#f68a3c" fill-opacity="0.78"/>
<circle cx="745" cy="240" r="4" fill="#f68a3c" fill-opacity="0.78"/>
<circle cx="770" cy="245" r="3.5" fill="#f68a3c" fill-opacity="0.78"/>
<circle cx="722" cy="235" r="4.5" fill="#f68a3c" fill-opacity="0.78"/>
<circle cx="752" cy="258" r="3" fill="#f68a3c" fill-opacity="0.78"/>
<circle cx="773" cy="193" r="25.5" fill="#2aae91" fill-opacity="0.9"/>
<circle cx="795" cy="180" r="24" fill="#2aae91" fill-opacity="0.9"/>
<circle cx="753" cy="184" r="9" fill="#2aae91" fill-opacity="0.9"/>
<circle cx="741" cy="197" r="4" fill="#2aae91" fill-opacity="0.9"/>
<circle cx="762" cy="166" r="10" fill="#2aae91" fill-opacity="0.9"/>
<circle cx="780" cy="160" r="9" fill="#2aae91" fill-opacity="0.9"/>
<circle cx="748" cy="170" r="5" fill="#2aae91" fill-opacity="0.9"/>
<circle cx="757" cy="200" r="8" fill="#2aae91" fill-opacity="0.9"/>
</g>
<rect x="568.5" y="116.6" width="141.0" height="103.9" rx="8" fill="#000" opacity="0.46" filter="url(#sh)"/>
<rect x="567.5" y="111.6" width="143.0" height="103.9" rx="8" fill="#fff" stroke="#f4a67c" stroke-width="0.900"/>
<path d="M605.6 112.1V215.0M637.3 112.1V215.0M669 112.1V215.0M699.7 112.1V215.0M568.0 144.3H710.0M568.0 175H710.0M568.0 206H710.0" stroke="#ececec" stroke-width="0.600" fill="none"/>
<circle cx="611.75" cy="132.9" r="10" fill="#ff8a3d" fill-opacity="0.820"/>
<circle cx="658.75" cy="132.15" r="13.75" fill="#ff8a3d" fill-opacity="0.820"/>
<circle cx="672.5" cy="122.9" r="6.2" fill="#ff8a3d" fill-opacity="0.820"/>
<circle cx="614.5" cy="156.65" r="8.5" fill="#ff8a3d" fill-opacity="0.820"/>
<circle cx="645.75" cy="160.15" r="16.75" fill="#ff8a3d" fill-opacity="0.820"/>
<circle cx="687.5" cy="159.15" r="8.5" fill="#ff8a3d" fill-opacity="0.820"/>
<circle cx="587.5" cy="181.65" r="12.25" fill="#ff8a3d" fill-opacity="0.820"/>
<circle cx="635.5" cy="178.9" r="11.75" fill="#ff8a3d" fill-opacity="0.820"/>
<circle cx="611.75" cy="192.4" r="6" fill="#ff8a3d" fill-opacity="0.820"/>
<circle cx="686.25" cy="190.4" r="20.5" fill="#ff8a3d" fill-opacity="0.820"/>
<text x="618.5" y="134.95000000000002" font-size="6.300" fill="#454545" stroke="#454545" stroke-width="0.15" text-anchor="middle" transform="rotate(0.04 618.5 132.8)">Hollow</text>
<text x="658" y="134.95000000000002" font-size="6.300" fill="#454545" stroke="#454545" stroke-width="0.15" text-anchor="middle" transform="rotate(0.04 658 132.8)">PMTS</text>
<text x="680" y="124.65" font-size="6.300" fill="#454545" stroke="#454545" stroke-width="0.15" text-anchor="middle" transform="rotate(0.04 680 122.5)">PHP</text>
<text x="606.5" y="157.65" font-size="6.300" fill="#454545" stroke="#454545" stroke-width="0.15" text-anchor="middle" transform="rotate(0.04 606.5 155.5)">Sentry</text>
<text x="645.5" y="161.65" font-size="6.300" fill="#454545" stroke="#454545" stroke-width="0.15" text-anchor="middle" transform="rotate(0.04 645.5 159.5)">CSP</text>
<text x="692" y="160.45000000000002" font-size="6.300" fill="#454545" stroke="#454545" stroke-width="0.15" text-anchor="middle" transform="rotate(0.04 692 158.3)">Roslyn</text>
<text x="586.5" y="183.65" font-size="6.300" fill="#454545" stroke="#454545" stroke-width="0.15" text-anchor="middle" transform="rotate(0.04 586.5 181.5)">PB</text>
<text x="634.5" y="181.15" font-size="6.300" fill="#454545" stroke="#454545" stroke-width="0.15" text-anchor="middle" transform="rotate(0.04 634.5 179)">EC</text>
<text x="619" y="194.65" font-size="6.300" fill="#454545" stroke="#454545" stroke-width="0.15" text-anchor="middle" transform="rotate(0.04 619 192.5)">iep</text>
<text x="686" y="192.45000000000002" font-size="6.300" fill="#454545" stroke="#454545" stroke-width="0.15" text-anchor="middle" transform="rotate(0.04 686 190.3)">CMS</text>
<rect x="462.75" y="267.6" width="140.75" height="103.89999999999998" rx="8" fill="#000" opacity="0.46" filter="url(#sh)"/>
<rect x="461.75" y="262.6" width="142.75" height="103.89999999999998" rx="8" fill="#fff" stroke="#f0a49d" stroke-width="0.900"/>
<path d="M485.7 263.1V366.0M517.4 263.1V366.0M549.5 263.1V366.0M580.8 263.1V366.0M462.25 268.3H604.0M462.25 299H604.0M462.25 329.7H604.0M462.25 361H604.0" stroke="#ececec" stroke-width="0.600" fill="none"/>
<circle cx="494.25" cy="288.4" r="22.5" fill="#ec6a61" fill-opacity="0.820"/>
<circle cx="554.5" cy="284.9" r="12.75" fill="#ec6a61" fill-opacity="0.820"/>
<circle cx="573.25" cy="278.65" r="4.5" fill="#ec6a61" fill-opacity="0.820"/>
<circle cx="585.5" cy="300.9" r="6.3" fill="#ec6a61" fill-opacity="0.820"/>
<circle cx="578.75" cy="305.9" r="6.3" fill="#ec6a61" fill-opacity="0.820"/>
<circle cx="542.5" cy="309.9" r="6.3" fill="#ec6a61" fill-opacity="0.820"/>
<circle cx="531.25" cy="314.4" r="8.5" fill="#ec6a61" fill-opacity="0.820"/>
<circle cx="479.5" cy="327.4" r="6.3" fill="#ec6a61" fill-opacity="0.820"/>
<circle cx="485.75" cy="336.4" r="3.3" fill="#ec6a61" fill-opacity="0.820"/>
<circle cx="513" cy="347.15" r="12" fill="#ec6a61" fill-opacity="0.820"/>
<circle cx="564.5" cy="338.4" r="13" fill="#ec6a61" fill-opacity="0.820"/>
<text x="493" y="291.15" font-size="6.300" fill="#454545" stroke="#454545" stroke-width="0.15" text-anchor="middle" transform="rotate(0.04 493 289)">IMDB</text>
<text x="556.5" y="287.15" font-size="6.300" fill="#454545" stroke="#454545" stroke-width="0.15" text-anchor="middle" transform="rotate(0.04 556.5 285)">Ruby</text>
<text x="587.5" y="280.45" font-size="6.300" fill="#454545" stroke="#454545" stroke-width="0.15" text-anchor="middle" transform="rotate(0.04 587.5 278.3)">Phython</text>
<text x="593.5" y="297.65" font-size="6.300" fill="#454545" stroke="#454545" stroke-width="0.15" text-anchor="middle" transform="rotate(0.04 593.5 295.5)">eDocs</text>
<text x="584.5" y="312.34999999999997" font-size="6.300" fill="#454545" stroke="#454545" stroke-width="0.15" text-anchor="middle" transform="rotate(0.04 584.5 310.2)">Swift</text>
<text x="553.5" y="312.15" font-size="6.300" fill="#454545" stroke="#454545" stroke-width="0.15" text-anchor="middle" transform="rotate(0.04 553.5 310)">Thanos</text>
<text x="524.5" y="319.45" font-size="6.300" fill="#454545" stroke="#454545" stroke-width="0.15" text-anchor="middle" transform="rotate(0.04 524.5 317.3)">COPA</text>
<text x="489.5" y="330.45" font-size="6.300" fill="#454545" stroke="#454545" stroke-width="0.15" text-anchor="middle" transform="rotate(0.04 489.5 328.3)">Groot</text>
<text x="478.5" y="340.65" font-size="6.300" fill="#454545" stroke="#454545" stroke-width="0.15" text-anchor="middle" transform="rotate(0.04 478.5 338.5)">Quill</text>
<text x="513" y="349.34999999999997" font-size="6.300" fill="#454545" stroke="#454545" stroke-width="0.15" text-anchor="middle" transform="rotate(0.04 513 347.2)">Hades</text>
<text x="564.5" y="339.65" font-size="6.300" fill="#454545" stroke="#454545" stroke-width="0.15" text-anchor="middle" transform="rotate(0.04 564.5 337.5)">Fenzo</text>
<rect x="777.5" y="318.2" width="141.5" height="89.60000000000002" rx="8" fill="#000" opacity="0.46" filter="url(#sh)"/>
<rect x="776.5" y="313.2" width="143.5" height="89.60000000000002" rx="8" fill="#fff" stroke="#f0a49d" stroke-width="0.900"/>
<path d="" stroke="#ececec" stroke-width="0.600" fill="none"/>
<circle cx="800" cy="342.4" r="13" fill="#ec6a61" fill-opacity="0.820"/>
<rect x="522" y="104.3" width="75.75" height="26.10000000000001" rx="4.500" fill="#565656"/>
<text x="558.475" y="115.1" font-size="8" fill="#fff" stroke="#fff" stroke-width="0.2" text-anchor="middle" textLength="48.5" lengthAdjust="spacingAndGlyphs" transform="rotate(0.04 559.875 104.3)">Most Ready</text>
<text x="558.475" y="124.9" font-size="8" fill="#fff" stroke="#fff" stroke-width="0.2" text-anchor="middle" textLength="39" lengthAdjust="spacingAndGlyphs" transform="rotate(0.04 559.875 104.3)">for Cloud</text>
<rect x="573" y="354.5" width="68.5" height="26.100000000000023" rx="4.500" fill="#565656"/>
<text x="607.25" y="365.3" font-size="8" fill="#fff" stroke="#fff" stroke-width="0.2" text-anchor="middle" textLength="37.5" lengthAdjust="spacingAndGlyphs" transform="rotate(0.04 607.25 354.5)">Financial</text>
<text x="607.25" y="375.1" font-size="8" fill="#fff" stroke="#fff" stroke-width="0.2" text-anchor="middle" textLength="35.5" lengthAdjust="spacingAndGlyphs" transform="rotate(0.04 607.25 354.5)">Burdens</text>
<text x="669.6" y="396.700" font-size="10" font-weight="700" fill="#555" text-anchor="middle" textLength="75.800" lengthAdjust="spacing" transform="rotate(0.04 669 396)">Software Health</text>
<text transform="translate(425.600,232.500) rotate(-90)" font-size="10.600" font-weight="700" fill="#4a4a4a" text-anchor="middle" textLength="68.500" lengthAdjust="spacingAndGlyphs">Cloud Maturity</text>
</g>
<g>
<text x="25" y="27.99" font-size="9.2" fill="#cfcfcf" textLength="21.3" lengthAdjust="spacingAndGlyphs" transform="rotate(0.04 25 27.99)">CAST</text>
<text x="48.5" y="27.99" font-size="9.2" fill="#cf9a2b" textLength="44.5" lengthAdjust="spacingAndGlyphs" transform="rotate(0.04 48.5 27.99)">HIGHLIGHT</text>
<text x="111" y="27.58" font-size="8.33" fill="#333" font-weight="700" transform="rotate(0.04 111 27.58)">HOME</text>
<text x="152.4" y="27.37" font-size="8.3" fill="#666" textLength="53.8" lengthAdjust="spacingAndGlyphs" transform="rotate(0.04 152.4 27.37)">DASHBOARDS</text>
<text x="238.5" y="27.37" font-size="8.3" fill="#666" textLength="48" lengthAdjust="spacingAndGlyphs" transform="rotate(0.04 238.5 27.37)">EXTENSIONS</text>
<text x="732" y="29.42" font-size="10.66" fill="#fff" fill-opacity="0.93" transform="rotate(0.04 732 29.42)">AI Advisor</text>
<text x="25.75" y="77.79" font-size="7.78" fill="#3a3a3a" font-weight="700" transform="rotate(0.04 25.75 77.79)">Current Technology Mix</text>
<text x="185" y="77.82" font-size="7.88" fill="#3a3a3a" font-weight="700" transform="rotate(0.04 185 77.82)">Top Applications to Refactor for Cloud</text>
<text x="25.75" y="264.83" font-size="7.9" fill="#3a3a3a" font-weight="700" transform="rotate(0.04 25.75 264.83)">Internal Framework Adoption</text>
<text x="185" y="264.76" font-size="7.71" fill="#3a3a3a" font-weight="700" transform="rotate(0.04 185 264.76)">New Critical CVEs this Month</text>
<text x="353" y="79.22" font-size="11.8" fill="#3a3a3a" textLength="98" lengthAdjust="spacing" font-weight="700" transform="rotate(0.04 353 79.22)">632 Applications</text>
<text x="32" y="116.37" font-size="7.6" fill="#333" stroke="#333" stroke-width="0.28" transform="rotate(0.04 32 116.37)">Java</text>
<text x="161" y="116.37" font-size="7.6" fill="#333" text-anchor="end" stroke="#333" stroke-width="0.32" transform="rotate(0.04 161 116.37)">38%</text>
<text x="32" y="141.42" font-size="7.6" fill="#333" stroke="#333" stroke-width="0.28" transform="rotate(0.04 32 141.42)">COBOL</text>
<text x="161" y="141.42" font-size="7.6" fill="#333" text-anchor="end" stroke="#333" stroke-width="0.32" transform="rotate(0.04 161 141.42)">29%</text>
<text x="32" y="166.02" font-size="7.6" fill="#333" stroke="#333" stroke-width="0.28" transform="rotate(0.04 32 166.02)">C#</text>
<text x="161" y="166.02" font-size="7.6" fill="#333" text-anchor="end" stroke="#333" stroke-width="0.32" transform="rotate(0.04 161 166.02)">15%</text>
<text x="32" y="190.97" font-size="7.6" fill="#333" stroke="#333" stroke-width="0.28" transform="rotate(0.04 32 190.97)">C/C++</text>
<text x="161" y="190.97" font-size="7.6" fill="#333" text-anchor="end" stroke="#333" stroke-width="0.32" transform="rotate(0.04 161 190.97)">10%</text>
<text x="32" y="215.82" font-size="7.6" fill="#333" stroke="#333" stroke-width="0.28" transform="rotate(0.04 32 215.82)">Other</text>
<text x="161" y="215.82" font-size="7.6" fill="#333" text-anchor="end" stroke="#333" stroke-width="0.32" transform="rotate(0.04 161 215.82)">8%</text>
<text x="185.5" y="105.36" font-size="7.3" fill="#383838" stroke="#383838" stroke-width="0.12" transform="rotate(0.04 185.5 105.36)">Contract Management System</text>
<text x="185.5" y="129.61" font-size="7.3" fill="#383838" stroke="#383838" stroke-width="0.12" transform="rotate(0.04 185.5 129.61)">Customer Service Portal</text>
<text x="185.5" y="154.11" font-size="7.3" fill="#383838" stroke="#383838" stroke-width="0.12" transform="rotate(0.04 185.5 154.11)">Expense Control</text>
<text x="185.5" y="178.36" font-size="7.3" fill="#383838" stroke="#383838" stroke-width="0.12" transform="rotate(0.04 185.5 178.36)">Partner Billing</text>
<text x="185.5" y="202.86" font-size="7.3" fill="#383838" stroke="#383838" stroke-width="0.12" transform="rotate(0.04 185.5 202.86)">CMS</text>
<text x="185.5" y="227.11" font-size="7.3" fill="#383838" stroke="#383838" stroke-width="0.12" transform="rotate(0.04 185.5 227.11)">Payments</text>
<text x="25.75" y="291.65" font-size="7.4" fill="#333" textLength="43.5" lengthAdjust="spacing" stroke="#333" stroke-width="0.3" transform="rotate(0.04 25.75 291.65)">Components</text>
<text x="161.5" y="291.65" font-size="7.4" fill="#333" textLength="42.5" lengthAdjust="spacing" text-anchor="end" stroke="#333" stroke-width="0.3" transform="rotate(0.04 161.5 291.65)">Applications</text>
<text x="25.75" y="324.9" font-size="7.25" fill="#5a5a5a" transform="rotate(0.04 25.75 324.9)">auth.co</text>
<text x="161.5" y="324.9" font-size="7.25" fill="#5a5a5a" text-anchor="end" transform="rotate(0.04 161.5 324.9)">87</text>
<text x="25.75" y="363.6" font-size="7.25" fill="#5a5a5a" transform="rotate(0.04 25.75 363.6)">KBSearch</text>
<text x="161.5" y="363.6" font-size="7.25" fill="#5a5a5a" text-anchor="end" transform="rotate(0.04 161.5 363.6)">52</text>
<text x="25.75" y="404.3" font-size="7.25" fill="#5a5a5a" transform="rotate(0.04 25.75 404.3)">lcast.sync</text>
<text x="161.5" y="404.3" font-size="7.25" fill="#5a5a5a" text-anchor="end" transform="rotate(0.04 161.5 404.3)">38</text>
<text x="185" y="291.65" font-size="7.4" fill="#333" textLength="43.5" lengthAdjust="spacing" stroke="#333" stroke-width="0.3" transform="rotate(0.04 185 291.65)">Components</text>
<text x="320.5" y="291.65" font-size="7.4" fill="#333" textLength="72" lengthAdjust="spacing" text-anchor="end" stroke="#333" stroke-width="0.3" transform="rotate(0.04 320.5 291.65)">Applications Affected</text>
<text x="185" y="324.9" font-size="7.25" fill="#5a5a5a" transform="rotate(0.04 185 324.9)">log4j</text>
<text x="320.5" y="324.9" font-size="7.25" fill="#5a5a5a" text-anchor="end" transform="rotate(0.04 320.5 324.9)">CMS, CRM, Payments</text>
<text x="185" y="363.6" font-size="7.25" fill="#5a5a5a" transform="rotate(0.04 185 363.6)">qt</text>
<text x="320.5" y="363.6" font-size="7.25" fill="#5a5a5a" text-anchor="end" transform="rotate(0.04 320.5 363.6)">Navaro, Starlink</text>
<text x="185" y="404.3" font-size="7.25" fill="#5a5a5a" transform="rotate(0.04 185 404.3)">elasticsearch</text>
<text x="320.5" y="404.3" font-size="7.25" fill="#5a5a5a" text-anchor="end" transform="rotate(0.04 320.5 404.3)">Partner Portal, LMS</text>
<text x="92.25" y="465.97" font-size="11.08" fill="#fff" text-anchor="middle" font-weight="700" transform="rotate(0.04 92.25 465.97)">Technical Debt</text>
<text x="67.5" y="486.17" font-size="19.18" fill="#fff" font-weight="700" transform="rotate(0.04 67.5 486.17)">5,432</text>
<text x="118.5" y="485.4" font-size="7.27" fill="#fff" fill-opacity="0.85" transform="rotate(0.04 118.5 485.4)">person-days</text>
<text x="92.25" y="514.01" font-size="9.24" fill="#fff" text-anchor="middle" font-weight="700" transform="rotate(0.04 92.25 514.01)">-25 days</text>
<text x="92.25" y="525.76" font-size="7.16" fill="#fff" text-anchor="middle" fill-opacity="0.9" transform="rotate(0.04 92.25 525.76)">MtM Change</text>
<text x="254.1" y="465.99" font-size="11.14" fill="#fff" text-anchor="middle" font-weight="700" transform="rotate(0.04 254.1 465.99)">Cloud Maturity</text>
<text x="235.5" y="486.2" font-size="19.27" fill="#fff" font-weight="700" transform="rotate(0.04 235.5 486.2)">55.6</text>
<text x="276" y="485.21" font-size="6.74" fill="#fff" fill-opacity="0.85" transform="rotate(0.04 276 485.21)">/ 100</text>
<text x="190" y="512.76" font-size="9.66" fill="#fff" font-weight="700" transform="rotate(0.04 190 512.76)">62.5</text>
<text x="190" y="525.61" font-size="7.3" fill="#fff" fill-opacity="0.9" transform="rotate(0.04 190 525.61)">Industry Average</text>
<text x="266.5" y="525.65" font-size="7.4" fill="#fff" fill-opacity="0.9" transform="rotate(0.04 266.5 525.65)">6-mo trend</text>
<text x="411.1" y="465.94" font-size="11.01" fill="#fff" text-anchor="middle" font-weight="700" transform="rotate(0.04 411.1 465.94)">Software Resiliency</text>
<text x="393" y="486.11" font-size="19.01" fill="#fff" font-weight="700" transform="rotate(0.04 393 486.11)">52.6</text>
<text x="433" y="485.38" font-size="7.19" fill="#fff" fill-opacity="0.85" transform="rotate(0.04 433 485.38)">/ 100</text>
<text x="347.5" y="512.76" font-size="9.66" fill="#fff" font-weight="700" transform="rotate(0.04 347.5 512.76)">74.0</text>
<text x="347.5" y="525.61" font-size="7.3" fill="#fff" fill-opacity="0.9" transform="rotate(0.04 347.5 525.61)">Industry Average</text>
<text x="424" y="525.65" font-size="7.4" fill="#fff" fill-opacity="0.9" transform="rotate(0.04 424 525.65)">6-mo trend</text>
<text x="575.4" y="465.89" font-size="10.86" fill="#fff" text-anchor="middle" font-weight="700" transform="rotate(0.04 575.4 465.89)">OSS License Compliance</text>
<text x="552" y="486.2" font-size="19.27" fill="#fff" font-weight="700" transform="rotate(0.04 552 486.2)">84.4</text>
<text x="592" y="485.38" font-size="7.19" fill="#fff" fill-opacity="0.85" transform="rotate(0.04 592 485.38)">/ 100</text>
<text x="509.2" y="512.76" font-size="9.66" fill="#fff" font-weight="700" transform="rotate(0.04 509.2 512.76)">79.6</text>
<text x="509.2" y="525.61" font-size="7.3" fill="#fff" fill-opacity="0.9" transform="rotate(0.04 509.2 525.61)">Industry Average</text>
<text x="586.8" y="512.84" font-size="9.88" fill="#fff" font-weight="700" transform="rotate(0.04 586.8 512.84)">+2.1</text>
<text x="586.2" y="525.61" font-size="7.3" fill="#fff" fill-opacity="0.9" transform="rotate(0.04 586.2 525.61)">Change MtM</text>
<text x="734.5" y="465.91" font-size="10.93" fill="#fff" text-anchor="middle" font-weight="700" transform="rotate(0.04 734.5 465.91)">OSS Component Security</text>
<text x="714.5" y="486.11" font-size="19.01" fill="#fff" font-weight="700" transform="rotate(0.04 714.5 486.11)">85.7</text>
<text x="755" y="485.38" font-size="7.19" fill="#fff" fill-opacity="0.85" transform="rotate(0.04 755 485.38)">/ 100</text>
<text x="669.5" y="512.76" font-size="9.66" fill="#fff" font-weight="700" transform="rotate(0.04 669.5 512.76)">73.1</text>
<text x="669.5" y="525.61" font-size="7.3" fill="#fff" fill-opacity="0.9" transform="rotate(0.04 669.5 525.61)">Industry Average</text>
<text x="746.9" y="512.94" font-size="10.16" fill="#fff" font-weight="700" transform="rotate(0.04 746.9 512.94)">-4.2</text>
<text x="746.3" y="525.61" font-size="7.3" fill="#fff" fill-opacity="0.9" transform="rotate(0.04 746.3 525.61)">Change MtM</text>
</g>
</g>
</g>
</svg>
</body></html>
